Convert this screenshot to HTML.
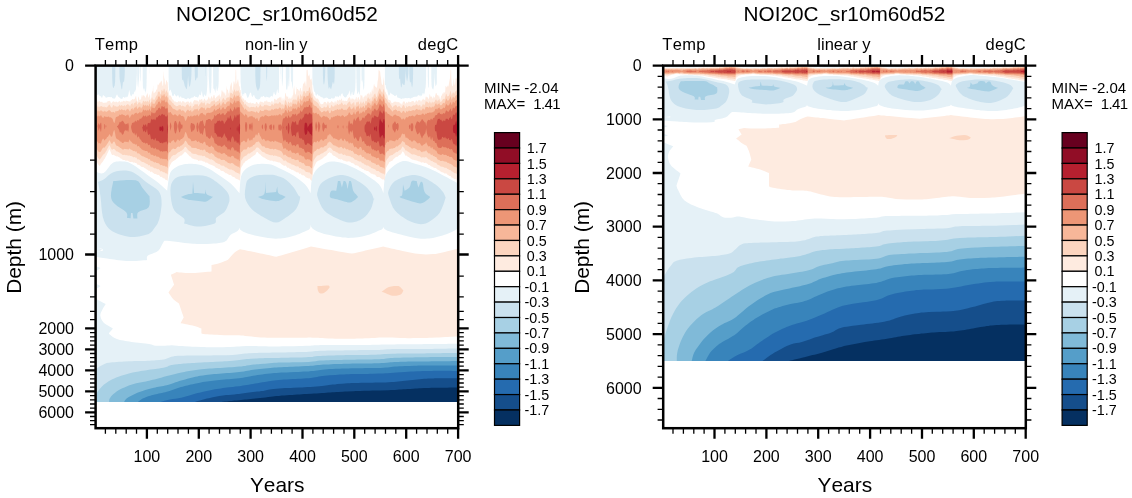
<!DOCTYPE html>
<html><head><meta charset="utf-8"><title>NOI20C_sr10m60d52</title>
<style>html,body{margin:0;padding:0;background:#fff}svg{display:block}text{font-family:"Liberation Sans",sans-serif;fill:#000;font-kerning:none}</style></head><body>
<svg width="1132" height="498" viewBox="0 0 1132 498">
<rect width="1132" height="498" fill="#fff"/>
<defs><clipPath id="cl"><rect x="95.6" y="65.6" width="362.6" height="336.3"/></clipPath><clipPath id="cr"><rect x="663.2" y="65.6" width="362.6" height="295.3"/></clipPath></defs>
<g clip-path="url(#cl)" shape-rendering="geometricPrecision">
<path fill-rule="evenodd" fill="#feebe0" d="M163.6 70l0 1.1 .1 .5 0 1.5 .1 .5 0 1 .1 .5 0 .5 .1 .5 0 1 .3 1.5 .2 .5 .1 .4 0 .6 .1 .5 0 1 .1 .5 0 .5 .1 .5 0 .5 .1 .5 0 .5 .1 .5 0 .3 .1-.3 .4-1 0-.1 .1-.4 .1-.5 0-.5 .3-1.5 0-.3 .2-.2 .2-.5 .1-.1 0 .1 .1 .5 .2 .5 .2 1 .5 .1 0 .4 .1 .5 0 1 .1 .5 0 1 .1 .5 0 1 .1 .5 0 .5 .1 .5 0 .5 .1 .5 0 .5 .4 2 0 .2 .1 .3 .4 2 .4 1 .1 .4 .3-.4 .2-.2 .5 .2 .2 .5 .3 .5 .4 .5 .1 .2 .1 .3 .2 .5 .1 .5 .1 .1 .2 .4 .2 .5 .1 .2 .3-.2 .2-.1 0 .1 .3 .5 .2 .5 .3 .5 .2 .4 .5-.1 .4 .2 .6 0 .5 .4 .3 .1 .2 .1 .5 .2 .5-.3 .1 0 .4-.1 .2-.4 .2-.5 .1-.2 .4 .2 .1 .1 .3 .4 .2 .3 .2-.3 .3-.5 0-.1 .1 .1 .4 .3 .1 .2 .4 1 0 .1 .5 0 0-.1 .3-.5 .2-.4 .1-.1 .4-.5 .5 .1 .5 .2 .5 .1 .1 .1 .2 .5 .2 .4 .1 .1 .4 .5 .3-.5 .2-.2 .5-.3 .5-.4 .5 .1 .4-.2 .1-.1 .5 .1 .5 0 .3 .5 .2 .3 .1 .2 .2 .5 .2 .3 .1-.3 .2-.5 .2-.3 .2-.2 .3-.4 .1-.1 .4-.3 .1 .3 .2 .5 .1 .5 .1 .3 .1 .2 .2 1 .2 .5 .1-.5 .4-1 0-.1 .2-.4 .2-.5 .1-.1 .3-.4 .2-.5 .5-.5 .4-.5 .1-.2 .5 .2 .5 .5 .1 0 .4-.2 .5 .1 .5 0 .3 .1 .2 .1 .3 .4 .2 .3 .2 .2 .3 .5 .1-.5 .2-.5 .1-.5 .1-.3 .1-.2 .2-.5 .2-.4 .2 .4 .2 .5 .1 .2 .2-.2 .3-.4 .1-.1 .3-.5 .1-.2 .5 .5 .3-.3 .2-.3 .1 .3 .2 1 .2 .5 .3 .5 .2 .2 .1-.2 .2-.5 .2-.4 0-.1 .3-.5 .1-.5 .1-.1 .5-.4 .3 .5 .2 .5 .3 .5 .2 .4 .1 .1 .3 .5 .1 .1 .1-.1 .2-.5 .2-.3 .1-.2 .4-1 .4 1 .1 .2 .1-.2 .3-1.5 .1-.4 0-.1 .4-1 .1-.5 .5 .3 0 .2 .2 .5 .1 .5 .2 .4 0 .1 .4 1 .1 .3 .1-.3 .1-.5 .2-.5 .1-.5 0-.1 .3-.4 .2-.4 .1-.1 .4-1 .5 .3 0 .2 .4 2 .1 .2 .1-.2 .2-.5 .2-1 0-.1 .1-.4 .2-.5 .2-1 .5-.1 .1 .1 .3 .5 .1 .2 .1 .3 0 .5 .2 1 .2 .5 0 .1 .5 .2 .2-.3 .3-.5 .4-.5 .6-.6 .5-.3 .1-.1 .2-.5 .2-.4 .5 0 .1 .4 .1 .5 .3 .5 .4-2 0-.5 .1-.4 .1 .4 .1 .5 .2 .5 .5 2.5 .1 .2 .1-.2 .5-2.5 0-.5 .2-1 0-.5 .1-.5 0-1 .1-.5 0-.3 .1-.2 .3-.5 .1-.2 0 .2 .1 .5 .2 .5 .1 .5 .1 .3 .5-.5 .1 .2 .2 .5 .2 .4 0 .1 .2 .5 .2 1 .1 .4 .1-.4 .2-.5 .2-1 .5 0 .1 .5 0 1 .4 2 0 .1 0-.1 .4-1 .1-.2 .1-.3 0-.5 .1-.5 0-1.5 .1-.5 0-3 .1-.5 0-1.5 .1-.5 0-.4 0 .4 .1 .5 0 .5 .1 .5 0 .5 .1 .5 0 .5 .2 1 0 .1 0-.1 .3-.5 .2-.4 .1 .4 .4 1 0 .5 .2 1 0 .5 .2 .5 .1 .5 .5-.2 .1-.3 .2-1 0-.5 .2-1 0-.5 .3-1.5 0-.5 .2-1 0-.5 .4-1 .1-.4 0-.1 .1-.5 .2-.5 .1-.5 0-.5 .1-.3 .4-.2 .1 0 0 .5 .1 .5 0 .5 .1 .5 0 .5 .2 1 0 .5 .1 .3 0 .7 .1 .5 0 1 .2 1 0 .5 .2 .5 0 .1 0-.1 .4-2 0-1 .1-.5 0-.1 .1-.4 0-.5 .1-.5 0-.5 .1-.5 0-.5 .1-.5 0-1.5 .1-.5 0-.5 .5-.3 .1 .3 .1 .5 .2 .5 .1 .3 0 .2 .2 1 .2 .5 .1 .5 0 .1 0-.1 .1-.5 0-.5 .1-.5 0-1.5 .1-.5 0-5 .1-.5 0-4 .1-.5 0-1.6 .5 0 0 1.1 .1 .5 0 3.5 .1 .5 0 5.5 .1 .5 0 1 .1 .5 0 .5 .1 .5 0 .2 .1-.2 .1-.5 .2-.5 .1-.5 0-.2 .1-.3 .4-2 0-.1 .2-.4 .3-.5 0 .5 .2 1 0 .5 .3 1.5 0 .5 .1 .5 0 .5 .2 1 0 .5 .2 1 0 .1 .1-.1 .3-.5 .1-.2 0 .2 .1 .5 0 .5 .1 .5 0 .5 .2 1 0 .5 .1 .4 .5 0 0 .1 .1 .5 0 .5 .4 2 0 .5 .2 1 0 .5 .2 .5 .1 .4 .1 .1 .2 .5 .2 .3 .1 .2 .1 .5 .2 .5 .1 .4 .1 .1 .3 .5 .1 .1 .1-.1 .4-1 0-.1 0 .1 .4 1 .1 .3 .1 .2 .1 .5 .2 .5 .1 .2 .5-.5 .4-.2 .1 0 .4 1 .1 .4 .2 .1 .3 .3 .5-.1 .2 .3 .3 .4 .1 .1 .4 .5 .5 0 .5-.5 .5 .5 .5 .3 .1-.3 .2-.5 .2-.4 .5 .5 .1 .4 .3 .5 .1 .2 .5-.2 .4-.5 .1-.1 .5-.1 .5 .5 .3 .2 .2 .1 .5 0 .5 .3 .5-.5 .2-.4 .1-.5 .2-.3 .2-.2 .3-.2 .3 .2 .2 .1 .2 .4 .2 .5 .1 .3 .5 0 .1 .2 .2 .5 .2 .3 .2-.3 .3-.3 .1-.2 .1-.5 .2-.5 .1-.3 .2-.2 .3-.4 .2-.1 .3-.2 .2 .2 .3 .4 .5-.3 .5 .1 .4 .3 .1 .1 1 .8 .1-.4 .3-.5 .1-.3 1-1 .2 .3 .3 .4 .2 .1 .3 .2 .1-.2 .1-.5 .2-.5 .1-.3 .5 .3 .4 1 .1 .3 .5 .2 .5-.3 .5 .1 .5-.2 .5 .3 0 .1 .4 .5 .1 .1 .5-.5 0-.1 .4-1 .1-.2 .5-.5 .1 .2 .4 1 0 .1 .1 .4 .4 1 .3-.5 .2-.5 0-.1 .1-.4 .3-1.5 0-.5 .1-.4 .1-.1 .4-.3 .4 .3 .1 .1 .5 .2 .1 .2 .4 .4 .2 .1 .3 .1 0-.1 .4-1 .1-.5 .5 .1 .5-.5 .5 .1 .1-.2 .3-.5 .1-.3 .5-.2 .1 .5 .4 1 .2-.5 .1-.5 .2-.5 0-.2 .4-.3 .1-.1 0 .1 .5 2.5 0 .5 .3 1.5 .2 .5 .4-2 0-.5 .1-.4 .1-.1 .2-.5 .1-.5 .1-.2 0 .2 .4 2 .1 .4 0 .1 .3 .5 .2 .3 .1-.3 .3-1.5 .1-.2 0-.3 .2-1 0-.5 .1-.5 0-.5 .1-.5 0-1 .1-.5 0-.5 .3-.5 .2-.4 .1 .4 0 .5 .3 1.5 .1 .3 .1 .2 .2 .5 .2 .3 .1 .2 .3 .5 .1 .1 .1-.1 .3-.5 .1-.2 .5-.2 0 .4 .2 1 0 .5 .2 .5 .1 .4 .5 0 .2-.4 .3-1.5 .3 1.5 .2 .4 .5-.4 .1-.5 .2-.5 0-.5 .2-1 0-.2 0 .2 .5 2.5 .5-.3 0-.2 .5-2.5 0-.3 .4-.2 .1-.1 .1-.4 0-.5 .2-1 0-1 .1-.5 0-1 .1-.5 0-.6 .1-.4 0-.5 .2-1 0-.5 .1-.5 0-.5 .1-.5 0-.4 0 .4 .1 .5 0 1 .1 .5 0 .5 .1 .5 0 .5 .1 .5 0 .5 .1 .5 0 .5 .1 .5 0 .5 .2 1 0 .5 .1 .5 .1 .4 .2 .1 .3 .1 0-.1 .2-.5 .2-1 0-.5 .1-.4 0-.1 .2-1 0-.5 .1-.5 0-1 .1-.5 0-1 .1-.5 0-.8 0 .3 .3 1.5 0 .5 .1 .5 .1 .2 .2-.2 .3-.2 .3 .2 .2 .1 .1 .4 .4 1 0 .1 .2-.1 .3-.3 .1 .3 .4 1 .1-.5 0-.5 .3-1.5 0-.5 .1-.4 .1-.1 .4-.2 0 .2 .2 .5 .2 1 .1 .3 .1 .2 .1 .5 .2 .5 .1 .3 .1 .2 .4 .4 .1-.4 0-.5 .2-1 0-1 .1-.5 0-.5 .1-.5 0-.5 .3-1.5 0-.5 .2-1 0-.3 .3-.2 .2-.1 .5-.1 .1-.3 .3-.5 .1-.4 0-.1 .4-1 .1-.5 0-.1 0 .1 .1 .5 0 .5 .2 1 0 .5 .2 1 0 .1 .1 .4 0 .5 .2 1 .2 .5 0 .1 0-.1 .1-.5 0-1 .1-.5 0-2.5 .1-.5 0-6.5 .1-.5 0-3 .1-.5 0-1.1 .5 0 .5-.2 0 .8 .1 .5 0 .5 .1 .5 0 1 .1 .5 0 .5 .1 .5 0 .5 .1 .5 .3 .5 .2 .3 .1-.3 .4-2 0-.1 0 .1 .1 .5 .2 .5 .1 .5 .1 .3 0 .2 .2 1 0 .5 .2 1 0 .5 .1 .4 .2 .1 .3 .3 .1-.3 .2-.5 .1-.5 .1-.3 .1 .3 .4 1 0 .5 .2 1 0 .5 .3 1.5 0 1 .1 .5 0 1.5 .1 .5 0 1.5 .1 .5 0 1 .1 .5 0 .5 .1 .5 0 .3 .1 .2 .2 .5 .2 .4 0 .1 .2 1 .2 .5 .1 .5 .4 1 .1 .3 .2 .2 .3 .4 .2 .1 .3 .2 .1 .3 .4 1 .5 .5 .5 .2 .2-.2 .3-.4 .3 .4 .2 .2 .4 .3 .1 .1 .3 .4 .2 .2 .1 .3 .4 1 0 .1 .2 .4 .2 .5 .5 .5 .1 .2 .1 .3 .2 .5 .2 .3 .4 .2 .1 .1 .5 .1 .5 0 .5-.2 .5 0 .4-1 .1-.3 .1-.2 .9-.9 .5 .5 .2-.1 .3-.1 .1 .1 .3 .5 .1 .1 .1 .4 .2 .5 .2 .3 .1-.3 .2-.5 .1-.5 .1-.2 .2-.3 .2-.5 .1-.1 .5-.3 .2 .4 .6 1 .1 .5 .1 .2 .5-.5 .3-.2 .2-.1 .5-.1 .2-.3 .3-.4 .1-.1 .3-.5 .1-.2 .5 .5 .1 .2 .4 .5 .2 0 .3-.1 0 .1 .4 .5 .1 .2 .2 .3 .3 .4 .1-.4 .2-.5 .1-.5 .1-.3 .1-.2 .4-1 .4 1 .1 .3 .1 .2 .1 .5 .2 .5 .1 .2 .1-.2 .1-.5 .2-.5 .1-.4 0-.1 .4-1 .1-.4 .4-.1 .1 0 .5 .5 0 .1 .5 .1 .2-.2 .3-.4 .1-.1 .3-.5 .1-.1 .1 .1 .4 .5 0 .1 .5 .1 .1-.2 .2-.5 .1-.5 .1-.2 .2-.3 .3-.4 .1 .4 .1 .5 .2 .5 .1 .2 .1 .3 .4 1 0 .1 .2-.1 .3-.1 .3-.4 .2-.4 .5 .4 .2 .5 .3 .4 .2-.4 .3-.5 .5 .2 .5 .5 .3-.2 .2-.1 .5-.1 .2-.3 .2-.5 .1-.3 .1-.2 .2-.5 .2-.4 .1-.1 .3-.5 .1-.1 .5-.2 .1-.2 .3-.5 .1-.3 .1 .3 .2 .5 .2 .4 0 .1 .4 1 .1 .5 .5 .5 .4-1 .1-.2 .1-.3 .2-.5 .2-.4 .1 .4 .2 .5 .2 .4 0 .1 .3 .5 .2 .3 .1-.3 .2-.5 .2-.4 .5 .1 .1 .3 .2 .5 .1 .5 .1 .3 .3-.3 .2-.4 .1-.1 .4-.5 .4-2 .1-.3 .2 .3 .3 .3 0 .2 .1 .5 0 .5 .1 .5 0 .5 .1 .5 .2 .5 0 .1 0-.1 .2-.5 .3-1.5 0-.2 .1-.3 .3-.5 .1-.4 .4-.1 .1-.1 0 .1 .2 .5 .1 .5 .2 .5 0 .1 .1 .4 .4 1 .4-.5 .1-.2 .1-.3 0-.5 .2-1 0-.5 .1-.5 0-1 .1-.5 0-.4 .5 .3 0 .1 .3 .5 .2 .3 .3-.3 .2-.3 .1 .3 .3 1.5 .1 .2 0 .3 .2 1 .2 .5 .1 .3 .1-.3 .1-.5 .2-.5 0-.5 .1-.5 0-.1 .4 .1 .1 0 .4-.5 .1-.1 .1-.4 .2-.5 .1-.5 .1-.4 .1 .4 .3 .5 .1 .1 .1 .4 .2 .5 .2 .4 .1-.4 .2-.5 .2-1 0-.3 .5-.5 .4-.2 .1-.1 .2-.4 .1-.5 .2-.5 .3 .5 .2 .3 .1 .2 .1 .5 .2 .5 .1 .3 .2-.3 .3-.5 0-.1 .1-.4 .4-2 0-.1 0 .1 .3 .5 .2 .4 0 .1 .4 2 .1 .2 0-.2 .4-2 0-.5 .2-1 0-.5 .2-1 0-.5 .2-1 0-.2 0 .2 .5 2.5 0 .1 .1 .4 .4 1 0 .1 0-.1 .1-.5 0-.5 .1-.5 0-.5 .1-.5 0-.5 .1-.5 0-1.5 .1-.5 0-.5 .4-2 .1-.4 .1 .4 .3 1.5 .1 .3 .2 .2 .3 .2 .2 .3 .3 .5 .5 .5 .1 0 .4 .3 .1-.3 .4-1 .1-.5 0-.5 .1-.5 0-.5 .1-.5 0-.5 .1-.5 0-1 .1-.5 0-.2 .1-.3 .3-1.5 .1-.4 0-.6 .1-.5 0-.5 .1-.5 0-1 .1-.5 0-1.5 .1-.5 0-2 .1-.5 0-1.1 .5 0 0 .1 .2 .5 .3 .5 0 .1 .5 .3 0 .1 .1 .5 0 .5 .1 .5 0 .5 .1 .5 0 .5 .1 .5 0 .5 .4 2 0 .5 .1 .5 .1 .4 0 .1 .1 .5 0 .5 .1 .5 0 .5 .1 .5 0 .5 .2 1 0 .1 .1 .4 .1 .5 .2 .5 .1 .3 .4 .2 .1 .1 0-.1 .2-.5 .1-.5 .2-.4 0-.1 .1-.5 0-.5 .1-.5 0-.5 .1-.5 0-1 .1-.5 0-1.5 .1-.5 0-.8 0 .3 .1 .5 0 .5 .1 .5 0 .5 .2 1 0 .5 .1 .5 0 .5 .1 .5 0 1 .1 .5 0 1 .1 .5 0 .5 .1 .5 0 .5 .1 .5 0 .5 .1 .5 0 .5 .1 .5 0 .5 .2 1 0 .5 .1 .5 .4 .5 .1 .2 .1 .3 .2 .5 .1 .5 .1 .2 .2 .3 .3 .5 .5 .3 .1 .2 .2 1 .2 .5 .4 2 .1 .3 .1 .2 .2 .5 .2 .4 .3 .1 .3 0 .4-.2 .5 .2 .3 .5 .2 .3 .1 .2 .4 1 .3 .5 .2 .3 .3 .2 .2 .2 .5-.5 .5 .1 .2-.3 .3-.5 .5-.5 .1 0 .4 .3 .5-.3 .5 0 .3 .5 .2 .3 .3-.3 .2-.4 .5 0 .3 .4 .2 .2 .4 .3 .1 .1 0-.1 .4-.5 .1-.2 .5 0 .1 .2 .4 1 .4 .5 .1 .1 .5-.1 .5-.5 .1 .5 .4 1 .5 .1 0-.1 .2-.5 .2-1 .1-.3 .1-.2 .2-.5 .2-.4 .1-.1 .4-.2 .5-.2 .5 .5 .2 .4 .2 .5 .1 .4 .1 .1 .2 .5 .2 .3 .2-.3 .3-.5 .4-1 .1-.2 .2 .2 .3 .4 .1 .1 .4 .5 0 .1 0-.1 .3-.5 .2-.4 .1-.1 .3-.5 .1-.1 .5-.1 .1 .2 .3 .5 .1 .1 .5 0 .3-.1 .2-.1 .5 0 .3-.4 .2-.3 .5-.1 .4-.1 .1 0 .5-.2 .4 .2 .1 0 .4 1 .6 .6 .2-.1 .3-.1 .2-.4 .2-.5 .1-.3 .1-.2 .4-.5 .5-.2 .1 .2 .3 .5 .1 .2 .2 .3 .3 .5 .4-1 .1-.4 .1-.1 .4-.5 .4 .5 .1 .1 .1-.1 .3-.5 .1-.1 .5-.3 .1 .4 .2 .5 .1 .5 .1 .2 .2 .3 .3 .4 .1-.4 .4-1 0-.1 .5-.4 .5-.5 .4-1 .1-.2 .1 .2 .2 .5 .2 .4 .2 .1 .3 .2 .5-.1 .5 .2 .1-.3 .3-1.5 0-.5 .1-.4 .1-.1 .2-.5 .2-.3 .1 .3 .3 .5 .1 .3 .5-.3 .5 .5 .1 0 .4 .3 0 .2 .2 .5 .1 .5 .2 .5 0 .1 0-.1 .4-1 .3-1.5 0-.5 .1-.5 0-.5 .1-.5 0-.5 .1-.5 0-.4 .1 .4 .4 1 .2 1 .2 .5 .1 .5 0 .1 .1-.1 .3-.5 .1-.2 .5 .2 .4 .5 .1 .2 .1 .3 .4 1 0 .1 .3-.1 .2-.1 .1-.4 .4-2 0-.2 .1 .2 .2 .5 .2 .4 0 .1 .2 .5 .3 .5 .1-.5 .2-.5 .2-1 0-.1 .1-.4 .2-.5 .2-1 0-.2 .1-.3 .3-.5 .1-.3 .2 .3 .3 .5 .2 .5 .1 .5 .2 .4 0 .1 .5 .5 .3-.5 .2-.4 .1 .4 .4 2 .1-.5 .2-.5 .1-.5 .1-.3 .1 .3 0 .5 .2 1 .2 .5 .5 2.5 .4-1 0-.5 .1-.3 .1-.2 .4-2 0-.2 .5-.1 .1-.2 .2-.5 .2-.3 .1-.2 .2-1 .2-.5 0-.1 0 .1 .4 1 .1 .1 .1-.1 .1-.5 .2-.5 .1-.5 .3-.5 .2-.4 .1 .4 .2 .5 .1 .5 .1 .1 .1-.1 .4-1 .1-.5 0-.5 .1-.5 0-.5 .1-.5 0-1.5 .1-.5 0-1 .1-.5 0-.3 .5 .5 .1 .3 .4 1 .4-.5 .1-.2 .1-.3 .1-.5 .2-.5 .1-.5 .2 1 .2 .5 .1 .3 .1-.3 .4-1 .3-1.5 0-.5 .2-1 0-.1 .1-.4 .3-1.5 .1-.2 0-.3 .5-2.5 0-.5 .1-.5 0-1 .1-.5 0-.5 .1-.5 0-1 .1-.5 0-1.5 .1-.5 0-.6 .5 0 0 1.1 .1 .5 0 3.5 .1 .5 0 2.5 .1 .5 0 1.5 .1 .5 0 1.5 .1 .5 0 .5 .2 1 0 .5 .2 1 .1 .2 .1 .3 .4 .5 .2-.5 .1-.5 .2-.5 .1-.5 0-.5 .1-.5 0-.5 .1-.5 0-1 .1-.5 0-1.5 .1-.5 0-1 .2 1 0 .5 .2 1 .1 .3 0 .7 .1 .5 0 .5 .1 .5 0 .5 .1 .5 0 .5 .2 1 0 .1 0-.1 .2-1 .2-.5 .1-.5 0-.5 .2-1 0-.5 .1-.5 0-1 .1-.5 0-1 .1-.5 0-.4 .1 .4 .1 .5 .2 .5 .1 .4 .1-.4 .3-1.5 .1-.3 .1 .3 .3 1.5 .1 .2 .1-.2 .2-.5 .2-.4 0-.1 .4-1 .1-.4 0 103.4-.5-.1-2-.8-.3-.1-.4 0-.3 .1-.2-.1-.3-.1-1-1-.5-.2-.5 0-.5-.2-.4-.5-.1-.2-.2-.3-.3-.5 0-.1-.5-.1-.5 0-.5-.2-.2-.1-.3-.1-.5-.4-.5-.3-.4-.2-.1-.1-.3-.4-.2-.3-.5-.5-.5 .2-1 0-.5-.3-.5-.5-.2-.1-.3-.2-1-.2-.5 0-.1-.1-.4-.3-.4-.2-.1 0-.5-.3-.2-.2-.3-.5-.5-.4-.5 0-.5-.5-.5-.1-.1 0-.4-.1-.3-.4-.2-.3-.1-.2-.4-.4-.2-.1-.3-.1-1 0-.5-.3-.3-.1-.2-.1-.5 0-.4-.4-.1-.2-.4-.3-.1-.1-1 0-.5-.5-.3-.4-.2-.2-.4-.3-.1-.1-.4 .1-.1 0-.5-.2-.5-.5-.4-.3-.1-.1-.5-.4-.1 0-.4-.2-.2-.3-.3-.3-.5-.1-.5 .3-.5-.1-.5 0-.5-.3-.5-.4-.5 .1-.5 .2-.5-.1-.5 .2-.5-.4-.1-.1-.4-.5-.1 0-.4-.1-.5 0-.5-.2-.5-.1-.4-.1-.1 0-.5-.5-.5-.2-.5 0-.5-.1-.5 0-.5-.1-.2-.1-.3-.1-.5-.2-.5-.1-.5 0-.3-.1-.2 0-.5-.3-.5-.2-.5-.5-.5-.4-.1-.1-.4-.3-.3-.2-.2-.1-.5-.4-.5-.2-.5-.1-.1-.2-.4-.5-.5-.5-.1 0-.4 .2-.5-.1-.6-.6-.6-1.5-.6-1-.2-.3-1-1-.2 .3-.2 .5-.1 .2-.2 .3-.2 .5-.1 .2-.2 .3-.3 .4-.1 .1-.4 .5-.5 .3-.5 .1-.2 .1-.3 .2-.4 .3-1.1 1.1-.5 .1-.5-.1-.5 .4-.5 .2-.8 .8-.2 .1-1 .8 0 .1-.4 .5-.1 .2-.2 .3-.3 .4-.2 .1-.3 .3-.5 0-.3 .2-.2 .2-.5 .2-.2 .1-.3 .1-.5 .3-.1 .1-.4 .5-.4 1-.1 .1-.2 .4-.6 1-.2 .2-.2 .3-.6 1-.2 .4-.1 .1-.2 .5-.2 .3 0 .2-.1 .5 0 .5-.1 .5 0 .5-.1 .5 0 1.5-.1 .5 0 .5-.1 .5 0 .5-.1 .5 0 .5-.1 .5 0 .5-.1 .5 0 1-.1 .5 0 1-.1 .5 0 .5-.2 .5-.3 .4-.2-.4-.3-.5 0-.1-.3-.4-.2-.3-1 .2-.5-.2-.2-.2-.3-.2-.3-.3-.2-.1-1-.8-.1-.1-.4-.3-.5-.2-.5 0-.5-.2-1 0-.4-.3-.1 0-.5-.4 0-.1-.4-.5-.1-.1-.2-.4-.3-.4-.5-.1-.5-.2-.5-.1-.5 .1-1-1-.4 .2-.1 .1-.5 .1-.5-.5-.1-.2-.3-.5-.1-.2-.5-.1-.5-.2-.4-.5-.1-.1-.5-.4-.5-.1-.5 .1-.5 0-.5-.5-.5-.3-.5 .1-.5-.1-.3-.2-.2-.1-.2-.4-.3-.4-.1-.1-.4-.2-.5 0-.5-.2-.3-.1-.2-.1-.3-.4-.2-.4-.2-.1-.3-.2-.5 .2-.5-.1-.5-.5-.3-.4-.2-.3-.5-.5-.5 0-.4-.2-.1 0-.5-.4-.5 0-.5 .1-.5-.1-.6-.6-.2-.5-.2-.4-.2-.1-.3-.2-.5 .1-.5-.3-.1-.1-.4-.2-1-.2-.2-.1-.5-.5-.3-.5-.5-.2-.5 .1-.5-.2-.5 .1-1 0-.5 .1-.5 0-.5-.3-.5-.5-1 0-.5-.1-.5-.2-.3-.3-.2-.1-.5-.5-.5-.2-.5 0-.5 .1-.5 0-.5-.3-.5 0-.5-.2-1-1-.4-.3-.1-.1-1-.2-.7-.7-.3-.4-.5-.1-.5 0-.5-.4-.2-.1-.3-.2-.5-.3-.3-.5-.2-.2-.1-.3-.3-.5-.1-.2-.4-.3-.1-.1-.5-.1-.5-.5-.5-.3-.3 .5-.2 .2-.5 .2-.4 .1-.1 0-.3 .5-.2 .4-.1 .1-.3 .5-.1 .2-.2 .3-.3 .4-.3 .1-.2 .1-.5 .4-.5 .5 0 .1-.5-.1-.5 .3-.5 .5-.1 .2-.4 .5-.5 .3-.3 .2-.2 .1-.5 .4-.5 .3-.5 .2-.1 0-.4 .3-.2 .2-.3 .2-.5 .2-.5 0-.1 .1-.4 .3-.3 .2-.2 .2-.5 .2-.5 .5 0 .1-.4 .5-.1 .1-.2 .4-.2 .5-.1 .2-.2 .3-.2 .5-.1 .1-.2 .4-.2 .5-.1 .3-.1 .2-.3 .5-.1 .3-.1 .2-.3 .5-.1 .3 0 .2-.2 1 0 .5-.2 1 0 .5-.1 .4 0 .1-.1 .5 0 .5-.1 .5 0 1-.1 .5 0 .5-.1 .5 0 1-.1 .5 0 .5-.2 1 0 .5-.3 1.5 0 .1-.5 0-.3-.1-.2-.1-.3-.4-.2-.2-.2-.3-.3-.5-.4-.5-.1-.1-.5-.2-.5 .3-.5-.3-.5-.2-.5-.1-.5-.5-.5 0-.5-.3-.1-.1-.4-.5-1-1 0-.1-.5-.3-.5 .1-.5-.1-.5 0-.1-.1-.4-.2-.2-.3-.3-.3-.1-.2-.4-.5-.5 0-.5 .4-.5-.3 0-.1-.3-.5-.2-.3-.2-.2-.3-.4-.5 .1-.5 .2-.5 0-.3-.4-.2-.2-.4-.3-.1-.1-.5 0-.5-.3-.1-.1-.4-.5-.5-.2-1-.6-.5 .2-.5 0-.3-.4-.2-.3-.3-.2-.2-.1-.5 0-.5-.3-.1-.1-.4-.3-.2-.2-.3-.4-.4-.1-.1 0-.5 .3-.4-.3-.1-.1-.2-.4-.3-.4-.6-.6-.4-.5-.1 0-.4-.1-.2 .1-.3 .2-.5 .1-.5-.1-.1-.2-.4-.5-.5-.4-.5 0-.2-.1-1.3-1.3-.3-.2-.5-.5-.2-.1-1 0-.5-.2-.5 0-.3-.2-.2-.1-.5-.1-.4-.3-.1-.1-.5 0-.5 .1-.5-.4-.5 0-.5 .3-.5-.3-.2-.1-.3-.1-.4-.4-.7 0-.4 .2-.5 0-.4-.2-.1-.1-1-.2-.4-.2-.1 0-.5-.3-.5-.1-.1-.1-.4-.2-.5-.3-.5-.1-1-1-.5-.3-.2-.1-.3-.1-.5 0-.5-.5-.5-.3-.2-.1-.3-.2-.3-.3-.2-.1-.5-.5-.3-.4-.2-.4-.3-.1-.2-.1-.5-.3-.2-.1-.5-.5-.3-.2-.2-.3-.3-.4-.1-.1-.4-.5-.5-.2-.3 .2-.2 .2-.2 .3-.3 .5 0 .1-.2 .4-.3 .5 0 .1-.3 .4-.2 .3-.4 .2-.1 0-.5 .4-.3 .1-.2 .1-1 .8-.1 .1-.4 .2-1 .6-1 1-.4 .2-.1 .1-.5 .3-.2 .1-.3 .1-.5 .4-.4 .5-.1 .1-.5 .1-.5 .5-.5 .3-.5 0-.3 .5-.2 .3-.2 .2-.3 .5 0 .1-.5 .2-.3 .2-.2 .2-.1 .3-.2 .5-.2 .4-.1 .1-.2 .5-.2 .3-.2 .2-.3 .4-.1 .1-.2 .5-.2 .4-.1 .1-.2 .5-.2 .4 0 .1-.1 .5 0 .5-.1 .5 0 .5-.1 .5 0 1-.1 .5 0 1-.2 1 0 1-.1 .5 0 .5-.1 .5 0 1-.1 .5 0 .5-.1 .5 0 .5-.2 .5-.3 .5-.5-.3-.2-.2-.3-.4-.2-.1-.3-.1-.5-.1-.3-.3-.2-.1-.5-.3-.5 .2-.5-.3-.4-.5-.1-.1-.3-.4-.2-.3-.5-.1-.2-.1-.3-.1-.5-.2-.5-.1-1-1-.2-.1-.3-.3-.3-.2-.2-.2-.5-.1-.5 .3-.5-.1-.5-.5-.5-.3-.1-.1-.4-.2-.5-.3-.1 0-.4-.3-.5-.1-.5 0-.6-.6-.4-.3-.5-.2-.3-.5-.2-.2-.4-.3-.1-.1-.5 0-1-.2-.5 .1-.4-.3-.1-.1-.3-.4-.2-.4-.1-.1-.4-.5-1-.2-.5-.2-.1-.1-.4-.3-.5-.1-.2-.1-.3-.2-.5-.2-.5-.1-.4-.5-.1-.1-.3-.4-.2-.2-.4-.3-.1 0-.5-.3-.5 0-.4-.2-.1-.1-.5-.4-.5-.1-.5-.3-.5-.1-.5 .1-.1-.1-.4-.3-.5-.2-.5-.4-.1-.1-.4-.2-.5-.3-.5-.5-.5 0-.5 .2-.5 0-.7-.7-.3-.4-.2-.1-.3-.2-.5 .2-.5-.1-.5-.2-.5-.5-.5-.1-.4-.1-.6 0-.5 .2-.5-.2-.5 .1-.5 .2-.5-.2 0-.1-.4-.5-.1-.1-.5-.2-.5 0-.5-.2-.5 0-.5-.4-.5 0-.5 .1-.3-.2-.2-.1-.5-.4-.1 0-.4-.1-.4 .1-.1 0-.5-.5-.3-.5-.2-.5-.5-.4-.2-.1-.3-.2-.5-.2-.2-.1-.5-.5-.3-.4-.1-.1-.4-.5-.5-.4-.1-.1-.4-.5-1-1-.5-.4-.1-.1-.4-.3-.4 .3-.6 .6-.3 .4-.2 .3-.1 .2-.9 .9-.2 .1-.8 .8-.5 .2-.5 0-.5 .4-.5 .5-.5 .1-.5 .5-.4 .5-.1 .2-.5 .2-.1 .1-.4 .3-.3 .2-.7 .7-.4 .3-.1 .1-.5 .2-.3 .2-.2 .1-.5 .5-.5 .2-.4 .2-.5 .5-.1 .2-.5 .3-.5 .4-.1 .1-.2 .5-.2 .4 0 .1-.3 .5-.2 .4-.1 .1-.3 .5-.1 .2-.1 .3-.4 1-.3 .5-.2 .4 0 .1-.5 2.5 0 .5-.1 .5 0 .5-.1 .5 0 .5-.1 .5 0 1-.1 .5 0 .5-.1 .5 0 1-.1 .5 0 .5-.1 .5 0 .5-.1 .5 0 .5-.2 1 0 .2-.5-.1-.1-.1-.3-.5-.1-.1-.5-.3-.5 0-.4-.1-.1 0-.2-.5-.3-.5-.5-.4-.5 .1-.5-.1-.1-.1-.4-.2-.2-.3-.3-.5-.5-.3-.5 .3-.5 0-.5-.5-.3-.5-.2-.4-.2-.1-.3-.3-.3-.2-.2-.1-.5-.3-.5 .2-.5-.1-.2-.2-.3-.2-.5-.2-.4-.1-.1 0-.5-.1-.5 0-.5-.5-.5-.3-.2-.1-.3-.2-.5-.3-.3-.5-.2-.3-.5-.2-.5 .5-.5 .1-.1-.1-.4-.5 0-.1-.3-.4-.2-.4-.5-.1-.5 .2-.7-.7-.3-.4-.5 0-.2-.1-.3-.1-.3-.4-.2-.3-.3-.2-.2-.1-.5-.1-.5-.3-.1 0-.4-.3-.5-.5-.3-.2-.2-.1-.3 .1-.2 .1-.5-.1-.5-.3-.5 0-.2-.2-.3-.4-.1-.1-.4-.5-.5-.3-.5-.1-.1-.1-.4-.3-.5 0-.5-.1-.2-.1-.3-.3-.1-.2-.3-.5-.1-.1-.3-.4-.2-.3-.5 .2-.5-.1-.4-.3-.1-.1-.5 0-.5 .1-.5 .2-.2-.2-.3-.5-.5-.4-.5 .2-.5-.2-.5 .2-.4 .2-.1 .1-.1-.1-.4-.3-.3-.2-.2-.2-.5-.1-.5-.5-.5-.2-.5 .2-.5-.1-.2-.1-.3-.2-.3 .2-.2 .1-.5-.1-.4-.5-.1-.1-1 0-.5-.1-.5-.2-.1-.1-.4-.3-.4-.2-.6-.6-.5 0-.5-.4-.3-.5-.2-.2-.5-.1-.5-.2-.5-.3-.3-.2-.2-.1-.5-.3-.5 .3-.5-.3-.1-.1-.4-.3-.5 .1-.4-.3-.1 0-.5-.5-.5-.3-.5 0-.5 .1-.5 .2-.3-.5-.2-.4-.1-.1-.2-.5-.2-.4 0-.1-.4-1-.1-.2-.1-.3-.8-2-.1-.2-.5 .2-.4 1-.1 .2-.1 .3-.2 .5-.2 .4 0 .1-.3 .5-.2 .4 0 .1-.3 .5-.2 .5 0 .1-.2 .4-.2 .5-.1 .2-.2 .3-.6 1-.2 .4 0 .1-.3 .5-.2 .5 0 .1-.3 .4-.2 .4-.2 .1-.3 .3-.1 .2-.3 .5-.1 .3-.1 .2-.3 .5-.1 .1-.3 .4-.2 .3-.5 .5-.1 .2-.8 1-.1 .2-.2 .3-.3 .4 0 .1-.3 .5-.2 .5-.4 .5-.1 .2-.1-.2-.3-.5-.1-.3-.2-.2-.3-.4-.3-.1-.2-.1-.2-.4-.3-.5-.4-1-.1-.1-.3-.4-.2-.2-.2-.3-.3-.5 0-.1-.3-.4-.2-.4 0-62.8 0 .2 .5 2.5 0 .1 .1-.1 .4-.3 .5-.2 .4 2 .1 .2 .2 .3 .3 .5 0 .1 0-.1 .4-1 .1-.4 .5 0 .2-.1 .3-.2 .1 .2 .4 .4 0 .1 .4 .5 .1 .1 .2-.1 .3-.2 .5-.2 .5 .1 .2 .3 .3 .5 .5 .4 .5-.1 .2-.3 .3-.3 .2 .3 .3 .5 0 .1 .2-.1 .3-.1 .3-.4 .2-.2 .5 .1 .3 .1 .2 .1 .1-.1 .4-.5 .3-.5 .2-.3 1.5-.3 .5-.3 .5 .4 .4 1 .1 .2 .2 .3 .1 .5 .2 .4 .5-.5 .2-.4 .3-.4 .5-.5 .2-.1 .3-.2 .5-.1 .5 .1 .5 .5 .1 .2 .4 .5 0 .1 0-.1 .3-.5 .2-.3 .3-.2 .2-.2 .2 .2 .3 .2 1 .6 .5-.1 .2-.2 .3-.5 .5-.3 .5-.5 .1 .3 .2 .5 .2 .4 0 .1 .4 .5 .1 .1 0-.1 .4-1 .1-.2 .4 .2 .1 .1 .5 .2 .5-.3 .4-.5 .1-.2 .5-.1 1 .2 0 .1 .4 1 .1 .2 .1-.2 .4-1 .4-.5 .1-.2 .2 .2 .3 .4 .2 .1 .3 .2 .3-.2 .2-.1 .4 .1 .1 0 .5 .3 .5-.1 .5 .2 .5 .5 .2-.4 .1-.5 .2-.4 .1-.1 .3-.5 .1-.1 .1 .1 .4 .3 .1-.3 .4-1 .1 0 .4-.2 .1 .2 .2 .5 .2 .3 .2-.3 .3-.5 .5 .5 .3-.5 .2-.2 .2-.3 .3-.5 0-.1 .2-.4 .1-.5 .2-.5 .4-.5 .1-.1 0 .1 .1 .5 0 .5 .1 .5 0 .5 .1 .5 .2 .5 0 .2 .1 .3 .4 2 0 .1 .5 .1 0-.2 .2-.5 0-.5 .1-.5 0-.5 .1-.5 0-.5 .1-.5 0-.2 .1-.3 .2-.5 .1-.5 .1-.4 .1 .4 .1 .5 .2 .5 .1 .3 0 .2 .1 .5 0 .5 .1 .5 .2 .5 .1 .2 .1-.2 .3-.5 .1-.3 .3 .3 .2 .3 .2-.3 .3-.5 .1-.5 0-.5 .2-1 0-.5 .1-.5 0-.5 .1-.5 0-.7 0 .2 .2 1 0 .5 .2 1 .1 .2 .1-.2 .1-.5 .2-.5 .1-.5 .3-.5 .2-.2 .2 .2 .3 .4 0 .1 .2 .5 .3 .5 0 .1 .1-.1 .4-1 0-.1 0 .1 .4 1 .1 .3 0 .2 .2 .5 .3 .4 .2-.4 .3-1.5 .3-.5 .6-1.5 .1-.3 .1-.2 .4-.4 .1 .4 0 .5 .3 1.5 .1 .3 0 .2 .2 1 .2 .5 .1 .5 .1-.5 .4-1 0-.1 .1-.4 .4-2 0-.2 .1 .2 .1 .5 .2 .5 .2 1 0 1 .1 .5 0 .5 .3 1.5 0 .1 .1-.1 .4-.5 .1-.5 0-.5 .1-.5 0-.5 .1-.5 0-1 .1-.5 0-.5 .6-3 0-.3 .4 .3 .1 .1 0-.1 .1-.5 0-.5 .1-.5 0-.5 .1-.5 0-1 .1-.5 0-1.5 .1-.5 0-.5 0 .5 .1 .5 0 2 .1 .5 0 2 .1 .5 0 .5 .1 .5 0 .5 .1 .5 0 .1 .5 0 .1-.1 .4-.3 .1-.2 .2-.5 .2-.3 .5 .3 .1-.5 .2-.5 .2-1 0-.1 .3-.4 .2-.2 .3 .2 .2 .1 0-.1 .2-1 0-.5 .1-.5 0-.5 .1-.5 0-1 .1-.5 0-.1 .2-.4 .2-.5 .1-.2 0 .2 .2 .5 .1 .5 .2 .5 .4-1 .1-.4 .1-.1 .1-.5 .2-.5 .1-.5 .4 .5 .1 .2 .1-.2 .1-.5 .2-.5 .1-.5 0-.1 .5-.1 .1-.3 .3-.5 .1-.3 0 .3 .3 1.5 .2 .5 0 .5 .1 .5 0 .5 .4 2 0 .2 .1-.2 .3-.5 .1-.2 0-.3 .1-.5 0-1 .1-.5 0-1 .1-.5 0-5 .1-.5 0-4 .1-.5 0-1.5z"/>
<path fill-rule="evenodd" fill="#fcd5bf" d="M309.1 87.5l.5-.4 .1 .5 .2 .5 .1 .5 0 .5 .1 .3 .1 .2 .3 1.5 0 .5 .1 .3 .1 .2 .2 .5 .1 .5 0 .5 .1 .2 .5-.1 0-.1 .4-1 .1-.2 0 .2 .2 1 0 .5 .1 .5 0 .5 .1 .5 0 1 .1 .5 0 .2 .1 .3 .2 .5 .2 .3 .1 .2 .4 1 0 .1 .5 .4 .4 .5 .1 .1 .5 0 .5 .5 .5 .2 .5 .5 .4 .2 .1 0 .3 .5 .2 .3 .3 .2 .2 .1 .5 .5 .1 .4 .4 1 0 .1 .2 .4 .2 .5 .1 .2 .5 .1 .5 .5 .1 .2 .3 .5 .1 .2 .5 .5 .5-.2 .6 0 .4 .1 .1-.1 .4-1 .5-.5 .5 .1 .2 .4 .2 .5 .1 .4 .2-.4 .3-.4 .4-.1 .1 0 .5 .5 .4-1 .1-.2 .1-.3 .2-.5 .1-.5 .1-.3 .5-.5 .1 .3 .2 1 .2 .5 0 .1 .1 .4 .1 .5 .2 .5 .1 .5 .6 0 .4 .2 .1-.2 .4-.5 0-.1 .1-.4 .2-.5 .1-.5 .1-.4 .1-.1 .2-.5 .2-.3 .2 .3 .2 .5 .1 .1 .2 .4 .3 .5 .5-.2 .5 .2 .5 0 .3-.5 .2-.5 0-.1 .2-.4 .2-.5 .1-.1 .1 .1 .3 .5 .1 .2 .2 .3 .3 .3 .2-.3 .2-.5 .1-.3 .1-.2 .3-.5 .1-.1 .5 .1 .4 .5 .1 .2 .5 .3 .5-.4 .1-.1 .4-.5 0-.1 .1 .1 .4 .3 .4-.3 .1-.1 .2-.4 .3-.5 0-.1 .3-.4 .2-.2 .3 .2 .2 .2 .1 .3 .3 .5 .1 .2 .2 .3 .2 .5 .1 .1 .5 .3 .5-.2 1-1 .1 .3 .2 .5 .2 .3 .1 .2 .4 .5 .4-.5 .1-.1 .2-.4 .2-.5 .1-.2 .4-.3 .1-.1 .3-.4 .2-.3 .1-.2 .4-.4 .5-.1 .3-.5 .2-.2 .4 .2 .1 .1 .1 .4 .2 .5 .2 1 .3 .5 .2 .5 0 .1 .2-.1 .3-.2 .1-.3 .3-.5 .1-.3 1 .2 .2-.4 .1-.5 .2-.4 .3-.1 .2-.1 0 .1 .4 2 0 .5 .1 .5 0 .1 .3 .4 .2 .5 0 .1 0-.1 .2-.5 .3-.5 .2-1 .2-.5 .1-.4 0-.1 .2-.5 .3-.5 0-.1 0 .1 .5 .4 .5-.2 .1-.2 .2-.5 .2-.3 .5 .5 .1 .3 .2 .5 .2 1 .3 .5 .2 .5 0 .1 .1-.1 .1-.5 .3-.5 .2-1 .2-.5 .1-.5 .5 0 .2 .5 .3 1.5 0 .2 .5-.2 .3-.5 .2-.2 .1-.3 .2-.5 .2-.3 .4-.2 .1-.1 0 .1 .2 .5 .3 1.5 0 .1 .5 .1 .1-.2 .1-.5 .3-.5 .2-1 .2-.5 .1-.3 .5 .2 .1 .1 .3 .5 .1 .2 .1-.2 .2-1 .2-.5 .2-1 .2-.5 .1-.3 .1-.2 .2-.5 .2-.3 .3 .3 .2 .1 .1 .4 .1 .5 .2 .5 .1 .5 0 .1 0-.1 .3-.5 .2-.2 .2-.3 .2-.5 .1-.1 0 .1 .2 .5 .2 1 0 .5 .1 .5 .3 .5 .2 .4 .1-.4 .2-1 .2-.5 0-.1 .1-.4 0-.5 .1-.5 0-.5 .1-.5 .2-.5 0-.1 .1 .1 .2 .5 .2 .3 .2 .2 .3 .5 .4-2 .1-.4 0-.1 .2-.5 .3-.5 0-.1 .5-.4 .3-.5 .2-.3 .1 .3 .2 .5 .2 1 .2 .5 .1 .5 .2 .5 0 .1 .5 .3 .3-.4 .2-.2 .1-.3 .1-.5 0-.5 .2-.5 .1-.4 0-.1 .2-1 .2-.5 .1-.3 .1-.2 .1-.5 .3-.5 .2-1 .3-.5 .1-.5 .3-.5 .1-.2 .3 .2 .2 0 .4 1 .1 .3 .1 .2 .2 .5 .2 .3 .1 .2 .4 1 .4 .5 .1 .1 .2-.1 .3-.1 .1-.4 .3-1.5 .1-.2 .1-.3 .1-.5 .2-.5 .1-.4 .1 .4 .3 1.5 .1 .4 0 .1 .3 1.5 0 .5 .1 .5 0 .5 .1 .5 0 .1 .1 .4 .3 1.5 0 .5 .1 .5 .5 .3 .1 .2 .8 1 .6 .6 .2 .4 .3 .5 0 .1 .1 .4 .3 .5 .1 .3 .1 .2 .4 .5 .5-.2 .5 .2 .2 .5 .3 .5 .2 .5 .6 1 .2 .3 .3 .2 .2 .1 .1 .4 .2 .5 .1 .5 .1 .2 .5 .1 .5-.5 .2-.3 .2-.5 .1-.2 .5-.3 .5 .2 .3-.2 .2-.1 .3-.4 .2-.3 .2 .3 .3 .3 .5-.1 .1 .3 .2 .5 .2 .4 0 .1 .3 .5 .2 .3 .2-.3 .5-.5 .3-.4 .5-.1 .5 .2 .2 .3 .3 .4 .1 .1 .3 .5 .1 .1 .5 .3 .3 .1 .2 0 .3-.5 .2-.5 0-.1 .3-.4 .1-.5 .1-.2 .3-.3 .2-.3 .3-.2 .2-.2 .5 .5 .1 .2 .2 .5 .2 .4 0 .1 .2 .5 .1 .5 .2 .5 .5 .2 .1-.2 .4-.5 .1-.5 .2-.5 .2-1 .3 .5 .2 .3 .1 .2 .2 .5 .2 .4 .3-.4 .2-.3 .1-.2 .3-.5 .1-.1 .4 .1 .1 0 1 .2 1 .6 .5-.5 .4-.3 .1 0 .5-.3 .5-.2 .5-.4 .5 .3 .5 0 .4 .1 .1 0 .4-.5 .1-.2 .5-.3 .1 0 .4-.3 .5 0 .1 .3 .2 .5 .2 .4 .5 0 .5-.1 .4 .2 .1 0 .3-.5 .2-.3 .5 .1 .1 .2 .1 .5 .2 .5 .1 .5 .3 .5 .2 .3 .1-.3 .2-.5 .2-.4 .4-.1 .1 0 .1-.5 .2-.5 .2-.4 0-.1 .3-.5 .2-.4 .2 .4 .2 .5 .1 .1 .3 .4 .2 .5 .3-.5 .2-.2 .1-.3 .2-.5 .2-.3 .1-.2 .3-1.5 .1-.3 .1-.2 .3-.5 .1-.1 .1 .1 .2 .5 .2 .3 .5-.1 .4 .3 .1 .1 .5 .3 .1 .1 .3 .5 .1 .2 .5-.2 .1-.5 .2-.5 .1-.5 .1-.3 .3 .3 .2 .1 .2 .4 .2 .5 .1 .5 .3 .5 .2 .5 .1-.5 .2-.5 .2-.3 .1-.2 .1-.5 .3-.5 .4 .5 .1 .1 .2 .4 .2 .5 .1 .5 .1-.5 .2-.5 .2-.4 .2-.1 .3-.1 .5-.2 .1-.2 .4-1 0-.1 .3-.4 .2-.3 .5-.5 .2 .3 .2 .5 .1 .1 .2 .4 .1 .5 .2 .5 0 .1 .1-.1 .3-.5 .1-.2 .1-.3 .2-.5 .2-.4 .2 .4 .2 .5 .1 .2 .1-.2 .1-.5 .2-.5 .1-.3 .5 .3 .1 .5 0 .5 .2 1 .2 .5 .5-.4 .5-.5 .5 .5 .1-.1 .2-.5 .2-.4 0-.1 .3-.5 .2-.3 .1-.2 .3-.5 .1-.2 .5-.1 .4 .3 .1 .1 .5 0 0-.1 .2-.5 .1-.5 .2-.5 0-.1 .1-.4 .1-.5 .2-.5 .1-.3 .1-.2 0-.5 .1-.5 .2-.5 .1-.3 .2 .3 .3 .3 .1 .2 .4 2 .5-.3 .4-.2 .2 0 .4 .1 .1-.1 .2-.5 .2-.4 .1-.1 .4-1 .2-1 .2-.5 .1-.3 .1-.2 .1-.5 .2-.5 .1-.4 .2 .4 .3 1.5 0 .5 .1 .5 .2 .5 .1 .5 0 .5 .1 .3 .2-.3 .3-.5 .1-.5 .2-.5 .1-.5 .1-.1 .3-.4 .2-.3 .4 .3 .1 .1 .3 .4 .1 .5 .1 .2 .3-.2 .2-.1 .1-.4 .1-.5 .2-.5 .1-.2 .2-.3 .3-.3 .3-.2 .2-.1 .3-.4 .2-.3 .5-.1 .1-.1 .4-.3 .1-.2 .2-.5 .2-.2 0 85.2-.1 0-.4-.2-.5-.3-.5 .1-.5 0-.1-.1-.4-.3-.5-.2-.1 0-.4 .1-.4-.1-.1 0-1-1-.5-.4-.3-.1-.2-.1-.5-.2-.2-.2-.3-.4-.5-.5-.2-.1-.3-.1-.5 0-.5-.2-.2-.2-.3-.2-.5-.3-.5-.1-.5-.2-.1-.2-.3-.5-.1-.1-.5-.3-.5 .1-.5-.1-.5 .1-.4-.2-.1 0-.5-.4-.1-.1-.4-.2-.5-.2-.5 0-.5 .1-.4-.2-.1 0-1-.4-.1-.1-.4-.5-.5-.3-.5 0-.5-.5-.5-.1-.1-.1-.4-.2-.1-.3-.3-.5-.1-.2-.3-.3-.2-.3-.5 0-.5-.1-.3-.1-.2-.1-.5-.3-.3-.1-.7 0-.3-.5-.2-.3-.2-.2-.3-.4-.5 .3-.3 .1-.2 .1-.1-.1-.4-.5-.3-.5-.2-.3-.3-.2-.2-.1-.2 .1-.3 .1-.3-.1-.2-.1-.5-.5-.5-.4-1-1-.4-.5-.1-.1-.4 .1-.1 0-.5 .4-.5-.1-.5 .2-.5-.2-.4-.3-.2 0-.4 .2-.4 .3-.1 .1-.2-.1-.3-.1-.5-.1-.4-.3-.1-.1-.3-.4-.2-.2-.4-.3-.2 0-.4 .1-1-.2-.5 0-.5-.5-1.5-.6-.5-.1-1.5-.6-.5 .2-.5 .1-.5-.1-.5-.2-.2-.1-.3-.1-1-1-.5-.2-.3-.2-.2-.1-.3-.4-.2-.2-.5-.1-.5-.2-.4-.5-.6-.6-.1 .1-.4 .2-.5-.2-.4-.5-.1-.2-.1-.3-.2-.5-.2-.4-.1-.1-.3-.5-.1-.1-.3-.4-.2-.2-.4-.3-.6-.6-.1 .1-.3 .5-.1 .2-.2 .3-.2 .5-.1 .2-.2 .3-.3 .4 0 .1-.4 .5-.1 .1-.5 .4-.2 0-.3 .1-.5 .2-.7 .7-.3 .4-.5 .5-1-.2-.4 .3-.1 .1-.5 .2-.1 .2-.5 .5-.4 .3-.5 .1-.1 .1-.4 .3-.2 .2-.3 .4-.1 .1-.4 .3-.5 .2-.5 0-.5 .3-.5 .2-.5 0-.5 .3-.1 .2-.4 .4 0 .1-.3 .5-.2 .5-.4 .5-.1 .2-.5 .3-.4 .5-.1 .2-.2 .3-.6 1-.2 .3 0 .2-.1 .5 0 .5-.2 1 0 .5-.1 .5 0 .5-.1 .5 0 .6-.1 .4 0 .5-.1 .5 0 .5-.1 .5 0 .5-.1 .5 0 .5-.1 .5 0 .5-.1 .5 0 1-.1 .5 0 .5-.2 1 0 .5-.1 .4-.3-.4-.2-.3-.2-.2-.3-.4-.3-.1-.8 0-.4-.2-1-.6-1-.4-1-1-.5-.3-.5-.2-.5 0-.5 .1-.5-.1-.5-.3-.4-.5-.1-.2-.2-.3-.3-.4-.5 0-.2-.1-.3-.1-.5-.3-.5 .1-.4-.2-.1-.1-.5-.4-.1 0-.4 .1-.2-.1-.3-.1-.3-.4-.2-.3-.1-.2-.4-.5-.2 0-.3 .1-.4-.1-.1 0-.3-.5-.2-.2-.5-.3-.1 0-.4-.1-.3 .1-.2 0-.5 .1-.1-.1-.4-.5-.5-.5-.5 .3-.5-.3-.5-.5-.3-.5-.2-.2-.5-.1-.5 0-.5-.2-.5-.5 0-.1-.3-.4-.2-.4-.2-.1-.3-.2-.5 .1-.3 .1-.3 0-.4-.1-1-.8-.5 0-.2-.1-.3-.2-.4-.3-.1-.1-.5-.2-1 0-.5-.2-.3-.5-.2-.4-.5-.5-.2-.1-.3-.2-.5-.5-.5-.3-.5 .1-.5 0-.6-.6-.4-.5-.5 0-.5 .3-.4-.3-.1-.1-.5-.3-.5 0-.5 .1-1 0-.3-.2-.5-.5-.2-.3-.5-.2-1 .4-.5-.1-.4-.3-.6-.6-.5-.4-.5-.1-.3 .1-.2 .1-1 0-.5 .1-.4-.2-.1 0-.5-.3-1-1-.5-.1-.5 0-.1-.1-.4-.3-.1-.2-.4-.4-.5-.1-.5 0-.5-.2-.4-.3-.1-.1-.5-.4-.4-.5-.1-.2-.2-.3-.3-.4-.5-.5-.2-.1-.3-.1-.5-.5-.5-.3-.2 .4-.3 .4-.3 .1-.2 .1-.5-.1-.3 .5-.2 .4 0 .1-.3 .5-.2 .4-.1 .1-.3 .5-.1 .2-.5 .2-.2 .1-.3 .1-.5 .5-.5 0-.5 .4-.5 .5-.4 .5-.1 .1-.5 .1-.5 0-.5 .2-.1 .1-.4 .1-.5 .3-.1 .1-.4 .3-.5 .5-.3 .2-.2 .1-.5 .1-.5 0-.5 .1-.3 .2-.2 .1-.3 .4-.2 .2-.2 .3-.3 .4-.1 .1-.3 .5-.1 .1-.3 .4-.2 .2-.2 .3-.6 1-.2 .3-.1 .2-.3 .5-.1 .2-.1 .3-.1 .5 0 .5-.3 1.5 0 .5-.2 1 0 .5-.1 .5 0 .5-.1 .5 0 .5-.1 .5 0 1-.1 .5 0 1-.1 .5 0 .5-.1 .5 0 1-.1 .5 0 .5-.1 .5-.5 0-.5-.2-.2-.3-.5-.5-.3-.4-.1-.1-.4-.5-.5-.3-.5 .3-.5-.3-.5-.2-.5 .1-.2-.1-.3-.2-.5 0-.5-.2-.1-.1-.4-.5-.5-.5 0-.1-.3-.4-.2-.3-.2-.2-.3-.2-.5 .1-1-.2-.3-.2-.2-.2-.4-.3-.1 0-.4-.5-.1-.1-.5-.1-.2 .2-.3 .2-.3-.2-.2-.2-.1-.3-.3-.5-.1-.3-.2-.2-.3-.4-.5 .1-.5 .2-.5 0-.5-.3-1-.2-.5-.4-.5-.5-.5-.1-1-.4-.5 .2-.5-.2-.3-.5-.2-.4-.2-.1-.3-.2-.5 0-.5-.2-.4-.1-.1 0-.5-.4-.3-.1-.2-.1-.5 .1-1.5-1.5-.4-.5-.1-.1-.5-.3-.5 .4-.5 .3-.5-.1-.1-.2-.3-.5-.1-.2-.3-.3-.2-.3-.3-.2-.2-.2-.2-.3-.5-.5-.3-.2-.5-.3-.5-.5-.1 0-.4-.3-.5 .1-.5-.1-.3-.2-.2-.1-.5 0-.5-.3-.5-.1-.5-.3-.5-.1-.5 0-.1-.1-.4-.1-.3 .1-.2 .1-.5 .2-1-.6-.3-.2-.2-.1-.3 .1-.2 .1-.5 .2-.5-.1-.5-.2-.5-.1-.5-.2-.4-.2-.1-.1-.5-.1-.5-.2-.3-.1-.2-.1-.5-.2-.5 .2-1-1-1-.8-.5 0-.2-.1-.3-.1-.5-.1-.4-.3-.1 0-.5-.5-.4-.5-.1-.1-.2-.4-.3-.4-.1-.1-.4-.2-.4-.3-.1-.1-.3-.4-.2-.3-.3-.2-.2-.1-.5-.5-.5-.1-.5 0-.5 .2-.5 .4 0 .1-.3 .5-.2 .4-.1 .1-.3 .5-.1 .2-.4 .3-.1 .1-.5 .3-.3 .1-.2 0-.5 .4-.1 .1-.4 .5-.5 .5-.1 0-.4 .1-.5 .1-1 1-.5 .2-.2 .1-.3 .1-.4-.1-.6 0-.4 .5-.1 .1-.3 .4-.5 .5-.2 .3-.3 .2-.2 .1-.5 0-.5 .3-.5 .5-.5 .1-.5 .4-.1 .1-.2 .5-.2 .3-.1 .2-.3 .5-.6 .6-.3 .4-.2 .3-.1 .2-.3 .5-.1 .2 0 .3-.2 1 0 .5-.1 .5 0 .5-.1 .5 0 .5-.1 .5 0 .5-.1 .5 0 .5-.1 .5 0 .5-.1 .5 0 .5-.1 .5 0 .5-.1 .5 0 .5-.1 .5 0 .5-.1 .5 0 .5-.2 1 0 .5-.1 .4-.5-.4-.4-.5-.1-.1-.5-.4-.5 0-.5-.2-.4-.3-.1-.1-.5 0-.5-.2-.2-.2-.3-.2-.3-.3-.2-.3-.3-.2-.2-.1-.5-.4-.1 0-.4-.3-.5-.1-.1-.1-.4-.2-.5-.3-1-.2-1 0-.5-.2-.2-.1-.3-.2-.5-.1-.3-.2-.2-.2-.4-.3-.1-.1-.5-.4-.1 0-.4-.1-.5 0-.3-.4-.7-.7-.5-.1-.5-.5-.4-.2-.2 0-.4 .1-.5 0-.5-.1-.5 0-.5-.3-.1-.2-.4-.5 0-.1-.5-.5-.5 0-1-.2-.3-.2-.2-.2-.5-.2-.2-.1-.3-.2-.5-.2-.3-.1-.2-.1-.5-.4-.4-.5-.1-.1-.3-.4-.7-.7-.5-.1-.4-.2-.1-.1-.5-.3-.1-.1-.4-.2-.5-.3-.5 .3-.5 .1-.5-.3-.3-.1-.2-.1-.5-.4-.5-.3-.3-.2-.2-.1-.5-.5-.5 0-.3 .1-.2 .1-.1-.1-.4-.3-.1-.2-.8-1-.1-.1-.5-.2-.5 .2-.1 .1-.4 .1-.5 0-.5-.5-.4-.1-.1 0-.5-.1-.5 .1-.5 0-1-.4-.5 .1-.5 0-.2-.2-.3-.2-.5-.3-1-.4-.5-.1-.5-.3-1 .2-.5-.1-.4-.3-.1-.1-.5-.1-.3 .2-.2 .1-.1-.1-.4-.3-.1-.2-.3-.5-.1-.3-.5-.5-.3-.2-.2-.2-.5-.1-.2-.2-.3-.2-1.5-1.5-.2-.3-.3-.5-.4-.5-.1-.2-.3-.3-.2-.3-.3-.2-.2-.2-.5-.1-.3 .3-.2 .3-.1 .2-.4 .5 0 .1-.3 .4-.2 .3-.7 .7-.3 .2-1 1-.5 0-.5 .2-.1 .1-.4 .3-.2 .2-.3 .4-.5 0-.3 .1-.2 .1-.5 .4-.1 0-.4 .1-2 2-.5 .1-.5 .2-.3 .1-.2 .1-.3-.1-.2-.1-.2 .1-.3 .1-.3 .4-.2 .2-.4 .3-.1 0-.5 .4-.1 .1-.2 .5-.2 .3-.1 .2-.2 .5-.2 .3-.5 .5-.1 .2-.3 .5-.1 .2-.2 .3-.3 .4 0 .1-.2 .5-.2 1-.1 .3 0 .2-.1 .5 0 .5-.1 .5 0 .5-.1 .5 0 .5-.1 .5 0 .5-.1 .5 0 1-.1 .5 0 1-.1 .5 0 1-.1 .5 0 1-.1 .5 0 .5-.1 .5 0 .5-.5-.4-.1-.1-.3-.5-.1-.1-.5-.3-.5 0-.5 .1-.1-.2-.3-.5-.1-.1-.5-.4-.5 .1-.5 0-.3-.1-.2-.1-.3-.4-.2-.3-.4-.2-.1-.1-.1 .1-.4 .3-.5 0-.5-.5-.2-.3-.3-.5-.5-.4-.1-.1-.4-.3-.5-.2-.1 0-.4 .1-.5 0-.1-.1-.4-.3-.5-.2-.1 0-.4-.3-.5 0-.5 .1-.5-.3-.1 0-.4-.3-.3-.2-.2-.1-.5-.3-.1-.1-.3-.5-.1-.2-.5 0-.5 .5-.5-.2-.1-.1-.3-.5-.1-.2-.2-.3-.3-.5-.5 0-.5 .3-.5-.5-.2-.3-.3-.3-.3-.2-.2-.1-.5-.1-.4-.3-.1-.1-.5-.3-.5 0-.1-.1-.4-.3-.4-.2-.1-.1-.5-.3-.1-.1-.4-.2-1 0-.4-.3-.1-.1-.5-.1-.5-.5-.2-.3-.3-.3-.3-.2-.2-.1-.5-.4-.1 0-.4-.3-.5 .1-.5 0-.5-.5-.2-.3-.2-.5-.1-.1-.3-.4-.2-.3-.4 .3-.1 .1-.5-.1-.5-.5-.5-.1-.3 .1-.2 .1-.5 .2-.2-.3-.3-.4-.1-.1-.4-.3-.5 0-.3-.2-.2-.1-.5 .1-.5 0-.5-.5-.1 0-.4-.1-.1 .1-.4 .2-.3-.2-.2-.1-.5-.2-.5 .1-.5-.1-.5-.2-.1 0-.4 .2-.5 0-.2-.2-.3-.4-.5 .1-.5 .2-.5 0-.5-.1-.4-.3-.1 0-.5-.4-.1-.1-.4-.5-.5 0-.5-.3-.2-.2-.3-.4-.1-.1-.4-.2-.5-.2-.1-.1-.4-.2-.4-.3-.1 0-.5-.2-.5 .1-.5-.4-.4-.5-.6-.6-.3-.4-.7-.7-.5 0-.5 .1-.1 .1-.4 .5-.1 0-.4 .3-.3-.3-.2-.3-.1-.2-.4-.5 0-.1-.2-.4-.3-.5 0-.1-.2-.4-.2-.5-.1-.3-.1-.2-.2-.5-.2-.4-.5 .3 0 .1-.3 .5-.4 1-.3 .5 0 .1-.3 .4-.2 .4-.1 .1-.2 .5-.2 .3-.1 .2-.2 .5-.2 .4-.1 .1-.3 .5-.1 .2-.3 .3-.2 .3-.1 .2-.2 .5-.2 .4-.1 .1-.3 .5-.1 .1-.5 .1-.2 .3-.5 .5-.3 .4-.1 .1-.8 1-.1 .1-.3 .4-.2 .4-.1 .1-.2 .5-.2 .3-.2 .2-.3 .4-.1 .1-.3 .5-.6 .6-.1-.1-.3-.5-.1-.1-.5-.4-.5-.3-.1-.2-.3-.5-.1-.3-.1-.2-.3-.5-.6-.6-.2-.4-.2-.5-.1-.2-.1-.3-.3-.5-.1-.3 0-49.9 .1 .2 .4 .5 .3 .5 .2 .3 .5-.2 .1 .4 .2 .5 .1 .5 .1 .2 .2 .3 .2 .5 .1 .2 .1-.2 .1-.5 .2-.5 .1-.2 .5-.1 .2 .3 .2 .5 .1 .2 .5-.1 0-.1 .2-.5 .3-.5 .5-.1 .3 .1 .2 .1 .5 .1 .2 .3 .3 .3 .3 .2 .2 .2 .3-.2 .2-.1 .2-.4 .3-.5 .4 1 .1 .1 .5 .4 .4-.5 .1-.2 .3 .2 .2 .1 .5 .4 .5-.5 .4-.5 .1-.1 .5-.3 .1-.1 .2-.5 .2-.3 .2-.2 .3-.5 .5 .2 .2 .3 .3 .3 .1 .2 .4 1 .3 .5 .2 .2 .5 .3 .1 0 .4 .2 .1-.2 .8-2 .1-.1 .5-.4 .2 0 .3 .1 .2 .4 .2 .5 .1 .1 .3 .4 .2 .3 .1-.3 .3-.5 .1-.3 1 1 .5 .1 .3-.3 .2-.1 .5 0 .5-.4 .5-.5 .2-.5 .3-.5 .4 1 .1 .2 .5 .2 .2-.4 .2-.5 .1-.2 .3 .2 .2 .2 .5-.1 .3 .4 .2 .3 1 .2 .3-.5 .7-.7 .1 .2 .1 .5 .2 .5 .1 .4 .5-.2 .1-.2 .1-.5 .2-.5 .1-.3 .4 .3 .6 0 .4-1 .1-.2 .5 0 .1 .2 .4 1 0 .1 .5-.1 .3 .5 .2 .5 .4 .5 .1 .2 .1-.2 .1-.5 .2-.5 .1-.3 .1-.2 .4-1 0-.1 .5 .1 .4-1 .1-.3 .2 .3 .2 .5 .1 .2 .1 .3 .4 2 0 .1 0-.1 .1-.5 .4-1 0-.1 .1-.4 .3-.5 .1-.2 .2-.3 .3-.4 .5 .2 .2-.3 .3-.3 .1-.2 .1-.5 .2-.5 .1-.3 .1 .3 .3 .5 .1 .3 0 .2 .3 1.5 .2 .5 0 .1 .3 .4 .2 .2 .1-.2 .8-2 .1-.2 .3 .2 .2 .1 .5-.5 .2-.1 .3-.1 .1 .1 .1 .5 .2 .5 .1 .5 .4 1 .1 .4 .1-.4 .1-.5 .2-.5 .1-.3 .5 .2 .1-.4 .3-.5 .1-.2 .1-.3 .2-1 .2-.4 .5 .1 .2 .3 .3 .4 .2 .1 .3 .2 .5 0 .1-.2 .3-.5 .1-.2 .5 .2 .3 .5 .1 .5 .1 .2 .1-.2 .4-.4 0-.1 .2-.5 .3-.5 .3 .5 .2 .5 0 .1 .2 .4 .2 .5 .1 .2 0-.2 .3-1.5 .2-.5 0-.1 .2-.4 .3-.5 .2 .5 .2 1 0 .5 .1 .3 0 .2 .2 .5 .1 .5 .2 .5 0 .2 0-.2 .2-.5 .1-.5 .2-.5 0-.1 .1-.4 0-.5 .2-1 0-.5 .2-1 0-.3 .1-.2 .2-.5 .2-.4 .1 .4 .2 .5 .1 .5 0 .5 .1 .5 .5 .1 .2-.1 .3-.2 .5 0 .1 .2 .3 .5 .1 .1 0-.1 .2-.5 .1-.5 .2-.3 .1-.2 .1-.5 .2-.5 .1-.2 .2-.3 .3-.5 .4-1 .1-.2 .5 0 .1-.3 .2-.5 .2-.4 0-.1 .1-.5 0-.5 .1-.5 .2-.5 .1-.4 .5 0 .2-.1 .3-.1 .2 .1 .3 .2 .1 .3 .2 .5 0 .5 .1 .5 .1 .3 .2 .2 .2 .5 .1 .2 .1-.2 0-.5 .1-.5 .2-.5 .1-.3 0-.2 .2-1 0-.5 .2-1 .1-.2 .4-.3 .1-.1 0 .1 .2 .5 .2 1 .1 .2 .5 0 .1-.2 .1-.5 .2-.5 .2-1 .3-.5 .1 0 .3 .5 .2 .4 0 .1 .3 1.5 0 .5 .1 .5 0 .5 .1 .4 .2-.4 .2-.5 .1-.2 .1-.3 .1-.5 .2-.5 .1-.3 .5 .5 .1 .3 .2 .5 .2 1 0 .2 .1-.2 .4-.4 .1 .4 .1 .5 0 .5 .1 .5 0 .5 .2 1 0 .5 .2 .5 .1 .5 .2 .4 0 .1 .2 .5 .1 .5 .4 1 .3 .4 .5-.2 .1 .3 .3 .5 .6 .6 .5 .4 .3 .5 .2 .2 .2 .3 .2 .5 .1 .2 .3-.2 .2-.1 0 .1 .4 .5 .1 .2 .1 .3 .3 .5 .1 .3 .5-.1 .5 .3 .3 .5 .2 .4 .1 .1 .4 .2 .5-.1 .2-.1 .3-.1 .5 0 .2 .1 .3 .2 .1-.2 .4-1 .5-.4 .3 .4 .2 .4 .3-.4 .2-.2 .5 0 .1 .2 .2 .5 .2 .4 .1 .1 .4 .5 .4-.5 .1-.1 .5-.4 .5 .2 .3 .3 .2 .1 .5-.1 .3 .5 .2 .3 .2 .2 .3 .4 .2-.4 .2-.5 .1-.1 .2-.4 .2-.5 .1-.1 .3-.4 .2-.2 1-.6 .5 .2 .1 .1 .3 .5 .1 .2 .1 .3 .3 .5 .1 .3 .5 .1 .5-.5 .5-.4 .5 .1 .1 .4 .4 2 0 .1 .3 .4 .2 .2 0-.2 .2-.5 .2-1 .1-.2 .2-.3 .3-.5 .5 0 .5-.3 .1-.2 .1-.5 .2-.5 .1-.2 .5-.5 .1 .2 .3 .5 .1 .1 .2-.1 .3-.2 .5 0 .3-.3 .2-.3 .4 .3 .1 .1 .1 .4 .2 .5 .1 .5 .1 .3 .1 .2 .4 .4 .1-.4 .4-1 0-.1 .2-.4 .3-.4 .5 0 0-.1 .3-.5 .2-.5 .3-.5 .2-.3 .5 .1 .5-.3 .4 1 .1 .1 .5 .4 .5-.5 .3-.5 .2-.4 .5 .4 .2 .5 .2 1 .1 .4 0 .1 .3 .5 .2 .5 0 .1 .1-.1 .4-.3 .1-.2 .1-.5 .2-.5 .1-.3 .1-.2 .2-.5 .2-.4 .2 .4 .3 .4 1 0 .1 .1 .4 .5 .5-.4 .5 .5 0-.1 .2-.5 .1-.5 .2-.5 .3-.5 .2-.3 .5-.2 .3-.5 .2-.2 .2 .2 .3 .2 .5 .1 .2-.3 .2-.5 .1-.2 .5-.1 .5 .1 .1 .2 .8 2 .1 .2 .1-.2 .4-.5 0-.1 .5-.3 .4-.1 .1 0 .3-.5 .2-.2 .3 .2 .2 .1 .2-.1 .3-.3 .1-.2 .1-.5 .3-.5 0-.1 .2-.4 .3-.5 .4 1 .1 .4 0 .1 .1 .5 .2 .5 .2 1 0 .2 .5 .1 .1-.3 .1-.5 .2-.5 .1-.3 .1-.2 .2-.5 .2-.2 .2-.3 .3-.5 .4-1 .1-.3 .5 .3 .2 .5 .3 1.5 .3-.5 .2-.4 .3 .4 .2 .2 .2 .3 .3 .5 0 .1 0-.1 .1-.5 .2-.5 .1-.5 .1-.3 .1-.2 .3-.5 .1-.4 .5 0 .2-.1 .3-.2 1-.2 .3 .4 .2 .2 .1-.2 .2-.5 .2-.4 0-.1 .5-2.5 0-.1 .1-.4 .4-1 1 .4 .1 .1 .3 .5 .1 .1 .2 .4 .3 .4 .1-.4 .2-.5 .1-.5 .1-.3 .1-.2 .4-1 0-.1 .2-.4 .3-.5 .2-.5 .1-.5 .2-.4 .1 .4 .2 .5 .1 .5 .1 .3 .2 .2 .2 .5 .1 .5 0 .1 .5 .1 0-.2 .1-.5 0-.5 .2-.5 .2-.2 .5 .1 0 .1 .3 .5 .2 .3 .2-.3 .3-.5 .1 0 .4-.3 .1 .3 .2 1 .2 .5 0 .1 .5 .3 0 .1 .3 1.5 0 .5 .2 1 0 .3 .1 .2 .3 .5 .1 .1 .1 .4 .1 .5 .2 .5 .1 .4 0 .1 .3 .5 .2 .3 .1 .2 .4 .5 .4 1 .1 .2 .3 .3 .2 .3 .5 0 .1 .2 .2 .5 .1 .5 .1 .4 0 .1 .4 1 .1 .4 .3-.4 .2-.2 .2-.3 .3-.5 .2 .5 .1 .5 .2 .5 .4 .5 .1 .2 .5-.2 .4 1 .1 .2 .4-.2 .2 0 .4 .2 .2 .3 .3 .4 .4 .1 .1 0 .5 .1 .1-.1 .4-.5 .1 0 .4-.2 .5-.1 .5 .2 .3 .1 .2 .2 .4-.2 .1-.1 .5-.2 .4 .3 .1 .1 .5 .1 .5 .5 .2-.2 .3-.2 .2-.3 .2-.5 .1-.3 .5-.5 .2 .3 .2 .5 .1 .1 .2 .4 .2 .5 .1 .1 .3-.1 .2-.1 .5-.1 .2-.3 .6-1 .2-.4 .1-.1 .3-.5 .1-.3 .3-.2 .2-.2 .1 .2 .1 .5 .2 .5 .1 .2 .3 .3 .2 .3 .5 .1 .5 0 .5-.3 .5 .4 .4-1 .1-.3 .3-.2 .2-.1 .5-.4 .3 .5 .7 .7 .1-.2 .4-1 .5 .4 .5 .5 .5 .1 .5 .2 .4 .3 .1 .1 .2-.1 .3-.1 .5-.1 .4 .2 .1 0 .5-.4 0-.1 .4-1 .1-.2 .2-.3 .3-.4 .2 .4 .3 .5 .5 .5 .5 .4 .2-.4 .1-.5 .2-.5 0-.2 .3-.3 .2-.3 .2 .3 .2 .5 .1 .1 .1-.1 .4-1 .5-.4 .2 .4 .2 .5 .1 .2 .3-.2 .2-.2 .2 .2 .3 .5 .4-.5 .1-.2 .3 .2 .2 .1 .1-.1 .4-.5 0-.1 .1-.4 .2-.5 .2-.4 .3 .4 .7 .7 .2 .3 .3 .4 0 .1 .3 .5 .2 .5 0 .1 .5 .4 .4-1 .1-.4 .5 .2 0 .2 .4 1 .1 .5 0 .2 .1-.2 .4-.4 0-.1 .1-.5 .2-.5 .1-.5 .1-.4 0-.1 .4-2 .1-.4 .1-.1 .4-.5 .3 .5 .2 .5 0 .1 .2 .4 .2 .5 .1 .2 .2 .3 .3 1.5 0 .1 .3 .4 .2 .5 0-.5 .1-.5 0-.5 .2-1 .2-.5 .5-.5 .3 .5 .2 .5 0 .1 .5 .5 .5 0 0-.1 .4-1 .1-.3 .5-.1 .1 .4 .2 .5 .2 1 .1-.5 .2-.5 .2-.4 0-.1 .1-.5 .2-.5 .2-1 .2 0 .3-.1 .5-.5 .3-.4 .2-.3 .1 .3 .4 1 0 .2 .5 0 .1-.2 .2-.5 .2-.4 .5 .3 .1 .1 .2 .5 .1 .5 .1 .3 .1-.3 .1-.5 .2-.5 .1-.1 0-.4 .4-2 .1-.4 0-.1 .1-.5 .4-1 0-.1 0 .1 .3 .5 .2 .5 0 .1 .1 .4 .4 2 0 .3 .4 .2 .1 0 .1-.5 0-.5 .1-.5 0-.5 .4-2 .2-.5 .1-.5 .1-.2 .1 .2 .1 .5 .2 .5 .1 .4 0 .1 .3 .5 .2 .4 .5-.1 .1-.3 .2-.5 .1-.5 .1-.3 .1-.2 .1-.5 .2-.5 .1-.1 .1-.4 0-.5 .1-.5 .2-.5 .1-.4 .5-.5 .3 .4 .2 .4 .1 .1 .2 .5 .2 .3 .1 .2 .2 .5 .2 .4 .5-.5 .1-.4 .2-1 .2-.5 0-.3 .5 .5 .2-.2 .3-.2 .5 0 .5-.1 0-.2 .1-.5 0-.5 .2-1 0-.5 .2-.5z"/>
<path fill-rule="evenodd" fill="#f7b799" d="M309.6 92.5l0 .1 .2 .5 .2 1 .1 .2 .1 .3 .3 1.5 .1 .4 0 .1 .2 .5 .1 .5 .2 .5 0 .1 .2-.1 .3-.2 .1-.3 .3-.5 .1-.3 0 .3 .1 .5 0 .5 .1 .5 0 .5 .1 .5 0 1 .1 .5 0 1 .1 .5 0 .3 .1 .2 .4 .4 0 .1 .4 1 .1 .2 1 1 .5 0 .4 .3 .1 .1 .3-.1 .2 0 .3 .5 .7 .7 .1 .3 .3 .5 .1 .1 .5 0 .5 .1 .1 .3 .2 .5 .2 .4 0 .1 .3 .5 .2 .5 .5 .2 .5 .5 .2 .3 .3 .5 .5 .4 .5-.3 .2-.1 .3-.1 .5 0 .2-.4 .3-.5 0-.1 .5-.2 .5 .2 .1 .1 .4 1 .4-.5 .1-.1 .5-.2 .4 .3 .1 .1 .1-.1 .3-.5 .1-.1 .3-.4 .2-.3 .5 0 .1 .3 .3 .5 .1 .3 .1 .2 .1 .5 .2 .5 .1 .3 .4 .2 .1 .1 .5 .1 .2-.2 .3-.5 .2-.5 .1-.5 .2-.5 .3-.5 .2-.4 .3 .4 .2 .3 .1 .2 .4 .4 .5-.5 .3 .1 .2 0 .5 .2 .1-.2 .3-.5 .1-.2 .2-.3 .3-.4 .5 .4 .5 .5 .3-.5 .2-.3 .2-.2 .3-.4 .5-.1 .5 .5 .5 .4 .5-.3 .1-.1 .4-.3 .3 .3 .2 .1 .5-.1 .4-.5 .1-.1 .3-.4 .2-.3 .5 0 .2 .3 .3 .3 .1 .2 .4 .5 .5 .4 .4 .1 .1 .1 .1-.1 .4-.1 .3-.4 .2-.2 .2 .2 .3 .4 .1 .1 .4 .3 .5-.5 .2-.3 .2-.5 .1-.1 .5-.2 .2-.2 .3-.4 0-.1 .3-.5 .2-.4 .1-.1 .4-.2 .3-.3 .2-.3 .3 .3 .2 .3 .1 .2 .2 1 .2 .5 .3 .5 .2 .3 .5-.2 .1-.1 .4-.5 .5 0 .5-.2 .1-.3 .2-.5 .1-.5 .1-.3 .5-.5 0 .3 .5 2.5 0 .1 .2 .4 .3 .5 .4-.5 .1-.2 .1-.3 .1-.5 .2-.5 .1-.4 0-.1 .2-.5 .3-.5 0-.1 .2 .1 .3 .1 .2-.1 .3-.2 .2-.3 .2-.5 .1-.3 .3 .3 .2 .3 .1 .2 .3 1.5 .1 .3 .1 .2 .4 1 .3-.5 .2-.3 .1-.2 .1-.5 .2-.5 .1-.5 .5-.1 0 .1 .1 .5 .2 .5 .1 .5 .1 .2 .5-.5 .1-.2 .4-.5 .3-.5 .2-.5 .5-.2 0 .2 .1 .5 .2 .5 .1 .5 .1 .4 .5-.1 .1-.3 .6-1.5 .1-.5 .2-.5 .1 0 .4 .1 .3 .4 .2 .2 .1-.2 .1-.5 .2-.5 .1-.3 .1-.2 .1-.5 .2-.5 .1-.3 .1-.2 .3-.5 .1-.2 .5 .5 .1 .2 .1 .5 .2 .5 .1 .2 .1-.2 .4-.5 0-.1 .5-.5 0 .1 .4 2 .1 .3 .2 .2 .3 .4 .1-.4 .3-1.5 .1-.2 0-.3 .5-2.5 .3 .5 .2 .3 .1 .2 .4 .5 .1-.5 .2-.5 .2-1 .4-1 .1-.2 .8-.8 .2-.3 .1 .3 .2 .5 .1 .5 .1 .2 .1 .3 .4 1 0 .1 .5 .2 .4-.3 .1 0 .1-.5 .2-.5 .1-.5 .1-.3 .1-.2 .2-.5 .1-.5 .1-.2 .1-.3 .2-.5 .2-.4 0-.1 .4-1 .1-.5 .4-1 .1-.3 .5 .1 .1 .2 .2 .5 .2 .4 0 .1 .3 .5 .2 .3 .1 .2 .3 .5 .1 .2 .2 .3 .3 .4 .5-.2 .1-.2 .2-1 .2-.5 0-.1 .1-.4 .2-.5 .1-.5 .1-.3 .1 .3 .3 1.5 .1 .2 0 .3 .3 1.5 0 .5 .3 1.5 0 .5 .2 1 0 .5 .1 .5 0 .5 .1 .5 0 .9 .3-.4 .2-.3 .4 .3 .1 .1 .3 .4 .2 .4 .1 .1 .3 .5 .1 .2 .1 .3 .6 1.5 .3 .5 0 .1 .4 .4 .1 .2 .5-.1 .5 .4 .3 .5 .2 .3 .1 .2 .5 .5 .4 .5 .5 .3 .1 .2 .4 1 .5-.1 .5-.5 .3-.4 .2-.4 .2-.1 .3-.2 .5 0 .5-.2 .1-.1 .4-.3 .2 .3 .3 .3 .5 0 .1 .2 .3 .5 .1 .2 .3 .3 .2 .3 .5-.5 .5-.2 .5 .1 .5 .2 .6 .6 .3 .5 .6 .6 .5 .3 .3-.4 .2-.2 .2-.3 .3-.5 .4-.5 .1-.1 .5-.2 .5 .5 .2 .3 .3 .5 .2 .5 .3 .4 .5-.3 .1-.1 .3-.5 .1-.1 .2-.4 .2-.5 .1-.4 .3 .4 .2 .2 .2 .3 .3 .3 .4-.3 .1-.2 .3-.3 .2-.3 .5-.2 .5 .1 .5 .2 1 .2 .5-.4 .3-.1 .2-.1 .5-.3 .5 .1 .5-.2 .5 .3 .5 0 .5-.1 .2-.2 .3-.4 .1-.1 .4-.3 .3-.2 .2-.1 .5-.2 .2 .3 .2 .5 .1 .1 .5 .1 .5-.1 .5 .3 .4-.4 .1-.2 .5 0 .1 .2 .2 .5 .2 .4 .1 .1 .4 .5 .2-.5 .3-.5 0-.1 .5-.3 .1-.1 .3-.5 .1-.3 .2-.2 .3-.4 .2 .4 .6 1 .2 .3 .3-.3 .2-.1 .2-.4 .3-.5 .2-.5 .1-.5 .2-.5 0-.1 .5-.4 .3 .5 .2 .2 .3-.2 .2-.2 .5 .2 .1 0 .4 .1 .3 .4 .2 .2 .5-.1 0-.1 .4-1 .1-.3 .5 .5 .2 .3 .3 .4 .1 .1 .3 .5 .1 .1 .1-.1 .3-.5 .1-.2 .1-.3 .3-.5 .1-.2 .2 .2 .3 .2 .1 .3 .3 .5 .1 .1 .1-.1 .4-1 0-.1 .5-.1 .4-.3 .1 0 .2-.5 .1-.5 .2-.5 .3-.5 .2-.4 .1-.1 .4-.5 .2 .5 .3 .5 0 .1 .1 .4 .4 1 .2-.5 .3-.5 .2-.5 .3-.5 0-.1 0 .1 .3 .5 .2 .4 .2-.4 .2-.5 .1-.4 .5 .3 0 .1 .2 1 .2 .5 .1 .5 .5-.3 .5-.5 .2 .3 .3 .3 .2-.3 .6-1 .2-.3 .1-.2 .3-.5 .1-.2 .5-.1 .5 .5 .5 .2 .1-.4 .4-1 .1-.5 .2-.5 .1-.5 .1-.2 .1-.3 .2-1 .2-.5 0-.1 .1 .1 .4 .5 .2 .5 .1 .5 .2 .5 0 .1 .3-.1 .2-.1 .5-.1 .5 .2 .3-.5 .2-.4 .1-.1 .3-.5 .1-.2 .1-.3 .2-.5 .1-.5 .1-.2 .1-.3 .4-1 .3 1.5 .2 .5 0 .2 .1 .3 .1 .5 .2 .5 .1 .5 .3-.5 .2-.3 .1-.2 .1-.5 .2-.5 .1-.5 .3-.5 .2-.3 .4 .3 .1 .1 .2 .4 .2 .5 .1 .1 .2-.1 .3-.2 .1-.3 .4-1 0-.1 .3-.4 .2-.3 .3-.2 .2-.2 .4-.3 .1-.1 .3 .1 .2 0 .5-.4 0-.1 .3-.5 .2-.4 0 74.2-.4-.3-.1-.1-.5-.4-.5 .3-.4 .2-.1 0-.5-.5-.5-.3-1 0-.2-.2-.3-.2-.5-.5-.2-.3-.8-.8-.3-.2-.2-.1-.5-.3-.1-.1-.4-.2-.5-.2-.5-.1-.1 0-.4-.1-.4-.4-.1-.2-.5-.2-.5 .1-.5-.1 0-.1-.3-.5-.2-.3-.5-.1-.5 0-.2-.1-.3-.2-.4 .2-.6 0-.5-.4-.2-.1-.3-.2-.5-.2-.5 0-.5 .3-.5 0-.5-.1-.5-.2-.5-.5-.3-.1-.2-.1-.5 .1-.5-.5-.5-.2-.3-.3-.2-.3-.1-.2-.2-.5-.2-.4-.1-.1-.3-.5-.1-.1-1 0-.4-.4-.1 0-.5-.5-.6 0-.4 .1 0-.1-.3-.5-.2-.5 0-.1-.3-.4-.2-.3-.3 .3-.2 .3-.2 .2-.3 .2-.2-.2-.3-.5-.4-1-.1-.1-.5-.2-.4 .3-.1 .1-.4-.1-.1 0-.4-.5-.6-.6-.3-.4-.2-.2-.2-.3-.6-1-.2-.3-.5 .5-.2 .3-.3 .3-.5-.2-.5 .4-.5 0-.5-.2-.3 .2-.5 .5-.2 .3-.4-.3-.1-.1-.5-.3-.6-.6-.3-.5-.1-.2-.4-.3-.1-.1-.2 .1-.3 .2-.5-.1-1 0-.2-.1-.3-.3-.3-.2-.2-.2-.5-.3-.5-.4-.4-.1-.1 0-.5-.4-.5-.1-.5-.2-.5 .5-.3 .2-.2 .1-.3-.1-.2-.1-1-.2-.1-.2-.4-.5-.5-.5-.5 0-.5-.3-.1-.2-.4-.5 0-.1-1-.2-.1-.2-.4-.5 0-.1-.5-.3-.5 .5-.1-.1-.4-.3-.1-.2-.2-.5-.2-.4 0-.1-.4-1-.1-.1-.3-.4-.2-.2-.5-.2-.3-.1-.2-.1-.5-.5-.6 .6-.2 .5-.2 .3-.1 .2-.3 .5-.1 .2-.2 .3-.3 .5-.5 .5-.5 0-.5 .3-.2 .2-.3 .4-.1 .1-.4 .5-.5 .5-.1 0-.4-.1-.5-.2-.5 .3-.5 .4-.1 .1-.3 .5-.1 .1-.5 .2-.5 0-.5 .1-.5 .5-.3 .1-.2 .1-.2-.1-.3-.1-.5-.1-.2 .2-.3 .2-.5 .1-.5-.3-.5 .4-.1 .1-.4 .5 0 .1-.2 .4-.3 .5 0 .1-.5 .3-.5-.1-.1 .2-.8 1-.1 .2-.3 .3-.2 .3 0 .2-.3 1.5 0 .5-.2 1 0 .5-.2 .5 0 .5-.3 1.5 0 1.5-.1 .5 0 2-.1 .5 0 1.5-.1 .5 0 1-.1 .5 0 1-.1 .5 0 .2-.2-.2-.3-.2-.2-.3-.3-.4-.2-.1-.3-.2-.5 0-.5-.2-.5-.1-.5-.2-1-.2-.1-.1-.4-.5-.3-.5-.2-.3-.2-.2-.3-.4-.3-.1-.2-.1-.3 .1-.2 .1-1 .2-.5-.2-.1-.1-.3-.5-.1-.1-.3-.4-.2-.2-.5 .1-.5-.2-.5-.5-.5 .1-.5-.1-.2-.2-.3-.2-.5-.1-.5-.5-.1-.2-.3-.5-.1-.3-.5-.5-.4 .3-.1 .1-.4-.1-.1 0-.3-.5-.2-.2-.5-.2-.5 0-1 .2-.2-.3-.3-.5-.4-.5-.1-.1-.1 .1-.4 .3-.5-.5-.2-.3-.3-.5-.4-.5-.1-.1-.5 .1-.5 .2-.2-.2-.3-.2-.2-.3-.2-.5-.1-.1-.2-.4-.3-.5-.5-.3-.5 0-1 .6-.5 .1-.5-.3-.3-.1-.2 0-.5-.4-.6-.6-.4-.2-.5-.2-1 .2-.2-.3-.6-1-.2-.2-.2-.3-.3-.4-.1-.1-.3-.5-.1-.2-.5-.3-.5 .3-.5 0-.8-.8-.2-.3-.3 .3-.2 .1-.4 .4-.1 0-.5-.5-.3-.5-.2-.3-.5-.2-.5 .3-1-.2-.2-.1-.3-.2-.2-.3-.3-.5-.5-.5-.5 .4-.1 .1-.3 .5-.1 .1-.5 .1-.5-.5-.1-.2-.5-.5-.3-.5-.1-.1-.5-.2-.5 .3-1 .4-.3 .1-.2 .1-.3-.1-.2-.1-.5-.1-.4-.3-.6-.6-.5-.2-.5 .1-.5-.3-.3-.5-.2-.2-1 0-.5-.1-.4-.2-.1-.1-.3-.4-.2-.3-.2-.2-.3-.4-.6-.6-.4-.5 0-.1-.5-.3-.5-.5-.2-.1-.3-.2-.1 .2-.2 .5-.2 .4-.5 .1-.5-.3-.2 .3-.2 .5-.1 .1-.1 .4-.2 .5-.2 .4 0 .1-.3 .5-.2 .3-.5 .2-.5 .1-.5 .4-.5 .1-.5 .4-.4 .5-.1 .1-.5 .4-.1 0-.4-.1-.5-.3-.5 0-.5 .1-.4 .3-.1 0-.5 .5-.4 .5-.5 .5-.1 .2-.5 0-.3-.2-.2-.1-.5-.2-.5 .3-.4 .5-.1 .1-.2 .4-.3 .4-.1 .1-.4 .3-.5 0-1.2 1.2-.3 .5-.2 1-.2 .5-.1 .5 0 .2-.1 .3-.1 .5 0 .5-.3 1.5 0 1.5-.1 .5 0 2-.1 .5 0 2-.1 .5 0 1-.1 .5 0 1-.1 .5 0 .6-.5 0-.2-.1-.3-.2-.8-.8-.2-.1-.3-.4-.2-.3-.4-.2-.2 0-.4 .2-.3-.2-.2-.1-.5-.3-.5 .4-1.5-.3-.2-.2-.3-.2-.2-.3-.3-.4 0-.1-.3-.5-.2-.4-.1-.1-.4-.5-.5 .2-.5 0-.3-.2-.2-.1-.5-.4-.5-.2-.5-.5-.5-.2-.5 .5-.6-.6-.1-.5-.2-.5-.1-.2-.2-.3-.3-.5-.5 .2-.5 .3-1 0-.5 .2-.4-.2-.1 0-.5-.4-.5-.5-.5-.1-.6 0-.4-.1-.5 .1-.5-.3-.1-.2-.2-.5-.2-.4-.1-.1-.4-.3-.5-.1-.5 0-.5 .2-.5-.1-.3-.2-.2-.1-.5-.2-.1-.2-.4-.4-.3-.1-.2-.1-.5-.4-.4-.5-.1-.2-.3-.3-.2-.1-.2 .1-.3 .2-.5 .5-.5 .1-.1-.3-.2-.5-.2-.4-.1-.1-.2-.5-.2-.4-.1-.1-.3-.5-.1-.2-.1-.3-.3-.5-.1-.2-.5-.2-.5-.1-.5-.5-.5-.3-.5 .2-.5-.2-.5-.5-.5 0-.5-.1-.3-.1-.2-.1-.5-.2-.4-.2-.1-.1-.5-.2-.5 .1-.2 .2-.3 .4-.4 .1-.1 0-.5-.4-.2-.1-.3-.2-.5-.3-.5 .4-.2 .1-.3 .1-.5-.1-.5-.2-.5-.1-.3-.2-.2-.1-1-.4-.5 0-.5-.3-.5 0-.3 .3-.2 .1-.2-.1-.3-.2-.3-.3-.2-.3-1-1-.5-.1-1 .2-.5-.3-.5-.5-.3-.5-.2-.3-.1-.2-.3-.5-.1-.3-.3-.2-.2-.1-.3-.4-.2-.3-.1-.2-.2-.5-.2-.3-.4-.2-.1 0-.5-.2-.2 .2-.3 .4-.3 .1-.2 .1-1-.2 0 .1-.3 .5-.2 .4-.1 .1-.2 .5-.2 .3-.2 .2-.3 .4-.2 .1-.3 .2-.5 .1-.5 .2-.3 .5-.2 .4-.1 .1-.3 .5-.1 .2-.5-.1-.2-.1-.3-.1-.1 .1-.4 .5-.5 .5-.5 0-.5 .1-.1-.1-.4-.5-.5-.4-.3 .4-.2 .3-.1 .2-.2 .5-.2 .4-.1 .1-.3 .5-.1 .2-.5 .3-.5 0-.5-.2-.5 .1-.5-.1-.3 .2-.2 .1-.3 .4-.2 .2-.2 .3-.3 .5-.5 .4-.1 .1-.4 .3-.2 .2-.3 .5-.2 1 0 .5-.2 1 0 .5-.1 .5 0 .1-.1 .4-.1 .5 0 .5-.2 1 0 .5-.1 .4 0 1.1-.1 .5 0 1.5-.1 .5 0 1.5-.1 .5 0 1-.1 .5 0 .5-.1 .5 0 .4-.5-.4-.3-.5-.7-.7-.5 .1-.5 0-.5-.5-.5-.3-.2-.1-.3-.1-.5 0-.5-.5-.3-.4-1.2-1.2-.5-.1-.5-.2-.2 0-.3-.1-.2 .1-.3 .1-.5 .3-.5 .1-.5-.2-.4-.3-.1 0-.5-.2-.5 .2-.5-.4 0-.1-.4-.5-.1-.2-.4-.3-.1-.1-1-.2-.1-.2-.5-.5-.4-.5-.1 0-.4-.2-1-.2-1 .4-1-.2-.5-.3-.4-.5-.1-.2-.5-.3-.5 0-.5-.2-.5 .1-.5-.3-.1-.1-.4-.3-.3-.2-.2-.2-.5-.2-.3-.1-.2-.1-.5-.4-.1 0-.4-.4 0-.1-.3-.5-.2-.4 0-.1-.4-.5-.1-.2-.5-.2-.2-.1-.3-.2-.5-.3-.5-.5-.1 0-.4-.2-.2 .2-.3 .4-.2 .1-.3 .1-.3-.1-.2-.1-.5-.1-.3-.3-.2-.1-.5-.3-.1-.1-.4-.3-.5-.5-.5 .1-.5 0-.2-.3-.3-.5-.2-.5-.3-.5 0-.1-.5-.4-.5-.1-.2 .1-.3 .2-.5 .5-.5 .3-.5-.5-.5-.3-.5 0-.5 .1-.5-.1-.3-.2-.2-.1-.4-.4-.1 0-.5-.2-.3 .2-.2 .2-.4-.2-.1 0-.5-.3-.2-.2-.3-.2-.3-.3-.2-.1-.5-.1-.5-.2-.5 .2-.4 .2-.6 0-.5-.3-.5-.1-.4 .4-.2 0-.4-.3-.1-.2-.3-.5-.1-.1-.3-.4-.2-.3-.5-.5-.5-.2-.5-.3-.3-.2-.2-.1-.5-.5-.3-.4-.2-.4-.1-.1-.2-.5-.2-.3-.1-.2-.3-.5-.1-.2-.2-.3-.3-.4-.5-.5-.5 .1-.1 .3-.3 .5-.1 .2-.1 .3-.2 .5-.2 .4-.1 .1-.3 .5-.1 .2-.5 .3-1 1-.5 .3-.5 0-.3 .2-.2 .1-.3 .4-.2 .2-.2 .3-.3 .3-.5-.1-.5-.2-.5 .1-.5 0-.3 .4-.5 .5-.2 .3-.1 .2-.4 .5-.5 .5-1.1 0-.4-.2-.5-.5-.5 0-.2 .2-.3 .4-.1 .1-.4 .3-.5 .2-.3 .5-.2 .4-.1 .1-.2 .5-.2 .4-.2 .1-.3 .1-1 .8-.1 .1-.2 .5-.2 .3 0 .2-.2 1 0 .5-.2 1 0 .5-.1 .5 0 1.5-.1 .5 0 2-.1 .5 0 2-.1 .5 0 1.5-.1 .5 0 1-.1 .5 0 .5-.4-.5-.1-.2-.2-.3-.3-.5-.5-.2-.5 0-.4 .2-.1 0-.4-.5-.1-.1-.5-.4-.5 .1-.5 .2-.5-.1-.1-.2-.4-.5-.1 0-.4-.2-.3 .2-.2 .2-.5-.1-.2-.1-.5-.5-.3-.4-.6-.6-.4-.2-.5-.3-.5 0-.5 .2-.3-.2-.2-.1-.5-.3-.5-.5-.4-.1-.1 0-.5 .3-.5 0-.3-.3-.2-.1-.5-.4-.1 0-.4-.2-.2-.3-.3-.4-.5 .1-.5 .5-.5-.5-.1-.2-.2-.5-.2-.3-.1-.2-.4-.5-.5 .1-.5 .2-.4-.3-.1-.1-.3-.4-.7-.7-.5 0-.5-.2-.1-.1-.4-.2-.5 0-.4-.3-.1-.1-1-.4-.5-.3-.5-.1-.5 0-.1-.1-.4-.3-.3-.2-.2-.1-.4-.4-.1-.2-.4-.3-.1-.1-.5-.4-.4-.5-.1-.1-.5-.3-.5 .2-.5 .1-.4-.4-.1-.2-.2-.3-.2-.5-.1-.3-.2-.2-.3-.5-.4 .5-.1 .1-.5 .1-.1-.2-.4-.5 0-.1-.5-.2-.5 .3-.1 0-.4 .1-.1-.1-.3-.5-.1-.1-.5-.4-.5-.2-.4-.3-.1-.1-.5 0-.5-.4-.4-.5-.1-.1-.2 .1-.3 .2-.2 .3-.3 .4-.5 .1-.5-.3-.5-.1-.5 .1-.3-.2-.2-.1-.5 .1-.1 0-.4 .1-.1-.1-.4-.3-.5 .2-.1 .1-.4 .3-.5 .1-.5 0-.5-.3-1-1-.2-.1-.3-.1-.5 0-.3-.4-.2-.3-.3-.2-.2-.2-1-.6-.3-.2-.2-.1-1-.2-.5-.5-.1-.2-.3-.5-.1-.2-.1-.3-.4-1 0-.1-.2-.4-.2-.5-.6-.6-.1 .1-.4 .2-.4 .3-.1 .1-.2 .4-.2 .5-.1 .2-.2 .3-.3 .4-.5-.3-.6-.6-.3-.5-.1-.1-.1-.4-.3-.5-.1-.3-.1-.2-.2-.5-.2-.3-.5 .5-.2 .3-.2 .5-.1 .2-.2 .3-.3 .5 0 .1-.3 .4-.2 .3-.2 .2-.3 .4-.1 .1-.2 .5-.2 .4-.1 .1-.3 .5-.1 .1-.5 .4-.2 .5-.6 1-.2 .2-.4-.2-.7 0-.4 .1-.3 .4-.2 .3-.2 .2-.3 .4 0 .1-.3 .5-.2 .4 0 .1-.2 .5-.3 .5 0 .1-.4 .4-.1 .2-.5 .2-.3 .1-.2 .1-.2-.1-.3-.2-.5-.2-.6-.6-.2-.5-.2-.4-.6-.6-.4-.3-.1-.2-.2-.5-.1-.5-.1-.2-.1-.3-.1-.5-.2-.5-.1-.3 0-36.4 .5-.1 .5 .3 .5-.2 .1 .2 .2 .5 .1 .5 .1 .1 .3 .4 .2 .2 .1-.2 .4-1 .5 .1 .2 .4 .3 .5 .5-.2 .1-.3 .3-.5 .1-.3 .5-.1 .4 .4 .1 .2 .5 .3 1 1 .5-.4 0-.1 .3-.5 .2-.5 .3 .5 .2 .2 .4 .3 .1 .1 .2-.1 .3-.3 .5 .2 .2 .1 .3 .3 .5-.3 .5-.5 .5-.1 .3-.4 .2-.3 .3-.2 .2-.2 .5 .5 .3 .2 .2 .1 .3 .4 .2 .2 .2 .3 .3 .3 .3 .2 .2 .1 .5 .3 .5-.5 .5-.2 .5 .1 .3 .2 .2 .1 .3 .4 .2 .2 .5-.1 0-.1 .2-.5 .1-.5 .2-.5 .5 0 .5 .3 .5-.1 .3-.2 .2-.1 .5-.1 .5-.3 .5-.5 .3-.5 .2-.5 .3 .5 .2 .3 .3 .2 .2 .1 .1-.1 .3-.5 .1-.3 .5 .3 .5-.3 .2 .3 .3 .4 1 .2 .2-.1 .3-.2 .5-.3 .4 1 .1 .2 .5 0 .1-.2 .4-1 0-.1 .1 .1 .4 .2 .5 0 .1-.2 .2-.5 .2-.3 .5-.1 .2 .4 .2 .5 .1 .3 .3 .2 .2 .1 .2 .4 .2 .5 .1 .2 .4 .3 .1 .1 0-.1 .4-1 .1-.3 .1-.2 .4-1 .5 0 .4-1 .1-.2 .1 .2 .4 .5 0 .1 .1 .4 .1 .5 .2 .5 .1 .4 .1-.4 .4-1 .3-.5 .2-.3 .2-.2 .3-.5 .5 .1 .6-.6 .2-.5 .1-.5 .1-.2 .1 .2 .3 .5 .1 .3 .1 .2 .2 1 .2 .4 .5 .5 .2-.4 .6-1 .2-.3 .5 .2 .2-.4 .3-.4 .2-.1 .3-.2 .1 .2 .1 .5 .2 .5 .1 .2 .1 .3 .2 .5 .2 .4 .1-.4 .4-1 0-.1 .5 0 .2-.4 .3-.5 .1-.5 .2-.5 .1-.5 .1-.4 .5-.1 .3 .5 .2 .4 .2 .1 .3 .2 .5-.1 .1-.1 .2-.5 .2-.4 .5 .3 0 .1 .4 1 .1 .4 .3-.4 .2-.2 .1-.3 .2-.5 .2-.4 .2 .4 .2 .5 .1 .1 .2 .4 .3 .5 .1-.5 .2-.5 .2-1 0-.1 .2-.4 .3-.5 .4 2 .1 .3 .1 .2 .1 .5 .2 .5 .1 .3 .1-.3 .2-1 .2-.5 0-.1 .1-.4 .1-.5 0-.5 .2-1 0-.5 .1-.5 .4-.5 .1-.2 0 .2 .1 .5 .2 .5 .2 1 0 .1 .5 .2 .5-.5 .5 0 .1 .2 .4 .5 .4-1 .1-.2 .1-.3 .4-1 .3-.5 .2-.3 .1-.2 .2-.5 .2-.4 .5 .1 .1-.2 .3-.5 .1-.2 .1-.3 .3-1.5 .1-.4 .3-.1 .2-.1 .5-.1 .5 .1 0 .1 .2 .5 .2 1 .1 .2 .2 .3 .3 .5 .2-.5 .2-1 .1-.2 .1-.3 .4-2 0-.3 .3-.2 .2-.1 0 .1 .4 1 .1 .4 .5 0 .2-.4 .2-.5 .1-.3 .1-.2 .3-.5 .1-.2 .1 .2 .4 .5 .1 .5 0 .5 .4 2 0 .1 0-.1 .4-.5 .1-.2 .1-.3 .4-1 .5 .5 .2 .5 .1 .5 .2 .5 0 .1 .1-.1 .3-.5 .1-.2 0 .2 .1 .5 0 .5 .1 .5 0 .5 .1 .5 0 .5 .1 .5 0 1 .1 .5 0 .5 .2 .5 .3 .5 0 .1 .3 .4 .2 .3 .1 .2 .4 .5 .5-.5 .3 .5 .2 .3 .1 .2 .3 .5 .1 .1 .3 .4 .2 .2 .2 .3 .6 1 .2 .4 .5 0 1 1 .5-.4 .5 .2 .2 .3 .3 .4 .2 .1 .3 .2 .5 .1 .5 0 .5 .2 .1 0 .4 .2 .1-.2 .4-1 .5-.5 .5 .5 .5-.3 .5 .2 0 .1 .3 .5 .2 .4 .1 .1 .4 .3 .5-.5 .5-.1 .5 .3 1 .4 .1 .1 .4 1 .3 .5 .2 .4 .5-.5 .3-.4 .2-.4 .1-.1 .3-.5 .1-.1 .3-.4 .2-.2 .2-.3 .3-.4 .3-.1 .2-.1 0 .1 .4 .5 .1 .1 .2 .4 .3 .4 .3 .1 .2 0 .5-.4 .1-.1 .4-.3 .5-.2 .2 1 .2 .5 .1 .4 .5 .5 .2-.4 .1-.5 .2-.5 .5-.5 1-.2 .1-.3 .3-.5 .1-.3 .4-.2 .1-.1 .1 .1 .3 .5 .1 .2 .3-.2 .2-.1 .5-.2 .2-.2 .3-.5 .5 .3 .1 .2 .1 .5 .2 .5 .1 .3 .2 .2 .3 .5 .4-1 .1-.4 .1-.1 .3-.5 .1-.2 .5-.1 .1-.2 .3-.5 .1-.2 .2-.3 .3-.4 .5 .2 .5-.5 .1 .2 .3 .5 .1 .2 .5 .5 .5 0 .1-.2 .4-.5 0-.1 .1 .1 .4 .5 .2 .5 .1 .5 .2 .5 .5 .5 .4-.5 .1-.2 .1-.3 .2-.5 .2-.4 .1-.1 .3-.5 .1-.3 .2 .3 .3 .3 .5-.1 .5 0 .3 .3 .2 .1 .2-.1 .3-.2 .5 .5 .1-.3 .2-.5 .2-.4 .5-.5 .2-.1 .3-.1 .3-.4 .2-.4 .5 .4 .5 0 .4-1 .1-.3 .5-.5 .5-.2 .4 1 .1 .4 .1 .1 .1 .5 .2 .5 .1 .2 .1-.2 .3-.5 .1-.2 .4-.3 .1-.1 .5-.2 .1-.2 .3-.5 .1-.1 .1 .1 .4 .2 .4-.2 .1-.1 .2-.4 .2-.5 .1-.2 .2-.3 .3-.5 .4 1 .1 .3 0 .2 .1 .5 .2 .5 .1 .5 .1 .4 .3 .1 .2 .1 0-.1 .4-1 .1-.5 .4-.5 .1-.2 .2-.3 .2-.5 .1-.1 .2-.4 .2-.5 .1-.2 .3 .2 .2 .1 .1 .4 .3 1.5 .1 .2 .2-.2 .3-.5 .5 .4 .1 .1 .3 .5 .1 .1 0-.1 .2-.5 .1-.5 .2-.5 .3-.5 .2-.4 .4-.1 .1 0 .3-.5 .2-.2 .5-.2 .5 .1 .2 .3 .3 .4 .2-.4 .2-.5 .1-.3 0-.2 .4-2 .1-.3 .1-.2 .2-.5 .2-.4 .5 .5 .5 .4 .5 .5 .4 .5 .1 .2 .1-.2 .2-.5 .1-.5 .1-.2 .2-.3 .2-.5 .1-.3 .1-.2 .3-.5 .1-.2 .1-.3 .2-.5 .1-.5 .1-.2 .1 .2 .1 .5 .2 .5 .1 .3 .1 .2 .1 .5 .2 .5 .1 .3 .5 .1 .1-.4 .1-.5 .2-.5 .1-.5 0-.1 .5-.1 .1 .2 .3 .5 .1 .2 .2-.2 .3-.4 .2-.1 .3-.3 .1 .3 .2 .5 .1 .5 .1 .2 .5 .1 0 .2 .1 .5 0 .5 .1 .5 0 .5 .1 .5 0 .5 .1 .5 0 .5 .1 .5 0 .7 .5 .2 0 .1 .4 1 .1 .3 1 1 .1 .2 .1 .5 .2 .5 .1 .4 .1 .1 .2 .5 .2 .3 .5 0 .1 .2 .1 .5 .2 .5 .1 .2 .1 .3 .2 .5 .2 .3 .2-.3 .3-.4 .1-.1 .2-.5 .2-.3 .1 .3 .3 .5 .1 .3 .1 .2 .4 .5 .5 0 .4 1 .1 .4 .5 0 .5-.1 .4 .2 .1 .1 .5-.1 .5 .1 .1-.1 .4-.3 .5-.1 .2-.1 .3-.2 .5 0 .2 .2 .3 .4 .3 .1 .2 .1 .2-.1 .3-.2 .3 .2 .2 .1 .5 .1 .2 .3 .3 .4 .5 0 .3-.4 .2-.2 .2-.3 .3-.4 .5 .4 .2 .5 .3 .5 .5 .5 .5-.1 .5-.5 .2-.4 .2-.5 .1-.2 .2-.3 .2-.5 .1-.2 .4-.3 .1-.1 .1 .1 .3 .5 .1 .1 .5 .3 .5-.1 .5 0 .5-.1 .5 .5 .1-.2 .2-.5 .2-.3 .7-.7 .3-.2 .2 .2 .3 .2 .3 .3 .2 .1 .1-.1 .4-.5 0-.1 .1 .1 .4 .3 .2 .2 .3 .2 .5 .1 1 .4 .4-.2 .1 0 .5-.1 .4 .1 .1 0 .5-.4 .1-.1 .2-.5 .2-.4 .2-.1 .3-.2 .1 .2 .4 .5 .5 .3 .3 .2 .2 .1 0-.1 .4-1 .1-.2 .5-.2 .2 .4 .3 .5 0 .1 0-.1 .3-.5 .2-.5 .5-.5 .3 .5 .2 .4 .5-.3 .3 .4 .2 .2 .5-.5 .5 0 .2-.2 .3-.4 .1-.1 .2-.5 .2-.4 .5 .5 .5 .4 .4 .5 .1 .1 .2 .4 .2 .5 .1 .1 .5 .1 0-.2 .4-1 .1-.4 .5-.1 .4 1 .1 .3 .5-.5 .1-.3 .4-1 0-.2 .1-.3 .3-1.5 .1-.4 .1-.1 .3-.5 .1-.1 .1 .1 .3 .5 .1 .1 .2 .4 .2 .5 .1 .2 .1 .3 .2 1 .2 .5 0 .1 .3 .4 .2 .3 .1-.3 0-.5 .4-2 0-.1 .3-.4 .2-.2 .1 .2 .4 1 0 .1 .3 .4 .2 .2 .5 .1 .1-.3 .4-1 .5-.2 .1 .2 .1 .5 .2 .5 .1 .3 .1-.3 .4-1 0-.1 .1-.4 .3-1.5 .1-.3 1 0 .5-.5 .1 .3 .4 1 .5-.2 .2-.3 .2-.5 .1-.2 .5 .5 .1 .2 .1 .5 .2 .5 .1 .3 .1-.3 .4-1 0-.1 .1-.4 .3-1.5 .1-.3 .1-.2 .2-.5 .1-.5 .1-.2 .1 .2 .3 .5 .1 .1 .1 .4 .2 1 .2 .5 0 .1 .5 0 0-.1 .4-2 0-.5 .1-.4 0-.1 .4-1 .1-.4 .1 .4 .2 .5 .2 .4 0 .1 .3 .5 .2 .4 .5-.1 .1-.3 .4-1 0-.1 .2-.4 .2-.5 .1-.3 .1-.2 .2-1 .2-.5 0-.2 .3-.3 .2-.3 .3 .3 .2 .1 .3 .4 .2 .2 .1 .3 .3 .5 .1 .2 .2-.2 .3-.2 .1-.3 .1-.5 .2-.5 .1-.5 .4 .5 .1 .1 .1-.1 .4-.3 .5-.1 .5 0 0-.1 .5-2.5 0-.3 .3-.2z"/>
<path fill-rule="evenodd" fill="#ed9676" d="M309.6 98.3l.1 .3 .4 1 .1 .5 .2 .5 .1 .5 .1 .4 0 .1 .4 1 .1 .3 .4-.3 .1-.1 .2-.4 .2-.5 .1-.2 0 .2 .1 .5 0 1 .1 .5 0 1.5 .1 .5 0 2 .1 .5 0 2.5 .1 .5 0 1.6 .5-.5 .3 .4 .2 .3 .3 .2 .2 .2 .5 .2 .5-.3 .1-.1 .4-.2 .5-.5 .1 .2 .3 .5 .1 .2 .2 .3 .3 .3 .1 .2 .4 .5 .5-.4 .5-.5 .2 .4 .3 .5 .4 1 .1 .2 .4 .3 .6 .6 .3 .4 .2 .3 .4 .2 .1 .1 .1-.1 .4-.3 .1-.2 .5-.5 .4-.2 .2-.3 .3-.3 .5 .1 .4 .2 .1 .1 .3 .4 .2 .4 .5-.4 .5-.2 .3 .2 .2 .1 .5 .1 .3 .3 .2 .3 .2 .2 .3 .5 .5-.1 0 .1 .3 .5 .2 .3 .1 .2 .2 .5 .2 .4 .5-.1 .2-.3 .3-.4 .1-.1 .8-2 .1-.2 .2 .2 .3 .4 .2 .1 .3 .1 .1-.1 .2-.5 .2-.3 .5 0 .5 .2 .5-.5 .5-.3 .3-.1 .2-.1 .1 .1 .4 .3 .4-.3 .6-.6 .5-.3 .5 .3 .1 .1 .4 .3 .5-.2 .5 0 .3 .4 .2 .3 .5 .2 .1 0 .4-.1 .3-.4 .2-.3 .2-.2 .3-.4 .5 .1 .5 .2 .6 .6 .3 .5 .1 .3 .3 .2 .2 .2 .1-.2 .3-.5 .1-.2 .5-.2 .5 .2 .5-.5 .2-.3 .3-.5 .5 .3 .3-.3 .2-.3 .1-.2 .1-.5 .2-.5 .1-.3 .1-.2 .4-.5 .5 0 .3 .5 .4 1 .3 .5 .5 .4 .5 0 .5-.2 .5 0 .1-.2 .4-.5 .2-.5 .1-.5 .2-.5 0-.2 .2-.3 .3-.5 .3 1.5 .2 .5 0 .1 .2 .4 .2 .5 .1 .1 .1-.1 .4-.3 .1-.2 .1-.5 .2-.5 .1-.3 .1-.2 .2-.5 .2-.4 .5 0 .1-.1 .4-.2 .1-.3 .3-.5 .1-.2 .5 .5 .1 .2 .2 1 .2 .5 0 .2 .1 .3 .4 1 0 .1 .2-.1 .3-.2 .1-.3 .4-1 .5-.2 .1 .2 .2 .5 .2 .4 .2-.4 .3-.5 0-.1 .3-.4 .2-.3 .2-.2 .3-.4 .5 0 .1 .4 .2 .5 .1 .5 .1 .2 .5-.5 .1-.2 .6-1.5 .3-.5 0-.1 .5-.1 .4 .2 .1 0 .4-1 .1-.2 .1-.3 .3-.5 .1-.4 .1-.1 .4-.5 0-.1 .5 .5 0 .1 .3 .5 .2 .4 .3-.4 .2-.2 .5-.1 .1 .3 .2 1 .2 .5 0 .2 .5 .1 .1-.3 .3-1.5 .1-.3 0-.2 .4-2 .1-.4 .3 .4 .2 .3 .1 .2 .3 .5 .1 .1 0-.1 .2-.5 .2-1 .1-.2 .1-.3 .2-.5 .2-.4 .6-.6 .4-.5 .2 .5 .1 .5 .2 .4 0 .1 .3 .5 .2 .5 .5 .2 .5-.1 0-.1 .4-1 .1-.2 .1-.3 .3-.5 .1-.2 .1-.3 .3-.5 .1-.3 .1-.2 .1-.5 .2-.5 .1-.4 0-.1 .2-.5 .1-.5 .2-.5 0-.1 .5-.1 .1 .2 .2 .5 .2 .4 .1 .1 .8 1 .1 .2 .2 .3 .3 .3 .5 0 .1-.3 .4-1 0-.2 .1-.3 .2-.5 .1-.5 .1-.3 .1 .3 .1 .5 .2 .5 .1 .3 0 .2 .5 2.5 0 .5 .1 .5 0 1 .1 .5 0 1 .1 .5 0 1.5 .1 .5 0 2.5 .1 .5 0 1.5 .1-.5 .4-1 .5-.1 .5 .5 0 .1 .4 .5 .1 .1 .2 .4 .2 .5 .1 .2 .5 .1 .5 .2 .1 0 .4 .1 .3 .4 .2 .3 .1 .2 .4 .4 .5 .1 .5 .2 .4 .3 .1 0 .3 .5 .2 .3 .4-.3 .6-.6 .3-.4 .2-.2 .4-.3 .1-.1 1-.4 .5 0 .3 .5 .2 .3 .5 0 .2 .2 .3 .2 .5 .3 .5-.2 .5 .2 .5 .4 .1 .1 .4 .2 .5 .2 0 .1 .4 .5 .1 .2 .2 .3 .6 1 .2 .3 .4 .2 .1 0 .5-.4 0-.1 .4-.5 .1-.2 .5 .2 .3 .5 .7 .7 .2-.2 .3-.2 .1-.3 .2-.5 .2-.4 .1-.1 .3-.5 .1-.2 .5-.3 .5 .4 .5 0 .5-.3 .6-.6 .4-.5 .5 0 .5 .4 .5-.2 .4-.2 .1-.1 1-.2 .2-.2 .3-.2 .2 .2 .3 .2 .3 .3 .2 .1 .5 .2 .5 0 .5-.3 .4-.5 1.1-1.1 .5-.4 .5 .5 0 .1 .5 .2 .5 0 .4 .2 .2 0 .4-.1 .5-.4 .4 .5 .1 0 .5 .3 .1-.3 .3-.5 .1-.3 .2-.2 .3-.2 .4-.3 .1 0 .5-.2 .1 .2 .4 .5 .3 .5 .2 .2 .5 .1 .2-.3 .3-.4 .1-.1 .4-.5 0-.1 .1 .1 .4 .2 .5 .2 .2-.4 .3-.5 .5-.2 .5-.1 .5 .2 .5 0 .3-.4 .2-.3 .4 .3 .1 .1 .5-.1 .5 .2 .5-.2 .5-.3 .5 0 .5 .1 .2-.3 .3-.5 0-.1 .5 .1 .5-.5 .2-.5 .1-.5 .2-.5 .4-.5 .1-.2 .4-.3 .1-.1 .1 .1 .3 .5 .1 .1 .3 .4 .2 .3 .1-.3 .3-.5 .1-.3 .1-.2 .3-.5 .1-.3 .2 .3 .3 .5 .2-.5 .3-.5 0-.1 .2 .1 .3 .2 .1 .3 .1 .5 .2 .5 .1 .5 .5-.3 .3-.2 .2-.2 .1 .2 .4 .5 .5-.5 .4-.5 .1-.1 .3-.4 .2-.3 .5-.2 .5 .3 .3 .2 .2 .1 .1-.1 .2-.5 .2-.4 0-.1 .2-.5 .1-.5 .2-.5 0-.1 .1-.4 .2-.5 .1-.5 .1-.4 .5 .5 .1 .4 .2 .5 .2 .4 .5-.2 .5 .2 .3 .1 .2 .1 0-.1 .3-.5 .2-.4 .5-.5 0-.1 .4-1 .1-.2 .1-.3 .3-.5 .1-.3 .1 .3 .3 1.5 .1 .2 .1 .3 .2 .5 .1 .5 .1 .2 .1-.2 .3-.5 .1-.1 .1-.4 .1-.5 .2-.5 .1-.5 .2-.5 .3-.5 .5 .4 0 .1 .3 .5 .2 .4 .5-.3 0-.1 .4-1 .1-.3 .2-.2 .3-.4 .5-.5 .5-.1 .5 .5 .4-.5 .1-.1 .2-.4 .2-.5 .1-.2 0 62.4-.2-.2-.3-.5-.5-.5-.3 .5-.5 .5-.2 .1-.1-.1-.4-.5 0-.1-.5-.4-1 0-.5-.4-.1-.1-.4-.5-.3-.5-.2-.3-.1-.2-.3-.5-.1-.1-.5-.4-1 0-.5-.2-1-.2 0-.1-.4-.5-.1-.2-.5-.2-.5 .4-.1 0-.4-.1-.2-.4-.3-.5-.5 .1-.3-.1-.2-.1-.5-.5-.1 .1-.4 .3-.5 .1-.5-.3-.1-.1-.4-.3-.5-.2-.5 .1-.5 .5-.5 .2-1-.2-.2-.1-.3-.2-.5-.1-.5 0-.5-.5-.5-.2-.3-.5-.2-.4 0-.1-.4-1-.1-.4-.1-.1-.3-.5-.1-.1-.5 .1-.5-.1-.3-.4-.2-.3-.1-.2-.4-.5-.5 .2-.5 .1-.1-.3-.2-.5-.1-.5-.1-.3-.1-.2-.3-.5-.1-.3-.1 .3-.3 .5-.1 .2-.2 .3-.3 .5 0 .1 0-.1-.3-.5-.2-.4 0-.1-.2-.5-.1-.5-.2-.5-.5 0-.4 .5-.1 .1-.5-.1-.4-.5-.1-.1-.3-.4-.2-.2-.1-.3-.3-.5-.1-.1-.1-.4-.2-.5-.2-.4 0-.1-.3-.5-.2-.3-.2 .3-.2 .5-.1 .1-.2 .4-.3 .5-.5-.2-.1 .2-.4 .5-.1 0-.4 .1-.5 0-.3 .4-.2 .3-.1 .2-.3 .5-.1 .2-.2-.2-.3-.4-.1-.1-.8-1-.1-.2-.2-.3-.2-.5-.1-.2-.2-.3-.3-.4-.5 .5-.5 .1-.5 0-.5 .2-.5-.4-.4-.5-.6-.6-.3-.4-.2-.3-.3-.2-.2-.1-.3-.4-.2-.2-1-.2-.2 .4-.3 .5-.4 .5-.1 .2-.3-.2-.2-.2-.5 .1-.5-.1-.2-.3-.3-.5 0-.1-.3-.4-.2-.3-.5 .5-.2-.2-.3-.2-.1-.3-.3-.5-.1-.3-.5-.1-.2-.1-.3-.1-.2-.4-.3-.5-.5-.2-.1 .2-.3 .5-.1 .2-.1-.2-.4-.5-.1-.5-.2-.5-.2-1-.2-.5-.1-.5-.2-.5 0-.1-.5-.2-.4 .3-.1 .1-.5 .1-.1-.2-.4-.5-.1 0-.4 .1-.2 .4-.2 .5-.1 .2-.1 .3-.6 1.5-.3 .5 0 .1-.3 .4-.2 .2-.5-.1-.5 .4-.3 .5-.2 .2-.1 .3-.3 .5-.1 .2-.5 .5-.3-.2-.2-.2-.5-.3-.1 0-.4 .2-.2 .3-.3 .4-.1 .1-.3 .5-.1 .2-.5 .2-.5-.4-.5-.2-.2 .2-.3 .2-.4-.2-.1 0-.4-.5-.1-.2-.5-.1-.3 .3-.2 .1-.5-.1-.4-.5-.1-.1-.2 .1-.3 .2-.1 .3-.3 .5-.1 .2-.2 .3-.2 .5-.1 .1-.5-.1-.4-.5-.1-.2-.1 .2-.8 1-.1 .1-.5 .4-.2 .5-.2 1-.1 .3-.5 .2 0 3-.1 .5 0 4.5-.1 .5 0 2.5-.1 .5 0 2.5-.1 .5 0 1.5-.1 .5 0 .6-.2-.1-.3-.1-.4-.4-.1-.2-.5-.5-.5-.1-.4-.2-.3 0-.3 .1-.2-.1-.3-.1-.5 .1-.5 .2-.1-.2-.3-.5-.1-.1-.2-.4-.2-.5-.1-.3-.1-.2-.3-.5-.1-.2-.5-.3-.5 .3-.5 .2-.5 .3-.5-.1-.2-.2-.3-.5-.5-.5-.1 0-.4 .2-.4-.2-.1 0-.4-.5-.1-.2-.5 0-.5 .1-.5-.2-.3-.2-.2-.2-.2-.3-.2-.5-.1-.2-.1-.3-.2-.5-.2-.4-.1-.1-.4-.3-.2 .3-.3 .5-.5-.1-.2-.4-.3-.4-1 0-1 .2-.2-.3-.2-.5-.1-.2-.2-.3-.3-.4-.5 .5-.1-.1-.3-.5-.1-.2-.1-.3-.2-.5-.2-.4-.1-.1-.4-.3-1 .6-.3-.3-.2-.3-.1-.2-.2-.5-.1-.5-.1-.2-.1-.3-.3-.5-.1-.3-.4-.2-.1-.1-.5-.1-.2 .2-.3 .4-.1 .1-.2 .5-.2 .4-.5 .5-.5-.2-.5-.1-.1-.1-.4-.3-.1-.2-.3-.5-.6-.6-.5-.4-.5 .3-.5 .5-.2-.3-.3-.4 0-.1-.3-.5-.2-.5 0-.1-.2-.4-.2-.5-.1-.3-.1-.2-.4-1 0-.1-.5-.2-.3 .3-.2 .3-.5 .1-.3-.4-.5-.5-.2-.3-.2 .3-.3 .5 0 .1-.3 .4-.2 .3-.2-.3-.2-.5-.1-.1-.1-.4-.2-.5-.1-.5-.1-.2-.5-.3-.4 .5-.1 .1-.2-.1-.3-.2-.5-.2-.1-.1-.4-.3-.1-.2-.4-1-.3-.5-.2-.4-.2 .4-.3 .4 0 .1-.4 1-.1 .3-.3 .2-.2 .2-.1-.2-.4-.4 0-.1-.4-.5-.1-.2-.2-.3-.2-.5-.1-.3-.5-.5-.5 .5-.4 .3-.1 .1-.3 .4-.7 .7-.5-.1-.5 .1-.3-.2-.5-.5-.2-.3-.5-.2-.5 .2-.5-.2-.3-.5-.2-.4-1.5 .3-.5-.3-.1-.1-.2-.5-.1-.5-.6-.6-.5-.2-.1-.2-.2-.5-.2-.3-.2-.2-.3-.4-.1-.1-.4-.5-.5-.3-.1 .3-.2 .5-.1 .5-.1 .2-.5 .2-.2-.4-.3-.5-.4 1-.1 .3-.1 .2-.2 1-.2 .5 0 .2-.2 .3-.2 .5-.1 .3-.4 .2-.7 0-.4 .2-.5 .1-.1 .2-.5 .5-.3 .5-.1 .1-.5 .3-.5-.5-.3-.4-.2-.4-.1-.1-.4-.3-.5 .1-.2 .2-.3 .2-.2 .3-.3 .4-.1 .1-.3 .5-.1 .1-.2 .4-.3 .5 0 .1-.5 .1-.1-.2-.3-.5-.1-.3-.2-.2-.3-.4-.5 .3 0 .1-.3 .5-.2 .3-.1 .2-.3 .5-.1 .2-.4-.2-.1-.1-.3-.4-.2-.3-.5 0-.5 .1-.5 .5-.1 .2-.2 .5-.1 .5-.1 .2-.5 .5 0 2.8-.1 .5 0 4-.1 .5 0 3-.1 .5 0 2.5-.1 .5 0 1.5-.1 .5 0 .8-.5 0-.4-.3-.1-.1-.5-.4-.5-.3-.1-.2-.4-.5-.1 0-.4-.3-.5 .2-.5-.3-.2-.1-.3-.2-.1 .2-.4 .4-.2 .1-.3 .1-.2-.1-.3-.1-.5 .1-.5-.4-.1-.1-.3-.5-.1-.2-.1-.3-.4-1-.3-.5-.2-.3-.5 .3-.5 0-1-1-.5 .2-.5-.5-.3-.2-.2-.1-.5 .5-.5-.5-.1-.4-.2-.5-.1-.5-.1-.3-.1-.2-.3-.5-.1-.2-.4 .2-.1 .1-.5 .3-.5-.1-1 1-.4-.3-.6-.6-.5-.3-.5-.1-.5 .3-.5-.1-.5 0-.2-.2-.3-.4-.1-.1-.2-.5-.1-.5-.1-.1-.3-.4-.2-.3-.5 0-.5 .1-.2 .2-.3 .4-.2 .1-.3 .1-.2-.1-.5-.5-.3-.5-.5-.5-.1 0-.4 .1-.2-.1-.3-.2-.2-.3-.2-.5-.1-.1-.3-.4-.2-.3-.5 .5-.2 .3-.3 .4-.3 .1-.2 .1 0-.1-.4-1-.1-.4 0-.1-.4-1-.1-.4 0-.1-.2-.5-.1-.5-.2-.5 0-.1-.1-.4-.4-1 0-.1-.4 .1-.1 0-.5 .2-.1-.2-.4-.4-.2-.1-.3-.1-.2 .1-.3 .2-.3-.2-.2-.1-.3-.4-.2-.4-1 0-.2-.1-.3-.2-.5 0-1-1-.2 .2-.3 .2-.1 .3-.2 .5-.2 .3-.5 .1-.5-.5-.5-.4-.1 0-.4-.2-.1 .2-.4 .5-.5 .2-.5-.1-.1-.1-.4-.2-.5-.1-.5-.5-.4-.2-.1 0-.5-.1-.5 0-.5-.2-.5 .3-.3 .5-.2 .3-.5-.3-.4-.5-.1-.1-.3-.4-.2-.3-.1-.2-.3-.5-.1-.2-.5-.1-.8 .8-.2 .1-.4-.1-.1-.1-.3-.4-.2-.3-.1-.2-.2-.5-.2-.4 0-.1-.4-1-.1-.2-.5-.5-.1-.3-.2-.5-.2-.4 0-.1-.2-.5-.3-1.5-.5 .1-.5 .3 0 .1-.1 .5-.2 .5-.1 .5-.1 .3-.1 .2-.3 .5-.1 .1-.1-.1-.4-.5-.2-.5-.3-.5 0-.1 0 .1-.3 .5-.6 1.5-.1 .3-.1 .2-.2 .5-.2 .3-.3 .2-.2 .2-.5-.1-.5 0-.1 .4-.4 1 0 .1-.1 .4-.2 .5-.2 .4-.5-.5-.3-.4-.2-.2-.1 .2-.4 .5 0 .1-.5 .5-.2-.1-.3-.1-.5-.2-.1-.2-.8-2-.1-.3-.1 .3-.2 .5-.2 .3 0 .2-.2 .5-.2 1-.1 .3-.1 .2-.2 .5-.2 .4-.2 .1-.3 .3-.5-.1-.1-.2-.3-.5-.1-.2-.5-.5-.4-.3-.2 0-.4 .1-.5 .2-.1 .2-.4 .5 0 .1-.5 .2-.5 0-.5 .5-.1 .2-.4 2 0 .1-.2 .4-.2 .5-.1 .5 0 2.5-.1 .5 0 3.5-.1 .5 0 2.5-.1 .5 0 2-.1 .5 0 1.5-.1 .5 0 .6-.6-.6-.2-.5-.2-.3-.2-.2-.3-.5-.5 .3-.4 .2-.1 0-.4-.5-.1-.2-.3-.3-.2-.3-.5 0-.5 .3-.5-.5-.3-.5-.2-.4-.1-.1-.4-.5 0-.1-.3-.4-.2-.2-.5-.2-1 .2-.5 .5-.1 .2-.3 .5-.1 .1-.5 .1-.5-.5-.3-.2-.2-.2-.5-.1-.2 .3-.3 .2-.3-.2-.2-.2-.1-.3-.3-.5-.1-.3-.2-.2-.3-.2-.5-.2-.2-.1-.3-.1-.3-.4-.2-.3-.2-.2-.3-.4-.1-.1-.4-.2-1 .4-.5 .3-.1 0-.4 .3-.5 0-.5-.3-.1 0-.4-.2-.2-.3-.3-.4-.5-.1-.5 0-.5-.2-.5 .2-.5-.3-.5-.5-.3-.2-.2-.2-1-.6-.5-.2-.5-.4 0-.1-.4-1-.1-.4 0-.1-.4-1-.1-.2-1-.6-.4-.2-.1 0-.3-.5-.2-.3-.4-.2-.1-.1 0 .1-.2 .5-.3 .5 0 .1-.5 .3-1 0-.4-.4-.1-.2-.5-.2-.1-.1-.4-.5-.5-.5-.5 .2-.5-.1 0-.1-.4-1-.1-.4 0-.1-.2-.5-.1-.5-.2-.5 0-.1-.5-.3-.5 .1-.5 .5-.1 .3-.3 .5-.1 .2-.2 .3-.3 .4-.3-.4-.7-.7-.5 .2-.1 0-.4 .1-.1-.1-.4-.3-.3-.2-.2-.2-.2-.3-.3-.5-.5-.5-.3 .5-.2 .4-.4 .1-.2 0-.4-.3-.1-.2-.3-.5-.1-.1-.3-.4-.2-.2-.5-.2-.5 .1-.4 .3-.1 .1-.5 .3-.2 .1-.3 .1-.1-.1-.4-.3-.5 .1-.2 .2-.3 .4-.5-.2-.1-.2-.4-.5-.2-.5-.3-.5 0-.1-.3-.4-.2-.3-.5-.2-.1 0-.4-.2-.5-.1-.5-.5-.1-.2-.2-.5-.2-.4 0-.1-.4-1-.1-.4 0-.1-.4-1-.1-.3-.1-.2-.4-1-.4-.5-.1-.1-.1 .1-.3 .5-.1 .1-.1 .4-.1 .5-.2 .5-.3 1.5-.2 .5-.1 .5-.3 .5-.2 .5-.5 0-.4 .5-.1 .1-.3 .4-.2 .3-.5 .1-.5-.1-.5 .5-.1 .2-.3 .5-.1 .2-.3 .3-.2 .3-.5-.3-.4-.5-.6-.6-.5-.1-.1 .2-.3 .5-.1 .1-.3 .4-.2 .4-.1 .1-.2 .5-.2 .4-.1 .1-.4 .5-.1 0-.4-.1-.5-.4-.3-.5-.2-.3-.1-.2-.4-1-.5-.2-.1 .2-.3 .5-.1 .1-.5 .4-.1 0-.4 .1-.2 .4-.3 .5-.4 1-.1 .2-.3-.2-.2-.2-.5-.3-.5 0-.5-.4-.1 .4-.4 2 0 2.5-.1 .5 0 4-.1 .5 0 2.5-.1 .5 0 2.5-.1 .5 0 2-.1 .5 0 .5-.3-.5-.2-.5-.3-.5-.2-.4-.2-.1-.3-.1-.5 .1-.5 .4-.5-.5-.5-.3-.5 .1-.4 .3-.1 .1-.5-.1-.4-.5-.1-.1-.5-.2-.4 .3-.1 .1-.5-.1-.1 0-.4-.2-.2-.3-.5-.5-.3-.4-.2-.1-.3-.2-.5-.3-.5 0-.5 .3-.5-.3-.5-.4-.1-.1-.3-.5-.1-.1-.5-.2-.2 .3-.3 .3-.5 .2-.5-.5-.5-.4-.3-.1-.2-.1-.4-.4-.1-.2-.3 .2-.2 .1-.5 .4-.3-.5-.2-.3-.1-.2-.4-1 0-.1-.3-.4-.2-.2-.3 .2-.2 .1-.5 .2-.4-.3-.1 0-.3-.5-.2-.3-.1-.2-.3-.5-.1-.1-.5 0-.4 .1-.2 0-.4-.1-.5 0-.5-.5-.5-.1-.5 0-.3-.3-.2-.1-.5-.3-.5 0-1.1-1.1-.4-.5-.5-.3-.5-.5-.1-.2-.2-.5-.2-.3-.3-.2-.2-.1-.2 .1-.3 .2-.4 .3-.1 0-.4-.5-.1-.1-.1-.4-.4-1 0-.1-.3-.4-.2-.4-.2 .4-.3 .5-.5 .3-.1-.3-.3-.5-.1-.2-.5-.5-.2 .2-.3 .2-.5 0-.2-.2-.3-.4-.6-.6-.4-.5-.5-.5-.1 0-.4-.3-.1-.2-.3-.5-.1-.2-.2-.3-.2-.5-.1-.2-.1 .2-.2 .5-.2 .4 0 .1-.4 1-.1 .4-.5 .5-.5-.5-.5-.3-.5 .3-.5-.3-.5-.1-.5 .4-.5-.4-.5 .5-.3 .5-.2 .2-.5 .2-.4 .1-.2 0-.4-.1-.3-.4-.2-.3-.2-.2-.3-.5-.1 0-.4-.1-.2 .1-.3 .1-.1-.1-.3-.5-.1-.1-.3-.4-.2-.4-.1-.1-.4-.2-.4-.3-.1-.1-.5-.3-.5 0-.1-.1-.4-.3-.1-.2-.4-.5-.2-.5-.1-.5-.2-.5 0-.1-.1-.4-.1-.5 0-.5-.3-1.5 0-.5-.2-.5-.2-1 0-.5-.1-.3-.1-.2-.4-.5-.2 .5-.3 .5 0 .1-.1 .4-.4 1-.5 2.5-.4 1-.1 .4-.3 .1-.2 .1-.5-.1-.5-.4 0-.1-.4-1-.1-.2-.2-.3-.3-.5-.3 .5-.2 .3-.1 .2-.3 .5-.1 .2-.2 .3-.3 .4-.5 .5-.3 .1-.2 .1-.2 .4-.2 .5-.1 .2-.2 .3-.3 .4-.5 0-.1 .1-.2 .5-.2 .4-.1 .1-.3 .5-.1 .1-.1-.1-.3-.5-.1-.2-.2-.3-.2-.5-.1-.2-.4-.3-.1-.2-.1 .2-.3 .5-.1 .2-.2 .3-.3 .5-.4 1-.1 .3-.1 .2-.2 1-.2 .5 0 .1-.5 .5-.5-.5-.5-.1-.5 .2-.5 .1-.2-.3-.3-.5-.2-.5-.3-.5 0-.1-.5 0-.5-.3 0-.1-.1-.5-.2-.5-.7-3.5 0-19 .4-1 .1-.2 .2-.3 .3-.5 .1 0 .4-.1 0 .1 .3 .5 .2 .5 .1 0 .4 .1 0-.1 .3-.5 .2-.5 .5 .2 .2 .3 .3 .5 .1 0 .4-.2 .1-.3 .3-.5 .1-.3 .5 0 .2 .3 .2 .5 .1 .2 .2 .3 .3 .4 .1 .1 .8 1 .1 .1 .1-.1 .4-.5 .4-1 .1-.3 .5 0 .4 .3 .1 .1 .5 0 .5-.1 .5 .4 .1 .1 .4 .1 .2-.1 .3-.3 .5 0 .3-.2 .2-.1 .3 .1 .2 .1 .2 .4 .3 .5 .5-.2 .5-.1 .5 .3 .5 .4 .6 .6 .4 .5 .2 .5 .1 .5 .2 .5 0 .2 .1 .3 .2 .5 .2 .4 0 .1 .3 .5 .2 .5 .5-.3 0-.2 .2-.5 .2-1 .1-.2 0-.3 .5-2.5 0-.1 .2-.4 .3-.5 0-.1 .5-.1 .5-.3 .1 0 .4-.1 .5-.1 .4-.3 .1-.1 .5-.4 .2-.5 .3-.5 0-.1 .1 .1 .4 .3 .3 .2 .2 .2 .1-.2 .4-.5 .1 0 .4-.1 .5-.3 .5 .4 1 .4 .3 .1 .2 0 .5 .1 .2 .4 .3 .4 .3 .1 .2 .1 0-.1 .3-.5 .2-.3 .5 0 .5 .2 .2-.4 .3-.5 .1 0 .4-.2 .1 .2 .2 .5 .2 .4 0 .1 .3 .5 .6 1.5 .1 .3 .5-.2 0-.1 .4-1 .1-.3 .1-.2 .3-.5 .1-.2 .5-.3 .2-.5 .3-.5 0-.1 .1 .1 .4 .3 .1 .2 .2 .5 .2 .4 .2-.4 .3-.5 .5-.4 .1-.1 .4-.5 0-.1 .5-.3 .2-.1 .3-.1 .5-.5 .6 .6 .3 .5 .1 .1 .5 .1 .2-.2 .3-.2 .5-.5 .5 .1 .2-.4 .3-.5 .5-.5 .4 1 .1 .1 .2 .4 .3 .4 .1-.4 .2-.5 .2-.4 .2-.1 .3-.1 .3-.4 .2-.2 .1-.3 .1-.5 .2-.5 .1-.4 .3-.1 .2-.1 0 .1 .4 .5 .1 .2 .4 .3 .2 0 .4-.2 .2-.3 .3-.4 .5 .2 .1 .2 .4 1 0 .1 .2-.1 .3-.3 .1-.2 .4-1 .4 .5 .1 .1 .3 .4 .2 .3 .1-.3 .2-.5 .1-.5 .1-.3 .1-.2 .4-.5 .2 1 .2 .5 .1 .4 .1 .1 .2 .5 .2 .2 .1-.2 .2-1 .2-.5 0-.1 .1-.4 .3-1.5 0-.5 .1-.4 .1-.1 .4-.3 .1 .3 .2 1 .2 .5 .5 .2 .5-.5 .5-.1 .3 .4 .2 .4 .2-.4 .3-.4 0-.1 .4-1 .1-.2 .2-.3 .3-.5 0-.1 .2-.4 .2-.5 .1-.1 .2 .1 .3 .1 .1-.1 .4-.5 .1-.5 .2-.5 .1-.5 .1-.4 .1-.1 .4-.3 .5-.2 .1 0 .4-.1 0 .1 .2 .5 .1 .5 .2 .5 .3 .5 .2 .3 .1-.3 .1-.5 .2-.5 .1-.4 0-.1 .2-.5 .3-1.5 .5-.3 .1 .3 .3 .5 .1 .3 .5 .2 .4-.5 .1-.1 .2-.4 .3-.5 .4 .5 .1 .1 .1 .4 .4 2 0 .1 .1-.1 .4-.3 .1-.2 .3-.5 .1-.1 .2 .1 .3 .2 .1 .3 .2 .5 .2 .4 .2-.4 .2-.5 .1-.2 0 .2 .1 .5 0 1 .1 .5 0 1 .1 .5 0 2 .1 .5 0 2 .1 .5 0 1.5 .3 .5 .2 .2 .4-.2 .1-.1 .2 .1 .3 .2 .1-.2 .3-.5 .1-.2 .5 .2 .3 .5 .2 .5 .4 .5 .6 .6 .3 .4 .2 .3 .3 .2 .2 .1 .5 .1 .4-.2 .1-.1 .3-.4 .2-.3 .5-.1 .5 .4 .5 .5 .1 0 .4 .4 .2 .1 .3 .2 .4 .3 .1 .1 .5 0 .1-.1 .4-1 .3-.5 .2-.4 .5 .3 .5 0 .5 .5 0 .1 .3 .5 .2 .3 .4 .2 .2 0 .4-.3 .5 .2 .2 .1 .3 .3 .5 0 .2 .2 .3 .4 0 .1 .2 .5 .2 1 .1 .3 .1 .2 .1 .5 .2 .5 .1 .5 .5 .5 .3-.5 .2-.3 .1-.2 .2-.5 .2-.4 0-.1 .4-1 .1-.2 .1-.3 .4-1 .3-.5 .2-.2 .5 .2 .4 .5 .1 .2 .5 0 .3-.2 .2-.1 .3-.4 .2-.2 .2-.3 .3-.3 .1 .3 .2 .5 .2 .4 .1 .1 .4 .3 .2-.3 .3-.4 .1-.1 .4-.2 .5-.2 .5 .1 .5-.5 .5 0 .2 .3 .3 .3 .5-.2 .1-.1 .4-.3 .1-.2 .3-.5 .1-.2 .5 .1 0 .1 .2 .5 .3 .5 0 .1 .2 .4 .3 .5 0 .1 0-.1 .3-.5 .2-.5 0-.1 .2-.4 .2-.5 .1-.1 .5-.2 .1-.2 .3-.5 .1-.2 .4-.3 .1-.1 .2 .1 .3 .2 .2-.2 .3-.4 .5 .4 .3 .5 .2 .3 .5 .5 .5-.2 .5 .5 .2 .4 .3 .5 0 .1 .1-.1 .4-.2 .1-.3 .2-.5 .2-.4 .1-.1 .2-.5 .2-.3 .2-.2 .3-.4 .5 .3 .5-.2 .5 0 .5 .2 .5-.2 .5 .5 .1-.2 .3-.5 .1-.1 .3 .1 .2 .1 .3-.1 .2-.1 .2-.4 .3-.5 .5 .3 .5-.1 .1-.2 .2-.5 .2-.4 0-.1 .3-.5 .2-.4 .1-.1 .3-.5 .1-.1 .1 .1 .6 1.5 .3 .5 0 .1 0-.1 .4-.5 .1-.2 .4-.3 .1-.1 .5-.3 0-.1 .4-.5 .1-.2 .4 .2 .3 0 .3-.1 .2-.4 .3-.5 0-.1 .3-.4 .2-.2 .1 .2 .4 1 .1 .5 .4 1 0 .1 .5 .1 .1-.2 .2-.5 .1-.5 .1-.2 .5-.5 .2-.3 .3-.3 .1-.2 .3-.5 .1-.2 .5 .5 0 .2 .2 .5 .2 1 .1 .3 .2-.3 .3-.4 .5 .2 .2 .2 .3 .2 .1-.2 .2-.5 .1-.5 .1-.2 .2-.3 .3-.4 .1-.1 .4-.2 .2-.3 .2-.5 .1-.2 .5-.3 .5 .4 .1 .1 .3 .5 .1 .1 0-.1 .4-1 .1-.2 .1-.3 .4-2 0-.2 .2-.3 .3-.4 .2 .4 .3 .5 .5 .5 .5 .4 .1 .1 .4 .5 .2-.5 .3-.5 0-.1 .2-.4 .3-.5 0-.1 .2-.4 .3-.5 .2-.5 .1-.5 .2-.5 .2 .5 .3 .5 0 .1 .1 .4 .2 .5 .1 .5 .1 .4 .3 .1 .2 0 .1-.5 .2-.5 .2-1 .5-.4 .2 .4 .3 .5 .5-.4 .5-.5 .2 .4 .2 .5 .1 .1 .5 0 0 .4 .1 .5 0 1 .1 .5 0 1 .1 .5 0 1.5 .1 .5 0 2 .1 .5 0 1.6 .3-.1 .2-.1 .1 .1 .2 .5 .2 .3 .3 .2 .2 .2 .5 0 .1 .3 .3 .5 .1 .3 .1 .2 .4 .5 0 .1 .2-.1 .3-.1 .1 .1 .2 .5 .2 .3 .5 .5 .2-.3 .3-.5 .4-1 .1-.3 .2 .3 .3 .5 .4 .5 .1 .1 .5 .4 .1 .5 .2 .5 .1 .5 .1 .3 .5 .5 .2-.3 .3-.5 .5-.4 .2-.1 .3-.1 1-.2 .5 .2 .5-.5 .5-.3 .2 .4 .6 1 .2 .4 .5-.3 .5 .1 .5 .3 .3 .5 .2 .3 .1 .2 .4 .5 .5 .3 .1-.3 .4-1 .5-.4 .2 .4 .2 .5 .1 .4 .1 .1 .1 .5 .2 .5 .1 .5 0 .1 .5 .3 .5-.1 .1-.3 .2-1 .2-.5 0-.1 .1-.4 .4-1 .5-.4 .1-.1 .4-.2 .4-.3 .1-.1 .5-.3 .5 0 .5 .2 .2 .2 .3 .5 .4-.5 .1-.2 .2-.3 .3-.4 .1-.1 .4-.5 .1 0 .4 .1 .5 .3 .5 0 .1 .1 .4 .3 .4 .2 .1 0 .5 .1 .5 .2 .5 .1 .5-.4 1 0 .5-.4 .5-.5 .5 .1 .5 .5 1 0 .1-.2 .3-.5 .1-.1 .2 .1 .3 .3 .1 .2 .3 .5 .1 .3 .1-.3 .3-.5 .1-.2 .3-.3 .2-.3 .2 .3 .3 .4 .5-.3 .5 .4 .1 0 .4-.2 .4-.3 1.1-1.1 .1 .1 .4 .3 .5 0 .1 .2 .4 .4 0 .1 .3 .5 .2 .3 .2-.3 .3-.3 .1-.2 .2-1 .2-.5 0-.1 .3-.4 .2-.2 .5 .5 .5-.3 .3-.5 .2-.3 .1-.2 .1-.5 .2-.5 .1-.4 .1-.1 .3-.5 .1-.2 .4 .2 .1 0 .2 .5 .3 .4 0 .1 .2 .5 .1 .5 .2 .5 0 .1 .5 .4 .5-2.5 0-.1 .3-.4 .2-.2 .1 .2 .4 1 0 .1 .3 .4 .2 .4 .4 .1 .1 0 .3-.5 .2-.5 .5-.4 .2 .4 .3 .5 .4-1 .1-.3 .1-.2 .2-1 .2-.5 0-.1 .5 0 .4 .1 .2 0 .4-.3 .1 .3 .3 .5 .1 .2 .4-.2 .1 0 .2-.5 .3-.5 .4 .5 .1 .2 .1 .3 .2 .5 .1 .5 .1 .2 .1-.2 .2-.5 .2-.4 0-.1 .2-.5 .1-.5 .2-.5 0-.1 .2-.4 .3-.5 0-.1 .1 .1 .4 .3 .1 .2 .2 .5 .2 .4 .5-.1 .1-.3 .4-2 0-.1 .1-.4 .4-1 0-.1 .1 .1 .6 1.5 .3 .5 .1 0 .4-.1 .1-.4 .4-1 .3-.5 .6-1.5 .1-.4 .1-.1 .3-.5 .1-.1 .5-.1 .5 .2 .3 .5 .2 .3 .5-.2 0-.1 .4-1 .1-.4 .3 .4 .2 .3 .4-.3 .1-.1 .5-.1 .5 0 .1-.3 .4-2z"/>
<path fill-rule="evenodd" fill="#dd6f59" d="M380.1 103.9l.1 .2 .2 .5 .2 .4 .6 .6 .4 .5 .3 .5 .2 .3 .5 0 .1-.3 .4-1 0-.1 .1-.4 .2-.5 .1-.5 .1-.4 .1 .4 .2 .5 .2 .4 0 .1 .4 2 0 .5 .1 .3 0 .7 .1 .5 0 1.5 .1 .5 0 2 .1 .5 0 3.5 .1 .5 0 22.5-.1 .5 0 5.5-.1 .5 0 3.5-.1 .5 0 3-.1 .5 0 .9-.2 .1-.3 .1-.1-.1-.4-.5-.3-.5-.2-.3-.4-.2-.1 0-.5-.2-.4 .2-.1 .1-.5 0-.5 .2-.2 .2-.3 .2-.1-.2-.3-.5-.1-.3-.1-.2-.1-.5-.2-.5-.1-.5-.4-1-.1-.3-.3-.2-.2-.1-.2 .1-.3 .3-.4 .2-.5 .5-.1 .2-.5 0-.1-.2-.4-.5-.5-.5-.1 0-.4 .4-.5-.3-.1-.1-.2-.5-.2-.3-.5-.1-.5 .4-.5-.2-.2-.3-.3-.4 0-.1-.4-1-.1-.5-.2-.5-.2-1-.1-.2-.5-.2-.1 .4-.2 .5-.2 .4-.5-.1-.2-.3-.2-.5-.1-.1-.3 .1-.2 .1-.5 0-.5 .2-.5 .1-.1-.4-.4-1-.3-.5-.2-.5-.3 .5-.2 .3-.1-.3-.4-1-.1-.5-.2-.5-.1-.5-.1-.4-.2-.1-.3-.2-.1 .2-.4 .5-.5 .5-.3-.5-.2-.4 0-.1-.5-2.5-.4-1-.1-.4-.6-.6-.4-.3-.1 .3-.2 .5-.2 .4 0 .1-.3 1.5-.2 .5 0 .2-.1 .3-.4 1 0 .1-.3-.1-.2 0-.5-.3-.2-.2-.3-.4 0-.1-.3-.5-.2-.5-.3-.5-.2-.4 0-.1-.3-.5-.2-.3-.5 .5-.1 .3-.4 1 0 .1-.1-.1-.4-.5-.1-.5-.2-.5-.2-1 0-.1-.1-.4-.4-2 0-.5-.5-2.5 0-.3-.5-.5-.1 .3-.2 1-.2 .5 0 .1-.5 .4-.2-.5-.3-.5 0-.1-.2-.4-.3-.4-.1 .4-.4 2 0 .1-.1 .4-.2 .5-.1 .5-.1 .3-.1-.3-.3-1.5-.1-.3 0-.2-.2-1 0-.5-.1-.5 0-.5-.1-.5 0-1-.1-.5 0-2 .1-.5 0-.5 .1-.5 0-.5 .1-.5 0-.5 .2-1 0-.1 .1-.4 .2-.5 .1-.5 .1-.3 .1 .3 .4 1 .4 2 .1 .3 .5-.2 0-.1 .5-.5 .5 .3 .1 .2 .4 1 0 .2 .3-.2 .2-.1 .1-.4 .3-1.5 .1-.4 0-.1 .4-2 .1-.3 .1-.2 .1-.5 .2-.5 .1-.4 .2 .4 .2 .5 .1 .2 .1 .3 .4 1 0 .1 .5 0 0-.1 .3-.5 .2-.5 0-.1 .2-.4 .2-.5 .1-.2 1-1 .2-.3 .3-.5 .5 .4 0 .1 .2 .5 .2 1 .1 .4 0 .1 .2 .5 .2 1 .1 .4 .5 .5 .2-.4 .3-.5 .5-.3 .5-.1 0-.1 .2-.5 .2-1 .1-.2 .2-.3 .3-.5 .5-.1 .2 .1 .3 .2 .1 .3 .3 .5 .1 .2 .1-.2 .2-.5 .2-.3 .1-.2 .1-.5 .2-.5 .1-.2 .4-.3 .1-.1 1-.8 .1-.1 .3-.5 .1-.2 .2-.3 .3-.5 .5-.5 1 1 .5-.5 .5 .5 .2 .5 .1 .5 .2 .4 .5-.5 .1-.4 .3-1.5 .1-.2 .1-.3 .4-2 0-.1 0 .1 .5 .5 .3 .5 .2 .4 .1-.4 .4-1 0-.1 .2-.4 .2-.5 .1-.4 .1-.1 .4-.3 .4-.2 .1 0 .3 .5 .2 .4 0 .1 .4 .5 .1 .1 .5 .2 .4 .2 .1 .1 0-.1 .3-.5 .2-.3 .1-.2 .4-.4 0-.1 .3-.5 .2-.4 0-.1 .2-.5 .2-1 .1-.2 .1-.3 .3-1.5 .1-.2 .3-.3zM309.6 104.8l.2 .3 .3 .5 .1 .5 .4 1 0 .1 .2 .4 .2 .5 .1 .3 .3-.3 .2-.3 .1-.2 .3-.5 .1-.2 0 .7 .1 .5 0 2 .1 .5 0 2.5 .1 .5 0 3.5 .1 .5 0 21.5-.1 .5 0 5.5-.1 .5 0 3.5-.1 .5 0 3-.1 .5 0 1-.5 0-.4-.5-.1-.1-.5-.3-.3-.1-.2-.1-.3-.4-.2-.3-.3-.2-.2-.1-.5 0-.5-.2-.3-.2-.2-.1-.1 .1-.2 .5-.2 .3-.3 .2-.2 .2-.3-.2-.2-.1-.2 .1-.3 .1-.2-.1-.3-.1-.2-.4-.2-.5-.1-.1-.1-.4-.2-.5-.1-.5-.1-.3-.1-.2-.2-.5-.2-.4-.5 .4-.5 0-.3-.5-.2-.3-.5-.5-.3 .3-.2 .1-.2-.1-.3-.3-.3-.2-.2-.2-.2 .2-.3 .4-.2-.4-.3-.4 0-.1-.1-.5-.2-.5-.2-1 0-.1-.2-.4-.2-.5-.1-.3-.5 .5-.5 .3-.5-.1-.1 .1-.4 1-.3 .5-.2 .4-.5-.5-.3-.4-.2-.3-.5-.2-.5 0-.5 .5-.5 0-.5-.2-.2-.3-.3-.5-.1-.5-.2-.5-.1-.5-.1-.2-.2-.3-.2-.5-.1-.1-.5-.2-.4 .3-.1 .1-.2 .4-.2 .5-.1 .3-.1 .2-.4 .5-.4-.5-.1-.1-.1-.4-.2-.5-.2-.4 0-.1-.4-.5-.1-.2-.1 .2-.4 .5-.5-.2-.1-.3-.6-1.5-.3-.5 0-.1-.1 .1-.4 .5-.4 1-.1 .2-.4 .3-.1 .1 0-.1-.1-.5-.2-.5-.2-1 0-.1-.1-.4-.4-2 0-.5-.3-1.5 0-.5-.2-1 0-.5-.1-.5 0-.5-.2-1 0-.5-.1-.5 0-.5-.1-.5 0-.9-.1 .4-.2 1-.6 1.5-.1 .1-.1-.1-.4-1 0-.1-.5-.2-.1 .3-.2 .5-.2 .4-.2-.4-.2-.5-.1-.2-.1-.3-.1-.5 0-.5-.1-.5 0-.5-.1-.5 .1-.5 0-.5 .1-.5 .2-.5 0-.1 .2-.4 .3-.5 .3 .5 .2 .4 .5 0 .2-.4 .3-.5 .2 .5 .3 .5 0 .1 .2 .4 .1 .5 .2 .5 0 .2 0-.2 .1-.5 0-.5 .2-1 0-.5 .1-.5 .1-.2 0-.3 .5-2.5 0-.2 .1-.3 .1-.5 .2-.5 .1-.3 .5-.5 1 0 .1-.2 .4-.5 .2-.5 .3-.5 0-.1 .5-.4 .4 .5 .1 .1 .1 .4 .4 1 0 .1 .5 .1 0-.2 .2-.5 .3-1.5 0-.2 .2-.3 .3-.4 .1 .4 .2 .5 .2 .4 0 .1 .3 .5 .2 .5 .5 .4 .2-.4 .3-.4 .1-.1 .4-.5 .5 0 .4-1 .1-.2 .1-.3 .4-1 0-.1 .5 0 .1 .1 .4 .3 .5-.2 .3 .4 .2 .3 .4-.3 .1-.1 .2-.4 .3-.5 .3 .5 .2 .4 0 .1 .2 .5 .1 .5 .2 .5 .4-.5 .1-.2 .1-.3 .3-.5 .1-.3 .3-.2 .2-.2 .5-.3 .5 0 .5-.3 .1-.2 .1-.5 .2-.5 .1-.4 0-.1 .4-1 .1-.3 .2 .3 .3 .5 .2 .5 .3 .5 0 .1 .2-.1 .3-.2 .1-.3 .4-1 0-.1 .3-.4 .2-.3 .1-.2 .3-.5 .1-.2 .1-.3 .3-.5 .1-.2 .2-.3 .3-.4 .3-.1 .2-.1 .1 .1 .3 .5 .1 .1 .5 0 0-.1 .4-1 .1-.2 .1 .2 .3 .5 .1 .1 .5-.1 .1 0 .4-.1 .5 0 .1-.4 .2-.5 .1-.5 .1-.4 .1-.1zM458.1 104.7l0 49.5 0-.1-.3-.5-.2-.4-.1-.1-.4-.5 0-.1 0 .1-.2 .5-.3 .5 0 .1-.4 .4-.1 .2-.1-.2-.3-.5-.1-.2-.2-.3-.3-.4-1 0-.2-.1-.3-.2-.3-.3-.2-.3-.1-.2-.8-2-.1-.2-.5-.5-.4 .2-.1 0-.5 .4-1-.4-.1 0-.4-.1-.2-.4-.2-.5-.1-.2-.5-.1-.2 .3-.3 .5-.5-.1-.2-.4-.3-.5 0-.1-.2 .1-.3 .2-.3-.2-.2-.1-.2-.4-.3-.4-.5 .5-.5 .3-.5-.3-.2-.1-.3-.3-.3-.2-.2-.1-.4 .1-.1 0-.2 .5-.3 .4 0 .1-.5 .5-1-.2-.5-.2-1 .2-.2-.3-.3-.3-.3-.2-.2-.2-.1-.3-.4-1-.1-.5-.2-.5-.2-1-.3-.5-.2-.4-.5 .2-.5-.1-.1-.2-.8-2-.1-.1-.1 .1-.4 .3-.4 .2-.1 .1 0-.1-.5-2.5-.2-.5-.2-1-.1-.2 0 .2-.2 .5-.2 1-.1 .2-.1 .3-.1 .5-.2 .5-.1 .3-.1-.3-.2-.5-.1-.5-.1-.2-.1-.3-.2-1 0-.5-.2-1-.5 .3-.1 .2-.4 1-.5 0-.3-.5-.2-.4-.1-.1-.2-.5-.2-.4 0-.1-.2-.5-.1-.5-.2-.5 0-.1-.1-.4-.2-1 0-.5-.2-1 0-.3-.1-.2-.2-1 0-.5-.2-1 0-.2 0 .7-.1 .5 0 .5-.3 1.5 0 .5-.1 .3 0 .2-.2 .5-.2 1-.1 .3-.4-.3-.1-.1 0 .1-.4 1-.1 .4-.1 .1-.4 .5-.5 .2-.1 .3-.4 1-.1 .5-.4 1-.3-.5-.2-.3-.1-.2-.1-.5-.2-.5-.1-.3-.1-.2-.3-.5-.1-.3-.1-.2-.1-.5-.2-.5-.1-.5-.2-.5-.1-.5-.2-.5 0-.1 0 .1-.2 .5-.3 .5 0 .1-.5 .4-.5 .2-.2 .3-.3 .3-.5-.5-.1-.3-.8-2-.1-.3 0-.2-.2-.5-.3-1.5-.4-1-.1-.5 0-1.2 .1-.3 .1-.5 .3-.5 .1-.5 .2-.5 .1-.5 .1-.2 .1-.3 .3-.5 .1-.2 .1-.3 .3-.5 .1-.3 .5 .1 .2 .2 .3 .2 .5 .2 .2 .1 .5 .5 .3 .5 .4-1 .1-.1 .3-.4 .2-.3 .3-.2 .2-.1 .1-.4 .2-.5 .2-.4 .1-.1 .4-.5 .5 .5 .4 .5 .1 .2 .3 .3 .2 .3 .2 .2 .6 1 .2 .5 .5-.5 .3 .5 .1 .5 .1 .2 .1 .3 .2 1 0 .5 .1 .5 0 .5 .1 .5 0 .2 0-.2 .4-2 .1-.2 0-.3 .4-2 .1-.3 .1-.2 .2-.5 .2-.4 .1-.1 .4-.5 .5-.3 .5 .1 .4 .2 .6 .6 0-.1 .2-.5 .1-.5 .2-.5 .5-.5 .4 .5 .1 .2 .2 .3 .3 .5 0 .1 0-.1 .3-.5 .2-.3 .1-.2 .2-.5 .2-.4 .1-.1 .4-.3 .5 .2 .3-.4 .2-.4 0-.1 .4-1 .1-.4 .5-.5 .2-.1 .3-.1 .2 .1 .3 .1 .1-.1 .4-.2 .1-.3 .4-1 .3-.5 .2-.4 .5 .5 .1-.1 .3-.5 .1-.2 .3 .2 .2 .1 .1 .4 .4 1 .1 0 .4-.1 .5-.3 .3 .4 .2 .3 .5 0 .4-.3 .1-.1 .3-.4 .2-.2 .5-.3 .5 .2 .3 .3 .2 .1 .5-.5 0-.1 .4-1 .1-.5 .4-1 .1-.5 .4 .5 .1 .1 .3 .4 .2 .3 .5-.1 .4 .3 .1 .1 .5 .2 .1-.3 .2-.5 .2-.4 .2-.1 .3-.3 .1-.2 .3-.5 .1-.3 .1-.2 .3-.5 .1-.2 .1 .2 .2 1 .2 .5 0 .1 .1 .4 .4 1 .3-.5 .2-.3 .1-.2 .3-1.5 .1-.3 .1-.2 .4-1 0-.1 .2 .1 .3 .1 .2 .4 .3 .4 .5-.2 .1-.2 .4-1 .3-.5 .2-.3 .1-.2 .4-.5 .5 .3 .1 .2 .3 .5 .1 .2 .1-.2 .3-.5 .1-.1 .1-.4 .2-.5zM162.1 105.9l.1 .2 .3 .5 .1 .2 .5 .3 .5-.1 .3-.4 .2-.4 .5 .4 .3 1.5 .2 .5 0 .1 .5 0 .1-.1 .4-.5 .5 .3 .5 .5 .1-.3 .4-1 0-.1 0 .6 .1 .5 0 2 .1 .5 0 2 .1 .5 0 3.5 .1 .5 0 7.5 .1 .5 0 2.5-.1 .5 0 10.5-.1 .5 0 5-.1 .5 0 3.5-.1 .5 0 3-.1 .5 0 1-.2-.5-.1-.5-.4-1-.3-.5 0-.1-.5-.1-.5 .2-.4 .5-.1 .1-.1-.1-.4-.2-.4-.3-.1-.1-.2 .1-.3 .1-.3 .4-.2 .2-.5 .1-.2-.3-.3-.4-.3-.1-.2-.1-.5 .5-.5-.1-.5-.2-.1-.1-.4-.3-.1-.2-.4-.5 0-.1-.5-.3-.1-.1-.4-.2-.5-.2-.5 .5-.3-.1-.2-.1-.3-.4-.2-.2-.2-.3-.2-.5-.1-.1-.5-.4-.2 .5-.3 .5-.5 .5-.4-.5-.6-.6-.5-.2-.5-.5-.5 .5-.4 .3-.1 0-.4-1-.1-.3-.1-.2-.1-.5-.2-.5-.1-.5-.5-.5-.5 .4-.1 .1-.4 .2-.3-.2-.2-.1-.2-.4-.2-.5-.1-.1-.1-.4-.2-.5-.2-.4-.5 .2-.5 .5-1 0-.2-.3-.3-.5-.5 .1-.5 .3-.3-.4-.7-.7-.5 0-.2-.3-.3-.4 0-.1-.3-.5-.2-.3-.1-.2-.4-.5-.5-.3-.2-.2-.3-.5-.1-.5-.2-.5-.1-.5-.1-.4-.1-.1-.4-.3-.2 .3-.3 .5-.4 .5-.1 .1-.1-.1-.2-.5-.2-.4 0-.1-.2-1-.2-.5-.1-.5 0-.2-.1-.3-.4-1-.1 .5-.2 .5-.1 .5-.1 .4-.1 .1-.3 .5-.1 .1 0-.1-.2-.5-.2-1-.1-.4-.1-.1-.4-1-.2 .5-.3 .5 0 .1-.1-.1-.4-.2-.2-.3-.2-.5-.1-.1-.3-.4-.2-.3-.1-.2-.3-1.5-.1-.3-.1-.2-.5-2.5 .1-.5 0-.1 .1-.4 .1-.5 .2-.5 .1-.2 .1-.3 .2-1 .2-.5 .5-.3 .5 0 .5-.5 .5 .5 .1-.2 .3-.5 .1-.2 .1-.3 .4-1 0-.1 .6 .6 .4 1 .4-.5 .1-.1 .2-.4 .2-.5 .1-.1 .5-.4 .5 .1 .5 .4 .5-.2 .1-.3 .2-.5 .1-.5 .1-.2 .2-.3 .3-.3 .2 .3 .3 .3 .5 .2 .4-1 .1-.2 .4-.3 .1-.1 .5-.4 .4-1 .1-.3 .3-.2 .2-.2 .1 .2 .3 .5 .1 .1 .5 .3 .9-.9 .2 0 .4 .2 .1 .3 .2 .5 .2 .4 .5-.1 .1-.3 .4-1 0-.1 .5 0 .5 .5 .2-.4 .2-.5 .1-.2 .5-.2 .2 .4 .2 .5 .1 .3 .5 .1 .1-.4 .1-.5 .2-.5 .1-.4 0-.1 .1-.5 .2-.5 .2-1 0-.1 .5 0 0 .1 .4 1 .1 .2 .5 .1 .5-.5 .5-.3 .3 .5 .2 .4 .5-.3 .1-.1 .2-.5 .2-.4 .1-.1 .2-.5 .2-.4 0-.1 .3-.5 .2-.4 .5 .1 .4-.2 .1 0 .2-.5 .1-.5 .2-.5 0-.1 .5-.4 .5-.3 .3-.2 .2-.1 0 .1 .4 1 .1 .1 .3 .4 .2 .3 .1-.3 .4-1 0-.1 .1-.4 .2-.5 .1-.5 .1-.3 .3-.2zM234.6 106.6l.3 .5 .2 .4 0 .1 .1 .5 .2 .5 .1 .5 .1 .4 .5 .1 .2-1 .2-.5 .1-.5 0-.1 .3-.4 .2-.3 .2 .3 .2 .5 .1 .2 .5-.1 .1-.1 .3-.5 .1-.2 .2 .2 .3 .4 .5-.2 0 .8 .1 .5 0 1.5 .1 .5 0 2 .1 .5 0 3.5 .1 .5 0 7.5 .1 .5 0 4-.1 .5 0 10.5-.1 .5 0 5-.1 .5 0 3-.1 .5 0 2.5-.1 .5 0 1.2-.1-.2-.4-.5-.3-.5-.2-.4 0-.1-.3-.5-.2-.4-.5 .4-.5 .5-.3-.5-.2-.4 0-.1-.3-.5-.2-.5-.5 .1-.3 .4-.2 .4-.5-.4-.4-1-.1-.4-.1-.1-.2-.5-.2-.3-.1-.2-.3-.5-.1-.3-.5-.2-.5 .4-.2 .1-.3 .2-.1 .3-.3 .5-.1 .2-.1 .3-.4 1 0 .1-.5 .2-.2-.3-.6-1-.2-.3-.5 .2 0 .1-.3 .5-.2 .4-.3-.4-.2-.2-.1-.3-.2-.5-.1-.5-.1-.3-.5-.5-.4-.2-.1 0-.5-.4 0-.1-.3-.5-.2-.3-.2-.2-.3-.5 0-.1-.5-.4-.3 .5-.2 .3-.5 .5-.3 .2-.7 .7-.5 .1-.5-.5-.5-.2-.1-.1-.4-.5-.1 0-.4 .1-.5 0-.2-.1-.3-.2-.5 .5-.5-.3-.3-.5-.2-.2-.2-.3-.3-.4-.2-.1-.3-.2-.5-.5-.5 0-.5-.3-.4-2-.1-.4 0-.1-.2-.5-.3-1.5-.4-.5-.6-.6-.5-.2-.1-.2-.2-.5-.1-.5-.1-.3-.3-.2-.2-.2 0 .2-.4 2-.1 .3-.2 .2-.3 .4-.2 .1-.3 .1-.5 .1-.2-.2-.3-.5-.1 0-.4-.3-.1-.2-.4-.5 0-.1-.3-.4-.2-.3-.4 .3-.1 .1-.2-.1-.3-.2-.1-.3 0-.5-.3-1.5 0-.5-.2-1 0-.5-.2-1 0-.5-.1-.5 0-.5-.1-.5 0-.8-.3-.2-.2-.2-.1 .2-.2 .5-.2 .3 0 .2-.2 .5-.2 1-.1 .2 0 .3-.4 2-.1 .4 0 .1-.2 .5-.2 1-.1 .2-.1-.2-.2-.5-.2-.3-.1-.2-.4-1-.4 .5-.1 .2-.5 .2-.2-.4-.6-1-.2-.3 0-.2-.2-.5-.1-.5 0-.5-.1-.5-.1-.4 0-.1-.4-2 0-1 .3-1.5 .1-.4 0-.1 .2-1 .2-.5 .1-.5 .4-.5 .1-.1 .2-.4 .3-.5 0-.1 .5 0 .1 .1 .4 .5 .3-.5 .2-.5 .5-.4 .1 .4 .2 .5 .1 .5 .1 .2 .1 .3 .3 1.5 .1 .3 .1 .2 .2 .5 .1 .5 .1 .3 .1 .2 .3 .5 .1 .2 .5-.2 0-.5 .2-1 0-.5 .1-.5 .2-.5 0-.2 .1-.3 0-.5 .2-.5 .2-1 0-.1 .3-.4 .2-.2 .5 0 .5-.2 .5-.5 .5-.1 .5-.2 .5 .1 .2 .1 .3 .3 .5-.1 .1 .3 .2 .5 .1 .5 .1 .4 .5-.3 0-.1 .4-1 .1-.3 .5 .2 .5-.3 0-.1 .3-.5 .2-.4 0-.1 .2-.5 .1-.5 .2-.5 0-.1 .1-.4 .1-.5 .2-.5 .1-.3 .2 .3 .3 .4 0 .1 .3 .5 .2 .3 .2-.3 .3-.5 .1 0 .4-.3 .5-.5 .1-.2 .3-.5 .1-.1 .3 .1 .2 0 .5 .2 .1-.2 .3-.5 .1-.2 .4-.3 .1-.1 0 .1 .3 .5 .2 .4 0 .1 .3 .5 .2 .5 .5 0 .4-1 .1-.1 .5-.4 .5-.2 .5-.5 .2 .2 .3 .5 .1 .5 .2 .5 .1 .5 .1 .3 .3-.3 .2-.3 .5-.2 .5 .1 0-.1 .3-.5 .2-.5 0-.1 .3-.4 .2-.2 .4-.3 .1 0 .2-.5 .1-.5 .2-.4 .1-.1 .4-.3 .2 .3 .3 .4 .1 .1 .3 .5 .1 .1 0-.1 .2-.5 .3-.5 0-.1 .1-.4 .3-1.5 .1-.4 .5-.5 .2 .4 .1 .5 .2 .5 .3 .5 .2 .3 .2 .2 .3 .4 .1 .1 .3 .5 .1 .1 .1-.1 .2-.5 .2-.3 .1-.2 .2-.5 .2-.4 0-.1 .3-.5 .2-.5 .2-1 .2-.5zM122.1 120.6l.5 .3 .3 .2 .2 .1 .5 .5 .2 .4 .2 .5 .1 .2 .2 .3 .2 .5 .1 .2 .5 0 .2 .3 .3 .5 0 .1 .1-.1 .4-.5 .5-.3 .2 .3 .3 .5 .4-1 .1-.1 .2-.4 .3-.4 .1 .4 .2 .5 .1 .5 .1 .4 0 .1 .1 .5 0 .5 .1 .5 0 2-.1 .5 0 1-.1 .5 0 .1-.1 .4-.2 1-.2 .5 0 .1 0-.1-.3-.5-.6-1.5-.1-.2-.1 .2-.2 .5-.2 .3-.8-.8-.2-.3-.1 .3-.4 1-.5-.5-.2 .5-.1 .5-.2 .4 0 .1-.2 .5-.1 .5-.2 .5 0 .1-.3 .4-.2 .2-.4 .3-.1 .1-.5 0 0-.1-.3-.5-.6-1.5-.1-.2-.5-.3-.3 .5-.2 .5-.2-.5-.3-.5 0-.1-.1-.4-.2-1-.2-.5 0-.3-.2-.2-.6-1-.2-.4 0-.1-.3-.5-.1-.5-.1-.4-.1 .4-.3 .5-.1 .1 0-.1-.1-.5 0-1 .1-.3 .3 .3 .2 .4 .1-.4 .3-.5 .1-.2 .2-.3 .3-.4 0-.1 .5-.5 .2-1 .2-.5 .1-.5 .5-.4 .3 .4 .2 .5 .5-.5 .3-.5 .2-.2 .2-.3zM175.1 121l.5-.1 .2 .2 .3 .5 .4 1 .1 .3 .1 .2 .2 .5 .1 .5 .1 .3 .1 .2 .2 1 0 1.5-.3 1.5 0 .1-.1 .4-.2 1-.2 .5 0 .2-.1 .3-.2 1-.2 .5 0 .1-.2 .4-.2 .5-.1 .2-.5-.5-.1-.2-.2-.5-.2-.4 0-.1-.5-2.5 0-.5-.1-.5 0-.5-.1-.5 0-2.5 .1-.5 0-.5 .1-.3 0-.2 .1-.5 .2-.5 .1-.5 .1-.4 .1-.1 .3-.5zM179.1 121.5l.5-.3 .4 .4 .1 .2 .1 .3 .2 .5 .1 .5 .1 .4 .1 .1 .1 .5 .2 .5 .1 .4 .5-.5 .5-.3 .1 .4 .2 .5 .2 1 0 .5-.4 2-.1 .4-.5-.2-.1-.2-.4-.5 0-.1 0 .1-.1 .5-.4 1 0 .1-.1 .4-.2 1-.2 .5 0 .1-.2 .4-.3 .5 0 .1-.1-.1-.3-.5-.1-.1-.1-.4-.3-1.5-.1-.3 0-.2-.2-.5 0-.5-.3-1.5 0-1 .1-.5 0-.5 .2-1 .2-.5 0-.2 .1-.3 .2-1 .2-.5zM316.1 121.6l.2 .5 .2 1 .1 .2 .1 .3 .4 2 0 .3 .1 .2-.1 .4 0 .1-.1 .5 0 .5-.3 1.5-.1 .4 0 .1-.2 1-.2 .5-.1 .5-.1-.5-.2-.5-.2-1 0-.5-.2-1 0-1-.1-.5 0-1 .1-.5 0-.5 .2-1 0-.2 .1-.3 .2-1zM318.6 121.4l.5 .5 0 .2 .2 .5 .1 .5 .2 .5 0 .2 .1 .3 .2 .5 .1 .5 .1 .2 .1 .3 0 1.5-.1 .4 0 .1-.3 1.5-.2 .5 0 .1-.1 .4-.4 2-.5 .2 0-.2-.5-2.5 0-.5-.3-1.5 0-.5-.1-.5 0-.5 .1-.5 0-.5 .2-1 .1-.3 0-.2 .3-1.5 .2-.5zM394.6 121.6l.5-.2 .1 .2 .3 .5 .1 .3 .1 .2 .2 .5 .1 .5 .1 .3 .4 .2 .1 .1 .1-.1 .3-.5 .1-.1 .3-.4 .2-.2 .3 .2 .2 .2 .1 .3 .1 .5 .2 .5 .1 .5 0 .2 .1 .3 0 1.5-.1 .5 0 .1-.1 .4 0 .5-.2 1-.2 .5 0 .2-.2 .3-.3 .4-.2-.4-.3-.5 0-.1-.2-.4-.2-.5-.1-.2-.2 .2-.3 .2-.1 .3-.1 .5-.2 .5-.1 .4 0 .1-.4 1-.1 .4-.5 0-.2-.4-.2-.5-.1-.3-.1-.2-.3-.5-.1-.3-.5 .1-.1-.3-.2-.5-.1-.5-.1-.2-.1-.3 0-.5-.1-.5 0-.5-.1-.5 0-.5 .1-.5 0-.5 .2-.5 0-.1 .1-.4 .3-.5 .1-.2 .5-.2 .1-.1 .3-.5 .1-.1 .2-.4zM245.6 121.9l.5 .1 .1 .1 .3 .5 .1 .1 .1 .4 .2 .5 .1 .5 .1 .4 0 .1 .1 .5 0 2.5-.1 .5 0 .5-.5 2.5 0 .1-.3 .4-.2 .4-.5-.3 0-.1-.3-1.5 0-.5-.1-.5 0-.5-.1-.5 0-.5-.1-.5 0-1.5 .1-.5 0-.5 .5-2.5zM170.6 122.2l.1 .4 .3 1.5 .1 .4 0 .1 .3 1.5 0 .5-.2 1-.1 .4 0 .1-.3 1.5 0 .5-.1 .5-.1 .2-.1-.2-.5-2.5 0-.5-.1-.5 0-2 .2-1 0-.1 .1-.4 .1-.5 .2-.5zM197.6 122.6l.2 .5 .3 .5 0 .1 .1 .4 .2 1 0 .5 .1 .5 0 2-.1 .5 0 .5-.1 .5 0 .5-.2 1-.2 .5-.3 .5-.5-.5-.5-2.5 0-.1-.1-.4-.1-.5 0-.5-.1-.5 0-.5 .3-1.5 0-.1 .1-.4 .3-1.5 .1-.3 .4-.2zM252.1 122.4l0 .2 .2 .5 .1 .5 0 .5 .2 1 0 .5 .1 .5 0 .5-.1 .5 0 1-.1 .5 0 .5-.2 1 0 .5-.1 .5-.1 .4-.2-.4-.1-.5-.2-.5 0-.2-.1-.3-.2-1 0-.5-.2-1 0-1 .1-.5 0-.5 .1-.5 .2-.5 .1-.5 .4-1zM323.6 122.5l.1 .1 .2 .5 .2 .4 .1 .1 .4 1 .5 .5 0 .1 .5 0 .1-.1 .3-.5 .1-.1 .1 .1 .4 .5 .1 .5 0 2-.1 .5-.3 .5-.2 .2-.1-.2-.3-.5-.1-.3-.5 .2-.1 .1-.4 .5-.1 .5-.6 1.5-.1 .5-.2 .4-.5 .1-.2-.5-.1-.5-.2-.5 0-.2-.1-.3 0-.5-.2-1 0-1-.1-.5 0-.5 .1-.5 0-.5 .2-1 .1-.3 .1-.2 .2-.5 .2-.4 .3-.1zM100.6 122.7l.5 .1 .1 .3 .1 .5 0 .5 .1 .5 0 .5 .1 .5 0 2-.1 .5 0 1-.1 .5 0 .5-.2 1 0 .4-.2 .1-.3 .2 0-.2-.5-2.5 0-.1-.2-.4-.2-1-.1-.3 0 .3-.4 2-.1 .2-.1 .3-.3 .5-.1 .3-.1-.3-.3-1.5-.1-.4 0-.1-.2-1 0-.5-.1-.5 0-.5 .3-1.5 .2-.5 .1-.5 .2-.4 .3 .4 .2 .3 .1 .2 .2 .5 .1 .5 .1 .4 .1-.4 .3-.5 .1-.1 .1-.4 .1-.5 .2-.5zM191.1 122.9l.5 .1 .4 .1 .1 0 .4 .5 .1 .2 .5 .2 .5-.4 .4 .5 .1 .2 .3 .3 .2 .4 0 .1 .2 .5 .2 1 0 .5-.3 1.5-.1 .2-.1 .3-.2 .5-.2 .4-.1 .1-.3 .5-.1 .2-.1-.2-.4-.4-.5 .4-.2 .5-.1 .5-.2 .4-.5 0-.3-.4-.2-.3 0-.2-.5-2.5 0-.2-.1-.3 0-.5-.1-.5 0-1 .1-.5 .1-.4 0-.1 .4-2zM412.6 123.1l.2 .5 .1 .5 .2 .5 0 .1 .1 .4 .1 .5 0 .5 .1 .5-.1 .5 0 1-.2 1 0 .5-.2 1-.2 .5-.1 .5 0 .1 0-.1-.3-.5-.2-.3-.4 .3-.1 .1-.5 .1-.1-.2-.8-4 0-.5 .3-1.5 .1-.2 .1-.3 .1-.5 .2-.5 .1-.3 .5 .2 .3 .1 .2 .1 .1-.1zM250.1 123.6l.1 0 .4 .5 .2 .5 .3 1.5 0 .5-.1 .5 0 .5-.3 1.5-.1 .2-.1 .3-.3 .5-.1 .2-.1-.2-.4-.5 0-.1-.2-.4-.2-.5-.1-.3 0-.2-.1-.5 0-2 .1-.5 0-.2 .1-.3 .4-.5 0-.1 .4-.4zM265.6 123.2l.5 .1 .1 .3 .1 .5 .2 .5 .1 .5 0 .3 .1 .2 .2 1 0 .5-.2 1-.1 .3 0 .2-.5 2.5 0 .1-.5 0 0-.1-.3-.5-.2-.5 0-.1-.1-.4-.4-2 0-1.5 .4-2 .1-.2 .2-.3zM104.6 123.9l.1 .2 .3 .5 .1 .3 .1 .2 .2 1 0 .5-.3 1.5 0 .2-.1 .3-.4 1 0 .1 0-.1-.2-1 0-.5-.1-.5 0-1-.1-.5 .1-.5 0-.5 .2-1zM262.6 124.6l.2 .5 .2 1 0 1.5-.2 1-.2 .5 0 .1-.3-.1-.2-.1-.1-.4-.2-1 0-.5-.1-.5 .3-1.5 .1-.4 .4-.1zM271.1 124.3l.5 .2 0 .1 .2 .5 .1 .5 0 .5 .1 .5 0 1-.2 1 0 .5-.1 .5-.1 .3-.2 .2-.3 .2-.3-.2-.2-.2-.2-.3-.3-.5-.5-.1-.1-.4-.3-1.5 0-.5 .1-.5 .2-.5 .1-.4 .5 0 0-.1 .5-.4 .1-.1zM274.1 124.4l0 .2 .2 1 0 .5 .1 .5 0 1-.1 .5 0 .5-.1 .5 0 .5-.1 .5-.5-.1-.1-.4-.2-.5-.2-1-.2-.5-.1-.5 .1-.5 .2-.5 .1-.5 .2-.5 .2-.4 .2-.1zM388.6 124.5l0 .1 .2 .5 .1 .5 0 1-.3 1.5 0 .1 0-.1-.3-1.5 0-1 .1-.5 .2-.5zM409.6 124.6l.2 .5 .2 1 0 1-.1 .5 0 .5-.2 1-.1 .2-.2-.2-.3-.4 0-.1-.1-.5 0-.5-.1-.5 0-.5 .1-.5 0-.5 .1-.5 0-.1zM96.6 125.4l.5-.1 .1 .3 0 1-.1 .5 0 .1-.2-.1-.3-.2 0-1.3zM106.1 125.3l.1 .3 .1 .5 0 .5-.2 1-.2-1 0-.5 .1-.5zM338.1 125.2l.2 .4 .2 1 0 .5-.1 .5-.2 .5-.1 .4-.4-.4-.1-.2-.1-.3 0-1.5 .1-.5zM343.1 125.2l.1 .4 .2 .5 0 1.5-.2 1-.1 .4-.1-.4-.3-1.5 0-.5 .2-1zM347.1 125.4l.1 .2 0 .5 .1 .5 0 1-.1 .5 0 .5-.1 .3-.1-.3-.2-.5-.1-.5 0-1 .1-.5 .2-.5z"/>
<path fill-rule="evenodd" fill="#ca4842" d="M380.1 110.3l.1 .3 .4 1 .5 .5 .4 .5 .1 .1 .2 .4 .3 .5 .5-.1 .2-.4 .2-.5 .1-.2 .1-.3 .2-1 .2-.5 0-.2 .1 .2 .3 .5 .1 .1 .1 .4 .4 2 0 1 .1 .5 0 3.5 .1 .5 0 5.5 .1 .5 0 6.5-.1 .5 0 8-.1 .5 0 4.5-.1 .5 0 1.5-.4 .5-.1 .1-.1-.1-.4-.5-.4-1-.1-.3-.3-.2-.2-.1-.5-.3-.3 .4-.2 .2-.5 .1-.2 .2-.3 .2-.2 .3-.3 .5-.4-1-.1-.3-.1-.2-.3-1.5 0-.5-.1-.3-.1-.2-.3-1.5-.1-.2-.5-.5-.2 .2-.3 .4-.1 .1-.4 .3-.1 .2-.2 .5-.2 .4-.4 .1-.1 .1 0-.1-.3-.5-.2-.3-.5-.5-.2 .3-.3 .4-.5-.4-.4-1-.1-.4-.3-.1-.2-.1-.1 .1-.3 .5-.1 .2-.5 0-.1-.2-.4-1 0-.1-.1-.4-.3-1.5 0-.5-.1-.4 0-.1-.4-2 0-.5-.1-.5-.5 .3 0 .2-.4 2-.1 .3-.5-.3-.4-1-.1-.3-.2 .3-.3 .3-.5 .1-.3 .1-.2 .1-.5 0 0-.1-.2-1-.2-.5 0-.5-.1-.3-.1-.2-.3-1.5-.1-.4-.1 .4-.2 .5-.1 .5-.1 .3-.1-.3 0-.5-.3-1.5 0-.5-.1-.5 0-1-.1-.5 0-1 .1-.5 0-.5 .5-2.5 .3 .5 .2 .5 0 .1 0-.1 .2-.5 .1-.5 .2-.5 .1-.5 .4-1 .5-.4 .2-.1 .3-.1 .5-.2 .2 .3 .3 .4 .5-.5 .5-.4 .1 .5 .2 .5 .1 .5 .1 .4 .1 .1 .3 .5 .1 .2 0-.2 .2-.5 .2-1 .1-.3 0-.2 .4-2 .1-.4 0-.1 .2-.5 .3-1.5 .5 .5 .3 .5 .2 .5 .2-.5 .3-.5 0-.1 .1-.4 .4-1 0-.1 .4-.4 .2 0 .4 .2 .5 .5 .5 .1 .3 .2 .2 .1 .3 .4 .2 .3 .4-.3 .1-.1 .5 0 .2-.4 .3-.4 0-.1 .3-1.5 .2-.5 0-.2 .1-.3 0-.5 .3-1.5 .1-.4 .1-.1 .2-.5zM456.1 112.1l.4 .5 .1 .1 .1 .4 .4 1 0 .1 .1-.1 .2-.5 .2-.4 0-.1 .2-.5 .1-.5 .2-.5 0 34.6 0-.1-.4-1-.1-.3-.1-.2-.3-.5-.1-.2-.1 .2-.1 .5-.2 .5-.1 .5-.3 .5-.2 .4-.2-.4-.2-.5-.1-.3-.1-.2-.3-.5-.1-.2-.5-.2-.5 .1-.5-.2-.3-.5-.2-.3 0-.2-.2-.5-.1-.5-.2-.5 0-.1-.1-.4-.1-.5-.2-.5-.1-.5-.3-.5-.2-.3-.2 .3-.6 1-.2 .4-.5-.4-.1 0-.4-.2-.5-.1-.1-.2-.2-1-.2-.5 0-.1-.5 0 0 .1-.4 1-.1 .2-.5 0-.1-.2-.4-1 0-.1 0 .1-.4 .5-.1 .1-.1-.1-.4-.5-.2-.5-.1-.5-.2-.5-.3 .5-.2 .4-.1 .1-.3 .5-.1 .1-.2-.1-.3-.2-.2-.3-.8-.8-.5 .2 0 .1-.2 .5-.1 .5-.4 1-.3 .5 0 .1-.3-.1-1.2 0-.5 .3-.5 .1-.3-.4-.2-.3-.2-.2-.3-.4 0-.1-.1-.5-.2-.5-.2-1 0-.5-.3-1.5 0-.5-.1-.5 0-.5-.1-.5-.2-.5-.2-1-.1-.3-.2 .3-.3 .4-.5-.3 0-.1-.1-.5 0-.5-.1-.5 0-.5-.1-.5 0-1.5 .1-.5 0-.5 .2-1 .5-.3 .5 .5 .1-.2 .4-1 0-.1 .1-.4 .5-2.5 .2-.5 .1-.5 .1-.4 .1-.1 .3-.5 .1-.2 .5 0 .4-.3 .1-.1 .1 .1 .4 .3 .1 .2 .3 .5 .1 .3 .5-.1 .5-.2 .3 .5 .2 .5 .3 .5 .2 .3 .5 0 .3-.3 .2-.3 .2-.2 .3-.2 .5 0 .2 .2 .3 .4 .2 .1 .3 .2 .1-.2 .2-1 .6-1.5 .1-.2 .2 .2 .3 .5 .1 0 .4-.3 .5 0 .1 .3 .3 .5 .1 .3 .5 .2 .1-.5 .2-.5 .1-.5 .1-.2 .5-.3 .4-.5 .1-.2 .2-.3 .3-.5 .1 .5 .2 .5 .1 .5 .1 .3 .1 .2 .4 1 0 .1 0-.1 .3-.5 .2-.3 .1-.2 .4-2 0-.1 .1-.4 .2-.5 .1-.5 .1-.3 .5-.2 .5 .5 .5-.1 .2-.4 .3-.5 .2-.5 .3-.5 .2-.5zM309.6 112.6l.5 .3 .1 .2 .2 .5 .2 .4 0 .1 .3 .5 .2 .2 .2-.2 .3-.4 0-.1 .4-.5 .1-.1 0 1.1 .1 .5 0 3.5 .1 .5 0 7.5 .1 .5 0 3-.1 .5 0 8-.1 .5 0 4.5-.1 .5 0 1.8-.5-.1-.2-.2-.3-.5-.5-.2-.5-.1-.1-.2-.4-.5 0-.1-.5-.5-.5 0-.5-.3-.1-.1-.4-.3-.1 .3-.4 1-.3 .5-.2 .3-.4-.3-.1-.1-.1 .1-.4 .3-.5-.1-.1-.2-.4-1 0-.1-.1-.4-.3-1.5-.1-.4 0-.1-.2-.5-.1-.5-.2-.5-.5 .5-.5 0-.4-1-.1-.3-.1-.2-.4-.5 0-.1 0 .1-.3 .5-.2 .4-.5-.3 0-.1-.3-.5-.2-.3-.2 .3-.3 .5-.2-.5-.3-.5 0-.1-.1-.4 0-.5-.2-1 0-.5-.2-1 0-.5-.5-2.5-.4 1-.1 .2-.5 .5-.3-.2-.2-.1 0 .1-.5 2.5 0 .2-.1 .3-.2 1-.2 .5 0 .1 0-.1-.3-.5-.2-.3-.1-.2-.4-1-.5-.2-.5 .2-.3 .5-.2 .5-.5 .2-.5-.5-.1-.2-.2-1-.2-.5 0-.1-.1-.4 0-.5-.3-1.5 0-.5-.1-.5 0-.5-.2-1 0-.5-.1-.5 .1-.5 0-.5 .1-.5 .1-.4 0-.1 .4-2 .1-.3 0-.2 .4-1 .1-.4 .1-.1 .2-.5 .2-.3 .5 .2 .1 .1 .3 .5 .1 .2 .5 .1 .4 .2 .1 0 .3-.5 .2-.3 .1-.2 .3-.5 .1-.2 .1 .2 .1 .5 .2 .5 .1 .4 0 .1 .4 2 .1 .4 .5-.5 .4 .1 .1 0 .3 .5 .2 .5 .4-2 .1-.3 0-.2 .3-1.5 .2-.5 0-.1 .2-.4 .3-.4 .2-.1 .3-.3 .1-.2 .4-1 0-.1 .1 .1 .4 .2 .1 .3 .4 1 .4-.5 .1-.1 .1-.4 .4-1 .5-.5 .5-.2 .1-.3 .2-.5 .1-.5 .1-.2 .1-.3 .1-.5 .2-.5 .1-.4 .1-.1 .3-.5 .1-.1 .5 .5 .2 .1 .3 .1 .1-.1 .2-.5 .2-.4 .2 .4 .6 1 .2 .2 .4-.2 .1-.1 .5-.1 .1-.3 .4-1zM162.1 113.8l.4 .3 .1 .1 .5 .3 .5 .5 .5-.4 .5 .1 .1 .4 .4 1 .5 .5 .1 0 .4-.2 .5 .1 .5-.3 0-.1 .1-.5 .2-.5 .1-.5 .1-.3 0 1.3 .1 .5 0 3 .1 .5 0 18.5-.1 .5 0 4.5-.1 .5 0 1.5-.2-1-.2-.5-.1-.5 0-.1-.1-.4-.4-1-.5-.2-.3 .2-.2 .1-.2 .4-.3 .5 0 .1-.2-.1-.3-.1-.5-.4-.5 .3-.1 .2-.3 .5-.1 .2-.5 .2-.3-.4-.2-.3-.4-.2-.1 0-.4 .5-.1 .1-.2-.1-.3-.2-.5 0-.5-.3-.2-.5-.3-.5-.5-.4-.1-.1-.4-.3-.3-.2-.2-.1-.1 .1-.3 .5-.1 .1-.4-.1-.1 0-.2-.5-.3-.5-.4-1-.1-.5-.5-.5-.2 .5-.1 .5-.4 1-.3 .5 0 .1 0-.1-.3-.5-.2-.3-.2-.2-.3-.5-.1 0-.4-.1-.5-.5 0 .1-.4 .5-.1 .2-.5 .3-.4-2-.1-.4 0-.1-.5-2.5 0-.2-.5-.5-.1 .2-.3 .5-.1 .2-.5 .2-.5-.2 0-.2-.2-.5-.1-.5-.2-.5 0-.2-.1-.3 0-.5-.2-1 0-.5-.1-.5 0-.5-.1-.5 0-.3-.1 .3-.2 .5-.2 .4 0 .1-.2 1-.2 .5-.1 .4-.2 .1-.3 .1-.5 .1-.1-.2-.3-1.5-.1-.3-.2 .3-.3 .3-.1 .2-.4 1-.4-1-.1-.4 0-.1-.2-.5-.2-1 0-.5-.1-.5-.5 .3 0-1.1 .5 .2 .1-.4 .3-1.5 .1-.3 .1-.2 .2-.5 .2-.3 .2 .3 .2 .5 .1 .2 .2 .3 .3 .3 .1-.3 .1-.5 .2-.5 .1-.2 .5 0 .4 .2 .1 0 .1 .5 .2 .5 .1 .5 .1 .3 .1 .2 .3 .5 .1 .3 0-.3 .1-.5 0-.5 .4-2 0-.1 .2-.4 .2-.5 .1-.2 .5 .2 .5-.3 .4 .3 .1 .2 .5 .2 .1-.4 .4-1 .3-1.5 .2-.5 0-.1 .2-.4 .2-.5 .1-.3 .4 .3 .1 .1 .3 .4 .2 .2 .5 .1 .2-.3 .8-.8 .2 .3 .2 .5 .1 .2 .2 .3 .3 .4 .2-.4 .3-.5 .4-1 .1-.4 .1-.1 .4-1 .5 .1 .5 .3 .2-.4 .2-.5 .1-.3 .3-.2 .2-.2 .4-.3 .1-.1 .3-.4 .2-.3 .2 .3 .3 .5 .5 .5 .2-.5 .6-1 .2-.4 .2-.1zM239.6 114l0 1.1 .1 .5 0 3.5 .1 .5 0 7 .1 .5 0 3-.1 .5 0 8-.1 .5 0 4-.1 .5 0 1.8-.2-.3-.3-.5-.4-1-.1-.2-.1-.3-.2-.5-.1-.5-.1-.2-.1 .2-.4 .5-.3 .5-.2 .5-.4-1-.1-.4 0-.1-.2-.5-.1-.5-.2-.5 0-.2-.5 .2-.2 .5-.1 .5-.2 .5-.5-.4 0-.1-.2-.5-.3-1.5-.2-.5-.1-.5-.4-1-.1-.5-.2-.5 0-.1-.5-.3-.2 .4-.3 .4 0 .1-.3 .5-.2 .2-.1 .3-.1 .5-.2 .5-.1 .4 0 .1-.4 2-.1 .4-.3 .1-.2 .1-.1-.1-.1-.5-.2-.5-.1-.2-.1-.3-.2-.5-.2-.4-.5 .5-.1 .4-.2 .5-.1 .5-.1 .2-.1-.2-.4-.5 0-.1-.1-.4-.4-2 0-.1-.3-.4-.2-.4-.2-.1-.3-.2-.2-.3-.3-.5-.4-1-.1-.2-.1-.3-.2-.5-.1-.5-.1-.2-.2-.3-.3-.5-.3 1.5-.2 .5 0 .1-.2 .4-.2 .5-.1 .2-.2 .3-.3 .4-.1 .1-.3 .5-.1 .3-.5 .2-.3-.5-.2-.4-.3-.1-.2-.1-.3-.4-.2-.3-.3 .3-.2 .1-.5 .2-.2-.3-.3-.4-.2 .4-.2 .5-.1 .1-.2-.1-.3-.2-.1-.3-.2-.5-.2-.4 0-.1-.4-1-.1-.2-.5-.5-.2-.3-.2-.5-.1-.4-.3 .4-.2 .2-.4-.2-.1 0 0-.5-.1-.5 0-.5-.1-.5 0-.5-.1-.5 0-4 .1-.5 0-1 .1-.5 0-.5 .1-.4 .5 .2 .1 .2 .4 .5 .2-.5 .3-.5 .5-.4 .1-.1 .2-.5 .2-.3 .1-.2 .2-.5 .2-.4 .5 0 .3 .4 .2 .2 .1-.2 .3-.5 .1-.1 .5-.1 .1 .2 .3 .5 .1 .2 .5 .2 .5 0 .2-.4 .2-.5 .1-.2 .5 0 .3 .2 .2 .2 .5 .2 .1 .1 .4 1 .3 1.5 .2 .5 0 .2 .1-.2 .4-.5 0-.1 .2-.4 .3-.5 .4-.5 .1-.2 .2-.3 .2-.5 .1-.2 .8-.8 .2-.3 .1-.2 .3-1.5 .1-.4 .1-.1 .4-.5 .4 1 .1 .3 .1 .2 .4 .5 0 .1 0-.1 .4-1 .1-.3 .1-.2 .4-2 .1 0 .4-.1 0 .1 .1 .5 .2 .5 .2 1 0 .2 .1 .3 .1 .5 .2 .5 .1 .3 .1 .2 .3 .5 .1 .3 .1 .2 .3 .5 .1 .3 .2-.3 .3-.4 0-.1 .2-.5 .1-.5 .2-.5 0-.1 .1-.4 .4-1 0-.1 .1-.4 .4-2 0-.1 .5 .5 0 .1 .2 .5 .3 1.5 .1 0 .4 .2 0-.2 .1-.5 .2-.5 .2-1 0-.1 .2-.4 .2-.5 .1-.3 .1 .3 .2 .5 .2 .4 .1 .1 .4 .3 .1-.3 .4-1 .5-.2 .3-.3zM288.6 122.7l.1 .4 .2 .5 .1 .5 .1 .4 0 .1 .3 1.5 0 .5 .1 .5 0 2-.1 .5 0 .5-.1 .5 0 .5-.2 1 0 .2-.1 .3-.3 1.5-.1 .3-.1-.3-.4-1 0-.1-.1-.4 0-.5-.2-1 0-.5-.1-.5 0-.5-.1-.5 0-2 .1-.5 0-.5 .3-1.5 0-.5 .1-.3 .1-.2 .2-.5zM286.1 125.8l.5 .3 .2 1 0 1-.1 .5 0 .5-.1 .5 0 .2-.5 .1 0-.3-.1-.5 0-.5-.1-.5 0-.5 .1-.5 0-.5 .1-.5zM283.6 126.6l.2 .5 0 1-.1 .5-.1 .4 0-.9-.1-.5 .1-.5z"/>
<path fill-rule="evenodd" fill="#b6202f" d="M380.1 118.5l0 .1 .2 .5 .1 .5 .2 .5 0 .1 .2 .4 .3 .5 .5 .5 .4 1 .1 .3 .5-.2 0-.1 .3-.5 .2-.4 0-.1 .5-2.5 .5 0 .4 2 .1 .3 0 2.7 .1 .5 0 9-.1 .5 0 3.3-.1 .2-.1 .5-.2 .5-.1 .2-.1-.2-.4-.5-.3-1.5-.2-.5 0-.2-.2-.3-.3-.4-.2-.1-.3-.2-.1 .2-.4 1-.1 0-.4 .3-.2 .2-.3 .5-.2 .5-.1 .5-.2 .4-.1-.4-.1-.5-.2-.5-.2-1 0-.5-.1-.5 0-.5-.1-.5 0-.5-.1-.5 0-.5-.1-.5 0-.5-.1-.5 0-.5-.1-.5 0-2.5 .1-.5 0-1 .1-.5 0-.5 .1-.5 0-.5 .1-.5 0-1 .1-.5 0-.5 .2-1 0-.5 .2-.5 .1-.5 .2-.5zM456.1 120.6l.2 .5 .1 .5 .2 .5 .2 1 0 .5 .2 1 0 .5 .1 .5 0 .1 0-.1 .2-1 .2-.5 .6-3 0-.2 0 15.6-.1-.4-.5-2.5-.2-.5-.1-.5-.1-.4-.1 .4 0 .5-.2 1 0 .5-.1 .5-.1 .4 0 .1-.2 .5-.1 .5-.2 .5-.1-.5-.2-.5-.2-1 0-.1-.1-.4-.2-.5-.1-.5-.1-.2-.5-.5-.3 .2-.2 .1-.1-.1-.4-.2-.1-.3-.2-.5-.1-.5-.1-.4 0-.1-.1-.5 0-.5-.1-.5 0-1 .1-.5 0-1 .1-.5 0-.1 .1-.4 .1-.5 .2-.5 .1-.3 .5 0 .5 .2 .3-.4 .2-.3 .1-.2 .2-1 .2-.5 .2-1 .2-.5zM305.1 122.5l.2 .1 .3 .1 .2 .4 .3 .4 .2-.4 .3-.5 .2 .5 .2 1 .1 .2 0 .3 .4 2 0 .5 .1 .5 0 .5 .2-.5 .1-.5 .2-.4 .1-.1 .4-.5 .3-.5 .2-.3 .1-.2 .2-.5 .2-.4 0-.1 .3-.5 .2-.4 .3 .4 .2 .2 .5 .3 .4-1 .1-.3 .3-.2 .2-.2 0 3.7 .1 .5 0 5-.1 .5 0 3.6-.3-.1-.2 0-.4-1-.1-.4-.4-.1-.2 0-.4 .2-.1-.2-.4-1 0-.1-.2-.4-.3-.5 0-.1-.5-.4-.4-.5-.1-.1-.2-.4-.2-.5-.1-.3 0 .3-.1 .5 0 .5-.4 2 0 .1-.1 .4-.2 .5-.1 .5-.1 .2-.2-.2-.3-.5-.3 .5-.2 .4-.5-.1-.1-.3-.5-2.5 0-.5-.1-.5 0-1-.1-.5 0-1.5 .1-.5 0-1 .1-.5 0-.5 .1-.5 0-.5 .3-1.5 .2-.5zM239.6 123.3l0 3.8 .1 .5 0 3-.1 .5 0 3.7-.1-.2-.2-.5-.1-.5-.1-.2-.1-.3-.4-2 0-.1-.1-.4 0-.5-.1-.5 0-.5 .1-.5 0-1 .1-.5 0-.1 .1-.4 .4-2 .4-1zM167.6 123.8l0 4.8 .1 .5 0 .5-.1 .5 0 4.2 0-.2-.2-1 0-.5-.1-.5 0-.5-.1-.5 0-1-.1-.5 0-.5 .1-.5 0-1.5 .1-.5 0-.5 .1-.5 0-.5 .2-1zM162.6 125.7l.3 .4 .2 .3 0 .2 .3 1.5 0 1.5-.3 1.5 0 .1-.3 .4-.2 .2-.1-.2-.4-1-.4-.5-.1-.2-.1 .2-.1 .5-.2 .5-.1 .3-.2-.3-.3-.5 0-.1-.1 .1-.4 .3-.4-.3-.1 0-.2-1 0-1.5 .2-1 0-.3 .5-.2 .4 .5 .1 .1 0-.1 .3-.5 .2-.5 .2 .5 .1 .5 .2 .5 0 .2 .1-.2 .3-.5 .1-.1 .1-.4 .2-.5zM237.1 126l0 .1 .2 1 0 .5 .1 .5 0 .5 .1 .5-.1 .5 0 .5-.3 1.5 0 .1 0-.1-.2-1 0-.5-.1-.5 0-1 .1-.5 0-.5 .1-.5 0-.5 .1-.5zM376.1 126l.1 .1 .3 .5 .1 .1 .1 .4 0 .5 .1 .5 0 1.5-.1 .5 0 .5-.1 .4-.1 .1-.4 .5-.2-.5-.3-1.5-.2-.5 0-.5 .1-.5 .1-.2 0-.3 .2-.5 .1-.5 .2-.5zM374.6 126.5l0 .1 .4 2-.1 .5 0 .5-.1 .5-.2 .5 0 .2-.1-.2-.3-.5-.1-.3 0-.2-.1-.5 0-.5 .1-.5 0-.6 .2-.4 .2-.5zM230.1 127.4l.1 .2 .2 .5 .1 .5-.2 1-.2 .3 0-.3-.1-.5 0-1 .1-.5z"/>
<path fill-rule="evenodd" fill="#e5f1f7" d="M96.1 65.6l40.8 0 0 8.5-.1 .5 0 1.5-.1 .5 0 1-.1 .5 0 2-.1 .5 0 1.5-.1 .5 0 1.5-.1 .5 0 .5-.1 .5 0 .5-.1 .5 0 1-.1 .5 0 .5-.1 .5 0 .5-.2 .5-.1 .1-.2 .4-.2 .5 0 .5-.1 .5 0 .5-.1 0-.1-.5-.2-.5-.1-.5-.4 1-.1 .4 0 .1-.2 1-.3 .3-.1 .2-.3 .5-.1 .1-.1-.1-.4-.5-.1 0-.3 .5-.1 .3-.1 .2-.4 1 0 .1-.5 0-.2-.1-.3-.5 0-.1-.2-.4-.2-.5-.6-3 0-.2-.1-.3-.2-.5-.1-.5-.1-.4 0 .4-.1 .5 0 .5-.3 1.5 0 .5-.1 .3 0 .2-.3 1.5-.2 .5 0 .2-.2 .3-.3 .5 0 .1-.5 .5-.5 .3-.1-.4-.4-.5-.1 0-.3 .5-.1 .1-.5 .4 0 .1-.5 .1-.2-.2-.3-.2-.3-.3-.2-.1-.5 .1-.3 .5-.1 .5-.1 .3-.2 .2-.3 .5 0 .1-.4-.1-.1 0-.5-.5-1-.2-.1-.3-.4-.5-.5 0-.4-.5-.6-.6-.2-.4-.3-.5-.4-1-.1-.1-.2 .1-.3 .3-.1 .2-.1 .5-.2 .5-.1 .1-.2 .4-.2 .5-.1 .2-.1 .3-.3 .5-.1 .2-.5 .5-.5-.2-.5-.1-.5 0-.5-.2-.4-.2-.1-.2-.2-.3-.3-.5-.1 0-.4-.1-.2 .1-.3 .1-.5 0-.5-.1-.1 0-.4-.2-.5 0-.2 .2-.3 .1-.5 .1-.5-.1-.5 .3-.1 .1-.4 .3-.5-.5-.2-.3-.3-.5-.5-.4-.5-.1-.4-.5-.6-.6 0 .1-.4 1-.1 .3 0 .2-.4 1-.1 .3-.5-.1-.1-.2-.4-1 0-.1-.5-.5-.5 .5-.3-.4-.2-.1-.3-.4-.2-.5-.3-.5-.2-.3-.4 .3-.1 .1-.2 .4-.3 .4-.1-.4-.4-.5-.5 .3-.2-.3 0-.5-.1-.5 0-.5-.1-.5 0-.5-.1-.5 0-1-.1-.5 0-1.5-.1-.5 0-3-.1-.5 0-6-.1-.5 0-12.5zM137.6 65.6l1.7 0 0 7.5-.1 .5 0 2.5-.1 .5 0 1.5-.1 .5 0 .5-.1 .5 0 .5-.1 .5 0 .5-.2 1 0 1-.1 .5 0 .5-.1 .5 0 1-.1 .5 0 .5-.2 1 0 .4-.1-.4 0-.5-.3-1.5 0-.5-.1-.5 0-.5-.1-.5 0-1.5-.1-.5 0-1.5-.1-.5 0-2.5-.1-.5 0-11zM140.1 65.6l.7 0 0 6-.1 .5 0 8.5-.1 .5 0 1.6 0-.1-.1-.5 0-.5-.2-1 0-.5-.1-.5 0-1-.1-.5 0-1-.1-.5 0-2.5-.1-.5 0-8zM143.1 65.6l3.7 0 0 5-.1 .5 0 7.5-.1 .5 0 4-.1 .5 0 2.5-.1 .5 0 1-.1 .5 0 .5-.1 .5 0 1-.1 .5-.2 .5-.1 .5 0 .5-.1 .5 0 1-.1 .5 0 .7 0-.7-.1-.5 0-.5-.3-1.5-.1-.1-.1-.4-.1-.5 0-1-.3-1.5-.3 1.5 0 .5-.2 1 0 .2-.1-.2-.1-.5 0-.5-.2-.5-.1-.3-.1-.2-.6-1.5 0-1.5-.1-.5 0-4-.1-.5 0-15.5zM149.6 65.6l.1 0 0 8-.1 .5 0 3.7 0-4.2-.1-.5 0-7.5zM169.1 65.6l38.4 0 0 10-.1 .5 0 5.5-.1 .5 0 3-.1 .5 0 1.5-.1 .5 0 1-.1 .5 0 1-.1 .5 0 .5-.1 .5 0 .5-.2 1 0 .5-.4 2-.1 .2-.1 .3-.4 .2-.1-.2-.4-1-.3-.5-.2-.4-.2 .4-.1 .5-.2 .4-.1 .1-.2 .5-.2 1 0 .1-.4-.1-.1-.1-.2-.4-.2-.5-.1-.3 0-.2-.4-2 0-.5-.1-.5-.2-.5-.2-1-.1-.2 0 .2-.1 .5 0 .5-.4 2 0 .2-.1 .3-.2 .5-.2 .4-.5-.4-.2-.5-.3-.2-.1 .2-.3 .5-.1 .5 0 .2-.2 .3-.3 .5-.2 .5-.3 .5-.5 0-.5-.2-.4-.3-.1-.1-.5-.1-.4 .2-.1 .1-.1-.1-.8-1-.1-.2-.2 .2-.3 .4-.1 .1-.3 .5-.1 .1-1 .2-1 .4-.5 0-.3 .3-.2 .4-.2 .1-.3 .1-.5 .2-.5-.1-.2-.2-.3-.2-.4-.3-.1-.1-.1 .1-.4 .2-.2 .3-.3 .4-.2 .1-.3 .1-.5 0-.3-.1-.2-.1-.5-.1-.5-.2-.1-.1-.4-.5-.1 0-.4-.2-.5-.2-.5 0-.4 .4-.1 .2-.5-.5-.1-.2-.4-1-.5-.4-.2 .4-.3 .4-.5 .5-.5-.1-.1-.3-.2-.5-.2-.4 0-.1-.3-.5-.1-.5-.1-.2-.1 .2-.5 .5-.4 .5-.5 .3-.5-.1-.5-.5-.1-.2-.3-.5-.1-.2-.2-.3-.2-.5-.1-.3-.2 .3-.3 .5-.1 .5-.4 1 0 .1 0-.1-.5-.3-.5 .5-.1-.2-.2-1-.2-.2-.1-.3-.1-.5 0-.5-.1-.5-.2-.5 0-.1-.2-.4-.2-.5-.1-.4 0-.1-.2-.5-.2-1-.1-.2-.1 .2-.2 .5-.2 .2-.1 .3-.2 .5-.1 .5-.1 .1 0-.1-.2-.5-.1-.5-.2-.5 0-.1-.1-.4 0-1-.2-1 0-2.5-.1-.5 0-6.5-.1-.5 0-12zM208.6 65.6l3 0 0 10-.1 .5 0 6.5-.1 .5 0 3-.1 .5 0 1.5-.1 .5 0 1-.1 .5 0 1-.1 .5 0 .5-.1 .5-.3 .4-.1 .1-.2 .5-.1 .5 0 .5-.1 .5 0 .5 0-.5-.3-1.5 0-.5-.1-.5 0-.5-.1-.5 0-.5-.1-.5 0-.5-.1-.5 0-1-.1-.5 0-1-.1-.5 0-2-.1-.5 0-1.5-.1-.5 0-.5-.1-.5 0-.5-.1-.5 0-1-.1-.5 0-1-.1-.5 0-5.5-.1-.5 0-5.5zM213.6 65.6l5.2 0 0 6-.1 .5 0 9.5-.1 .5 0 2-.1 .5 0 1-.1 .5 0 .5-.1 .5 0 .5-.1 .5-.1 .1-.2 .4-.2 .5 0 .5-.1 .5 0 .8-.5-.1-.3-.2-.4-2 0-.5-.1-.5 0-.5-.2-1 0-.6 0 .6-.1 .5 0 1-.1 .5 0 .5-.1 .5 0 .5-.2 1 0 .5-.5 2.5 0 .1 0-.6-.1-.5 0-1-.1-.5-.2-.5-.1-.3-.1-.2-.1-.5-.2-.5-.1-.5 0-.1-.5 .5-.1-.4-.2-.5 0-3-.1-.5 0-7-.1-.5 0-11.5zM240.6 65.6l38.5 0 0 16-.1 .5 0 4.5-.1 .5 0 2-.1 .5 0 1.5-.1 .5 0 .5-.1 .5 0 .1-.5 .2-.2-.3-.2-1 0-.5-.1-.5 0-.3-.1-.2-.2-.5-.2-.4-.1 .4 0 .5-.3 1.5-.1 .3 0 .2-.4 2-.1 .3-.1 .2-.1 .5-.3 .5-.1-.5-.3-.5-.1-.2-.4-.3-.1-.3-.1-.2-.3-1.5-.1-.2-.1 .2-.3 .5-.1 .2 0 .3-.1 .5-.2 .5-.1 .5-.1 .4 0 .1-.4 1-.1 .3-.3 .2-.2 .1-.1-.1-.3-.5-.1-.2-.5-.1-.2 .3-.2 .5-.6 .6-.5 .3-.1 .1-.4 .2-.5-.2-.5-.5-.5 .1-.1-.1-.4-.1-.5-.5-.1 .1-.3 .5-.1 .5 0 .2-.5-.5-1 0-.1-.2-.8-1-.1-.2-.5 .1-.1 .1-.3 .5-.6 .6-.1-.1-.4-.3-.3-.2-.2-.1-.1 .1-.6 1.5-.3 .5-.5 .5-.5 .1-1 .4-.5-.1-.5-.2-.4-.2-.1 0-.5-.3-.2-.2-.3-.2-.2-.3-.3-.4-.1-.1-.6-1.5-.1-.5-.2-.5 0-.1-.5 0 0 .1-.2 .5-.3 .5-.4 .5-.1 .2-.5 .1-.1-.3-.4-1 0-.1-.1-.4-.4-2 0-.2-.5-.3-.5 .2-.1 .3-.2 .5-.2 .4 0 .1-.2 .5-.1 .5-.6 1.5-.1 .2-.2 .3-.2 .5-.1 .1-.5 .2-.2-.3-.3-.5-.2-.5-.1-.5-.2-.5 0-.2-.1-.3-.1-.5-.2-.5-.1-.5-.5-.3-.5-.5-.5-.2-.4 2-.1 .3 0-.3-.2-.5-.3-.3-.2 .3-.2 1 0 .5-.1 .5 0 .5-.2-.5-.3-.2-.1-.3 0-.5-.1-.5-.3-.5 0-.1-.3-.4-.2-.4 0-.1-.1-.5 0-1-.1-.5 0-1-.1-.5 0-.5-.1-.5 0-.5-.1-.4 0-.1-.1-.5 0-1.5-.1-.5 0-1-.2-1 0-1-.1-.5 0-6-.1-.5 0-9.5zM280.6 65.6l.2 0 0 8.5-.1 .5 0 4-.1 .5 0 1.2 0-1.2-.1-.5 0-4-.1-.5 0-8.5zM282.1 65.6l1 0 0 7-.1 .5 0 4-.1 .5 0 1.5-.1 .5 0 1.5-.1 .5 0 .5-.1 .5 0 .5-.1 .5 0 .5-.2 1 0 .5-.1 .5-.1 .4 0-.4-.1-.5 0-1.5-.1-.5 0-2-.1-.5 0-4.5-.1-.5 0-10.5zM286.1 65.6l3.4 0 0 11.5-.1 .5 0 3.5-.1 .5 0 2-.1 .5 0 1.5-.1 .5 0 .3-.5 .1 0-.4-.1-.5 0-.5-.1-.5 0-1-.1-.5 0-1.5-.1-.5 0-2.5-.1-.5 0-1.9 0 2.4-.1 .5 0 2.5-.1 .5 0 1.5-.1 .5 0 1-.1 .5 0 .5-.1 .5 0 .5-.2 1 0 .5-.2 1-.1 .2-.5 0-.1-.2-.3-.5 0-.5-.1-.5 0-1.5-.1-.5 0-2-.1-.5 0-5-.1-.5 0-12.5zM291.1 65.6l2 0 0 15-.1 .5 0 2.5-.1 .5 0 1.5-.1 .5 0 1-.1 .5 0 1-.1 .5 0 .1 0-.1-.3-1.5 0-.5-.1-.5 0-.5-.2-1 0-.5-.1-.5 0-.5-.1-.5 0-.5-.1-.5 0-.5-.1-.5 0-.8 0 .3-.2 1-.2 .5-.1 .5 0 .1 0-.6-.1-.5 0-2.5-.1-.5 0-4.5-.1-.5 0-8zM312.6 65.6l43 0 0 13-.1 .5 0 4-.1 .5 0 2-.1 .5 0 1.5-.1 .5 0 1-.1 .5 0 .2-.1 .3-.3 1.5-.1 .3 0 .2-.4 2-.1 .3-.1 .2-.4 .4-.5 0-.5-.4 0-.5-.1-.5 0-.5-.2-1-.2-.5 0-.1 0 .1-.2 .5-.3 1.5-.2 .5-.2 1 0 .5-.1 .4-.5-.3 0-.1-.2-.5-.1-.5-.2-.5 0-.1-.1-.4 0-.5-.1-.5-.2-.5 0-1-.1-.5 0-.2-.1 .2-.4 .5 0 .5-.3 1.5-.2 .3-.1 .2-.2 .5-.2 .3-.4 .2-.1 .3-.2 .2-.3 .4 0 .1-.2 .5-.3 .5 0 .1-.5 .5-1 .2-.5-.2-.1-.1-.4-.2-.1-.3-.3-.5-.1-.1-.5-.3 0-.1-.2-.5-.1-.5-.2-.5 0-.2-.2-.3-.3-.5-.2 .5-.3 .2-.2 .3-.3 .4-.1 .1-.2 .5-.1 .5 0 .5-.1 .5 0 .1-.1-.1-.4-.3-.1-.2-.2-.5-.2-.4-.2 .4-.2 .5-.1 .2-.3 .3-.1 .5-.1 .2-.5-.2-.3-.5-.2-.3-.3 .3-.2 .1-.5 .1-.2-.2-.3-.4-.5-.1-.3 .5-.2 .4 0 .1-.3 .5-.2 .5-.5 .5-1-.2-.5 0-.5-.2-.1-.1-.4-.3-.2 .3-.2 .5-.1 .3-.4 .2-.1 .1-.3-.1-.2-.1-.5-.1-.4 .2-.6 0-.5-.5-.4-.5-.1-.1-.5-.3-.4-.1-.2 0-.4 .2-.5 0-.5 .2-.1 .1-.4 .1-.5 .4-.5 0-.5-.4-.1-.1-.4-.5-.5-.4-.5 0-.4-.1-.1 0-.5-.4-.2-.1-.3-.2-.2-.3-.3-.3-.4-.2-.1-.1 0 .1-.5 .4-.1-.4-.3-.5-.1 0-.4-.5-.1-.1-.3-.4-.2-.2-.1 .2-.2 .5-.2 1-.5 .2-.1-.2-.3-.5-.1-.1-.1-.4 0-.5-.3-1.5-.1-.1-.3-.4-.2-.3-.3-.2-.2-.2-.1-.3-.2-1 0-.5-.4-2 0-.5-.2-1 0-.5-.1-.5-.5-.3 0-.7-.1-.5 0-4.5-.1-.5 0-13zM356.6 65.6l3.7 0 0 18-.1 .5 0 3.5-.1 .5 0 2-.1 .5 0 1.5-.1 .5 0 1-.1 .5 0 .5-.2 1 0 .1 0-.1-.1-.5 0-.5-.2-.5-.2-.4 0-.1-.4-2-.1-.3-.1 .3-.4 1 0 .1-.2 .4-.2 1-.1 .2-.2-.2-.2-.5-.2-1 0-1-.1-.5 0-.5-.1-.5 0-1.5-.1-.5 0-2-.1-.5 0-2.5-.1-.5 0-3-.1-.5 0-8-.1-.5 0-5zM361.6 65.6l2.9 0 0 14-.1 .5 0 3-.1 .5 0 2-.1 .5 0 1.5-.1 .5 0 .5-.2 .5-.1 .5-.2 .5 0 .1 0-.1-.2-1 0-.5-.2-1 0-.5-.1-.5 0-.5-.1-.5 0-.5-.1-.5 0-1-.1-.5 0-1-.1-.5 0-1-.1-.5 0-1.1 0 .1-.2 1 0 .5-.2 1-.1 .4-.1-.4-.2-.5-.1-.5-.1-.3 0-3.7-.1-.5 0-10.5zM385.1 65.6l41 0 0 11-.1 .5 0 4-.1 .5 0 2-.1 .5 0 1-.1 .5 0 1-.1 .5 0 .5-.2 1-.2 .5-.1 .4 0 .1-.1 .5 0 .5-.2 1 0 .5-.1 .5-.1 .4 0 .1-.2 .5-.1 .5-.2 .5-.1 0-.4-.4 0-.1-.1-.5-.3-.5-.1-.2-.3 .2-.2 .3 0 .2-.2 .5-.1 .5-.2 .4-.1 .1-.3 .5-.5 .5-.1 .2-.5 .3-.2-1-.2-.5-.1-.2-.2 .2-.2 .5-.1 .1-.5 .1-.5-.5-.4-.2-.1-.1 0 .1-.3 .5-.2 .3-.1 .2-.3 .5-.1 .2-.5-.1-.3-.1-.2-.2-.4 .2-.1 0-.5 .5-.5-.3-.5 0-.5 .3-.5 .1-.5 .4-.1 0-.4 .3-.5-.2-.4 .4-.1 .3-.5 0-.5 .1-.5-.3-.5-.5-.5 .2-.5 .1-.2 .1-.3 .1-.5 .1-.5-.1-.3-.1-.2-.1-.5-.1-.3 .2-.2 .1-.5 .2-.4-.3-.2 0-.4 .5-.5 .1-.2-.1-.3-.1-.5 .1-.5 .3-.5 .1-1-.8-.5 0-.5-.1-.5-.4-1 0-.1-.1-.3-.5-.1-.3-.1-.2-.1-.5-.2-.5-.1-.5 0-.1-.5-.2-.1 .3-.2 .5-.2 .4-.2 .1-.3 .2-.4-.2-.6-.6-.3-.4-.2-.2-.5-.1-.4-.2-.1-.1-.5-.4-.5-.2-.2-.3-.3-.4-.1-.1-.4-.5-.4 1-.1 .3-.1 .2-.4 1-.5 .5-.5 0-.2-.5-.1-.5-.2-.5 0-.5-.2-1-.3-.4 0-.1-.1-.5 0-.5-.2-1-.2-.5 0-.1-.5 0-.2-.4-.1-.5-.2-.5-.4-2 0-.5-.1-.5-.5-.2 0-.3-.1-.5 0-2-.1-.5 0-16zM428.1 65.6l.8 0 0 14.5-.1 .5 0 4-.1 .5 0 2-.1 .5 0 .6 0-.1-.3-.5-.2-.4 0-.6-.1-.5 0-2.5-.1-.5 0-5.5-.1-.5 0-11.5zM431.6 65.6l3 0 0 8.5-.1 .5 0 3.5-.1 .5 0 2-.1 .5 0 1-.1 .5 0 .5-.1 .5 0 1-.1 .5 0 .5-.1 .5 0 .5-.2 1 0 .5-.1 .5-.3 .5-.2 1 0 .3-.1-.3-.2-1-.2-.5 0-.1-.5 .1-.5-2.5 0-1-.1-.5 0-2-.1-.5 0-3-.1-.5 0-13zM435.1 65.6l1.8 0 0 8-.1 .5 0 9-.1 .5 0 1.5-.1 .4-.2-.4-.1-.5-.2-.2-.1 .2-.4 2-.3-.5-.1-.5 0-1.5-.1-.5 0-2-.1-.5 0-.5-.1-.5 0-1-.1-.5 0-1.5-.1-.5 0-3-.1-.5 0-7.5z"/>
<path fill-rule="evenodd" fill="#cae1ee" d="M112.6 65.6l2.7 0 0 11.5-.1 .5 0 2.5-.1 .5 0 1.5-.1 .5 0 .5-.2 1 0 .5-.2 1 0 .3-.1 .2-.4 .5-.4 1-.1 .3-.3 .2-.2 .1 0-.1-.4-2 0-.5-.1-.4 0-.1-.1-.5 0-1-.1-.5 0-1.5-.1-.5 0-2-.1-.5 0-4.5-.1-.5 0-8zM119.6 65.6l5.2 0 0 6.5-.1 .5 0 2.5-.1 .5 0 1-.1 .5 0 1-.1 .5 0 .5-.1 .5 0 .5-.1 .5 0 .5-.1 .5-.3 .5-.2 .4-.2-.4-.2-.5-.1-.3 0 .3-.2 1 0 .5-.2 1 0 .5-.1 .3 0 .2-.1 .5 0 .5-.1 .5 0 .5-.2 1 0 .5-.1 .3-.1 .2-.4 .4-.1-.4-.4-2 0-.5-.4-2 0-.5-.1-.5 0-.1-.1-.4-.2-.5-.1-.5-.1-.3 0-.2-.4-2 0-.5-.1-.5 0-1-.1-.5 0-2.5-.1-.5 0-8.5zM182.1 65.6l9.4 0 0 6.5-.1 .5 0 2.5-.1 .5 0 1.5-.1 .5 0 1-.1 .5 0 .5-.2 1 0 .5-.3 1.5 0 .5-.4 2-.1 .4 0 .1-.2 .5-.1 .5-.2 .4-.2-.4-.2-.5-.1-.2 0-.3-.3-1.5 0-.5-.1-.5 0-.5-.1-.5 0-.5-.1-.5 0-.5-.1-.5 0-.5-.1-.5 0-1-.1-.5 0-1-.1-.5 0-.9 0 .9-.1 .5 0 1-.1 .5 0 .5-.1 .5 0 .5-.1 .5 0 .5-.1 .5 0 1-.1 .5 0 1-.1 .5 0 .5-.1 .5 0 .5-.1 .5 0 .5-.1 .5 0 .1-.1 .4-.2 1-.2 .5 0 .1-.4-.1-.1 0-.2-.5-.1-.5-.2-.5 0-.1-.2-.4-.3-.4 0-.1-.3-.5-.2-.5 0-.1-.1-.4-.4-2 0-.1-.1-.4-.4-1 0-.1-.1-.4-.2-.5-.2-1 0-.1-.2 .1-.3 .2-.2 .3-.3 .3 0-.3-.1-.5 0-1-.1-.5 0-2-.1-.5 0-4.5-.1-.5 0-5zM195.1 65.6l2.7 0 0 9.5-.1 .5 0 2-.1 .5 0 .5-.4-1-.1-.3-.2 .3-.3 .4 0 .1-.1 .5-.2 .5-.1 .5-.1 .2-.2 .3-.3 .3-.5-.2 0-.6-.1-.5 0-1-.1-.5 0-1.5-.1-.5 0-3-.1-.5 0-6.5zM205.1 65.6l.2 0 0 8-.1 .5 0 2-.1 .5 0 .7 0-1.2-.1-.5 0-10zM255.6 65.6l4.9 0 0 6.5-.1 .5 0 6-.1 .5 0 2.5-.1 .5 0 1.5-.1 .5 0 1-.2 1 0 .5-.3 1.5 0 .1-.3 .4-.2 .2-.1 .3-.3 .5-.1 .2-.1 .3-.2 .5-.2 .3-.5-.3-.4-1-.1-.4 0-.1-.3-.5-.2-.5 0-.1-.1-.4-.1-.5-.2-.5-.1-.5 0-.1-.1-.4 0-.5-.2-1 0-.5-.1-.5 0-.5-.1-.5 0-1-.1-.5 0-1.5-.1-.5 0-2-.1-.5 0-10.5zM266.6 65.6l.6 0 0 7-.1 .5 0 3.5-.1 .5 0 1-.1 .5 0 .5-.1 .5 0 .5-.1 .5 0 .5-.1 .5 0 .1 0-.6-.1-.5 0-1-.1-.5 0-1.5-.1-.5 0-3.5-.1-.5 0-7.5zM323.1 65.6l2.2 0 0 3.5-.1 .5 0 3.5-.1 .5 0 2-.1 .5 0 1.5-.1 .5 0 1-.1 .5 0 .5-.1 .5 0 .5-.1 .5 0 .5-.4 2-.1 .3-.5-.1 0-.2-.2-1 0-.5-.1-.5 0-.5-.1-.5 0-.5-.1-.5 0-1-.1-.5 0-2-.1-.5 0-8.5-.1-.5 0-1.5zM327.6 65.6l7.1 0 0 8.5-.1 .5 0 3.5-.1 .5 0 1-.1 .5 0 1-.1 .5 0 .5-.1 .5 0 .5-.1 .5 0 .3-.5-.2 0-.1-.2-.5-.2-1-.1-.4-.2 .4-.3 .4 0 .1-.4 2-.1 .3 0 .2-.4 2-.1 .3 0 .2-.2 .5-.2 1-.1 .2-.5-.5-.1-.2-.4-1 0-.1-.4-.4-.1-.2 0 .2-.4 1-.1 .4-.5 .1-.2-1 0-.5-.1-.5 0-.5-.1-.5 0-.5-.1-.5 0-.5-.1-.5 0-.5-.1-.5 0-1-.1-.5 0-1-.1-.5 0-2-.1-.5 0-2.5-.1-.5 0-3.5-.1-.5 0-4.5zM399.1 65.6l6.5 0 0 5.5-.1 .5 0 3-.1 .5 0 1.5-.1 .5 0 .5-.1 .5 0 .5-.1 .5 0 1-.1 .5 0 1-.1 .5 0 .5-.2 1 0 .5-.1 .5 0 .2-.5 .3-.5-.5-.5 .3-.1-.3-.2-.5-.1-.5-.1-.4-.3 .4-.2 .3 0 .2-.2 1 0 .5-.3 1.5-.5 .5-.3-1.5 0-.5-.2-1 0-.5-.1-.5 0-.5-.1-.5 0-.5-.1-.5 0-.5-.1-.5 0-1-.1-.5 0-.5-.3 .5-.2 .4-.2-.4-.2-.5-.1-.3 0-.7-.1-.5 0-1.5-.1-.5 0-5.5-.1-.5 0-3.5zM406.1 65.6l2.3 0 0 6-.1 .5 0 2-.1 .5 0 .5-.1 .5 0 .5-.1 .5 0 .5-.4 2 0 .1-.1 .4-.3 1.5-.1 .2-.1-.2-.1-.5-.2-.5-.3-1.5 0-.5-.2-1 0-.5-.1-.5 0-.5-.1-.5 0-.5-.1-.5 0-.5-.1-.5 0-1-.1-.5 0-3-.1-.5 0-2.5zM409.6 65.6l3.5 0 0 9-.1 .5 0 3.5-.1 .5 0 2-.1 .5 0 1.5-.1 .5 0 1-.1 .5 0 .1-.1 .4-.1 .5 0 .5-.2 .5-.1 .5 0 .1 0-.1-.2-.5-.1-.5-.2-.5 0-.2-.1-.3 0-.5-.2-1 0-.5-.1-.5 0-.5-.1-.5 0-.1-.5-.2-.1 .3-.4 1 0 .1 0-.1-.2-1 0-.5-.2-1 0-.5-.1-.5 0-.5-.1-.5 0-1-.1-.5 0-2.5-.1-.5 0-8.5z"/>
<path fill="#e5f1f7" d="M95.6 171.4l1.4 .6 2 .9 2.3 .6 2.3-.4 2.3-2 1.1-1.6 1.2-1.5 2.4-3.2 2.7-2.2 1.5-.5 1.6-.5 1.6-.2 1.7-.2 3.4 .2 1.5 .2 1.6 .2 2.6 .7 2.3 1.2 2.3 1.4 2.4 1.5 2.7 1.8 2.8 2 2.9 2.2 2.9 2.1 2.8 2 5.8 4 2.6 2 2.6 2.2 2.5 2.3 2.2 2.1 1.6 1.4 .1-1.5 .2-1.6 .3-2.2 .3-2.3 .3-2.4 .3-2.3 .5-1.9 .4-1.8 .9-2.4 1-1.6 1.3-1.3 1.6-1.2 2-1.2 2.3-1.2 2.6-.9 2.7-.7 1.6-.2 1.5-.1 1.7-.1 3.3 0 1.7 .1 1.6 .2 1.5 .1 2.6 .5 2.2 .6 2.3 .9 2.5 1.2 1.6 .9 1.5 .8 1.6 1 1.7 1 1.7 1.1 4.8 3.3 3 1.9 2.9 2 2.8 2 2.6 2.1 2.5 2.5 2.6 2.8 2.2 2.6 1.5 1.8 .1-1.4 .1-1.9 .1-2.3 .2-2.4 .2-2.5 .2-2.4 .4-2 .3-2 1-2.8 1.3-2.1 1.6-1.6 1.7-1.6 2.1-1.3 2.3-1.2 2.6-.9 2.7-.6 1.6-.2 1.5-.1 1.8-.1 1.7 0 3.4 .2 2.8 .2 1.9 .3 1.3 .4 1.4 .7 2.2 1 3.4 1.6 2.1 1 2.2 1 4.4 2.2 2 1.1 2 1.2 1.8 1.1 1.8 1.2 1.7 1.2 1.8 1.2 1.5 1.3 1.6 1.2 2.6 2.4 2.1 2.5 1.6 2.5 1.1 2.3 .9 1.6 .2-2.9 .2-4.2 .2-2.2 .3-2.2 .3-1.9 .4-1.9 1-2.9 1.2-2.5 1.5-2.2 1.9-2.1 2.4-2 2.9-1.8 3-1.6 3-1 2.7-.4 2.8 .1 2.8 .5 2.9 .6 1.6 .4 1.5 .5 1.6 .5 1.6 .6 1.7 .7 3.2 1.4 1.7 .7 3.2 1.6 1.6 .9 1.6 .8 1.6 1 1.6 .9 1.6 1 1.6 1.1 3.4 2.2 1.8 1.3 1.8 1.2 1.6 1.2 1.7 1.3 2.6 2.4 1.8 2.5 1.3 2.5 .8 2.3 .6 1.6 .1-1.4 .1-1.9 .4-4.6 .2-2.5 .3-2.5 .8-4 1.2-2.9 1.5-2.2 1.7-1.9 2.1-1.9 2.4-2 2.9-1.9 3-1.6 2.9-.9 2.8-.1 2.6 .6 2.8 .9 1.5 .5 1.6 .5 3.4 1 1.8 .6 1.8 .5 1.9 .7 1.8 .6 1.9 .7 1.8 .7 1.8 .8 3.6 1.8 1.8 .8 1.8 1 1.9 .9 3.6 2 2 1 2.1 1.1 2.1 1.2 2.2 1.1 2 1.1 1.9 1 2.7 1.5 0 44.7-1.1 .7-1.5 1-1.9 1.2-2.5 1.2-3 1.2-1.8 .7-1.8 .6-2 .6-1.9 .7-2 .5-1.9 .5-3.8 .8-3.8 .6-2 .1-2 .2-2.2-.1-2.3 0-5.4-.8-6-1.2-3-.8-3-.7-2.5-.7-2.6-.6-2.2-.6-2.1-.6-2-.5-1.9-.6-1.6-.6-1.5-.6-2.4-1.4-1.2-1.8-.2-2.1 .2-1.9 .1-1.4 0 3.1-.1 1.9-.4 1.4-.5 .9-.7 .4-1.1 .5-1.7 .6-2.5 1.1-1.5 .7-1.6 .7-1.7 .6-1.8 .7-1.9 .5-1.9 .6-1.9 .4-2 .5-4.2 .8-4.6 .6-2.5 0-2.5 .1-2.9-.3-2.9-.2-2.2-.4-4.4-.6-2.1-.4-2.1-.5-2.1-.4-5.4-1.2-2-.7-2.1-.6-1.6-.7-1.7-.7-2.6-1.4-2-1.6-1.2-1.8-.4-2.1 0-3.3 0 3.4-.1 2.1-.4 1.7-.8 1.1-1 .7-1.4 .6-2 .8-2.6 1.2-1.5 .7-1.6 .6-1.8 .7-1.7 .6-1.8 .5-1.8 .6-1.9 .4-1.8 .5-3.8 .8-2.1 .3-2 .2-2.3 .1-2.2 .1-2.6-.2-2.5-.2-2.8-.3-2.8-.4-5.6-1-2.4-.6-2.5-.5-4.4-1.2-2.1-.6-2-.6-1.8-.8-1.7-.7-2.5-1.8-1.2-2.3-.1-2.8 .5-4.5 0 1.8 .1 2.7-.2 2.8-.7 2.3-1.5 1.5-2.2 1.1-2.3 1-2 1.3-1.5 1.7-1.2 2.1-1.4 1.9-2.4 1.5-1.8 .5-1.8 .4-4.6 .6-2.4 .2-2.5 .2-4.6 .2-1.9 0-2 .1-1.9 0-1.8-.1-2-.1-1.9-.1-2.3-.1-2.2-.2-5.8-.6-6.6-.9-2.1-.3-2.1-.2-2.1-.3-4.6-.4-2.4 0-.8 .3-.3 .6-.6 1-1 1.7-1 2.1-1.2 2.3-1.6 1.9-2.4 1.5-1.5 .6-1.6 .6-2.9 1.1-2 1.1-.9 1.2-.2 1.3 .2 1.2 .1 .8 .3 0 .1-.1-1.8 .2-1.8 .1-2.5 .3-2.5 .2-2.9 .2-3 .1-4.3 0-2.1-.1-2.6-.2-5.2-.6-2.3-.3-2.2-.3-2.3-.3-2.2-.3-2.8-.5-5.6-.8-2.9-.4-2.9-.5 0-4.9 1.5-.3 2.1-.3 2.2-.3 1.4-.3 0-.9-.1-.6-.7-.4-1.3-.2-3.8-.2-1.3-.1 0-74.2z"/>
<path fill="#e5f1f7" d="M458.2 343.7l-5 0-2.3 .1-2.4 0-2.3 .1-5.6 0-2.7 .1-2.9 0-3 .1-7.9 0-2.4 .1-11 0-2.9 .1-10.7 0-2.7 .1-7.6 0-2.1 .1-1.7 .1-1.1 0-2.6 .1-2.2 .1-4.7 0-2.5 .1-4.1 0-2 .1-11.6 0-2.3 .1-29 0-2.7 .1-2 0-1.9 .1-1.3 .1-1.1 .2-1.7 .1-1.6 .1-2.2 0-4.4 .2-2.7 0-5.6 .2-3 0-3 .1-5.7 0-2.8 .1-10.6 0-2.5-.1-2.6 0-2.5-.1-2.5 0-2.4-.1-9 0-5.4 .2-2.4 .1-2.3 .1-2.2 .2-4.6 .2-2.4 .1-5 .2-5.2 0-2.6 .1-2.7 0-2.7-.1-2.7 0-2.8-.1-2.9 0-6-.3-2.9-.1-2.9-.2-5-.2-2-.2-2-.1-1.6-.1-1.7-.2-2.9-.2-2.6-.2-2.4 .1-1.9 .1-1.9 .2-1.9 .1-6.1 0-1.9-.1-1.5-.3-1.1-.4-1.5-.4-2.3-.5-1.9-.3-1.8-.2-2.4-.3-2.3-.2-2.4-.3-2.5-.3-4.4-.6-2-.3-2.1-.3-1.9-.4-2-.3-1.7-.4-1.8-.3-3-.8-2.3-1-1.7-1.1-1.3-1.1-1.1-.9-.8-.6-.4-.5-.3-.4-.1-.2 .8-1 1.2-1.4 1.2-1.3 .8-1-1.7-1-2.5-1.5-2.6-1.6-2.1-1.5-1.2-1.4-.9-1.3-.6-1.2-.5-1.3-.3-1.2-.2-1.1 .1-1.2 .4-1.5 1-2.1 1.4-2.6 2.5-4-2.1-1.1-6-3.2-2-1.1 0 103.2 362.6 0 0-55.3z"/>
<path fill="#cae1ee" d="M98 181.9l.9-.3 1.3-.5 1.6-.6 1.8-1 2.1-1.6 2.3-2.1 2.6-2 2.7-1.5 1.5-.5 1.6-.5 1.6-.2 1.7-.3 3.4-.2 3.1 0 2.6 .4 2.3 .6 2.3 .9 2.4 1.4 2.7 1.8 2.8 2.3 2.9 2.4 2.9 2.3 4.5 3 1.6 1 2.9 2 2.2 2 1.5 2.2 .9 2.3 .5 2.3 .3 2.6 .1 2.9 0 1.5-.1 1.6-.2 1.6-.6 4.5-.4 2.6-.6 2.5-.6 2.4-.8 2.1-.8 1.9-1 1.6-1.1 1.5-1.1 1.4-1.1 1.6-1 1.4-1.4 1.4-2.1 1.3-1.7 .5-1.7 .6-2 .5-2.1 .5-2.2 .4-2.3 .4-2 .1-2.1 .2-1.9-.2-2-.1-3.8-.8-1.7-.5-1.8-.5-1.7-.6-1.6-.5-2.8-1.1-2.6-1.3-2.2-1.4-2-1.9-1.8-2.2-1.5-2.4-1.3-3-.5-1.8-.6-1.8-.4-2.4-.4-2.3-.6-5.6-.4-5.6-.6-5-.6-4.4-.4-2-.3-2-.6-3.4z"/>
<path fill="#cae1ee" d="M171.2 184.3l1-2.4 1.4-1.9 1.8-1.7 2.2-1.2 2.7-.9 1.6-.2 1.5-.2 1.8-.1 1.7-.1 1.8-.1 1.8 0 3.8-.2 4.2 0 4.2 .2 3.8 .8 1.8 .7 1.8 .8 3.4 2 1.5 1.2 1.6 1.1 2.8 2.2 2.5 2 2.2 2.1 1.9 2 1.4 1.9 1.1 1.9 .6 1.7 .3 1.7 .1 1.7-.1 1.6-.4 1.6-1.2 3.2-.7 1.7-.7 1.6-.9 1.6-1.3 1.6-1.8 1.4-2.3 1.4-2.2 1.4-1.7 1.4-.5 1.4 .2 1.5 0 1.5-1.3 1.2-1.5 .6-1.6 .5-2.1 .6-2.1 .5-2.3 .4-2.2 .3-2.2 .2-2.1 .1-2-.2-2.1-.2-2-.5-2.1-.5-1.9-.5-1.8-.6-2.6-.7 .3-.8 .3-1.1 .1-1.4-.7-1.5-1.8-1.7-2.8-1.8-2.8-2.1-2.2-2.5-1.4-2.8-1-3.2-.3-1.7-.4-1.7-.6-5.1-.2-1.8 0-1.6-.1-2 .2-3.4z"/>
<path fill="#cae1ee" d="M245.9 184.8l.4-1.9 .4-1.3 .6-1.1 1-1 1.5-1.2 1.9-1.1 2.2-1 2.5-.7 1.5-.3 1.5-.2 1.8-.1 3.4-.2 6.7 0 1.5 .1 1.5 .2 1.7 .5 2.2 .7 2.5 .8 2.6 1.1 2.3 1.4 2.2 1.7 2.2 2.1 1.9 2.1 1.8 2.1 1.5 2.2 1.3 2.2 1.1 2.1 .9 1.6 .8 .7 .6 .1 .3 .3-.1 1-.4 2.2-.8 3-1.2 3.2-1.6 2.8-2.2 2.5-2.7 2.4-2.8 2.1-2.8 1.9-2.4 1.7-2.3 1.5-2.4 1.2-2.5 .4-2.7-.4-2.9-1.2-2.9-1.5-1.6-.9-1.5-.8-1.6-1-1.7-.9-1.7-1.1-1.7-1-1.7-1.2-1.6-1.2-2.8-2.5-2.3-2.6-1.8-2.7-1.4-2.9-1-3-.1-1.7-.2-1.6 .1-1.6 .1-1.9 .2-1.7 .3-1.7z"/>
<path fill="#cae1ee" d="M317.8 190.7l.6-2.1 .9-2.3 1.3-2.3 2-2.1 1.5-1 1.5-.9 1.9-1 2-.9 4-1.6 3.6-1 3-.5 2.6 0 2.7 .4 2.9 .9 1.8 .7 1.8 .8 1.9 1 2 1 1.9 1.2 1.9 1.1 3.2 2.2 2.6 2 2.1 2 1.8 2.1 1.6 1.9 1.2 2.2 .9 2.2 .6 2 .5 1.4 0-2.4-.5 2-.6 3-.5 1.6-.4 1.7-1.2 2.9-1.6 2.7-1.9 2.6-2.1 2.4-2.5 2-2.9 1.6-1.6 .6-1.6 .7-3.4 .8-1.7 .2-1.6 .1-1.7-.2-1.6-.1-3.2-1-3.2-1.2-1.6-.8-1.6-.7-3.4-1.6-1.7-1-1.7-.9-1.7-1-1.6-1.1-2.8-2.5-2.2-3-.9-1.7-.9-1.8-1.4-3.4-1-2.9-.6-2.1-.1-1.6 .2-1.5z"/>
<path fill="#cae1ee" d="M388.5 190.7l1-2.3 1.3-2.6 1.8-2.5 2.4-2.2 1.5-.9 1.6-.9 1.9-.9 1.9-.8 2-.6 2-.7 1.8-.4 1.7-.4 3-.5 2.7 0 2.6 .4 3 .9 1.8 .7 1.7 .8 2 1 1.9 1 1.9 1.2 1.9 1.1 1.6 1.1 1.7 1.1 2.5 2 2.2 2 1.8 2.1 1.5 1.9 1.2 2.2 .9 2.2 .7 2 .4 1.4-.1-.5-.3-.7-.2-.7-.2-.5-.9 2.7-.6 2-.7 2-1.6 4.2-1.8 3.6-2.1 2.7-2.5 2.4-2.5 2-2.6 1.7-2.3 1.4-2.3 1-2.4 .7-2.6 .1-3-.4-3.2-.8-3.4-1.2-1.6-.8-1.7-.8-1.7-1-1.6-.9-1.8-1.2-1.7-1.2-1.7-1.3-1.6-1.3-2.7-2.8-1-1.5-1.1-1.6-.7-1.7-.8-1.8-.6-1.6-.6-1.7-.9-2.9-.7-2.1-.4-1.6-.1-1.5z"/>
<path fill="#cae1ee" d="M458.2 348.5l-2.5 0-2.5 .1-4.8 0-2.4 .1-2.8 0-2.8 .1-5.6 0-2.8 .1-9.8 0-2.3 .1-22.6 0-2.6 .1-2.5 0-2.4 .1-2.3 .1-2.7 .2-2.2 .2-1.6 .1-1.7 .1-2.3 .1-4.9 0-2.5 .1-10.5 0-2.3 .1-5.9 0-2.9 .1-2.6 0-2.6 .1-5.2 0-2.5 .1-2.5 0-2.5 .1-2.5 0-2.6 .1-2.6 0-2.6 .1-2.1 .1-2 .1-1.8 .3-1.7 .3-3.6 .2-2.4 .1-2.3 .1-2.4 0-2.2 .1-2.3 0-2.3 .1-2.2 0-2.3 .1-2.2 0-2.3 .1-2.2 0-2.4 .1-2.3 0-2.4 .1-4.2 0-2.6 .1-2 0-2.8 .1-5.7 0-2 .1-2.1 0-6.3 .3-1.9 .2-1.8 .2-1.9 .2-1.8 .3-2 .2-1.9 .3-2.4 .2-2.3 .2-5.8 .2-4.3 0-2.2 .1-6.8 0-2.2 .1-6.7 0-2.3 .1-7 0-2.4 .1-6.6 0-2.6 .1-2.6 0-1.6 .1-1.7 0-1.9 .1-1.3 .2-1.5 .3-1.8 .4-3.2 1.2-2.5 1-.9 .3-1 .3-1.9 .2-2.8 .3-3.4 .2-2 .2-1.9 .1-2.2 .1-2.1 .1-2.5 .1-2.4 0-5.4 .2-2.7 0-2.8 .1-2.6 .1-5 .2-2.5 .2-2.4 .1-2.5 .2-2.2 .2-2.2 .1-3.4 .4-2.2 .3-1.1 .4-.7 .4-.9 .5-1 .4-2 1-1 .6-2.4 1.6-1.2 .7-.8 .6 0 32.7 362.6 0 0-50.7z"/>
<path fill="#a7d0e4" d="M113.3 181.1l2.2-.2 2.2-.1 2.2-.2 4.2-.4 2.3-.1 4.4-.2 5 .4 2.7 1.2 1.5 1.9 1 2.1 1.2 2 1.8 2.2 1.8 2.3 1.7 2.1 1.2 1.5 .6 .4 .2-.4 0-.2 0 .7 .1 2.2 .1 1.6 .1 1.5-.1 1.7-.1 1.6-.9 2.6-2.2 1.7-1.5 .5-1.6 .5-3 1-2.2 1.2-.9 1.6-.1 1.9 .1 1.7 .1 1.2-4 0-.2-1.2-.2-1.6-.3-1.7-.1-1.1-1.6 0-.1 1-.2 3.2 0 1.1-.8-.1-1.1-.2-1.1-.1-.7-.1 .1-1 .2-1.3-.2-1.6-.9-1.7-2.3-1.9-3.2-2-1.6-1.1-1.6-1-2.6-2.1-1.7-1.8-1.2-1.8-.7-1.9-.4-2.5 .2-3.6 .4-2 .3-2.4 .5-2.1 .4-2z"/>
<path fill="#a7d0e4" d="M180.8 196.9l1.2-.5 1.7-.7 1.9-.7 1.7-.5 1.4-.4 1.5-.2 1.3-.1 .9-.1 .1-2.5 .3-5.4 .1-1.7 .1-2.5 .2 2.3 .2 1.7 .1 1.6 .2 1.7 .1 1.7 .2 2.3 2.2 .1 1.6 .1 1.7 .2 3.2 .2 2.2 .2 .2-.9 .2-1.1 .1-1.2 .2-.9 .1 .9 .1 1.3 .3 1.3 .4 1 .9 .7 1.1 .5 1.1 .4 1 .4 .7 .3 .7 .2 .6 .2 .4 .1-.6 .4-.8 .6-2.7 2.1-1 .7-1 .6-1.3 .4-1.6 0-1.7-.2-3.8-.6-2-.2-2.2-.2-2-.2-1.8-.2-1.5-.2-2.2-.6-1.2-.3-1.3-.5-1.4-.6-1.2-.6z"/>
<path fill="#a7d0e4" d="M258 196.9l1.3-.4 1.9-.5 1.9-.8 1.3-1.5 .6-2.7 .1-1.8 0-7.6 .2 2.3 .1 1.7 .1 1.6 .2 1.7 .1 1.7 .2 2.3 2.1-.2 2.9-.2 3-.3 2-.1 .3-1.2 .3-1.7 .7-2.8 .1 1.3 .1 1.8 .3 1.9 .5 1.5 .8 .9 1.1 .6 1.2 .4 2 1 .9 .4 .8 .4 .5 .3-.8 .6-1.3 .9-1.4 1-1.3 .7-1.1 .5-1.1 .3-1.1 .2-1.5 .1-1.9-.1-4.4-.6-2.1-.4-1.8-.4-1.7-.4-1.6-.4-1.3-.4-1.1-.5-.9-.4-.7-.4z"/>
<path fill="#a7d0e4" d="M329.9 194.4l.1-.9 .3-1.1 .5-1 .7-.7 1.1-.2 1.4 0 1.3 .2 1 0 .3-1.9 .5-2.9 .5-2.8 .3-2 2.4 0 .3 1.3 1 3.8 .3 1.3 .3-1.3 1-3.8 .3-1.3 .5 0 .6-.1 .7 .2 .6 .7 .5 1.5 .5 2.2 .4 2.1 .2 1.4 .4-1.6 .4-2.4 .5-2.4 .4-1.6 .3 0 .6-.2 .6 .2 .5 .8 .5 1.8 .4 2.4 .5 2.6 .6 2 .7 1.4 .9 1.1 .9 .8 .7 .8 .5 .7 .5 .6 .6 .8-.5 .6-.8 .8-.9 1-1 .8-1.1 .7-1.2 .8-1.3 .6-1.2 .3-1.2 .1-1.1-.2-1.1-.3-1.5-.4-1.8-.5-2.1-.7-2.1-.6-2-.6-1.9-.4-1.8-.4-1.6-.3-1.1-.5-.7-.7-.2-.8 0-.9z"/>
<path fill="#a7d0e4" d="M399.8 196.4l.5-.1 .7-.1 .7-.4 .5-1 .3-2.3 .2-1.3 .1-1.8 0-1.5 .1-1.5 .1-2.1 .3 1.3 1 3.8 .3 1.3 .9-.5 1.4-.7 1.4-.9 1.1-1.1 .8-1.5 .5-1.9 .4-1.8 .8-1.2 1.1-.5 1.4 .1 1.4 .2 .9 .2 .3 1.3 1 3.8 .3 1.3 .5-1.1 1.4-3.4 .5-1.1 .3-.1 .5-.1 .6 .2 .5 .8 .5 1.9 .3 2.7 .5 2.8 .8 2.2 1.3 1.6 1.7 1.3 1.6 1 1 .7-.5 .6-.7 .8-.9 .9-1.1 .9-1.2 .9-1.4 1-1.5 .8-1.5 .5-1.3 .1-1.4-.1-1.3-.4-1.6-.4-1.9-.5-2-.6-2.2-.7-4-1.2-2-.7-1.9-.6-1.3-.5-.7-.5-.2-.3 .1-.3z"/>
<path fill="#a7d0e4" d="M458.2 352.9l-2.5 0-2.5 .1-4.8 0-2.4 .1-2.8 0-2.8 .1-5.6 0-2.8 .1-5.1 0-2.3 .1-9.6 0-2.5 .1-9.7 0-2.5 .1-2.7 0-2.7 .1-2.7 0-5.8 .2-2.1 .2-2.1 .1-2 .2-2 .1-2.7 .2-2.6 .1-2.5 0-2.4 .1-2.5 0-2.8 .1-8.6 0-2.9 .1-5.4 0-2.5 .1-2.6 0-2.2 .1-2.2 0-2.2 .1-2 .1-2 0-2.1 .1-2.6 .1-2.7 .1-2.2 .1-2.3 .1-2.8 .3-1.4 .3-1.8 .3-3.6 .2-2.4 .1-4.6 .2-2.2 0-2.3 .1-2.2 0-2.3 .1-2.3 0-2.2 .1-2.3 0-2.3 .1-2.4 0-2.3 .1-2.4 0-2.1 .1-4.7 0-2 .1-2.8 0-1.8 .1-1.9 .1-2 0-2 .1-6.3 .3-2.1 .2-1.9 .2-1.8 .2-1.9 .2-1.8 .3-2 .3-1.9 .2-2.4 .2-2.3 .3-3 .2-2.9 .2-2.3 .1-2.2 .1-6.9 .3-2.3 .2-2 .1-4.2 .2-2.7 .1-2.7 .2-5 .2-2.3 .2-2.3 .1-2.1 .2-2.1 .1-2 .2-1.9 .1-1.7 .2-1.8 .2-1.5 .1-1.5 .2-2.5 .3-1.7 .2-1.1 .1-.9 .2-1.1 .3-1.2 .4-1 .6-1.6 .6-2.7 .7-2.2 .4-2.2 .3-5.6 .8-2.9 .4-3 .4-2.5 .4-2.5 .3-1.9 .4-1.9 .3-3.2 .6-2.9 .6-2.9 .7-6 1.6-2.7 .9-2.6 .9-2.3 .9-2 .8-1.9 .8-3.6 2-3.2 2.2-1.5 1.2-1.3 1.2-1.2 1.3-1.2 1.2-1.1 1.3-1.1 1.4-1 1.4-.9 1.2-.6 .9 0 7.4 362.6 0 0-46.5z"/>
<path fill="#80bad8" d="M458.2 356.9l-7.6 0-2.7 .1-8.3 0-2.9 .1-5.9 0-2.9 .1-5 0-2.5 .1-5.1 0-2.6 .1-2.6 0-2.2 .1-2.3 0-2.3 .1-3 .1-3 0-2.5 .1-2.6 .1-1.8 .2-1.8 .1-2.3 .4-2.5 .3-2.3 .2-2.2 .1-2.5 .1-2.5 0-2.6 .1-2.3 0-2.4 .1-2.4 0-2.4 .1-4.9 0-2.5 .1-5.2 0-2.9 .1-2.8 0-2.2 .1-2.3 0-2.2 .1-3 0-2.9 .1-2.6 .1-2.6 0-2.4 .2-2.3 .1-1.7 .1-1.7 .2-2.4 .4-2.7 .4-2.2 .2-2.1 .1-7.2 .3-3 0-3 .1-3 0-3 .1-3 0-3 .1-2.3 0-2.4 .1-2.3 .1-2.2 .1-2.1 .1-2.7 .3-2.1 .2-2.5 .3-1.5 .1-3.2 .2-1.6 .2-1.7 .1-1.6 .1-1.6 .2-1.6 .1-2.8 .5-2.5 .4-1.5 .3-1.5 .2-2.3 .3-2.3 .2-2.4 .2-2.3 .2-2.4 .2-2.9 .1-2.9 .2-3 .2-2.9 .2-3 .1-3 .2-2.4 .2-2.5 .2-2.5 .1-2.6 .3-2.6 .2-2 .3-2 .2-1.7 .3-1.7 .2-1.7 .3-1.7 .2-3.4 .6-1.5 .3-1.6 .3-3 .6-3.4 .8-1.9 .4-1.9 .5-2.1 .5-2 .5-2.1 .6-2.1 .5-2 .5-2 .6-3.8 1-1.8 .5-1.9 .5-1.8 .4-1.8 .5-1.7 .4-1.6 .4-1.6 .3-1.5 .4-2.9 .5-2.7 .4-2.6 .6-2.6 .7-4.8 1.6-4.4 1.8-2.1 .9-2 .9-1.8 1-1.6 1.1-1.5 1.1-1.3 1-1.2 1.1-1 1.1-.9 1-.8 1.1-.5 .9-.4 1-.1 .9 0 1.4 349 0 0-42.7z"/>
<path fill="#559ec9" d="M458.2 361.1l-5.8 0-2.9 .1-7.5 0-2.5 .1-7.9 0-2.6 .1-8 0-2.6 .1-5.3 0-2.4 .1-2.4 0-2.4 .1-2.6 0-2.7 .1-2.2 .1-4.2 .2-2 .1-1.7 .1-1.6 .1-2.3 .3-2.7 .2-2.3 .2-2.3 .1-2.5 0-2.5 .1-2.6 .1-4.7 0-2.4 .1-4.8 0-2.5 .1-4.9 0-2.8 .1-2.9 0-2.8 .1-2.2 .1-2.3 0-2.2 .1-3 .1-2.9 .1-2.6 .2-2.6 .1-2.4 .1-2.3 .1-1.7 .2-1.7 .1-2.4 .3-2.7 .4-2.2 .1-2.1 .2-2.4 .1-4.6 .2-2.9 .2-2.8 .1-2.9 .1-3 .1-2.9 .1-3 .2-2.6 .1-2.5 .1-2.6 .2-2.1 .1-2 .2-2.1 .1-2.7 .3-2.7 .2-2.5 .3-2.4 .2-2.4 .3-2.3 .3-2.1 .3-2 .3-1.7 .3-3.6 .6-1.9 .4-4.8 .6-2.2 .2-2.3 .2-2.2 .3-2.7 .2-2.6 .2-2.7 .2-7.8 .6-2.2 .2-4.2 .4-2.2 .3-2.1 .2-3 .4-2.5 .4-1.6 .3-1.5 .3-1.9 .4-1.9 .5-2.1 .5-2 .5-2.1 .5-2.1 .6-2 .5-2 .6-1.9 .6-1.8 .6-1.9 .6-1.8 .7-3.6 1.2-1.7 .5-1.8 .5-1.6 .4-1.7 .4-1.6 .3-1.7 .3-1.6 .2-1.5 .3-1.6 .3-1.5 .3-3 .8-2.9 .7-2.8 .8-2.6 .9-2.4 .8-2.2 .9-2.2 1-2 .9-2 1-2 1.1-1.8 1-1.4 1-1 1-.7 .9-.4 .8-.4 .6 334.1 0 0-38z"/>
<path fill="#3884bb" d="M458.2 365.4l-22.5 0-2.7 .1-9.6 0-2.3 .1-2.4 0-2.4 .1-2.3 0-4.2 .2-2.1 0-2.8 .2-2.8 .1-2.5 .1-2.6 .2-2.1 .1-2.1 .2-5.1 .6-1.8 .2-2.5 .2-2.5 .1-2.4 .1-2.3 0-2.4 .1-8.5 0-2.9 .1-5.8 0-2.6 .1-2.6 0-2.7 .1-2.2 0-2.3 .1-2.2 .1-2.1 .1-2.1 0-2.1 .1-2.9 .2-2.9 .1-2.6 .2-2.7 .2-4.2 .4-1.6 .3-1.7 .2-1.8 .3-1.8 .2-2.5 .2-2.4 .3-4.8 .2-2.4 .2-2.9 .1-2.8 .1-5.8 .2-2.9 .2-3 .1-2.5 .1-2.6 .2-2.5 .1-2.1 .2-2 .2-2.1 .2-5.4 .6-2.5 .4-4.8 .6-2.3 .4-2.2 .3-2.2 .4-4 .8-1.9 .3-1.9 .4-2 .3-1.9 .3-8 .8-2 .1-2.1 .1-10 1-2 .1-2 .3-2 .2-2 .3-2.1 .2-2 .4-2.1 .3-2 .4-2.1 .4-4 .8-1.9 .5-1.9 .4-1.8 .4-1.7 .4-1.6 .4-1.7 .5-1.5 .4-1.6 .4-1.5 .5-1.5 .4-2.9 1-2.8 1-2.7 .9-2.9 .9-1.5 .4-1.6 .4-1.6 .3-1.6 .4-1.6 .3-1.5 .3-2.6 .6-1.8 .5-1.4 .3-1.1 .4-1.3 .4-1.6 .5-1.7 .7-1.7 .6-1.5 .7-2.8 1.8-2 1.5 320.4 0 0-34z"/>
<path fill="#256baf" d="M458.2 370.9l-5.3 0-2.6-.1-16.1 0-2.5 .1-4.7 0-2.1 .1-2.1 0-3 .2-3 .1-2.9 .1-3 .2-2.9 .1-3 .2-8.7 .6-2.8 .3-6 .4-2.2 .1-2.2 .2-2.2 .1-2.5 0-5.2 .2-2.8 0-2.8 .1-5.6 0-2.8 .1-2.8 0-2.5 .1-2.6 0-2.6 .1-2.2 .1-2.3 .1-2.2 .1-2.1 .1-2.1 .2-2.1 .1-5.8 .4-2.6 .2-2.7 .3-2.1 .3-2.1 .2-1.6 .3-1.7 .3-1.8 .4-1.8 .3-2.5 .3-2.4 .3-2.4 .1-4.8 .4-2.9 .1-2.8 .2-2.9 .1-2.9 .2-2.9 .1-3 .2-2.5 .2-2.6 .2-2.5 .2-2.1 .2-2 .3-2.1 .3-2.7 .4-2.7 .5-2.5 .4-2.4 .5-2.4 .4-2.3 .4-2.2 .4-2.2 .3-2 .4-2 .3-3.8 .6-2 .3-1.9 .3-4 .4-2 .3-4 .4-2.1 .2-2 .3-2 .2-2 .4-2 .3-2.1 .3-2 .3-8 1.6-3.8 .8-1.8 .5-1.9 .5-1.8 .4-1.8 .5-1.6 .5-1.7 .4-1.5 .4-1.6 .5-2.8 .8-2.6 .8-2.8 .7-2.8 .5-2.9 .5-2.8 .4-2.7 .5-5.6 1.2-2.4 .7-1.7 .4 297.9 0 0-28.9z"/>
<path fill="#154e8b" d="M458.2 378.3l-23.3 0-1.7 .1-1.7 0-1.7 .1-1.6 .1-2 .1-1.9 .1-2.2 .2-2.3 .2-2.4 .3-2.4 .2-7.5 .9-2.5 .2-2.2 .2-2.3 .3-2.2 .2-2.1 .2-2.4 .2-2.3 .2-2.9 .1-2.9 .2-2.4 0-5 .2-2.8 0-2.9 .1-5.7 0-2.9 .1-2.9 0-2.5 .1-2.5 0-2.5 .1-2.1 .1-2 .1-2.1 .1-2.6 .2-2.7 .2-4.8 .4-2.3 .3-2.3 .2-1.9 .2-1.9 .3-1.5 .2-1.6 .3-1.8 .2-1.8 .3-2.8 .2-2.8 .3-3 .2-3 .1-3 .2-2.8 .1-2.8 .2-2.9 .1-5.6 .2-2.8 .2-5.6 .2-8.7 .6-2.6 .2-2.5 .3-3 .6-2.2 .5-2.9 .6-1.9 .2-2 .3-2.1 .2-2 .2-2.1 .3-2.1 .2-1.9 .2-2 .3-3.4 .4-1.7 .3-1.6 .2-1.5 .2-1.6 .2-3 .4-2.8 .3-2.6 .1-2.8 .2-1.5 .2-1.6 .2-3.8 .6-6.3 1.2-2.1 .5-1.9 .4-2 .4-1.7 .5-1.8 .4-1.8 .5-1.7 .5-2.9 .8-2.1 .6 263.3 0 0-21.2z"/>
<path fill="#053061" d="M458.2 387.6l-8.2 0-2.7 .1-11.1 0-2.4 .1-2.3 0-2.4 .1-2.3 0-2.4 .1-3.6 .2-1.7 .1-1.8 .1-2.1 .1-2.1 .2-2.8 .2-2.7 .1-2.1 .2-2 .1-2.1 .2-2.1 .1-2.1 .2-2.2 .1-4 .2-2.1 .1-8.4 .3-2.7 0-2.8 .1-2.7 0-3 .1-2.9 0-2 .1-4.2 .2-2.2 0-2.2 .1-2.1 .1-6.6 .3-2.1 .1-2.2 .1-4.2 .2-2.1 .2-2 .1-2.1 .1-2.1 .2-2 .1-2.1 .1-2 .2-2 .1-5.6 .4-2.6 .1-2.5 .2-4.8 .2-2.3 .2-2.3 .1-2.4 .2-2.4 .1-2.6 .2-2.5 .2-2.6 .1-2.6 .2-2.7 .2-2.6 .2-2.7 .3-2.6 .2-5.4 .6-2.8 .3-2.7 .4-5.4 .6-2.4 .3-2.5 .3-2.2 .2-2.2 .3-1.9 .2-2 .2-1.9 .1-1.9 .2-4 .4-2.4 .2-2.3 .2-2.6 .3-2.5 .2-2.4 .3-2.3 .2-1.6 .1-1.6 .2 236.8 0 0-11.4z"/>
<path fill="#feebe0" d="M458.2 248.4l-2.8 .8-2.8 .7-5.2 1.4-2.7 .7-2.3 .5-2.3 .4-4.6 1-2.4 .1-7.2 .6-5.4-.6-2.8-.3-2.7-.3-5-1-2.4-.5-2.5-.5-2.5-.4-2.8-.7-2.9-.6-2.8-.7-2.9-.6-2.6-.6-2.7-.6-2.6-.6-4.2 1-2.2 .4-2.3 .6-4.6 1-2.4 .5-2.3 .5-2.3 .6-2.3 .5-2.4 .5-4.2 1-2.1 .4-2.8-.4-5.6-1-4.8-.8-2.5-.4-2.4-.5-2.4-.4-2.5-.4-4.8-.8-2.5-.4-2.4-.5-2.8-.4-2.8-.5-2.7-.5-2.4 .7-2.3 .7-2.4 .7-2.5 .7-5.2 1.6-2.5 .7-2.6 .8-2.5 .7-2.6 .8-2.6 .7-2.3 .7-2.4 .7-2.3 .7-2-.4-1.9-.4-2.9-.7-2.8-.6-2.1-.4-2.1-.5-2-.4-5.4-1.2-2.3-.4-2.3-.5-2.2-.4-2.1-.5-1.9-.3-1.8-.4-2.6-.5-1 .6-1.5 .8-1.6 1-1.6 1.2-1.7 1.7-1.8 2.1-1.7 1.9-1.2 1.3-1.4 .7-2.1 .8-2.3 1-2.2 .8-2.3 .6-2.4 .6-2.2 .4-1.5 .3 0 6.5-1.7 .2-1.8 .1-2.5 .3-2.5 .2-2.7 .3-2.8 .2-2.4 .2-2.5 .1-2.3 0-4.6-.2-2.4-.2-2-.2-2-.1-2.8-.3-1.1 .6-1.7 .7-1.7 .8-1.1 .5 .6 2 1 3 .9 3 .7 2-1.2 1.5-1.6 2.3-1.7 2.3-1.1 1.6 .8 1.3 1.2 1.8 1.4 2 1.4 1.7 1.5 1.3 1.6 1.2 1.5 1.1 1 .7 1 2.8 1.4 4.2 .7 2.2 .7 1.9 1 2.9-.6 1.1-1 1.7-.9 1.8-.7 1.1 2.3 .4 3.2 .6 1.7 .4 1.8 .3 1.5 .3 1.6 .4 2.6 .7 2.5 .8 2.2 .8 1.5 .5 0 5.1 .4 .1 .4 .2 1 .2 2.2 .2 1.9 .1 2 .1 2.5 .2 2.6 .1 2.7 .1 2.8 .2 4.8 .2 10.8 0 1.8 .1 1.8 0 2 .2 2.1 .1 2.1 .3 6.3 .6 3.6 .4 2.8 .3 2.3 .2 2.1 .1 2.4 .1 2.3 .1 2.1 .1 21.1 0 2.3-.1 13.6 0 2.4-.1 1.9 0 1.9 .1 3.6 0 2.2 .1 1.5 .1 3.2 .2 1.6 .2 3.8 .2 2.2 .1 2.2 0 2.7 .1 6.8 0 2 .1 2.2 0 2.1-.1 6.2 0 2.1-.1 2 0 4-.2 2.1-.1 2 0 2-.1 2.9-.2 2.8-.1 2.4-.1 2.3-.2 1.6 0 1.6-.1 6.4 0 1.7 .1 1.7 0 3.8 .2 4.2 .2 2.4 .1 2.3 0 2.7 .1 2.7 0 2.9-.1 5.1 0 2.1-.1 4.3 0 2.2-.1 2.1-.1 2.6-.1 5-.2 2.9-.1 2.8-.2 2.8-.1 2.5-.1 2.6-.2 2.6-.1 2.6-.2 2.7-.1 0-85.1z"/>
<path fill="#e5f1f7" d="M96.7 247.5l2.8 1.1 2.9 1.1-2.9 1.2-2.8 1.2 0-2.3z"/>
<path fill="#e5f1f7" d="M96.7 266.5l3.8 1.6-3.8 2.6 0-2.1z"/>
<path fill="#e5f1f7" d="M96.7 284l1.9 1 1.9 1.1-1.9 1.3-1.9 1.2 0-2.3z"/>
<path fill="#fcd5bf" d="M317.4 286.1l2.3-.1 1.7-.1 1.6-.1 3.4-.2 2.3-.1 .2 .3 .5 .5 .2 .6-.1 .8-.9 1.1-1.2 1.5-1.4 1.3-1.4 1-1.2 .6-1.4 .2-1.2 .1-1-.2-.7-.5-.5-.8-.4-.9-.3-.9-.3-1.1-.1-1.2 0-1z"/>
<path fill="#fcd5bf" d="M381.7 291.7l1.3-.9 1.7-1.4 2.1-1.3 2.1-1 2.4-.7 2.6-.4 2.6-.1 2.1 .2 1.6 .9 1.4 1.4 1.1 1.4 .7 1-.5 .8-.6 1.1-.9 1.2-1.2 .9-1.7 .5-2.1 .4-2.2 .1-2-.1-1.8-.4-1.7-.7-1.6-.7-1.4-.6-2.4-1-.9-.3z"/>
</g>
<g clip-path="url(#cr)">
<path fill-rule="evenodd" fill="#feebe0" d="M875.2 65.8l.4 .3 .1 .1 .5 0 .4-.1 .2 0 .4 .1 .4 .2 1 0 .1-.1 .2 .1 .3 0 .5 .2 .5 .5 .5 0 .5 .2 .5 0 .3 .1 .7 0 .5 .1 2.5 0 .5 .1 .1 0 .8 .2 .1 .1 1.5 .3 1 0 .5-.1 .6 0 .4-.1 .5-.1 .2-.1 .6 0 .2 .1 .4-.1 .1 0 .5 .2 .4 .1 .1 0 .5-.2 .2-.1 .3 0 .5-.1 .5 .1 0 .1 .5 .1 .5 0 .5-.1 .5 0 .3-.1 .2 0 .5-.1 .5 .1 .4 0 .1 .1 .5 0 1 .2 .4-.3 .1 0 .5-.1 .5 .1 .5 .2 .4-.2 .1 0 .5-.2 .7 0 .3 .1 .5 0 .5-.1 1.5 0 .5-.1 .5 0 .5 .1 .2 0 .3 .1 .5 0 .5-.1 .5 0 .5 .2 .5-.2 .5 .1 1.5 0 .3-.1 .2 0 .5-.1 .5 0 .5-.1 .5 0 1 .2 .5 0 1-.2 1 .2 .5-.1 .5 0 .5 .1 .5 0 1-.2 .5 0 .4 .2 .1 .1 .2-.1 .3-.1 .5-.1 .5 0 1 .2 .5-.1 .4-.1 .1-.1 1.5 0 .2 .1 .3 0 .5 .1 .5-.1 1.1 0 .4-.1 .5 0 .2 .1 .5 0 .3-.1 .5-.1 .5 0 .5-.1 1 .2 .5-.1 .4-.1 .6 0 .5 .2 1-.4 .5 .1 .4 .1 .1 0 .4-.3 .1 0 .5-.2 .5 .2 1.4 0 .1 .1 .5 0 .2-.1 .3 0 .4-.2 .1-.1 .5-.1 .5-.5 1.5 0 .3 .2 .6 .3 .1 0 .5 .2 .5 .1 .5 0 .5-.1 .1 0 .3-.2 .1-.2 .2 .2 .3 .1 .1 .1 .4 .2 .5 .3 .5 0 1 .2 .5 0 .4 .1 .1 0 1 .2 1.6 0 .4 .1 .5 .1 0 .1 .5 .1 1.5 0 .5-.1 .1-.1 2.1 0 .3 .1 .3-.1 .9 0 .3 .1 .5 .1 .4-.2 .7 0 .4 .2 .5 .1 .5 0 .5-.1 .2 .1 .3 .1 .5 0 .3-.1 .6-.3 .6 0 .5-.1 .5 .1 .2 0 .3 .2 .4 .1 .2 0 .4-.1 .4-.2 .2 0 .4 .1 .5 .1 .5-.1 .1-.1 1.3 0 .1 .1 1 0 0-.1 .5 0 .5-.1 2 0 .4 .1 .1 .1 .5 .1 .5-.1 .2-.1 .3-.1 .5-.1 .5 0 .5 .2 .4 0 .1 .1 0-.1 .5-.1 .4-.1 .2 0 .4 .1 .3-.1 .9 0 .3 .1 .5 .1 .5-.2 1 0 .5-.1 .5 .1 1.5 0 .5-.2 2 0 1 .2 .5-.1 .3-.1 .2-.2 .5 .1 .3 .1 1.7 0 .5 .1 .5 0 .5-.1 0-.1 .1 .1 .4 0 .5 .1 .5-.1 0-.1 .5-.1 1 0 .5 .1 1 0 .3 .1 .4 0 .3-.1 .2 .1 .3 0 .5 .2 1-.2 0-.1 1 0 .5-.1 .5 0 .5-.1 .5 0 .5 .1 .5-.1 .4-.3 1.1 0 0 .1 .1-.1 .4 0 .5-.1 .5 .1 .5-.1 .4-.1 .1 0 .5-.2 .3 0 .2-.1 .2-.2 .3-.2 .5 0 .1 .2 .2 .3 .2 .2 .5 .2 .5 0 .5-.1 .2-.1 .3-.2 0-.1 .1 .1 .4 .1 .2 .1 .3 .1 .5-.1 .4-.2 .1-.1 .3 .1 .4 0 .3-.1 .3 .1 .5 0 .2-.1 .5-.1 0 14.7-.5 0-.3-.1-.7 0-1-.2-1.5 0-.5-.2-.3 0-.2-.1-.5-.1-1 0-.1-.1-.6-.3-.3-.1-.5-.1-1 0-1-.2-.2 0-.3-.1-.5-.1-.2-.1-.3-.1-.5-.1-1.5 0-.3-.1-.2 0-.5-.1-.4-.1-.1 0-.5-.1-1 0-.5-.1-.2 0-.3-.1-.5-.1-.3-.1-.2-.1-.5-.1-.5 0-.2-.1-.3-.1-1 0-.2-.1-.6-.2-.2-.1-.5-.1-1.5 0-.4-.1-.6 0-.5-.2-.2-.1-1.3 0-.5-.2-.1 0-.4-.2-.4 0-.1-.1-.3 .1-.3 0-.4-.1-.5-.2-.2 0-.3-.1-.5-.1-.4-.1-.1 0-1-.2-.5 .1-1 0-1-.2-.5 0-.5 .1-.5-.1-.5 .1-.5-.1-.4-.1-.1-.1-.5-.1-.5 .1-.5-.1-.5 0-.5-.1-.1 0-.4-.1-.5-.1-2 0-.1-.1-2.9 0-.5-.1-.5 0-.5-.1-1 0-.5-.1-1 0-.5-.1-1.9 0-.1-.1-1-.2-.2 0-.3-.1-.5 0-.5-.1-.5 .1-.3 .1-.2 0-1 .2-1.5 0 0 .1-1 0-.5 .1-2 0-.5 .1-.5 0-.5 .1-.5 0-.5 .1-.3 0-.2 .1-.5 .2-.6 0-.4 .1-.5 .1-.5 0-.1 .1-.4 0-.5 .2-.4 .2-.1 .1-.3 .2-.2 .1-.3 .2-.2 0-.4 .2-.1 0-.4 .2-.1 .1-.3 .2-.2 .1 0 .2-.2 .4-.1 .3 0 .3-.1 .2 0 .2-.1 .2 0 .1-.1 .3-.2 .4 0 .3-.1 .3 0 .2-.1 .2 0 .1-.3 .2-.2 .1-.1-.1-.4-.2-.1-.1-.4-.1-1.5 0-.2-.1-.3-.1-.5-.1-.3 0-.2-.1-.5-.1-.3-.1-.2 0-.5-.1-.5 0-.5-.1-1 0-.4-.1-.1 0-.5-.1-.3-.1-.2-.1-.3-.1-.2-.1-.5-.1-.5 0-.5-.1-.5 .1-.3-.1-.2-.1-.5-.1-.5 .1-.5 0-.4-.2-.1 0-.4-.2-.1 0-.5-.1-.5 0-.3-.1-.2-.1-1-.2-.5 .1-.5 0-.3-.1-.2-.1-.5-.1-.5 .1-1-.2-.5-.2-.5-.1-1 0-.5-.1-.1 0-.4-.3-1.5 0-.5-.2-.2-.1-.3-.1-.4-.1-.6 0-1-.2-1.6 0-.6-.3-.3-.2-1 0-.1-.1-.4 0-.5-.1-.5 0-.5-.1-.1 0-.8-.2-.1-.1-.5-.1-.5 .1-.5-.1-1.5 0-.5 .1-.5 0-.5-.1-.2-.1-.3-.1-1.5 0-.5-.1-.3-.1-2.7 0-.5-.1-1.5 0-.5-.1-1.5 0-1-.2-2.1 0-.4-.1-.5 0-1-.2-1 0-.5-.1-.5 .1-1 0-1 .2-.4 .1-1.1 0-.5 .1-1 0-.5 .1-.5 0-.5 .1-1 0-.5 .1-1.3 0-.2 .1-.5 .1-.5 0-.5 .1-.1 0-.4 .1-.5 .1-.3 .1-.2 0-.5 .2-.3 .2-.2 .2-.3 .1-.2 .1-.2 .2-.3 .2-.4 .2-.1 .1-.3 .2-.2 .1-.3 .6-.1 .3-.1 .2 0 .1-.2 .4 0 .3-.1 .3-.1 .2 0 .2-.2 .6-.1 .2-.2 .2-.1 .3-.5 0-.5-.1-1-.4-.1 0-.4-.2-.5 0-.5 .1-.5-.1-.1 0-.4-.1-.5 0-.5-.2-.6 0-.4-.1-.5-.2-.5-.1-.3-.1-.2-.1-.5-.1-.5 .1-.5-.1-.8 0-.2-.1-.5-.2-.1 0-.4-.2-.5 0-.5 .2-.5-.1-.2-.2-.6-.2-.2-.1-.5 0-.5 .1-.5 0-.5-.2-.3 0-.2-.1-.5 0-.5-.1-.3-.1-.2-.1-.5 0-.5-.1-.1-.1-1.4 0-.5-.2-.1 0-.4-.1-.5 0-.5-.1-.4 0-.1-.1-1-.2-.5 .1-.4-.1-.1 0-.5-.2 0-.1-.5-.1-.2-.1-.3-.1-.5 0-.5 .1-1 0-.5-.2 0-.1-.5-.1-.5 0-.5-.1-.1 0-.4-.1-.4-.2-.1 0-.5-.1-.3-.1-1.2 0-.5-.1-.5 0-.5-.1-.6 0-.4-.1-.5-.1-.5 .1-.5-.1-.5 0-.5 .1-1.5-.3-2 0-.5-.1-.5 0-.3-.1-1.7 0-.5-.1-1 0-.5-.1-1.5 0-.5-.1-1 0-.5-.1-.6 0-.4-.1-.5 0-.5-.1-.5 0-.5-.1-.5 0-.5-.1-1 0-.3 .1-.2 0-1 .2-.5 0-.3 .1-1.2 0-.5 .1-1 0-.5 .1-.5 0-.5 .1-1.5 0-.5 .1-.5 0 0 .1-.5 0-.5 .2-.5 0-.5 .1-1 .4-1 .2-.4 .3-.1 .1-.3 .2-.2 0-.4 .2-.1 0-.4 .2-.1 .1-.3 .2-.2 .1 0 .2-.2 .4-.1 .3 0 .3-.2 .4 0 .1-.1 .2 0 .3-.2 .4 0 .3-.1 .3-.1 .2 0 .1-.1 .1-.4 .3-.5-.1-.3-.2-.2 0-.5-.1-.5 0-.3-.1-.2 0-.5-.1-1 0-.3-.1-.6-.3-.1 0-.5-.1-.5 0-.5-.1-.5 0-.1-.1-.8-.2-.1 0-.5-.1-.4-.1-.1-.1-.5 0-.3 .1-.7 0-.5-.2-1.5-.3-.5 0 0-.1-1 0-.5-.1-.2-.1-.3-.1-.5 0-.3-.1-.2-.1-.5-.2-2 0-.5-.1-.3-.2-.2 0-.4-.2-.1 0-.5-.1-.5 0-.5-.1-.4 0-.1-.1-.5 0-.5-.1-.5 0-.5-.1-.1 0-.6-.3-.3-.1-.5-.1-1 0-1-.2-.1 0-.4-.1-.5-.1-1 0-.5-.1-.1 0-.4-.1-.5-.1-.4-.1-.1 0-1-.2-.5 0-.5 .1-.5-.1-.2 0-.3-.1-.4-.1-.1-.1-.5-.1-.5 .1-.5 0-.5-.1-.3-.1-.2-.1-3 0-.5 .1-.5-.1-.4-.2-2.1 0-.5-.1-.5 0-.5 .1-.5-.1-1.5 0-.5-.1-.2 0-.3-.1-1 0-.5-.1-.9 0-.1-.1-.5 0-.5-.1-.5 0-.5-.1-.5 0-.5-.1-1 0-.5 .1-.1 0-.4 .1-.5 0-.5 .1-.5 0-.4 .1-1.6 0-.5 .1-1 0-.5 .1-.5 0-.5 .1-.5 0-.5 .1-1.4 0-.1 .1-1 .2-.1 0-.4 .1-.5 .1 0 .1-.5 0-.5 .2-.1 0-.4 .2 0 .1-.4 .2-.1 .1-.4 .2-.1 0-.2 .2-.3 .2-.1 0-.4 .3-.2 .3-.1 .2-.2 .2 0 .1-.1 .2 0 .3-.2 .4 0 .3-.1 .3-.1 .2 0 .2-.2 .6-.2 .4-.1 .3-.5 0-.5-.2-.2-.1-1.3 0-.3-.2-.2-.1-.4-.1-.1-.1-.5 .1-1-.2-.3-.1-.2-.1-.5-.1-.5 .1-.5 0-1-.4-1.5-.3-1 0-1-.2-1.5 0-.5-.2-.3-.1-.2 0-1-.2-.1 0-.4-.2-.3 0-.2-.1 0 .1-.5 .1-.5 0-.4-.1-.1-.1-.4-.2-.1-.1-.5 0-.5 .1-.5-.2-.2-.1-.3 0-.5-.1-.5 0-.2-.1-.3-.1-.5-.1-.6 0-.4-.1-.5-.1-.2-.1-.3-.1-.5-.1-.5 .1-.5 0-.5-.1-.5 0-.1-.1-.4-.1-.2-.1-.3-.1-.5-.1-.6 0-.4-.1-.5 0-1-.2-.5-.2 0-.1-.5-.1-1 0-.3-.1-1.2 0-.5 .1-.2-.1-.3-.1-.4-.1-.1-.1-.2 .1-.6 0-.2-.1-.2 .1-.3 0-.5 .1-.5-.1-.5-.2-.5 0-.3-.1-.2-.1-.5 0-.5 .1-1-.2-.5 .1-.5 0-.4-.2-2.6 0-.5-.1-1 0-.5-.1-1 0-.5-.1-1 0-.5-.1-.5 .1-.5-.1-1.7 0-.3-.1-2 0-1-.2-.1 0-.4-.1-.5-.1-.1-.1-.4-.1-.5 .1-.3 0-.2 .1-.5 .1-.4 .1-.1 0-1 .2 0 .1-.5 0-.5 .1-.3 .1-.2 0-1 .2-.4 0-.1 .1-.3 .2-.6 .3-.1 0-.5 .1-.1 .1-.4 .2-.2 0-.3 .2-.3 .1-.2 .1-.3 .2-.4 .2-.3 .1-.2-.1-.3-.2-.2 0-.3-.2-.5 0-.1-.1-.4-.2-.1-.1-.3-.2-.1 0-.5-.2-.1 0-.4-.3-.5-.2 0-7.5 .5 .2 1.1 0 .4 .2 .1 0 .4 .2 .2-.2 .3-.1 1 0 .5 .1 .3 0 .2 .1 .4-.1 1.2 0 .4 .2 1 0 .5-.1 .5 .1 .5 0 .5-.1 .5 0 .5 .1 .5-.1 .1-.1 .4-.1 2.5 0 .4 .1 .1 .1 .5 .2 1-.2 .1-.1 2.5 0 .4 .2 .4-.2 1.5 0 .1 .1 1 0 .2-.1 .3 0 .5-.1 .5 0 .5 .1 .5 .2 .3-.2 1.7 0 .5-.1 1.5 0 .4 .1 .1 .1 .1-.1 .4-.1 .5-.1 .5 .1 1.5 0 .5 .1 1.5 0 .5-.1 .3-.1 .8 0 .4-.1 .5 0 .5 .1 .5-.1 .5 .1 .5-.1 .5 0 .5-.1 .3 0 .2-.1 0 .1 .5 .1 .2 .1 .3 .2 .5 0 .3-.2 .2-.1 .5-.1 0-.1 0 .1 1 .2 .5-.1 .5 .1 .5-.1 .4-.1 .1-.2 .3 .2 .5 0 .2-.1 1 0 .3 .1 .4 0 .3-.1 .2 .1 .3 0 .5 .1 .5-.1 0-.1 .5 0 .5-.1 .5 0 .5 .1 .1 .1 .4 .1 .5-.1 .1 0 .4-.2 .5 .1 .1 .1 .4 .2 .5-.1 .3-.1 .2-.2 .4-.1 .6 0 .4-.3 .1-.1 .1 .1 .2 .3 .2 .1 1 0 .5-.1 .6 0 .4-.1 1 0 .3-.2 .2-.1 .5-.1 .5 .1 .5 0 .4-.1 .7 0 .4-.1 .5 0 .5-.1 1 .4 .5-.1 .2-.1 .1-.2 .1-.3 .1-.2 .2 .2 .3 .2 .3 .1 .2 0 .3 .2 .2 .1 .5-.1 .2 0 .3-.1 .5-.1 .5 .1 .5 0 .1 .1 .3 .2 .1 .1 .4 .2 .1 0 .5 .2 1.5 0 .3 .1 .7 0 1 .2 .5-.1 .3 .1 .2 .1 .5 .1 2 0 .5 .1 1 0 .3-.1 .2 0 .5-.1 .5 0 .5 .1 .5-.1 .5 .1 .2 0 .3 .2 .5 0 .4-.2 .1 0 .5-.1 .5 0 .5 .1 .7 0 .3 .1 .5 .1 .5-.1 .5 0 .1-.1 2.6 0 .3 .1 .5 .2 .5-.2 .2-.1 .3 0 .5-.1 .3 .1 .2 .2 .2 .1 .3 .1 .2-.1 .3-.1 .5-.2 .5-.1 .5 0 .3-.1 .9 0 .3 .1 .5-.1 1 0 1 .2 .5 0 0 .1 0-.1 .5-.2 .5-.1 .5 .1 .5 0 .5-.1 1 0 .4 .1 .1 .1 .5 0 1-.2 .5 0 .5 .1 .5 0 .5 .1 1-.2 .5 .1 1-.2 .5 0 1 .2 1-.2 .4 0 .1-.1 .2 .1 .3 0 .5 .1 .5-.1 .2 0 .3-.1 1 0 .1 .1 .4 .1 .5 0 .5-.1 1.5 0 .5-.1 .5 0 .3 .1 .3 0 .4-.2 .5 .1 .1 .1 .8 0 .1-.1 .4-.2 .1-.1 .5 0 .5 .1 1 0 .5 .1 .5-.1 .5 0 .5 .3 .5-.2 .2-.1 .2-.3 .1-.1 .1 .1 .4 .2 .5-.1 .5 .1 .1 .1 .4 .1 .5 0 .3-.1 .6-.3 .1 0 .5-.1 .4-.1 .6 0 1 .4 .5-.1 0-.1 .4-.2 .1-.1 .5 0 1 .2 .2-.1 .1-.2 .1-.3 .1-.2 .5 0 .1 .2 .1 .3 .3 .3 .4-.1 .1 0 .5-.2 .5 0 1 .4 .7 0 .3 .2 .5 0 .2 .1 .3 .1 .5 .1 .1 .1 .4 0 .5 .1 1.5 0 .3 .1 .2 .1 .5-.1 .6 0 .4 .2 1.1 0 .4 .1 .5 .1 2 0 .5-.1 1 .2 .5 0 .5-.1 1 0 .5 .1 1.5 0 .5-.2 .3-.1 .4 0 .3 .1 1 .2 .2 0 .3 .1 .5-.1 .5-.2 .2-.1 2.6 0 .2 .1 .5 0 .5 .1 .4-.2 .1 0 .5-.1 .5 0 .5 .1 .5 0 .5-.2 1 .2 .3 0 .2 .1 .1-.1 1.9 0 0 .1 .5 .1 .5-.1 .1-.1 .4-.1 .5-.1 .5 .2 .1 0 .4 .2 .5-.2 .4-.2 .1-.1 1.5 0 .5 .1 .5 0 .5-.1 1.5 0 .5-.1 .5 0 .5 .1 .5-.1 .5 0 .5 .1 .2 .1 .3 .2 .3-.2 .2-.1 .5-.1 .5 .2 .1 0 .4 .1 .2-.1 .6-.2 .2-.2 .5-.1 .5 .2 .4 .1 1.4 0 .2-.1 0 .1 .5 .1 .5 0 .5-.1 .5 .1 .5 0 .5-.1 0-.1 .1 .1 .4 .1 .5 0 .4-.1 .1-.1 .5 0 .4-.2 .1-.1 .3-.2 .2-.1 .2 .1 .3 .2 .1 .1 .4 .2 1-.2 .1 0 .3-.3 .3 0 .3 .2 .5-.1 .5 0 .5 .1 .5 0 .5 .1 .5-.2 .5 0 1 .2 .5 0 .5-.3 .5-.2 1.1 0 .4-.1 .5 0 .3 .1 .2 .1 .5 .1 .2-.2 .1-.2 .1-.3 .1-.2 .5 0 .1-.1z"/>
<path fill-rule="evenodd" fill="#fcd5bf" d="M877.2 66.8l.1 0 .4 .1 .5 .2 .5 .1 .5 0 .5-.1 .4 .3 .1 0 1 .2 .6 0 .4 .1 1 0 .5 .1 .8 0 .2 .1 .5 .1 .5 0 .5 .1 .5 .2 .2 .1 .3 0 .5 .1 .5 0 .3 .1 .2 .1 2 0 .4-.1 .1 0 .5-.1 .5 0 .3 .1 .2 .1 .4-.1 1.2 0 .4-.1 .3-.1 .2-.1 .5-.1 .3 .2 .2 0 .3 .2 .2 .1 1 0 .5-.1 .5-.2 .1 0 .4-.2 .4 .2 .1 0 .5 .1 1.5 0 .5-.1 0-.1 .5-.1 .5 .1 .2 .1 .5 0 .3-.1 .5-.2 .5 0 1 .2 1-.2 .5 .1 .5-.1 .1 0 .4-.1 .5-.1 2 .4 .5-.1 .5 0 .5-.1 .5 .2 .5 .1 .5-.1 .5-.2 .5 0 1-.2 .5 0 .1-.1 1 0 .4 .3 .1 0 .4 .1 .5 0 .2-.1 .3-.1 .5 0 .5 .1 .5-.2 .4-.1 .1 0 .5 .5 .3 .1 .4 0 .3-.1 .3-.2 .2-.1 .5-.1 1 0 .1-.1 .4-.1 .5 .1 .1 0 .4 .3 .1 0 .4 .1 .4-.1 .1 0 .4-.3 .8 0 .3 .3 .5-.1 .5 0 .4-.2 .8 0 .3 .3 .5 0 .5-.2 .1-.1 .4-.1 .5 0 .5 .1 .4-.2 .1 0 1-.2 .5 0 .5 .2 1-.2 1 .4 .2-.2 .3-.1 .5-.1 1.4 0 .1-.1 .5-.1 1 0 .5 .1 .4 .1 1.1 0 .5-.2 .5-.1 .1 0 .4-.1 .5-.1 1.5 0 .5 .1 .4 .1 1.2 0 .4-.1 .5-.1 .5 .1 .2 .1 .3 .1 .3 .2 .2 0 .5 .1 1 0 .5 .1 .3 0 .2 .1 .5 .1 .1 0 .4 .2 .5-.1 1 .2 .1 0 .4 .1 .5 .1 .3 .1 .2 0 .5 .2 .5 0 1-.2 1.3 0 .2-.1 1.5 0 .1 .1 .4 .1 .5 .1 1-.2 .5 0 1 .2 .5 0 .5 .1 .5 0 .4-.1 .1 0 .5-.2 .3 0 .2-.1 1 0 .1 .1 .4 .1 .3 .1 .2 .1 .5 0 .5-.1 .1 0 .4-.2 1 .2 .1 0 .4-.1 .5-.1 1.5 0 .5 .1 .5 0 .5-.1 1.6 0 .4-.1 1 0 .4 .1 .1 0 1-.2 1 0 .5 .1 1 0 .4 .1 .1 0 .5-.2 .5 0 .2 .2 .3 .1 .5 .1 .5-.2 .6 0 .4-.2 .4-.1 .2 0 .4 .1 .5 .2 .5-.2 .5-.1 .4-.3 .1 0 .5-.1 .5 .1 .8 0 .2 .1 .5 0 .5 .1 .5 0 .3-.2 .2-.1 .5 .1 .1 0 .4 .2 .4 .1 .2 0 .4-.2 .3-.1 .5 0 .2 .1 .5 .2 .5-.2 .4-.1 .6 0 .5-.2 .5 0 .5-.1 .5 .1 .5 .2 .5-.1 .2-.1 .5 0 .3 .1 .2-.1 .3-.1 .5 .1 .1 0 .4 .2 0 .1 .1-.1 .4 0 .5-.1 .5 .1 .5-.2 .5 0 .5-.1 1.5 0 .5-.1 .4 0 .1-.1 .5-.1 .5 0 .4 .2 .8 0 .3-.1 .5 .1 .5-.2 .5 0 .5-.1 .1 0 .4-.1 .4 .1 .1 0 .5 .2 .5-.1 .5 0 .5-.1 .5 0 .5 .1 .5 0 1-.2 1.5 0 .5-.1 .5 0 0 12.2-1-.2-.5 .1-.5 0-.5-.2-1.5 0-.5-.2-.1 0-.4-.1-.5-.1-.1 0-.4-.1-.5-.1-.4-.1-.1 0-.5-.2-.5-.1-1 0-.5-.1-.3-.1-.2 0-.5-.1-.5 0-.3-.1-.2-.2-1 0-.5-.1-.5 .1-1.5-.3-.5 0-.1-.1-.6 0-.3 .1-.1-.1-.9 0-.5-.1-.2-.1-.3-.1-.5-.1-.7 0-.3-.1-1-.2-.1 0-.4-.2 0-.1-1-.2-1 0-1-.2-.5 .1-.2-.1-.3-.2-.3-.1-.2-.1-1 .2-.2-.1-.3-.1-.3-.2-1.7 0-.5-.1-.5 0-.5-.1-.5 0-.5-.1-.5 0-.5 .1-1.5 0-.5-.1-.5 .1-1.5 0-.5-.1-.5 0-.5-.1-2.9 0-.1-.1-2.5 0-.5-.1-.5 .1-1 0-.5-.1-1 0-.5-.1-1 0-.5-.1-1 0-.5-.1-1.5 0-.1-.1-.4 0-1.5-.3-1.5 0-.3 .1-.2 0-1 .2-1.4 0-.1 .1-.5 0-.5 .1-2 0-.5 .1-.5 0-.5 .1-1 0-.5 .1-1.5 0-.3 .1-1.7 0-1 .2-.1 0-.4 .1-.5 0-.5 .1-.5 0-.5 .3-.1 .3-.2 .4-.1 .3 0 .3-.1 .1 0 .1-.1 .2-.2 .6-.1 .2-.1 .3 0 .2-.1 .3-.2 .4-.2 .6-.1 0-.4-.2-.1-.1-.4-.1-.5-.1-1 0-.1-.1-.4 0-1-.2-.5 0-.5-.2-.2 0-.3-.1-1-.2-1.6 0-.4-.1-.4-.2-.1 0-.5-.2-.5 0-.5-.1-1 0-.5-.1-.2 0-.3-.1-.5 0-.5-.1-.3-.1-.6-.3-1.1 0-.5-.2-.5-.1-1.5 0-.5-.1-.5-.2-.5 .1-.5-.1-.3-.1-.6-.3-1.1 0-.5-.1-.4-.1-.1 0-.5-.2 0-.1-.5-.1-.5 .1-1 0-.5-.2-.2 0-.3-.1-.5 0-.5-.1-.3-.1-2.2 0-1-.2-1 0-.5-.1-1.5 0-.5-.1-.5 0-.5 .1-.5-.1-3.1 0-.4-.1-2.5 0-.5-.1-3.5 0-.5-.1-.5 0-.5-.1-1.5 0-.5-.1-2 0-.1-.1-.4 0-.5-.1-.5 0-.5-.1-1 0-.5-.1-.5 .1-1 0-1 .2-.3 0-.2 .1-1 0-.5 .1-1 0-.5 .1-1.5 0-.5 .1-1 0-.5 .1-2 0-.1 .1-1.4 0-1.5 .3-.5 0-.5 .1-.2 0-.3 .2 0 .1-.2 .3-.1 .2-.2 .2 0 .1-.1 .2-.1 .3-.2 .4 0 .3-.1 .2 0 .1-.1 .2 0 .2-.1 .3 0 .3-.2 .4-.1 .3 0 .1-1 0-.2-.1-.3-.1-.4-.2-.1 0-.5-.2-1.5 0-.5-.1-.5 0-.5-.1-1 0 0-.1-.5-.1-.2-.1-.3-.1-.4-.2-.1 0-.5-.1-1 0-.5-.1-.1 0-.4-.1-.5-.1-.1 0-.4-.2-.5 0-.5 .1-.5-.1-.2-.1-.3-.2-.1-.1-.4-.1-.5 0-.5 .1-.5 0-.5-.1-.5 0-.5-.1-.1 0-.4-.1-.5-.1-.1 0-.4-.1-.5 0-.5-.1-.5 .1-.5-.1-.2-.1-.3-.2-.4-.1-1.1 0-1-.2-1 0-.5-.2-.3 0-.2-.1-.5-.1-.1-.1-.4-.1-.5-.1-1 .2-.5-.1-.4-.2-.6 0-.5-.1-.5 0-.5-.1-.5 0-.5-.1-2.5 0-.5-.1-4.5 0-.5-.1-.5 0-.4 .1-.4 0-.2-.1-2.5 0-.5-.1-2 0-.5-.1-.5 0-.5-.1-2 0-.5-.1-.5 0-.1-.1-.4 0-.5-.1-.5 0-.5-.1-1 0-.5-.1-.5 0-.5 .1-.5 0-1 .2-.8 0-.2 .1-1 0-.5 .1-1.5 0-.5 .1-.5 0-.5 .1-2 0-.5 .1-.4 .1-1.6 0-.5 .1-1 0-.4 .1-.1 0-1 .2-.6 0-.4 .3-.1 .3-.2 .4-.2 .6 0 .1-.1 .1-.1 .2 0 .3-.1 .3-.2 .4 0 .3-.1 .3-.2 .4-.1 .3-.1 .1-.5-.1-.5-.2-.2-.1-.8 0-1-.2-.5 0-1-.2-.2 0-.3-.2-.5-.1-.2 0-.3-.1-.5-.1-.5 0-.3-.1-.2 0-.5-.1-1 0-.5-.1-.5 .1-1-.2-.5 0-.5-.1-.1-.1-.4-.1-.5-.1-1 0-.5-.2-.2-.1-.3 0-.5-.1-.4-.1-.1 0-.5-.1-2 0-.5-.1-.1 0-.4-.2-.3-.1-.2-.1-1.5 0-.5-.1 0-.1-.5 0-1-.2-.5 0-.5-.2-.2 0-.3-.1-.4-.2-.1 0-.5-.2-.5 0-.3-.1-1.2 0-.5-.1-.5 .1-.5 0-.5-.1-1.5 0-.5-.1-1.5 0-.5-.1-.5 0-.5-.1-5.2 0-.3-.1-2.5 0-.5-.1-4 0-.5-.1-.2 0-.3-.1-1 0-.5-.1-1 0 0-.1-.5 0-.5-.1-.5 0-1-.2-1.5 0-.3 .1-.2 0-.5 .1-.5 0-.5 .1-.6 0-.4 .1-1 0-.5 .1-1.5 0-.5 .1-1 0-.5 .1-.5 0-.5 .1-2.5 0-.1 .1-.9 0-1 .2-.2 0-.3 .1-.5 0-.5 .1-.2 0-.3 .2-.5 .5 0 .1-.1 .2-.2 .6-.2 .4 0 .3-.1 .3 0 .2-.1 .2 0 .3-.1 .3 0 .2-.1 .2-.1 .3 0 .1-.5-.1-.5-.2-.3-.1-1.2 0-.5-.2-.5-.1-1.5 0-.2-.1-.3-.2-.5 0-.5 .1-.5 0-1-.4-.1-.1-.4-.1-.5-.1-1.5 0-1-.2-.4 0-.1-.1-.5 0-.4 .1-.2 0-.4-.1-.5-.1-.4-.1-.1 0-.5-.1-.3-.2-1 0-.2 .1-.5-.1-1-.4-1.3 0-.2-.1-.5-.2-.5-.1-.5 0-.5-.1-.1-.1-.9 0-.5-.1-.4-.1-.1 0-1-.2-1.1 0-.4-.1-.5-.1-.4-.1-.1 0-.5-.2-.3-.1-2.2 0-1-.2-1.5 0-.5-.1-1 0-.5 .1-1-.2-4.5 0 0-.1-.2 .1-.8 0-.5-.1-4 0-.5-.1-1 0-.5-.1-1 0-.5-.1-1 0-.5-.1-.5 .1-.5-.1-.5 0-.1-.1-.4 0-.5-.1-1.5 0-.5 .1-.5 0-.5-.1-.5 0-.3-.1-.2 0-.5-.2-.4 0-.1-.1-1.5 .3-.2 0-.3 .1-.5 0-.5 .1 0 .1-.5 0-.5 .1-.4 .1-.1 0-.5 .1-.5 0-.5 .1-.5 0-.3 .1-.7 0-.5 .1-.4 .1-.1 0-1 .2-.5 0-.5-.1-1 0-.3-.1-.2 0-1-.2-.3 0-.2-.1-.5-.1 0-6.1 1 .2 .5 0 .1 .1 .4 .1 .3 .1 .3 0 .4-.2 .5 0 .5 .2 .5 0 .5-.2 1 0 .5 .1 .5 0 .5 .1 1-.2 .5 .2 .7 0 .3-.1 .5 .1 .7 0 .3-.1 .5 0 .5-.1 .3 0 .2-.1 .5-.1 .5 0 .5 .1 .1 .1 .4 .1 .5 .1 1.2 0 .3-.1 .5-.1 0-.1 1 0 .2 .1 .3 0 .5 .1 .5-.1 .5 0 .5 .1 1.5 0 .5-.1 .5 0 .5-.2 .4 .2 .8 0 .3-.2 .5 .1 .5 0 .3 .1 1.5 0 .2-.1 .5 0 .2 .1 .3 .1 .5-.1 .2 0 .3-.2 .5 .1 .5 0 .5-.2 .5 0 .5 .2 .5 0 .3 .1 .2 0 .5 .1 .4-.1 .1-.1 .5-.2 .6 0 .4-.1 .5 .1 .4 .3 .2 0 .4-.2 .3-.1 .2-.1 1 0 .5-.1 .1-.1 .4-.1 .5 .1 .4 .3 .1 .1 .5 .1 .4-.2 .1 0 .5-.2 1 0 .4-.1 .1 0 .5 .3 .1 0 .4 .1 .3-.1 .2-.1 .5 0 .5-.1 .1-.1 .4-.1 .5 0 .5 .1 1 0 .5-.1 .5 0 .4 .1 .1 .1 .2-.1 .3 0 .5-.2 .5 .2 .2 0 .3 .1 .1-.1 .4-.2 .1 0 .4-.1 .2 .1 .3 .2 .5 .3 .5-.3 .3-.2 .2-.1 .5-.1 .5 .1 1.5 0 .5 .1 1-.2 .7 0 .3-.1 .5 0 .5-.1 .4-.1 1.6 0 .5 .1 .5 0 .5-.1 .1 0 .4-.1 .5 0 .5 .1 .5 0 .5-.2 1 0 .4 .2 .1 .1 1-.2 .5 0 .3 .1 .7 0 .5 .2 .1 .1 .4 0 1 .2 .7 0 .3 .1 .5 0 .5 .1 .3 0 .2 .1 .5 .1 .5 0 .5 .1 .5 .2 .5-.1 .5 .1 .3 .1 3 0 .2-.1 .5-.1 .5 .1 .5-.1 .5 .1 .3 .1 .2 0 .5 .1 .5-.1 .5 0 0-.1 0 .1 1.5 0 .5 .1 .4 .1 .2 0 .8-.2 .1-.1 .5 0 .5-.1 1 0 .5 .1 .1 .1 .4 .1 .5 0 .5-.1 1 0 .4 .2 .1 .1 .5 .1 .4-.2 .1-.1 .5-.1 1.1 0 .4-.2 .5-.1 .5 .1 1 0 .5-.1 .5 .1 .4 .2 .1 0 .5 .1 .3-.1 .2-.2 .5-.1 .7 0 .3-.1 .5-.1 1 0 1 .2 1-.2 .5 0 .4 .2 .1 .1 .5 .2 .1 0 .4-.1 .5-.2 .5-.1 .5 .1 .5-.1 .5 0 .3 .1 1.3 0 .4-.2 .3-.1 .7 0 .5-.1 .5 .1 .5 0 .5-.2 1 0 .5 .2 .2 0 .3 .2 .5-.1 0-.1 1 0 .5-.1 1 0 .2-.1 .3 0 .5-.1 .5 .1 .1 0 .3 .2 .1 .1 .5 0 .1-.1 .4-.2 .5 0 1-.2 1 .2 .5-.1 .5 .1 .3 0 .2 .1 .1-.1 .4-.1 .5-.1 3.1 0 .4-.2 .5-.1 .5 0 .5 .1 .5 0 .5 .1 .5-.1 .4-.1 .1 0 1-.2 .5 .1 .4 .1 .6 0 .5-.1 .5 0 .5 .1 .5-.1 .5 0 .4 .1 .6 0 .5 .2 .2 .1 .3 0 1 .2 .6 0 .4 .2 1 0 .5 .3 .1 0 .4 .2 .5-.1 .3-.1 .3 0 .4 .2 .4 .1 .6 0 .5 .1 1 0 .4 .1 1.6 0 .5-.1 1 0 .5 .1 .5 0 .5-.1 .5 .1 .6 0 .4 .1 1.5-.3 .5 .1 .3 .1 .2 .1 .5-.1 .5 0 1-.2 .1 0 .4-.1 .5-.1 .4 .2 .1 0 .5 .1 1 0 .5-.1 .5 .1 .4-.1 .1-.1 .5 0 .5-.1 .5 .1 .3 .1 .3 0 .4-.2 .5 .1 .5 0 .5 .1 3 0 .5-.2 .4-.1 .1 0 1 .2 .5 0 .5-.2 .1 0 .4-.1 .3 .1 .2 .1 .2-.1 .3-.1 .5 0 .5 .1 .5-.1 .3 .1 .4 0 .3-.1 .5 .1 .5-.1 .4-.2 .3 0 .3 .1 .5 .1 .5 0 .1 .1 .4 .1 .5 .1 .5-.2 .5 0 .5 .3 .1 0 .4-.1 .3-.2 .2-.1 .2-.2 .3-.2 .6 0 .8 .2 .1 .1 .5 .2 .5 .1 .1-.1 .4-.2 0-.1 .7 0 .3 .1 .5 .1 .5 0 .4-.2 .7 0 .4 .3 .5-.2 0-.1 .5-.2 .5 0 1-.2 .5 .2 .5 0 .5-.1 .5 0 .4 .1 .2 0 .4-.1 .5-.1 .1 0 .4-.1 .5 0 0 .1 .5 .1 .5 0 .4-.1 .1-.1 .5-.1 .5 .1 .4 .1 .7 0 .4-.2 .5 0 .3-.1 .2-.1 .5 0 .5 .1 .5 0 .5 .1 .5 0 .2-.1 .3-.1 2 0 .5-.1 0-.1z"/>
<path fill-rule="evenodd" fill="#f7b799" d="M729.2 67.3l2 0 .5-.1 .5 .1 .2 .1 1.1 0 .2-.1 .5 0 0 .1 1 0 .3 .2 .2 .2 0 .1 .5 .2 .1 0 .4 .1 .5 .1 .5-.1 .5 .1 .1 .1 .4 0 .5 .1 .4 .1 .1 0 .5 .2 1.2 0 .3 .1 .4-.1 .2 0 .4 .1 .5 .1 2 0 .5 .1 .5-.2 .4-.1 .2 0 .4 .1 1 0 1 .2 .5-.1 .5 0 .5 .1 1 0 .5 .2 .4 .1 .4 0 .2-.1 2-.4 .5 0 .5 .1 .4 .1 1.1 0 .5-.1 .5 0 .2 .1 .3 .2 .5 0 .5-.2 .2 0 .3-.1 1 0 .5-.1 .3-.1 .3 0 .4 .1 1 0 .1-.1 1 0 .4 .2 .4 .1 .2 0 .4-.2 .3-.1 .7 0 .5-.1 .4-.1 .6 0 .5-.1 .3 .1 .2 .1 1 0 .5-.1 .5 .1 .4 .1 .1 .1 .5 .1 .5-.1 .1-.1 .4-.1 .5-.1 .5 .1 2 0 .5 .1 .4-.2 .1 0 .5-.1 .5 0 .5-.1 1.2 0 .3-.2 .5 0 .5-.1 .5 .2 0 .1 .5 .1 .5-.1 .4 0 .1-.1 .5 0 .5-.1 1 0 .3-.1 .2-.1 .5-.1 .5 .2 .4 .3 .8 0 .3-.2 1-.2 .4-.2 .3 0 .3 .1 .4 .2 .1 .1 .3-.1 .7 0 .5 .1 .3-.1 .2-.1 .5-.1 .5 0 0-.1 .5 0 .5-.1 .5 .1 .5 0 .5-.1 .1-.1 .4-.1 .5-.1 .5 0 .5 .1 1.5 0 .5-.1 .3 0 .2-.1 .5-.1 .5 .1 .1 .1 1.2 0 .2-.1 .5 0 .5 .1 .1 0 .4-.1 .5 0 .3 .1 .7 0 .3 .2 .2 .2 0 .1 .5 0 .5 .2 1 .2 .2 .1 .3 .1 .5 .1 .5 0 .5 .2 .1 0 .4 .2 .5-.1 0-.1 .5-.1 .4 .1 .1 .1 .5 .1 .5 0 .3 .1 .2 .1 3 0 .5-.1 1 0 .5 .1 2 0 .5 .1 .5 0 1-.2 1 .2 .1 .1 1.2 0 .2-.1 .5-.1 .2-.1 .3-.1 .5 0 .5 .1 2.2 0 .3 .1 .2-.1 .3-.1 .5-.1 1 0 .5 .1 .5-.1 .5 .1 1 0 .5 .1 1 0 .5-.1 .5 .1 1-.2 .2-.1 .5 0 .3 .1 .5 .1 .5 0 .4-.2 .8 0 .3 .1 .3-.1 .2 0 .5-.1 .5 .1 .9 0 .1 .1 .1-.1 .9 0 .5-.1 .4-.1 .3 0 .3 .1 .5 0 .5 .1 .2 0 .3 .1 .5 0 .2-.1 .3-.1 .5 0 .4 .1 .1 .1 .2-.1 .3 0 .5-.2 .4-.2 .1-.1 .5-.1 .5 .1 .2 .1 .6 .2 .2 .1 .5 .1 .3-.2 .2-.2 .3 0 .2-.1 .1 .1 .4 .1 .5 .1 .5 0 .5-.2 .5 0 .5 .2 .5-.2 .1 0 .4-.3 1 0 .5-.1 .2 .1 .3 .1 .5 0 .3-.1 .2-.1 .4 .1 .1 0 .5 .2 .5-.2 .1 0 .4-.3 .5-.2 .5 .1 .2 .1 .3 .2 .5 0 .2-.2 .3-.2 .5-.1 .5 .1 .1 0 .4 .1 .5 0 .2-.1 .3 0 1-.2 .1 0 .4-.1 .5 0 0 .1 1.8 0 .2-.1 2 0 1-.2 .5 .1 .4 .2 .1 0 .5 .1 .5 0 .5-.1 .3 .2 .2 .4 .5 .1 .1 0 .4 .1 .5 .1 .3 .1 1.7 0 1.5 .3 1 0 .3 .1 .2 .1 .5 .2 .6 0 .4 .1 .5 .1 1 0 .5-.1 .5 0 .5-.1 1 0 .5 .2 .5-.1 1 0 .5-.1 .1 0 .4-.1 .5 0 .3 .1 .6 .3 1.5 0 .1-.1 .5-.2 .1 0 .4-.1 1 .2 .5-.1 1.2 0 .3-.1 .5-.1 .5 .1 .5 0 .5-.1 .5 0 .1-.1 .4 0 0 .1 .5 0 .5 .1 .5-.1 1.5 0 .4-.1 .1 0 .5-.1 .5 0 .5 .1 .2 0 .3 .1 .5 .1 1 0 .5-.1 .5 .1 1 0 .4-.2 .6 0 .5-.1 .4-.1 .1 0 .5-.1 1 0 .1 .1 .4 .2 .3 0 .2 .1 .5 0 .1-.1 .9 0 .5-.1 .3-.1 .2-.1 .5 0 .2 .1 .3 .2 0 .1 .5 .1 .5-.1 .1-.1 .4-.2 .1 0 .4-.1 1 0 .4-.1 .1-.1 .3 .1 .2 0 .4 .2 .1 .1 .5 .1 .5-.1 .3-.1 .2-.1 .5 0 .2 .1 .3 .1 .5 0 .3-.1 .2 0 .5-.2 .5 0 .3 .2 .2 .1 .5 0 .2-.1 .6-.2 .2-.1 .5 0 .3 .1 .3 0 .6-.3 .3-.1 .4-.2 .3 0 .3 .1 .5 .2 1-.2 .3 .2 .2 .2 .5 0 .4-.2 .3-.3 .3-.1 .5 .1 .4 0 .1 .1 0-.1 .5-.2 .5-.1 1.5 0 .3 .1 .2 .1 .5 0 .5-.1 .1 0 .4-.1 .5-.1 .5 0 1-.2 .5 0 .5 .1 .5 0 .4 .1 1.3 0 .3-.1 .5-.1 .5 .1 .1 .1 .4 .1 .2 .1 .2 .2 .1 .3 .5-.1 .5 0 .4 .1 .1 0 .5 .1 .3 .2 .2 0 .5 .2 .2 0 .3 .1 .5-.1 1 .2 .2 0 .3 .1 .5 .1 .5 0 .2 .1 .3 .1 .5 0 .5-.1 .1 0 .4-.1 1 0 .5-.1 .5 0 .5 .1 .5 0 .5 .1 .1 0 .4 .1 .5-.1 1.5 0 1 .2 .5 0 .1 .1 .7 0 .2-.1 1-.2 .6 0 .4 .1 .5 .1 .3 .1 .7 0 .5-.1 .4-.2 .3 0 .3 .1 1 0 .4-.1 3.1 0 .5-.1 3 0 .5-.1 .5 0 .2-.1 1 0 .3 .1 1 0 .5 .1 .5-.1 .5 0 .5 .1 .3 .1 .3 0 .4-.1 .5-.1 .3-.1 .2 0 .5-.1 1 .2 .5 0 .2-.1 .3 0 .4-.2 .1 0 .5-.1 .5 .1 .5-.1 .5 .1 .6 0 .4 .1 .5-.1 .1 0 .4-.1 .5 0 .4 .1 .1 0 .5 .1 1-.2 .5 0 .3 .1 .4 0 .3-.1 .5 0 .5-.1 .2 0 .3-.2 .4-.1 .1 0 .5-.1 .3 .1 .2 .1 .5 .1 .5-.1 .4-.1 .2 0 .4 .1 .3-.1 .2-.1 .5 .1 .1 0 .4 .3 1-.2 .5 .1 1.5-.3 1 0 .5 .1 .5-.2 0-.1 .5-.2 .5-.1 .5 0 .3 .1 .2 .1 .5-.1 .5 0 .5 .1 .2-.1 .3 0 1-.2 .4 0 .1-.1 0 .1 1 .2 1-.2 1 0 .5 .1 .5 0 .5-.1 .2 0 .3-.1 2 0 .5-.1 0 10-.4-.1-.1 0-.5-.1-.5 .1-.6 0-.4-.1-.5-.1-1 0-.1-.1-.4-.1-.5-.1-.5-.2-.2 0-.3-.1-.5-.1-.4-.1-.1 0-1-.2-1 0-.5-.2-.5-.1-.5 .1-.5-.1-.5-.2-.2 0-.3-.1-.5 0-.5-.1-.5 .1-.5 0-.5-.1-.4-.1-.1 0-.5-.1-.5 0-.4 .1-1.1 0-1-.2-.2-.1-1.8 0-1.5-.3-1.5 0-.5-.1-1.4 0-.1-.1-.5-.1-1 .2-1.5-.3-.5 .1-.5 0-.5-.1-.5 0-1.5-.3-.1 0-.4 .1-1 0-.5 .1-.5 0-.5-.1-.5 .1-1.5 0-.5-.1-.5 0 0-.1-3 0-.5-.1-1.5 0-.5-.1-1.5 0-.5 .1-.5 0-.5-.1-1 0-.5-.1-1 0-.5-.1-1.2 0-.3-.1-1.5 0-.5-.1-.3-.1-.2-.1-1 0-.5-.1-1 0-.5 .1-.3 .1-.2 0-1 .2-1.5 0 0 .1-.5 0-.5 .1-.5-.1-.5 0-.5 .1-.5 0-.5 .1-1.5 0-.5 .1-3.5 0-.5 .1-.4 0-.1 .1-1 0-.5 .1-.5 0-.5 .1-.4 .3-.1 .1-.3 .1-.2 .1 0 .1-.1 .3 0 .5-.1 .2 0 .6-.1 .2 0 .2-.2 .6 0 .1-.5-.1 0-.1-.5-.1-.3-.1-.7 0-.5-.1-.5 0-.5-.1-1 0 0-.1-.5-.1-.1-.1-.4-.2-.2 0-.3-.2-1 0-.5 .1-.5 0-.5-.1-.3-.1-.2-.1-.5-.2-.3 0-.2 .1-.1-.1-.4 0-.5-.1-.5 0-.5-.1-.2 0-.3-.1-.5 0-.5-.1 0-.1-.4-.2-.1 0-.5-.2-.5 .1-.5 0-.3-.2-2.2 0-.5-.1-1.5 0-.4-.1-.1 0-.5-.1-1.5 0-.5-.1-.4 0-.1-.1-1.5 0-.3 .1-.9 0-.3-.1-1 0-.5-.1-2 0-.5-.1-.2 0-.3-.1-.5 0-.5-.1-2 0 0-.1-1.2 0-.3 .1-.2-.1-.3 0-.5-.1-2.5 0-.5-.1-1 0-.5 .1-.5 0-.5-.1-.5 0-.5-.1-1.5 0-.5 .1-1 0-.5-.1-.5 0-.5-.1-1.9 0-.1-.1-2 0-.5-.1-.5 0-.5-.1-.1 0-.4-.1-1 0-.5-.1-1 .2-.5-.1-.4 .1-.1 0-1 .2-.2 .1-1.8 0-.5 .1-.5 0-.5 .1-.5 0-.5-.1-1 0-.5 .1-.5 0-.5 .1-2.5 0-.5 .1-.4 0-.1 .1-1.5 0-1 .2-.1 0-.4 .2-.1 .1-.4 .2-.1 .2 0 .6-.1 .2 0 .2-.1 .3 0 .5-.1 .2-.1 .3 0 .2-.5 0-.5-.1-.4-.1-.1 0-.5-.2-.2-.1-.3-.1-.5-.1-.5 .1-.5-.1-.7 0-.3 .1-.5-.1-1 0-.5-.2-.2 0-.3-.2-.2-.1-.3-.2-.2-.1-1.3 0-.5-.1-.4-.1-.1 0-1-.2-.4 0-.1-.1-.1 .1-.4 .1-.4-.1-.1-.1-.3-.2-.2-.2-.2-.1-2.3 0 0 .1-.5 0-.3-.1-1.2 0-.5-.1-2 0-1-.2-1 0-.5 .1-.5 0-.5-.1-.5 0-.5-.1-1.2 0-.3-.1-1.5 0-.1 .1-.4 0-.5-.2-.5-.1-.2 0-.3-.1-.5-.1-1.5 0-.3-.1-.5 0-.2 .1-.3-.1-2.2 0-.5-.1-1.5 0-.5 .1-.5 0-.5-.1-4 0-.5-.1-3 0-.5-.1-.5 0-.5-.1-2.6 0-.4-.1-1-.2-.5 0-1-.2-.5 0-.5 .1-1.5 0-1 .2-.5 0-.5 .1-1 0-.2 .1-.3 0-.5 .1-1.5 0-.5 .1-1 0-.5-.1-1 0-.2 .1-.3 .1-.5 0-.5 .1-.5 0-.5-.1-.5 .1-.5-.1-.5 .1-.6 0-.4 .1-.5 .1-.5 0-.5 .1-.4 .3-.1 0-.3 .2-.2 .2-.1 .3 0 .5-.1 .2 0 .3-.1 .3 0 .2-.1 .2-.1 .3 0 .1-.5-.1-.5-.2-.1-.1-.4-.1-.5 .1-.5 0-.5-.2-.1 0-.4-.1-1 0-.4-.1-.1-.1-.5-.2-.1 0-.4-.1-.5-.2-1 0-.5-.1-.5 .1-.4 0-.1 .1-.5 0-.3-.1-.2 0-.5-.1-1 0-.5-.1-.5-.2-.2 0-.3-.1-.5-.1-.5 0-.3-.1-.2-.1-.5-.2-4 0-.5-.1-2 0-.5-.1-1 0-.5-.1-1 0-.5-.1-.4 0-.1-.1-.5 0-.5-.1-1 0-.5-.1-.5 0-.5 .1-1.5 0-.5-.1-.5 0-.5-.1-1.5 0-.5-.1-.3-.1-2.3 0-.4 .1-.2-.1-2.8 0-.5-.1-2 0-.5-.1-5 0-1-.2-1.2 0-.3-.1-.5 0-.5-.1-.5 0-.4-.1-.1 0-1-.2-1 0-1.5 .3-.5 0-.5 .1-1.5 0-.1 .1-.9 0-.5 .1-2.5 0-1 .2-2 0-.5-.1-.5 0-.5 .1-.5 0-.5 .1-.5 0 0 .1-.5 .1-1 0-.5 .1-.2 0-.3 .1-.3 .2-.2 .1 0 .1-.1 .2 0 .3-.1 .3 0 .4-.1 .3 0 .3-.1 .2 0 .2-.1 .3 0 .2-.4-.2-.1-.1-.4-.2-.1 0-.5-.1-.5 .1-.5 0-.5-.2-.1 0-.4-.1-.5 .1-1 0-.5-.2-.1 0-.4-.1-.3 .1-.9 0-.3-.1-1-.4-.4-.1-.1 0-.5-.1-.5 .1-.5 0-1-.2-.1 0-.4-.1-.5-.1-.5 .1-.5 0-.5-.1-.3 0-.2-.1-.5-.1-.3-.1-.2-.1-.5 .1-.2 0-.3 .1-.3-.1-.2-.1-.3-.2-.2 0-.5-.1-.5 .1-.5 0-.5-.1-.5 0-.5-.1-2 0-.5-.1-1 0-.5-.1-2.2 0-.3-.1-.5 0-.5-.1-.5 0-.5-.1-.5 .1-.5 0-1.5-.3-.5 .1-.5 0-.5-.1-2 0-.1-.1-1.9 0-.5-.1-1 0-.5 .1-.5 0-.5-.1-4 0-.5 .1-.5 0-.5-.1-.5 0-.5-.1-1 0-.5-.1-1 0-.5-.1-1.8 0-.2-.1-2-.4-.5 .1-.5 0-.4 .1-.1 0-.5 .1-.5 0-.5-.1-.1 0-.4-.1-.5-.1-.4-.1-.3 0-.3 .1-1 .2-.5 0-1 .2-.3 .1-.7 0-1 .2-2 0-1 .2-.2 0-.3 .1-.5 .1-2 0-.5-.1-.4-.1-.6 0-1-.2-.5-.2 0-4.4 .5-.1 .5 .1 .5 0 .4 .1 .1 0 .5 .1 .4-.1 .7 0 .4 .1 .5 0 .2-.1 .3-.1 .5 0 .5 .1 .5 0 1 .2 .5-.1 .4-.1 .3 0 .3 .1 2.5 0 .5-.1 .5 0 .5-.1 1 0 .5 .1 .2 0 .3 .1 .5 0 .5 .1 1 0 .5-.1 .5 0 .5 .1 .4 .1 .6 0 .5-.3 .5 0 .5 .1 .5 0 .5-.1 1 0 .5-.1 .5-.2 .5 .2 .5 0 .5-.1 1 0 .5 .1 1 0 .5-.1 .5 0 .5 .2 .5 0 .5-.2 1 0 .3-.1 .9 0 .3 .2 .5 0 .3 .1 .2 0 .5 .1 .3-.1 .2-.1 .5-.2 .5 0 .5-.1 .5 .1 .1 0 .4 .2 .5-.2 1-.2 1 0 .5-.2 .5 .1 .1 .1 .4 .2 .5 0 .5-.1 .4-.1 .7 0 .4-.1 .5 0 .3 .1 .2 .1 .5 .1 .5-.2 .6 0 .4-.1 .3-.1 .2-.2 .5 0 .5 .1 .2 .1 .9 0 .4-.2 .5 .1 .2 .1 .3 .1 .5-.1 .1 0 .4-.2 .4 .2 .1 0 .5 .1 .3-.1 .2-.2 .4-.1 .1 0 .4 .3 .1 0 .5 .2 .5-.2 0-.1 .3-.2 .2-.2 0-.1 .6 0 .4 .3 .5 0 .5-.1 .5 0 .3 .1 .3 0 .4-.1 .3-.2 .2 0 .5-.1 .3-.1 .7 0 1-.2 1.5 0 .5 .1 .5 0 .5-.1 .2 0z"/>
<path fill-rule="evenodd" fill="#ed9676" d="M729.2 67.6l.7 0 .3 .1 .5 0 .5-.1 1 0 .4 .2 .1 .1 .5 0 .2-.1 .9 0 .4 .2 .4-.2 .1 0 .1 .3 .2 .3 0 .2 .1 .2 .1 .3 0 .2 .4 .1 .3 0 .3-.1 .4 .1 .1 0 .5-.2 .5 .1 .3 .1 .2 0 1 .2 .2 0 .3 .1 1.5 0 .4-.1 1.1 0 .5 .1 .5 0 .5 .1 1 0 .5-.1 .3-.1 1.2 0 1 .2 1.8 0 .2 .1 .5 0 .5 .1 .3 .1 .2 .1 .3 .2 .2 .1 .5 0 .5-.1 .2 0 .3-.1 .4-.2 .1 0 .5-.2 .2-.1 .9 0 .4 .1 1 0 .2-.1 .3 0 .5-.1 .4 .1 .1 .1 .5 0 .4-.1 1.6 0 .5-.1 .5 0 .5 .1 .5 0 .5-.1 .4-.1 .6 0 .5 .2 .3 0 .2 .1 .2-.1 .3-.1 .5-.1 .5 0 1-.2 1 0 0-.1 0 .1 .5 0 1 .2 1 0 .5 .2 .5-.1 .4-.1 .1 0 .5-.2 3.9 0 .1-.1 .5 .1 1-.2 1 0 .4-.1 .1 0 .5-.2 .4-.1 .2 0 .4 .2 .4 .1 .2 0 .4-.1 .5 0 .5-.1 .3-.1 1.2 0 1-.2 .5 .2 .2 0 .3 .2 .5 0 .4-.2 .1 0 .5-.1 .5 0 .2-.1 .3-.1 .5 .1 .4 .2 .1 .1 .2-.1 1.1 0 .2 .1 .1-.1 .8-.2 .1 0 1-.2 .5 0 0-.1 0 .1 .5 0 .5 .1 .4-.1 .1-.1 .3-.2 .2-.1 .5-.1 1 .2 .5 0 .5 .1 .4-.1 .1 0 .5-.2 .3-.1 .2 0 .4-.2 .2 0 .4 .1 .2 .1 .3 .2 .5 0 .3-.2 .2-.1 .5 0 .5 .1 .5-.1 .5 0 .5 .1 .5 0 .2 .3 .1 .3 .1 .2 0 .2 .1 .3 0 .1 .5 0 .5 .1 .4 .1 .6 0 .5 .1 .4 .1 .6 0 1 .2 .5-.1 .2-.1 .3-.1 .4 .1 .1 0 1 .2 .2 0 .3 .2 .5 .1 1-.2 2 0 .2-.1 1.1 0 .2 .1 .5 .1 1.5 0 .3 .1 .2 .1 .5 .1 .5 0 .5-.2 .6 0 .4 .1 .3 .2 .2 .1 1 0 .3-.1 .2-.2 .3-.1 .2-.1 .5 0 .5-.1 .5 0 .4-.1 .9 0 .2 .1 .5 .1 .5-.1 .1-.1 .4 0 .5-.1 1.5 0 .5 .1 1.2 0 .3 .1 .5 0 .3-.1 1.7 0 .5-.1 .5 0 .5 .1 1 0 .5-.1 .5 0 .5 .1 0 .1 0-.1 1-.2 .5 .1 .5 0 .5 .1 .5-.1 .5 0 1-.2 .5 .1 .6 0 .4 .1 .5 .1 .5-.1 .2-.1 .3-.1 .5-.1 1.3 0 .6-.3 .1 0 .5-.1 .5 0 .4 .1 .1 0 .5 .2 0 .1 .6 0 .4-.4 .5 0 .4 .1 .1 0 1 .2 .5-.2 .6 0 .4 .1 .3-.1 .2-.1 .3-.2 1.2 0 .5-.1 .4 .1 .1 .1 .3-.1 .2 0 .5-.1 .5 .1 .1 0 .4 .2 .5-.1 0-.1 .5-.2 .1 0 .4-.1 .5 0 .2 .1 .3 .1 .5 0 .1-.1 .4-.2 0-.1 .5-.2 .5 .2 .2 .1 .9 0 .4-.2 .4-.1 .1 0 .5-.2 .1-.1 1.7 0 .2 .1 .5 0 .1-.1 .4-.1 .5 .1 .5-.1 1 0 .2-.1 .3-.1 .5 0 .5 .1 .2 0 .3 .2 .2 0 .3 .2 .5-.1 .2-.1 .3 0 .2 .3 .1 .3 0 .2 .1 .2 .1 .3 0 .2 .5 0 .4 .1 .6 0 .5 .1 .5-.1 .6 0 .4-.1 .2 .1 .3 0 .5 .1 .4 .1 .6 0 .5-.1 .4 .1 .1 0 .5 .2 .6 0 .4 .1 .5 .1 1 0 .5-.1 .5 0 .1-.1 1.5 0 .4 .2 .5-.1 1.5 0 1 .2 .5 0 .5 .1 .4 .2 .7 0 .4-.1 1-.4 1 .2 .5-.2 .5 0 .5 .1 .5-.1 .3-.1 1.1 0 .1 .1 .1-.1 .4 0 .5-.1 1 0 .5 .1 1.4 0 .1 .1 1 0 .2-.1 .3 0 .5-.1 1 0 .5 .1 .2 0 .3 .1 .5 .1 .5-.1 .3-.1 .4 0 .3 .1 .1-.1 .4 0 .5-.1 .5 0 .5-.1 .1 0 .4-.2 .4 0 .1-.1 .5 0 0 .1 1.5 .3 .5 0 .5-.1 .7 0 .3-.1 .4-.1 .1-.1 .5-.1 .2 .2 .3 .1 .4 .1 .6 0 .5-.2 .1 0 .4-.2 1 0 .2-.1 .3-.1 .5 .1 .5 .3 .5 .2 .5-.1 .4-.1 .1-.1 .5 0 .1 .1 .4 .1 .4-.1 .1-.1 1-.2 .5 0 .5 .3 .1 0 .4-.1 .5-.2 .1 0 .4-.1 1 0 .4-.2 .1 0 .5-.1 .3-.1 .7 0 .5 .2 .5-.1 .5 0 .3 .1 .2 .1 .5 .1 .2-.2 .3-.1 .1-.1 .3-.2 .1-.1 .3 .1 .2 0 .5 .1 .3-.1 .6-.3 .1 0 1-.2 .4 .2 .1 0 .5 .2 1 0 .5-.2 .5-.1 .4-.2 .1 0 .5-.2 .5-.1 .5 0 .5 .1 .6 0 .4 .1 .5 .1 .5 0 .4-.2 .1 0 .5-.1 .5 .1 .1 0 .3 .2 .1 .2 .1 .1 .1 .3 .2 .4 0 .3 .1 .3 .1 0 .4-.2 .5 0 1.5 .3 1 0 .5 .1 .2 0 .3 .1 .5 .1 1.6 0 .4 .1 .5 0 .2-.1 .3 0 .5-.1 .5 0 .5-.1 1 0 .5 .1 .5 0 .5 .1 1.7 0 .3 .1 .5 0 1 .2 .2 0 .3 .1 .5 .1 1 0 .5-.1 .5 0 .5 .1 1 0 .5-.2 .1 0 .4-.1 2 0 .5-.1 .4-.1 .9 0 .2 .1 .5 0 .1-.1 1.4 0 .5-.1 .5 .1 .7 0 .3 .1 .5 0 .2-.1 .3 0 .5-.1 .5 0 1-.2 .4 .1 .1 0 .5 .1 1.5 0 .5-.1 .5 .1 .5 0 .4-.1 .1 0 .5-.1 .5 0 .5-.1 .5 .1 .3 .1 .2 0 .5 .1 .3-.1 .2 0 .5-.1 1 0 .5-.1 2.2 0 .3-.1 1 0 .2 .1 .6 0 .2-.1 1.5 0 .5-.1 .5 0 .5-.1 .5-.2 .3-.1 1.2 0 0 .1 .5 .1 .3-.2 .2 0 .5-.1 .5 .1 .5-.2 .5 .1 .4 .1 .1 .1 .5 0 .2-.1 .5 0 .3 .1 .5-.1 .5 0 1-.2 .5 .1 .5 0 .4-.1 .1 0 .5-.2 0-.1 .5-.2 .1 0 .4 .1 .5 .1 1 0 .3 .1 .2 0 .5-.2 .5 0 .2-.1 .3-.1 .4-.2 .2 0 .4 .3 .5 .2 .5-.1 .2-.1 .3-.2 .3-.1 .7 0 0 .1 .5 .1 .5-.1 .2-.1 .3 0 .5-.1 .4-.1 1.6 0 .5-.1 0 7.7-.3-.1-.2-.1-.5-.2-.5 .3-.2 0-.3 .1-.2-.1-.3-.1-.4-.2-1.6 0-.5-.1-.5 0-.3-.1-.2 0-.5-.1-2.5 0-.5-.1-1.9 0-.1-.1-3 0-.5-.1-1 0-.5 .1-2 0-.5-.1-1.5 0-.4-.1-.1 0-.5-.2-1.5 0-.1-.1-.4 0-.5-.1-.5 0-.5 .1-.5-.2-.5-.1-.5 .1-.1 0-.4 .1-.4-.1-.1 0-.5-.2-.5 0-.5 .1-.5 0-.5-.1-.4 0-.1-.1-1-.2-.1 0-.4-.1-.4 .1-.1 0-.5 .1-.5 0-.5 .1-1.5 0-.1 .1-1.1 0-.3-.1-1-.2-3.1 0-.4-.1-.5 0-.5-.1-.5 0-.4-.1-1.3 0-.3 .1-.5 .1-.5-.1-1 0-.5-.1-1.5 0-.5-.1-.5 0-.5-.1-.2 0-.3-.1-.5 0-.4 .1-.2 0-.4-.1-.5-.1 0-.1-.5-.1-1.5 0-.5-.1-1 .2-.3 .1-.2 0-1 .2-1 0-1 .2-1 0-.5-.1-.5 .1-.5 0-.5 .1-2.5 0-.4-.1-.9 0-.2 .1-.5 0 0-.1-1.1 0-.4 .1-.5 .1-.5 0-.5-.1-1 .2-.5 0-.5 .2-.5 0 0 .3-.1 .2 0 .3-.1 .3-.2 .4 0 .3-.1 .3 0 .1-.5-.1-.2 0-.3-.2-.4-.1-.1 0-.5-.1-2.5 0-.4-.2-.1 0-1-.2-1.5 0-.5 .1-.5 0-.4-.1-.1 0-.5-.1-.5 .1-.5-.1-1.5 0-.5-.1-.8 0-.2-.1-1-.2-.5 .1-.5 0-.5-.1-1.5 0-.5 .1-.3-.1-.2 0-.5-.1-1 0-.4-.2-1.6 0 0 .1 0-.1-.5 0-.5-.2-.2 0-.3-.1-1 0-.5 .1-.2 0-.3 .1-1.5 0-.5-.1-.5 0-.5-.1-2 0-.5-.1 0-.1-1-.2-2 0-.5-.1-.4 .1-.1 0-.5 .1-.5-.1-.5-.2-.5 0-.5 .1-.5-.1-1 0-.1-.1-.4-.1-1 0-.4 .1-.1 .1-1 0-.1-.1-.4 0-1-.2-.5 .1-.5 0-.5 .1-2 0-.5-.1-1.5 0-.5-.1-2 0-1-.2-.8 0-.2-.1-.5 0-.5-.1-.5 0-.5 .1-.5 0-.5-.1-.4 .2-.1 0-.5 .2-.2 0-.3 .1-2 0-.5 .1-.4 0-.1 .1-.5 0-.5-.1-.5 0-.5-.1-.5 0-.5 .1-.5 0-1 .2-.5 0-.5-.1-1 0-1 .2-.5-.1-2 0-.2 .1-.3 .1-.5 0 0 .2-.1 .2 0 .2-.1 .3 0 .3-.2 .4-.1 .3 0 .1-.5 0-1.5-.3-.1-.1-1.9 0-.5-.1-.5 .1-2 0-.5-.1-.2-.1-.3-.1-1.5 0-.5-.1-1.5 0 0-.1-.5 0-.3 .1-.4 0-.3-.1-.5-.2-.2 0-.3-.1-.5 .1-1 0-.5 .1-1 0-.5-.1-2.5 0-1.5-.3-1 0-.5 .1-1 0-.3-.1-1.2 0-.5-.1-.5 0-.4-.1-.6 0-.5 .1-.5 0-.4-.1-.1 0-.5-.2-.2 0-.3-.1-.5-.2-1.5 0-.5-.1-.5 .1-.5-.1-1.5 0-.5-.1-1 0-.3-.1-.4 0-.3 .1-.5 .1-.5 0-.5-.1-1 0-.5 .1-1 0-.5-.1-1.5 0 0-.1-2 0-.5 .1-.5 0-.5-.1-.5 0-.5-.1-1 0-.5 .1-.5-.1-.5 0-.3-.1-.2 0-.5-.2-.6 0-.4-.2-.4-.1-.1-.1-.5 0-.5 .1-.1 0-.4 .2-.4 .1-.2 0-.4-.1-.5-.1-.5 .1-.2 .1-.3 0-1 .2-1.1 0-.4 .1-.5 .1-.5 0-.5-.1-.5 .1-.4 0-.1 .1-.4-.1-.6 0-.5-.1-.4-.1-.2 0-.8 .2-.1 .1-.5 .1-1 0-.5-.1-.5 0-.5-.1-.5 .1-.5 0-.5 .1-1.5 0-.2 .1-.3 .2-.3 .1-.2 0 0 .2-.1 .2 0 .3-.1 .3-.2 .4-.1 .3 0 .1-.2-.1-.3-.1-.3-.2-.2 0-.5-.1-.5 .1-.5 0-.5-.1-1.5 0-.5-.1-.2 0-.3-.1-.5 0-.5-.1-1.5 0-.5 .1-.5 0-.5 .1-.5-.1-2 0-.5-.1 0-.1-1.5 0-1-.2-1.5 0-.5 .1-2 0-.4-.1-1.1 0-.5-.1-.5 .1-.5-.1-.5 0-.5-.1-1.5 0-.2-.1-.3 0-.5-.1-.3-.1-.2-.1-1.5 0-.5-.1-.5 0-.5 .1-1.5 0-.5-.1-1.1 0-.4-.1-1 0-.5-.1-.2-.1-.3-.1-1.5 0-.4 .1-.1 0-.5 .1-.5-.1-2 0-1-.2-.5 0-.5 .1-1 0-.5-.1-.4-.1-1.4 0-.2 .1-3.5 0 0-.1-.5-.1-1 0-.5-.1-1 0-.5-.1-.4-.1-.1-.1-.5-.1-.3-.1-.2-.1-1 0-.1 .1-.4 .1-.3 .2-.2 0-.5 .1-.5 0-.4 .1-.1 0-.5 .1-1.5 0-.5 .1-.2 0-.3 .1-.5 0 0-.1-.5 0-.5-.1-.5 0-.5 .1-.2 0-.3 .1-1 .2-.5-.1-.5 0-.5-.1-.3-.1-1.1 0-.1 .1-1 0-.5 .1-.4 .1-1.6 0-.5-.1-.2 .1-.3 .2 0 .1-.1 .2 0 .2-.2 .6 0 .2-.2 .2 0 .4-.1-.1-.4-.3-.5-.1-1 0-.5 .1-.5-.1-4.5 0-1-.2-2.5 0-.5-.1-1 0 0-.1 0 .1-1.9 0-.1-.1-2 0-1-.2-2 0-1-.2-2.5 0-.4-.1-2.1 0-.5-.1-.5 0-.5-.1-.5 0-1-.2-1 0-.5 .1-.5-.1-.2 0-.3-.1-.5-.1-.5 .1-.5 0-1-.2-.5 .1-.5 0-.5-.1-.5 0-.5-.1-.5 0-.5-.1-.4-.1-.1 0-.5-.1-.5 .1-.5 .2-4.5 0-.5 .1-1.5 0-.5-.1-.5 0-.5-.1-.5 .1-.5-.1-.3-.1-.7 0-.5-.1-1.5 0-.5-.1-.5-.2-.2 0-.3-.3-.5-.2 0-.1-.8 0-.2 .1-.5 .1-.1 .1-.6 .3-.3 0-.5 .1-.5-.1-.7 0-.3-.1-.5-.1-.5 .1-.4 .1-.6 0-.5 .1-.5 0-.4 .1-.1 0-.5 .1-.5 0-.5 .1-.4 0-.1 .1-.1-.1-.4 0-1-.2-1 .2-.2 0-.3 .1-.4 .2-.1 0-.5 .1-.5-.1-2 0-.5-.2-1 0-.2-.1-.3-.1-.2-.1-.3-.2 0-2.4 .5-.1 0-.1 .5 0 .5-.1 .4 .1 .1 .1 .5 0 .2-.1 1.1 0 .2 .1 .5 0 0-.1 .5-.1 .5 0 .5 .1 0 .1 .5 0 .5 .1 .4 .1 .2 0 .4-.1 .5-.2 .5 0 0 .1 1.5 0 .5 .1 .5 0 .5-.1 1.5 0 .5 .1 1.5 0 .5 .1 .1 0 .4 .1 .5 0 .3 .2 .2 .1 .4 .1 .1 .1 .5 .1 .5 0 .3-.2 .4-.2 .3-.3 1-.2 1.5 0 .1-.1 .9 0 .5-.2 .5 .1 .5 0 .5-.1 2 0 .5 .1 1 0 .5 .1 .5 0 .5-.1 1 0 .5-.1 .6 0 .8 .2 .1 .1 .5 .2 1-.2 0-.1 .5-.1 .5 0 .3-.1 .2-.1 1 .2 .5-.1 .5 0 1-.2 .8 0 .2-.1 .2 .1 .3 0 .5 .1 .5 0 .5-.1 1.2 0 .3-.1 .5-.1 .5 .2 .5 .1 .3-.1 .2-.1 .5 0 .5-.1 .1-.1 .4-.2 .5 0 1 .2 1-.2 .5 .1 .4 .1 .6 0 .5-.2 1 .2 .5-.2 .1-.1 .5 0 .4 .2 .3 .1 .2 .1 .1-.1 .4-.2 .1-.1 .3-.2 .1-.1 .5-.1 .3 .2 .2 .1 1 0 .5-.1 .5 .2 .5-.2 .1 0 .4-.1 .5-.1 0-.1 .5-.1 .5 0 .5-.1 .1 0 .6-.3 1.5 0 .3 .2 .5 .1 .5-.2 .1-.1z"/>
<path fill-rule="evenodd" fill="#dd6f59" d="M951.2 68.1l.5 .2 .1 .1 .3 .2 .2 .2 .1 .3 0 .3 .1 .2 0 .2 .1 .3 0 2.5-.1 .2 0 .6-.1 .2 0 .2-.1 .3-.1 .2-1 0-.5-.1-3 0-.5-.1-.1 0-.4-.1-.5-.2-1.1 0-.4 .1-1.5 0-.2-.1-.7 0-.1 .1-.1-.1-.4 0-.5-.1-.5 0-.5 .1-.5 0-.5-.1-.2-.1-.3-.1-.5-.1 0-.1-.5 0-.1 .1-.4 .1-.5-.1-.5 0 0-.1 0 .1-2.2 0-.3-.1-.5-.1-.5 0-.5-.1-.5-.2-.5 0-.5 .1-.5 0-.5-.1-.1-.1-.4-.1-.2-.1-.3-.1-.5 0-.5-.1-.5 .1-.1 .1-.4 .2-.3 0-.2 .1-1 0-.2-.1-.3 0-1.5-.3-.5 .1-.1 0-.4 .1-.5-.1-.1 0-.4-.2-.2 0-.3-.2-.1-.1-.4-.2-.1-.1-.5 0-.4 .2-.5 0-1-.2-.5 .3-.5 .2-.4-.2-.1 0-.3-.3-.2-.4 .1-.3 .2-.3 .2-.1 .1-.1 .4-.2 .5 .2 .4 .2 .1 .1 .5 0 .2-.1 .8 0 0 .1 .5 .1 .5 0 .2-.2 .3-.1 .1-.1 .4-.2 0-.1 .5-.2 .5 .2 .2 .1 .3 .1 .5 0 .4-.1 .1-.1 .5-.2 .5 0 1-.2 .5 .1 .3 .1 .2 .1 .2 .2 .3 .1 .5 .1 1-.2 .6 0 .6-.3 .3-.1 .5 0 .5 .1 .1 0 .4 .1 .3-.1 .2 0 .5-.2 .2-.1 .8 0 .5-.1 .4-.1 .1 0 1-.2 .5 .1 1.5 0 .1 .1 .4 .1 .5 0 .1-.1 .4-.2 .4-.3 .1-.1 .3 .1 .2 0 .5 .1 .4-.1 .1-.1 .5-.1 .1-.1 1.2 0 .2 .1 .5 .1 .5 0 .5 .1 .5-.2 1-.2 .2-.1 .3-.1 .2-.1 .3-.2 .5-.1 .5 .2 .5 0 .1 .1 .4 0 .5 .1 .5 0 .5-.1 0-.1zM876.7 68.3l.5-.1 1 .4 .1 0 .4 .1 .5 0 .3-.1 .2-.1 0 .1 .1 .2 .1 .3 0 .3 .1 .2 0 .2 .1 .3 0 2.5-.1 .2 0 .3-.1 .3 0 .2-.1 .2-.1 .3 0 .1-1 0-.5-.1-.6 0-.4-.1-2.5 0-.5 .1-1.5 0-.5-.1-.3-.2-.2 0-.5-.1-1 0-.5-.1-1.5 0-.5-.1-.5 .1-.5-.1-.4-.1-.1-.1-.5-.1-.5 0-.5 .1-.5-.1-.4 .2-.1 0-.5 .1-.5-.1-.4 0-.1-.1-1 0-.4 .1-1 0-.1-.1-.5 0-.5-.2-.5-.1-1 0-.3 .1-.2 0-.5 .1-.5-.1-.2 0-.3-.1-.5-.1-.5 .1-.5 0-.5-.1 0-.1-.5-.1-.5 .1-.2 0-.3 .1-.5 .1-.3-.2-.2-.1-.3-.1-.4-.2-.8-.8 0-.2-.1 .2-.4 .2-.3 0-.2 .1-.2-.1-.3-.1-.5 0-.4 .1-.1 .1-.1-.1-.4-.1-.2-.1-.2-.2 .3-.3 .1 0 .5-.1 .5 .1 .5 0 .5-.1 .5 .1 .5 .2 .5-.5 .3-.2 .2-.2 .2 0 .3-.2 .5-.1 1.2 0 .3-.1 .5-.1 .3-.1 .3 0 .4 .1 .4 .2 .6 0 .4-.3 .1 0 .5-.1 .4 .1 .1 .1 1 .2 1-.2 .5 0 .1-.1 .4-.1 .3-.1 .2-.1 .5 0 .5 .1 .7 0 .3 .1 1-.2 .5 .1 .5 .2 .5-.1 .4-.1 .1 0 .5-.1 1 0 .5-.1 .2 0 .3-.2 .3-.1 .2-.1 .4 .1 .1 0 .5 .2 .5-.1 .4-.1 .1-.1 .5-.1 .4-.1 .1 0 .5-.1 .4-.1 1.7 0 .4-.1 .5 .1 .5 0 .5-.1 .5 0 .4-.1zM1023.7 68.3l0 .1 .5 0 .5 .1 .5-.1 .2 0 .3-.2 0 6-.5-.1-.6 0-.4 .1-1 0-.4-.1-1.6 0-1-.2-.1-.1-.4-.1-1 0-.5 .1-.5-.1-1 0-.5-.1-.6 0-.4 .1-.5 0-.3-.1-1.2 0-.5-.1-.5 0-.5 .1-.5-.1-1.5 0-.5 .1-3 0-.5-.1-.5 0-.5-.1-.5-.2-.3-.1-1.2 0-.5-.2-.5-.1-.1 0-.4 .1-.5 0-.1-.1-.4-.1-.2-.1-.3-.1-.3 .1-.2 .1-.5 .1-.5-.1-.2-.1-.3-.2-.5 0-.5 .1-1 0-.5-.1-.5-.2-.2-.1-.3-.2 0-.1-.4-.2-.1-.2-.1 .2-.4 .4-.3 .1-.2 .1-.5-.1-.5 .2-.5 0-.1 .1-.4 0-.5 .1-.3 .1-.2 .1-.3-.1-.2 0-.5-.2-.3 0-.2-.1-.5-.2-.1 0-.4-.1-.5 .1-.5 0-.5 .1-1 0-.3-.1-.2-.1-.5-.1-.1-.1-.4-.2-.1 0-.4-.2 0-.1 .4-.2 .1 0 .5-.3 .5-.1 .3-.1 1.2 0 .5 .1 .5 0 .5 .1 .5-.1 .2-.1 .3 0 .5-.1 .4-.1 .1-.1 1 0 .2 .1 .3 0 1.5 .3 .5 0 .5 .1 0 .1 .3 .2 .2 .2 .3-.2 .2-.1 .2-.2 .3-.2 .1 0 .4-.1 .5-.1 .5 0 0-.1 .2 .1 .8 0 .5 .1 .2-.1 .3-.1 .5-.1 .5 .1 .3 .1 .4 0 .3-.1 .5-.2 1 0 .5-.1 .3-.2 .2 0 .5-.1 1.5 0 .2-.1 .3-.1 .5-.1 .8 0 .2-.1 .5 0 0 .1 .5 .2 .5-.1 .5 0 .5 .1 .5 0 1-.2 1 0 .5 .1 .5-.1 .2 0 .3-.2 .2-.1 .3-.1 .5 .1 .2 0 .3 .1 .5-.1 .5 .1 .5 0 .4-.1 .1 0 1-.2 .1-.1 .4-.1 .2 .1 .3 .2 .3 .1 .2 .1 .4-.1 .1 0 .4-.3 .1 0 .5-.2 .5 0 .5 .2 .5-.1 .4-.1 .1 0 .5-.2 .5 0zM729.2 68.5l.5-.1 1 .2 1-.2 .5 .1 .2 .1 .3 .2 .5 0 .5-.1 .5 0 .5 .1 .5-.2 .1 .2 .1 .3 0 .3 .1 .2 0 .2 .1 .3 0 .7 .1 .3 0 .3-.1 .2 0 1-.1 .2 0 .3-.1 .3 0 .2-.1 .2-.1 .3 0 .1-.3-.1-.2-.1-.5-.1-1 0-.5 .1-.5-.1-1 0-.5 .1-.5 0-.5-.1-.5 0-.5 .1-.5-.1-1 0-.3-.1-.7 0-.5-.1-.5 0-.5 .1-.5 0-1-.2-.7 0-.3 .1-1 0-.5-.1-.5 0-.5-.1-.5 .1-.6 0-.8-.2-.1-.1-2 0-.5-.1-.4-.1-3.6 0-.5-.1-1 0-.5-.1-.4-.1-.1 0-.5-.1-.5 0-.5-.1-.1 0-.4-.1-.5-.1-1 .2-.5-.1-.2-.1-.3-.2-.5-.1-.5 .2-.5 .1-.5-.2-.3-.1-.2-.1-.3 .1-.8 0-.4-.1-.5-.1-.3-.1-.2-.1-.3-.1-.2-.2 0-.1 .4-.2 .1 0 .4-.3 1.1 0 .5-.1 .5 .1 .5-.2 .1 0 .4-.2 .5 .1 .3 .1 .2 .1 .4-.1 .1 0 .5-.2 1 0 .5 .1 .5-.1 .2 0 .3-.2 .5-.1 .5 .1 .5 0 .4-.1 .1 0 .5-.1 .5 0 .3-.2 .2 0 .5-.1 .5 .1 .2 0 .3 .1 .2-.1 1.5 0 .3 .1 .5 0 .2-.1 .3-.1 .5 0 .5 .1 1-.2 .5 .2 .5 0 .4-.2 .1 0 .4-.2 .1-.1 .5-.1 .3 .2 1.5 0 .2-.1 0 .1 .5 .1 .5-.1 .3 0 .2-.1 .5-.2 .1 0 .4-.1 1 0 .3-.2 .2 0 .5-.1 .5 0 .5-.1 .5 .2 .3 0 .2 .1 .1-.1 .4-.1 .2-.1zM802.2 68.5l.4 .1 .1 0 .4 .2 .1 .1 .5 0 .1-.1 .4-.2 .1 0 .4-.1 .3 .1 .2 .1 .5 0 .2-.1 .3-.1 .4 .1 .6 0 .1 .2 .1 .3 0 .3 .1 .2 0 .2 .1 .3 0 .7 .1 .3 0 .5-.1 .2 0 .8-.1 .2 0 .6-.2 .4-.1 .3 0 .1-.5-.1-.1 0-.4-.1-.5-.1-.5 .1-.5 0-.5-.1-.4-.1-.7 0-.4 .1-.5 0-.1-.1-.4-.1-.5-.1-.2 0-.3-.1-.5 0-.5 .1-.6 0-.4 .1-.5 .1-1 0-.5-.1-.5 0-.5 .1-1.5-.3-1 0-.5-.1-.2 0-.3-.1-1 0-.1 .1-.9 0-.5 .1-.5 0-.5-.1-2.3 0-.2-.1-.1 .1-1 0-.4-.1-.5-.1-.5 0-.5-.1-1 0-.5-.2 0-.1-.5-.2-.5 0-.5-.1-.5 0-.5-.1-.2 0-.3-.1 0 .1-.5 .2-.5 0-.5 .1-.5 0-.5-.1-.5 0-1-.2-.5 .1-.5-.1-.1 0-.4-.3-.5-.5 0-.1-.5-.1-.4 .2-.1 0-.5 .2 0 .1-.4 .2-.1 0-.5 .2-1-.2-.5 .1-.5 0-.4-.1-.1 0-.5-.1-.3-.2-.4-.2-.2-.2 .4-.4 .3-.2 .2-.1 .5 0 .2-.1 .3-.1 .5 0 .5 .1 1-.2 .5 .2 .4 .2 .1 .1 1 .4 .5 0 .1-.2 .3-.3 .1 0 .2-.2 .3-.1 .5-.1 .5 0 .5-.1 1 0 .5-.1 .5 0 .5 .1 .5 0 .2 .1 .3 .1 .5 0 .3-.1 .2-.1 1 0 1-.4 .1-.1 .4-.2 .5 .1 .4 .1 .1 .1 .1-.1 .4 0 1-.2 .2 0 .3-.1 .5 .1 .5 0 .5-.2 .5 0 .5 .1 .2 .1 .3 .1 .5 0 .3-.1 .2-.1 .5 0 .5-.1 .5 0 .5 .1 .2 .1 .3 .1 .5-.1 1.1 0 .4-.1 .5-.1 .3 0 .2-.1 .5-.2 .6 0 .4 .1 .5 .1 .5-.2 .4-.3 .1 0 .5-.1 .4 .1 .1 .1 1.5 .3 .4-.1 .1 0 .5-.2 .2-.1 .3 0 .3-.2zM689.2 70.6l.5-.1 1 0 .4 .1 .1 0 .5 .2 .3 0 .2 .1 .5 0 .5 .1 .5 0 .5-.1 .5 .1 .5-.1 .1-.1 .6 0 .3 .2 .1 .1 .1 .3-.2 .4-.1 0-.4 .2-.5-.1-.2-.1-.3-.1-.4 .1-.1 .1-.2-.1-.3 0-.5-.1-.3 .1-.2 .1-.4-.1-.1 0-.5 .2-.3 .1-.2 .1-1.5 0-.5-.1-.2 0-.3-.1-.5 0-.5 .1-.5-.1-.3-.2-.2-.1-.5-.1-.2 0-.3-.1-.5-.1 .5-.2 .1-.1 .4-.1 .5 0 .2-.2 .3-.1 .5-.1 .5 .1 .5 0 .3-.1zM742.7 70.5l.5 0 .5 .1 .5 .2 .2 0 .3 .2 .2 .1 .1 .3-.3 .2-.5 .2 0 .1-.5 .1-.2 .1-.3 .1-.5-.1-.1 0-.4-.1-.3-.2-.2-.1-.1-.1-.1-.2 0-.3 .3-.3 .4-.2zM746.7 70.6l.5-.1 .4 .1 .1 0 .5 .2 0 .1 .5 .2 .5-.1 .5 0 .3 .1 .1 .3-.3 .2-.6 0-.5-.1-.2 .1-.3 .1-.2 .1-.3 .1-.5 .1-.5 0-.3-.2-.4-.2-.3-.2 .1-.3 .4-.2 0-.1zM883.7 70.6l.5 .2 .4 .3 .1 .3-.3 .2-.2 .1-.3 .1-.2 .1-.2-.1-.3-.1-.1-.1-.1-.2 0-.3 .2-.2 0-.1zM886.2 70.6l.5 0 .4 .2 .1 .1 .5 .2 0 .1 .1 .2-.1 0-.3 .2-.4 .2-.3 .2-.5 0-.3-.2-.2-.1-.3-.3 0-.3 .3-.2 .1-.1 .3-.2zM962.2 70.6l.6 0 .8 .2 .1 .1 .5 .1 .5-.1 .1-.1 .9 0 .5 .3 .1 .3-.1 0-.2 .2-.3 .2-.3 0-.2 .1-.2-.1-.3-.1-.5-.1-.5 .1-.4 .1-.1 .1-.5 .1-.5 0-.5-.1-.3-.1-.7 0-.5-.2-.2-.2 0-.3 .2-.1 .5-.2 .5 0 .5-.1zM666.2 70.8l.2 0 .3 .1 .4 .2 .1 .2 .1-.2 .4-.1 .3-.2 .8 0 .3 .3 0 .3-.1 .2-.3 .3-.5 0-.2-.1-.3-.2-.1 0-.4-.2-.2 .2-.3 .1-.4 .1-.1 .1 0-.1-.5-.2-.2-.2 0-.3 .6-.3zM738.2 70.7l.3 .1 .2 .2 .2 .1 0 .3-.2 .1-.1 .1-.4 .2 0 .1 0-.1-.5-.2-.2-.2 0-.3 .3-.3zM758.7 70.8l1.2 0 .3 .1 .5 .1 .5-.1 1 .2 .1 0 .3 .3-.4 .2-1 .2 0 .1 0-.1-1 0-.5 .2-.5 0-.5-.1-.1-.1-.4-.2 0-.1-.2-.1 .2-.3 .4-.3zM764.7 70.8l.5-.1 .4 .1 .1 .1 .3 .2 .1 .3-.1 .2-.3 .3-.5 .1-.5-.1-.2-.1-.3-.2-.1 0-.2-.2 .6-.6zM813.2 70.6l1 .2 .2 0 .3 .2 .1 .1 0 .3-.1 .2-.4 .2-.1 .1-.5 .1-.5-.1-.2-.1-.2-.2-.1-.2-.1 0 .1-.3 .2-.3zM819.7 70.7l.2 .1 .3 .3 0 .3-.1 .2-.3 .2-.1 .1-.3-.1-.4-.2-.3-.2 .1-.3 .4-.2 .1-.1zM833.2 70.8l.5 0 .5 .3 .3 .3-.3 .1 0 .1-.4 .2-.1 .1-.5 0-.2-.1-.6-.2-.2-.2 0-.1 .2-.2 .3-.2 .3-.1zM890.7 70.8l.5-.1 .5 .1 0 .1 1 .2 .5 0 .5-.1 .5 .1 .1 .3-.1 .1-.4 .1-.1 0-.5-.2-1 .2-.5 .2-.2 0-.3 .1-.5 0-.3-.1-.4-.2-.2-.2 .1-.3 .3-.2 .2-.1zM978.7 70.8l.3 0 .2 .1 .5 0 .2-.1 .4 0 .4 .2 .1 .1 .1 .3-.1 .2-.1 .1-.3 .1-.2 .1-1.5 0-.2-.1-.3-.2-.1 0-.3-.2 .3-.3 .1 0zM672.2 70.9l.5 .2 .1 0 .1 .3-.4 .2-.3 .1-.3-.3 0-.3zM816.7 71.1l1-.2 .5 .1 .3 .1 .2 .3-.4 .2-.1 .1-.5 .1-.5-.1-.3-.1-.2-.1-.1-.1zM829.7 71l.5 0 .2 .1 .2 .3-.3 .2-.7 0-.3-.2 .2-.3zM837.7 71.1l.5-.1 1 0 .2 .1 .2 .3-.2 .2-.2 .1-.5 .1-1-.2-.6 0-.3-.2 .4-.3 .2 0zM841.2 71l.5 0 .1 .1 .2 .3-.1 .2-.2 .2-.5-.1-.4-.1-.1-.1-.3-.1 .3-.1 .3-.2zM910.7 71.1l.3 .3-.2 .2-.2 0-.3-.2zM956.2 71l.2 .1 0 .3-.2 .1-.2-.1 0-.3zM976.7 71.1l.5-.1 .2 .1 .2 .3-.3 .2-.1 .1-.4-.1-.1 0-.2-.2zM664.7 71.2l0 .2-.4 0zM673.7 71.2l.1 .2-.2 0zM684.7 71.3l.4 .1-.5 0zM905.2 71.2l.5-.1 .4 .3-.4 .2-.5-.1-.1-.1zM914.7 71.1l.2 .3-.2 .2-.1 0-.3-.2z"/>
<path fill-rule="evenodd" fill="#ca4842" d="M947.7 69l.3 .1 .2 .1 .5 .1 .5 0 0 .1 .5 .1 .5 0 .4-.1 .1-.1 .4-.2 .1-.1 .3 .1 .2 0 .3 .3 .2 .1 0 .1 .1 .2 0 .3 .1 .3 0 .4 .1 .3 0 .7-.1 .3 0 .5-.1 .2 0 .3-.1 .3 0 .1-.5 .1-1-.2-.5 0 0-.1-.5 0-.2 .1-1.3 0-.5 .1-.5-.1-.1 0-.4-.3-.1 0-.4-.2-1 0-1 .2-.6 0-.4-.1-1.5 0-.5-.1-.3-.1-.2 0-.5 .1-.5 0-.3-.1-.2 0-.3-.2-.2-.1-.3-.1-.2-.2-.5 0-.2 .2-.3 .1-.5-.1-.4 0-.1-.1-.3 .1-1.8 0-.6-.3-.3-.2-.4 .2-.1 0-.4-.3-.2-.2 .1-.2 0-.1 .3-.2 .2-.1 .5 .1 .5-.2 .1-.1 .4-.1 .5-.1 1.2 0 .3 .1 .4-.1 .1 0 .5-.1 .2 .1 .3 .2 .2 0 .3 .1 .1-.1 .8-.4 .1-.1 .3-.2 .2-.1 .5 0 .2 .1 .3 .1 .3-.1 .6-.3 .1 0 .5-.1 .5 .1 .6 0 .4 .1 .5 0 .5 .1 1 0 .4-.2 .1 0 .4-.2 .1-.1 .2-.1 .3-.3 .1 0zM877.2 69.3l.2 .1 .3 0 .5 .1 .3 .1 .7 0 .5-.1 0 .1 .1 .2 0 .3 .1 .3 0 .7 .1 .3 0 .2-.1 .2 0 .8-.1 .2 0 .3-.1 .3-.7 0-.3-.1-1 0-.5-.1-.5 0-.5-.1-1.1 0-.4 .1-.5 .1-1.5 0-.5-.2-.1 0-.6-.3-.3-.1-.5 .1-.5 0-1-.2-.5 .1-.5 0-.3-.1-.9 0-.6-.2-.3-.3-.4-.2-1 .2-.5-.1-.1 .1-.4 .2-.1 .1-.4 .1-.5-.1-.3 0-.2-.1-1 0-.3 .1-1.2 0-.5-.2-.4-.4-.1 0-.2-.2 0-.2 .2-.1 .2-.2 .3-.2 .1-.1 .4-.1 .3-.1 .8 0 .4 .1 1 0 .5-.1 .1 0 .4-.1 .2 .1 .3 .1 .2 .1 .3 .3 .5-.1 .5 0 .3 .1 .2 .1 .1-.1 .4-.3 .3-.2 .2-.1 .5-.1 .5 0 0-.1 .5-.1 .5 0 .4 .2 .3 0 .3-.1 .5-.2 .5-.1 .5 0 .4-.2 .1 0 .4-.2 .1 0 .5-.1 .5 0 .5 .1 .5-.2 .5 .2 1.5 0 .5-.2 .4 0zM1023.7 69.3l.5 0 0 .1 .5 .2 .5-.2 .2 0 .3-.2 0 4.2-.3 0-.2-.1-.5-.1-.5 .2-.5 .1-.4-.1-.1-.1-.5-.1-1.5 0-.5-.1-.1 0-.4-.2-.3-.1-.2-.1-1 0-.5 .1-1.5 0-.5-.2-.6 0-.4 .1-.5 0-.5-.1-.1 0-.4 .1-.5-.1-.5-.2-.5 .1-.4 .1-.6 0-.5-.1-1 0-.3 .1-.2 .1-.5 .1-.5-.1-.5 0-.5 .1-1 0-.5-.1-.5 0-.1-.1-.4-.2-.1 0-.4-.4-.5-.1-1 0-.3-.3 .1-.2 .2-.3 .5-.1 .4 .1 .1 0 .5-.2 .1-.1 .4-.2 .5-.2 0-.1 .5-.1 1.5 0 .5 .2 .2 0 .3-.1 .5 0 .1 .1 .4 .1 .5 .1 .5 0 1-.2 .5 0 1 .2 .4-.2 .1-.1 .5-.2 .5 .2 .5-.1 .5 0 .5 .2 .6 0 .4-.3 .5 0 1-.2 .4 .2 .1 0 .5 .2 .5-.1 .2-.1 .3-.2 .1-.1 .4-.2 .5 0 .5 .1 .5 0 .3-.1 .2-.1 .5-.1 .2 0zM729.2 69.6l.5-.1 .5 .1 .5 0 .5 .1 .5-.1 .5 0 .5 .2 .2 0 .3 .1 1 0 .4-.1 .1 0 .4-.2 .1 0 .1 .2 0 .3 .1 .3 0 2.2-.1 .2 0 .3-.1 .2-1-.4-.5 0-1 .2-.5-.1-1 0-.4 .1-3.6 0-1-.2-.5 0-.3-.1-.3 0-.4 .1-.5 0-.3-.1-.2 0-1-.2-1 .2 0 .1-.1-.1-.4 0-.5-.1-.5 0-.5-.1-1 .2-.3-.2-.2-.1-.3-.1-.2-.2-.5 0-.5 .1-1 0-.4-.2-.1 0-.5-.5-.5 .1-.1 .1-.4 .2-1 0-.4-.2-.4 0-.2 .1-.5 .1-.5-.2-.4-.2 0-.2 .4-.3 .1 0 .4-.1 .4 .1 .1 0 .5 .1 .2-.1 .3-.1 1 0 .2 .1 .3 .2 .3 .1 .2 .2 0-.2 .5-.5 .3-.1 2 0 .2 .1 0-.1 .5-.1 .1-.1 .4-.2 .1 0 .4-.2 .5 .1 .5 0 .3 .1 .2 0 1-.2 .5 .1 0 .1 .9 0 .1-.1 .5-.2 .1 0 .4-.1 1 0 .5-.1 .1-.1 .4 0 1-.2 .5 .2 .5 0 .5-.1 .4-.1zM804.7 69.6l.1 0 .4 .1 .5 .1 .5-.2 .5 0 .5-.1 0 .1 .1 .2 0 .3 .1 .3 0 .7 .1 .3 0 .2-.1 .2 0 .8-.1 .2 0 .3-.1 .2-.5 0-.5-.2-.1 0-.4-.1-.5 .1-.2 0-.3 .1-.2-.1-.3-.1-.5-.2-.4 0-.1 .1-.5 .1-.5 0-.3-.2-.2-.1-.5-.1-.5-.2-.5 0-1 .2-.1 0-.4 .1-.2 .1-.3 .2-.5 0-.5-.1-.1-.1-1 0-.4 .2-.5-.1-.1-.1-.4-.2-.5 0-1-.2-.4 0-.1-.1-.5-.1-.4-.1-.1 0-.5 .2-.2 .1-.3 0-1 .2-.5 0-.5-.1-.5 0-.5-.1-.5 .1-.5 0-.5-.1-.5 .1-.5 0-.5-.1-.5-.2-.5 0-.3-.1-.2-.1-.4 .1-.6 0-.2-.3-.1-.2 0-.2 .1-.3 .2-.3 .5 0 .5 .2 .3-.2 .7 0 .5-.2 .1 0 .4-.1 .5 0 .5 .1 .5-.2 .5 0 .5 .2 1 0 .5-.2 .5 0 .5 .1 .5 0 .3 .1 .2 .1 .3 .1 .2 .2 .5-.1 .1-.1 .4-.1 .5-.1 .1 0 .4-.1 .5-.1 .5 0 .4-.3 .1 0 .5-.1 .4 .1 .1 .1 .5 .1 .4-.2 .1 0 .4-.3 .1 0 .5-.1 .2 .1 .3 .3 .1 0 .6 .3 .3 0 .5 .2 .5-.1 .3-.1 .2-.2 .3-.1 .2-.1 .2-.2 .3-.1 .5 0 .2 .1 .3 .2 .5 .1 .3-.3 .2-.1 .4-.1zM856.2 70.8l.2 0 .3 .2 .4 .4 0 .2-.4 .4-.2 .1-.3 .1-.4-.1-.1 0-.5-.5 0-.2 .5-.5 .2-.1zM851.2 71.3l.1 .1 0 .2-.1 0 0-.2zM853.7 71.2l.5 0 .1 .2 0 .2-.1 .1-.5 0-.1-.1 0-.2z"/>
<path fill-rule="evenodd" fill="#b6202f" d="M947.7 70.2l.4 .2 .1 0 1 .2 .5 .2 .5 0 .5-.2 .3-.2 .2-.2 .5 0 .2 .2 .3 .2 0 .3 .1 .2 0 1-.1 .3 0 .1-.2 .1-.3 .1-.5-.1-.5-.2-.2 0-.3-.1-.5 0-.3 .1-.7 0-.5 .1-.3 .1-.3 0-.4-.2-.1 0-.3-.3-.1-.2-.1-.1-.1-.2 .2-.4 0-.1 .2-.3 .1-.2 .2-.2 .1 0zM1023.7 70.5l.3 .1 .4 .2 .2 .3 .1 .1 .1-.1 .4-.2 0-.1 .4-.2 .1-.1 0 1.9-.2 0-.3-.2-.2-.1-.3-.1-.1 .1-.4 .2 0 .1-.5 .1-.4-.1-.1-.1-.5-.2-1.5 0-.5-.2-.1-.1-.1-.2 .1-.2 .1-.1 .4-.2 .1 0 .5-.1 .5 .1 .5-.1 .3-.2 .4-.2zM807.2 70.8l0 .6 .1 .2 0 .2-.1 .3 0 .2-.5-.2-.1 0-.4-.2-.1-.3 .1-.2 .3-.3 .2-.1zM872.7 70.7l.5 .1 .4 0 .1 .1 .1-.1 .4-.1 .2 .1 .3 .2 .2 .1 .2 .3 .1 .1 .4-.1 .1-.1 1-.2 .1 0 .4-.1 .4-.2 .3 0 .3 .1 .5 .1 .3-.2 .2 0 .5-.1 0 .4 .1 .3 0 .4-.1 .3 0 .3-.1 0-.4-.1-.5-.1-1 0-.4-.1-.1 0-1-.2-.5 0-.1-.1-.4-.1-.1 .1-.4 .3-.5 .2-.5-.1-.5 .1-.5 0-.4-.2-.3-.3-.1-.2 .1-.2 .1-.3 .1-.1 .3-.2zM735.2 70.9l0 1.3-.4-.4-.1-.2 .2-.2 .1-.3zM727.2 71.3l.5 0 .3 .1 .3 0 .4-.2 .3 .2 .2 .1 .5-.2 .5-.1 .5 .1 .3 .3-.3 .3-.5 0-.4-.1-.1 0-.5-.1-.2 .1-.3 .1-.4-.1-.3 0-.3 .1-.3-.1-.2 0-.2-.2 .2-.2zM804.7 71.2l.2 .2 .1 .2-.1 .2-.2 .1-.2-.1-.1-.2 .2-.2zM942.2 71.3l.1 .1 .3 .2-.4 .2 0 .1 0-.1-.5-.1-.1-.1 .1-.1 .2-.1zM943.7 71.2l.5 .1 0 .1 .2 .2-.2 .3-.5 0-.3-.1-.4-.2 .4-.2zM797.7 71.4l.4 .2-.4 .1-.1-.1z"/>
<path fill-rule="evenodd" fill="#e5f1f7" d="M663.7 65.6l40.8 0 0 .2-.1 .3-.2 .2 0 .1-.2 .2-.3 .2-.5 .1-.4 .2-.4 0-.2-.1-.3 .1-.2 0-.5 .1-1.5 0-.5 .1-1 0-.5-.1-.4-.1-.1 0-.5-.1-.2 .1-.3 .1-.5 .1-.2 .1-5.3 0-.5 .1-.5 0-.5-.1-.5 .1-.5-.1-2.1 0-.4-.1-.5-.1-.5 .1-.5 0 0 .1-.5 0-.5 .1-.5 0-.5-.1-9.4 0-.1-.1-1.5 0-.4 .1-1.9 0-.2-.1-.2 .1-.4 0-.4-.1-.5 0-.5-.1-.5 .1-.5 0-.5-.1-.5 0-.4-.1-.3-.3-.1-.2 0-.2-.1-.3 0-.5zM705.2 65.6l1.7 0 0 .2-.1 .3-.1 .2-.1 .1-.4 .1 0 .1-.4 .2-.1 .1-.1-.1-.4-.1-.3-.3-.1-.3 0-.5zM707.7 65.6l.7 0 0 .2-.1 .3 0 .3-.1 .2-.4-.2-.1-.1-.1-.2-.1-.3 0-.2zM710.7 65.6l3.7 0 0 .2-.2 .6 0 .2-.2 .2-.3 .1-.3 .2-.2 .1-.3-.1-.2-.1-.5-.1-.5 .1-.5-.1-.5 0-.2-.1-.2-.4 0-.8zM717.2 65.6l.1 0 0 .2-.1 .3 0 .2 0-.2-.1-.3 0-.2zM736.7 65.6l38.4 0 0 .5-.1 .3-.1 .2-.2 .2 0 .1-.3 .2-.2 .1-.5 .1-.3 .1-.2 0-1-.2-.5 .1-.3 .1-1 0-.2-.1-.5-.2-.2 0-.3-.1-.1 .1-.4 .1-.5 .1-.5 0-.5-.1-.5 .1-.3 .1-4 0-.2-.1-.3 .1-3.7 0-.5 .1-1 0-.5-.1-1 0-.5 .1-2.5 0-.5-.1-3.5 0 0-.1 0 .1-2 0 0-.1-1.5 0-.2 .1-.9 0-.4-.1-.5 0-.5-.1-.5 0-.5 .1-.5 0-.4 .1-.1 0-.5-.2-.5-.1-.3 0-.2-.1-1 0-.5 .1-.5-.2-.3-.1-.1-.2 0-.2-.1-.3 0-.5zM776.2 65.6l3 0 0 .5-.1 .3-.2 .4-.3 .3-.4 .1-.5 .1-.5-.2-.5-.5-.4-.2-.1-.2 0-.1-.1-.3 0-.2zM781.2 65.6l5.2 0 0 .2-.1 .3 0 .3-.1 .2-.3 .2-.2 .1-.5 0-.5 .1-.5 0-.3-.2-.2-.1-.1 .1-.4 .2-.1 .1-.5 0-.4-.1-.5-.1-.5 0-.3-.1-.1-.2 0-.2-.1-.3 0-.5zM808.2 65.6l38.5 0 0 .8-.2 .4-.2 .3-.9 0-.2-.1-.5-.1-.5 .2-.5 .1-1 0-.5-.1-1 0-.5 .2-.4 .1-.9 0-.2-.1-.5 0-.2 .1-7.1 0-.2-.1-.5 0-.2 .1-2.8 0-.5 .1-1 0-.5 .1-.5-.1-2 0-.5-.1-.6 0-.4-.1-1 0-.1 .1-1.2 0-.2-.1-1-.2-.5 0-1 .2-.3 .1-2 0-.2-.1-.5-.1-.5 0-.5-.1-.5 0-.5 .1-.5 0-.5 .2-.1 0-.4-.1-1-.2-.1 0-.4-.2 0-.1-.4-.2-.1-.2 0-.1-.1-.2 0-.5zM848.2 65.6l.2 0 0 .5-.1 .3-.2 0-.1-.3 0-.5zM849.7 65.6l1 0 0 .2-.2 .6-.3 .2-.5 .2-.2-.2-.1-.2-.1-.3 0-.5zM853.7 65.6l3.4 0 0 .5-.1 .3-.1 .2-.2 .2-.5 0-.3-.2-.2-.4-.2 .4-.3 .2-.5 .1-1 0 0-.1-.2-.2 0-.2-.1-.3 0-.5zM858.7 65.6l2 0 0 .8-.1 .2-.3 .2-.1 .1-.3-.1-.2-.1-.3-.1-.2-.2-.5 .2-.2-.2 0-.3-.1-.3 0-.2zM880.2 65.6l43 0 0 .8-.1 .2-.4 .4-1 .2-.5 0-.5 .1-.5-.1-.4-.1-.2 0-.4 .1-.5 .1-.5 0-.5-.2-.4 0-.1-.1-.5 .1-.5 0-1 .2-.5 0-.3 .1-3 0-.2-.1-.5 0-.5-.1-.5 0-.5-.1-.5 .1-.4 .2-.6 0-.5-.2-.5 .2-3 0-.5-.1-.1 .1-.9 0-.5 .1-.5 0-.5-.1-1.5 0-.5 .1-2.5 0-.5-.1-3.5 0-.5 .1-1 0-.5-.1-2.6 0-.4-.1-1 0-.5-.1-1.5 0-.5 .1-1-.2-.5 0-1-.2-.2-.1-.3-.1-.5 0-.1-.1 0-.2-.1-.3 0-.5zM924.2 65.6l3.7 0 0 1-.1 .2-.1 .1-.1 .2-.4 .2-.5-.1-.4-.1-.6 0-.5 .1-.5 0-.4-.4-.1-.2-.2-.2 0-.3-.1-.3 0-.2zM929.2 65.6l2.9 0 0 .8-.1 .2-.3 .3-.5 .1-.4-.2-.1 0-.3-.2-.2-.2-.5 .1-.5-.1-.1-.3 0-.5zM952.7 65.6l41 0 0 .5-.1 .3-.1 .2-.3 .2 0 .1-.5 .1-.3 .1-.2 0-.5 .1-.5 0-.5-.1-.5 0-1.5 .3-.5 0-.5-.2-.5 .1-.5 0-.5-.1-.5 .1-.5 0-.2 .1-6.8 0-.5 .1-.5-.1-1.5 0-.5 .1-.5 0-.5-.1-.5 .1-.5-.1-.5 .1-.5-.1-1.5 0-.5 .1-3 0-.5-.1-2.2 0-.3-.1-1 0-.4 .1-.2 0-.4-.1-1.5 0-.5-.1-1.5 0-.5-.1-1 .2-1 0-1-.2-.5-.2-.5 .1-.5-.1-.1-.1-.4-.1-.5 0-.1-.1-.1-.2 0-.8zM995.7 65.6l.8 0 0 .8-.1 .2-.2 .2 0 .1-.4-.1-.1 0-.2-.2 0-.2-.1-.3 0-.5zM999.2 65.6l3 0 0 .5-.2 .3-.3 .3-.3 .1-.2 .1-.5 .1-.5-.1-.5 0-.2-.1-.3-.1-.1-.1-.1-.2-.1-.3 0-.5zM1002.7 65.6l1.8 0 0 .2-.1 .3 0 .5-.2 .1-.5 0-.5 .1-.5-.2 0-.1-.3-.1-.2-.6 0-.2z"/>
<path fill-rule="evenodd" fill="#cae1ee" d="M680.2 65.6l2.7 0 0 .5-.1 .3-.2 .2-.4 .1-.5 .1-.3 0-.2 .1-.5 0-.1-.1-.4-.1-.2-.1-.2-.2 0-.3-.1-.3 0-.2zM687.2 65.6l5.2 0 0 .2-.1 .3-.3 .3-.3 .1-.5 .1-.5-.1-.2 .1-.6 .2-.2 .1-.5 .1-.4-.2-.1 0-.5-.2-.1 0-.4-.1-.5-.1 0-.1-.1-.2-.1-.3 0-.2zM749.7 65.6l9.4 0 0 .2-.1 .3-.2 .3-.1 0-.5 .2-.1 0-.4 .1-.5 .1-.5-.1-.4-.1-.1-.1-.3-.1-.2-.3-.2 .3-.3 .1-.1 .1-.4 .2-.1 0-.4 .1-.5 0-.5-.1-.5 0-2-.4-1.1 0-.2-.3-.1-.3 0-.2zM762.7 65.6l2.7 0 0 .5-.2 .2-.5-.1-.5 .1-.2 .1-1.4 0-.2-.3-.1-.3 0-.2zM772.7 65.6l.2 0 0 .2-.1 .3-.1 .1-.1-.1 0-.5zM823.2 65.6l4.9 0 0 .2-.1 .3 0 .3-.3 .3-.4 .1-.1 .1-.5 0-.5 .1-1 0-.5-.1-.5 0-.1-.1-.4 0-.4-.2-.1-.1-.2-.1-.1-.3 0-.5zM834.2 65.6l.6 0 0 .2-.1 .3 0 .1-.2 .2-.3 .1-.2-.1-.2-.6 0-.2zM890.7 65.6l2.2 0-.1 .2-.1 .3-.2 .3-.3 .1-.2 .1-.3 .1-.5 0-.2-.1-.3-.2-.1 0-.1-.3 0-.3-.1-.2zM895.2 65.6l7.1 0 0 .5-.1 .1-.1 .2-.3 .2-.8 0-.3-.1-.5 .1-.1 0-.4 .1-1 .2-1 0 0-.1-.7 0-.3 .1-.5 0-.2-.1-.3-.1-.1-.1-.3-.2-.1-.2-.1-.1-.1-.3 0-.2zM966.7 65.6l6.5 0 0 .2-.1 .3-.3 .3-.1 0-.3 .2-.2 .1-1.5 0-.5-.1-.5 0-.5 .2-.3 0-.2 .1 0-.1-.5-.1-.1-.1-.4-.2 0-.1-.1 .1-.7 0-.2-.1-.2-.2 0-.3-.1-.2zM973.7 65.6l2.3 0 0 .2-.2 .3-.1 .1-.4 .2-.1 0-.5 .1-.5-.1-.1 0-.4-.3-.1 0-.3-.3-.1-.2zM977.2 65.6l3.5 0 0 .5-.1 .3-.2 .2-.2 .1-.4 .1-.1 .1-.1-.1-.8-.2-.1-.1-.5 0-.5 .1-.5-.2-.1 0-.2-.3 0-.5z"/>
<path fill="#e5f1f7" d="M663.2 78.3l1.4 .2 2 .2 2.3 .2 2.3-.1 2.3-.6 1.1-.5 2.4-1 1.2-.4 2.7-.7 1.5-.2 3.2-.2 5.1 0 1.5 .1 1.6 .1 2.6 .2 2.3 .3 2.3 .4 2.4 .5 2.7 .6 2.8 .6 2.9 .6 2.9 .7 2.8 .6 5.8 1.2 2.6 .6 2.6 .7 2.5 .9 2.2 .8 1.6 .5 .1-.6 .2-.5 .3-.9 .3-.8 .6-1.4 .5-.6 .4-.5 .9-.8 1-.4 1.3-.4 1.6-.4 2-.4 2.3-.3 2.6-.3 2.7-.2 1.6-.1 3.2 0 1.7-.1 1.6 .1 3.3 0 1.5 .1 2.6 .1 2.2 .2 2.3 .3 2.5 .4 1.6 .2 1.5 .3 1.6 .3 3.4 .6 1.6 .4 3.2 .6 3 .6 2.9 .6 2.8 .6 2.6 .6 2.5 1 2.6 1 2.2 1 1.5 .9 .1-.8 .1-.7 .1-.9 .2-.8 .2-.9 .2-.7 .4-.6 .3-.7 1-.8 1.3-.6 1.6-.5 1.7-.5 2.1-.4 2.3-.4 2.6-.2 2.7-.2 1.6-.1 8.4 0 2.8 .1 1.9 .1 1.3 .1 1.4 .2 2.2 .3 1.7 .3 1.7 .2 2.1 .3 4.4 .6 2.2 .4 2 .3 2 .4 1.8 .3 1.8 .4 1.7 .3 1.8 .4 1.5 .4 1.6 .4 2.6 .7 2.1 .9 1.6 1 1.1 .8 .9 .9 .3-2.1 .1-.8 .2-.8 .3-.7 .3-.6 .4-.6 1-.8 1.2-.8 1.5-.7 1.9-.6 2.4-.6 2.9-.6 3-.4 3-.3 2.7-.2 5.6 .2 2.9 .2 1.6 .1 1.5 .2 1.6 .1 1.6 .2 1.7 .2 3.2 .4 1.7 .3 3.2 .4 4.8 .9 1.6 .2 1.6 .3 1.6 .4 3.4 .6 3.6 .8 1.6 .4 1.7 .4 2.6 .7 1.8 .9 1.3 1 .8 .8 .6 .9 .1-.7 .1-.8 .2-.9 .2-.8 .2-.9 .3-.7 .4-.6 .4-.7 1.2-.8 1.5-.7 1.7-.6 2.1-.5 2.4-.6 2.9-.6 1.5-.3 1.5-.2 2.9-.3 2.8 0 2.6 .2 2.8 .2 1.5 .2 1.6 .1 1.7 .2 1.7 .1 3.6 .4 1.9 .2 1.8 .2 1.9 .2 1.8 .2 1.8 .3 1.8 .2 1.8 .3 1.8 .2 1.8 .3 1.9 .3 3.6 .6 2 .3 2.1 .4 2.1 .3 2.2 .4 2 .3 1.9 .3 2.7 .4 0 23.4-1.1 .4-1.5 .5-1.9 .7-2.5 .6-1.5 .4-1.5 .3-1.8 .4-1.8 .3-2 .4-1.9 .3-2 .3-9.5 1-2 .1-6.5 0-5.4-.4-2-.2-2-.3-2-.2-6-.8-2.5-.3-2.6-.4-2.2-.3-2.1-.3-2-.3-1.9-.3-1.6-.4-1.5-.3-2.4-.8-1.2-1-.2-1.2 .2-1.1 .1-.7 0 1.7-.1 1-.4 .9-.5 .4-.7 .3-1.1 .2-1.7 .4-2.5 .6-1.5 .4-1.6 .4-1.7 .3-1.8 .4-3.8 .6-1.9 .2-2 .3-4.2 .4-2.3 .2-2.3 .1-5 0-5.8-.2-4.4-.4-2.2-.1-2.1-.3-4.2-.4-2.7-.3-2.7-.4-2-.3-2.1-.4-1.6-.4-1.7-.3-2.6-.9-2-.8-1.2-1.1-.4-1.2 0-1.8 0 1.9-.1 1.2-.4 1-.8 .6-1 .4-1.4 .3-2 .5-2.6 .6-1.5 .4-1.6 .4-1.8 .3-1.7 .3-3.6 .6-1.9 .2-1.8 .3-3.8 .4-2.1 .1-2 .2-2.3 0-2.2 .1-2.6-.1-2.5-.1-5.6-.4-2.8-.3-2.8-.2-2.4-.3-2.5-.3-4.4-.6-2.1-.4-2-.3-1.8-.4-1.7-.5-2.5-.9-1.2-1.4-.1-1.5 .5-2.5 0 1 .1 1.5-.2 1.6-.7 1.3-1.5 .8-2.2 .6-2.3 .6-2 .7-1.5 .9-1.2 1.1-1.4 1-2.4 .8-1.8 .2-1.8 .3-2.3 .1-2.3 .2-2.4 .1-2.5 .1-2.3 0-2.3 .1-7.6 0-2-.1-1.9 0-2.3-.1-2.2-.1-2.9-.2-2.9-.1-2.2-.2-2.2-.1-2.2-.2-2.1-.1-2.1-.2-2.1-.1-4.6-.2-2.4 0-.8 .1-.3 .4-.6 .5-1 .9-1 1.1-1.2 1.2-1.6 1-2.4 .8-1.5 .3-1.6 .3-2.9 .6-2 .5-.9 .7-.2 .6 .2 .6 .1 .4 .4 0-1.8 0-1.8 .1-5 .2-2.9 .1-3 .1-4.3 0-2.1-.1-5.2-.2-2.6-.2-2.3-.1-2.2-.2-2.3-.1-2.2-.2-8.4-.6-5.8-.4 0-2.6 1.5-.1 2.1-.2 2.2-.2 1.4-.1 0-.5-.1-.3-.7-.2-1.3-.1-1.9-.1-3.2 0 0-37z"/>
<path fill="#e5f1f7" d="M1025.8 212.2l-5 .2-2.3 .1-2.4 .1-2.3 .1-5.6 .2-2.7 .1-2.9 .1-3 .1-2.9 .1-2.5 .1-2.5 0-2.4 .1-2.5 0-2.9 .1-2.8 0-2.8 .1-2.9 0-2.7 .1-2.6 0-2.7 .1-2.7 0-5.4 .2-2.8 0-4.2 .2-1.7 .2-1.1 .2-2.6 .2-2.2 .1-2.1 .1-2.6 .1-2.5 .2-2 0-2.1 .1-2 .1-2.3 0-2.4 .1-4.6 0-2.3 .1-18.1 0-2.7 .1-7.9 0-2.6 .1-2.7 0-2 .2-1.9 .2-1.3 .4-1.1 .4-1.7 .2-1.6 .3-2.2 .1-2.2 .2-2.2 .1-2.7 .2-2.8 .1-2.8 .2-3 .1-3 .2-2.9 .1-8.4 .3-2.6-.1-5.2 0-2.5-.2-2.6-.1-5-.2-4.8-.2-6.6 0-5.4 .4-2.4 .3-2.3 .4-2.2 .4-4.6 .6-2.4 .3-2.5 .1-2.5 .2-5.2 .2-2.6 0-2.7 .1-2.7-.1-2.7 0-2.8-.2-2.9-.2-2-.3-4-.4-2.9-.3-2.9-.4-2.5-.3-2.5-.4-4-.6-1.6-.4-1.7-.4-2.9-.6-2.6-.4-2.4 .1-3.8 .8-1.9 .3-2 .1-2.1 0-2-.1-1.9-.4-1.5-.7-1.1-.9-1.5-1.2-2.3-1.2-1.9-.6-1.8-.6-2.4-.7-2.3-.7-2.4-.7-2.5-.8-2.2-.7-2.2-.8-2-.8-2.1-.8-1.9-.9-2-.8-1.7-1-1.8-.9-3-2-2.3-2.6-1.7-2.8-1.3-2.8-1.1-2.3-.8-1.6-.4-1.3-.3-.9-.1-.6 .8-2.5 1.2-3.6 1.2-3.5 .8-2.5-1.7-1.5-2.5-1.8-2.6-2.1-2.1-1.8-1.2-1.7-.9-1.5-.6-1.6-.5-1.7-.3-1.5-.2-1.4 .1-1.6 .4-1.9 1-2.4 1.4-1.8 2.5-3-2.1-.8-8-3.2 0 218.7 362.6 0 0-141.2z"/>
<path fill="#cae1ee" d="M665.6 81.5l.9-.1 1.3-.2 1.6-.2 1.8-.3 2.1-.5 2.3-.6 2.6-.6 2.7-.5 1.5-.1 1.6-.2 1.6 0 1.7-.1 1.7 0 1.7-.1 3.1 0 2.6 .1 2.3 .2 2.3 .3 2.4 .4 2.7 .6 2.8 .7 5.8 1.4 1.5 .3 1.5 .4 1.5 .3 1.6 .4 2.9 .7 2.2 .8 1.5 1.1 .9 1.2 .5 1.3 .3 1.4 .1 1.6 0 .9-.1 .8-.2 .9-.6 2.4-.4 1.5-1.2 2.8-.8 1.2-.8 1-1 .9-1.1 .8-1.1 .9-1.1 .8-1 .9-1.4 .7-2.1 .7-3.4 .6-2 .3-2.1 .3-2.2 .2-2.3 .2-2 0-2.1 .1-1.9-.1-2 0-3.8-.4-1.7-.3-1.8-.3-1.7-.3-1.6-.3-2.8-.6-2.6-.7-2.2-.8-2-1-1.8-1.3-1.5-1.4-1.3-1.6-.5-1-.6-1.1-.8-2.6-.3-1.5-.3-1.6-.2-1.5-.2-1.6-.3-1.3-.3-1.4-.6-2.4-.4-.8-.6-1.4-.3-.6z"/>
<path fill="#cae1ee" d="M738.8 82.2l1-.7 1.4-.6 1.8-.5 2.2-.4 2.7-.3 1.6 0 1.5-.1 1.8 0 1.7-.1 9.5 0 2.1-.1 2.1 .1 2.1 0 3.8 .2 1.8 .3 1.8 .2 3.4 .6 1.5 .4 1.6 .3 2.8 .7 2.5 .8 2.2 .7 1.9 .8 1.4 .8 1.1 1 .6 1 .3 .9 .1 1-.1 .9-.4 .9-.6 .8-.6 .9-1.4 1.8-.9 .9-1.3 .8-1.8 .9-2.3 .7-2.2 .8-1.7 .8-.5 .8 .2 .9 0 .8-1.3 .7-1.5 .3-1.6 .3-4.2 .6-2.3 .2-2.2 .2-2.2 .1-2.1 .1-2-.2-2.1-.1-2-.3-2.1-.2-1.9-.3-1.8-.3-2.6-.4 .3-.5 .3-.6 .1-.8-.7-.8-1.8-1-2.8-1-2.8-1.2-2.2-1.3-1.4-1.6-1-1.8-.3-.9-.4-1-.4-1.8-.2-1-.2-.9 0-.9-.1-.9 .1-.6 .1-.7z"/>
<path fill="#cae1ee" d="M813.5 82.4l.4-.6 .4-.4 .6-.4 1-.3 1.5-.3 1.9-.4 2.2-.3 2.5-.2 1.5-.1 1.5 0 1.8-.1 11.6 0 1.5 .1 1.7 .1 2.2 .2 2.5 .3 2.6 .3 2.3 .4 2.2 .5 2.2 .7 1.9 .7 1.8 .8 1.5 .8 1.3 .9 2 2 .8 .4 .6 .1 .3 .1-.1 .6-.4 1.2-.8 1.6-1.2 1.8-1.6 1.6-2.2 1.3-2.7 1.3-2.8 1.2-2.8 1.1-2.4 1-2.3 .8-2.4 .7-2.5 .2-2.7-.2-2.9-.7-2.9-.8-1.6-.5-1.5-.5-1.6-.5-6.8-2.4-1.6-.7-2.8-1.3-2.3-1.5-1.8-1.5-1.4-1.6-1-1.6-.1-.9-.2-.9 .2-1.8 .2-.7 .3-.6z"/>
<path fill="#cae1ee" d="M885.4 84.6l.6-.8 .9-.8 1.3-.9 2-.6 3-.6 1.9-.3 2-.3 2-.2 2-.3 1.8-.1 1.8-.2 3-.1 2.6-.1 2.7 .2 2.9 .2 1.8 .3 1.8 .2 1.9 .3 2 .3 1.9 .4 1.9 .3 1.6 .4 1.6 .3 2.6 .8 2.1 .7 1.8 .8 1.6 .8 1.2 1.2 .9 1.2 .6 1.1 .5 .8 0-1.3-.5 1.1-.6 1.6-.5 .9-.4 .9-1.2 1.7-1.6 1.4-1.9 1.5-2.1 1.3-2.5 1.2-2.9 .8-3.2 .8-3.4 .4-1.7 .1-1.6 .1-1.7-.1-1.6-.1-1.6-.2-1.6-.3-1.6-.4-1.6-.3-3.2-.8-6.8-2-1.7-.6-1.6-.6-2.8-1.3-1.1-.9-1.1-.8-.9-1-.9-.9-.7-1-.7-.9-1-1.6-.6-1.2-.1-.9 .2-.8z"/>
<path fill="#cae1ee" d="M956.1 84.6l1-.8 1.3-1 1.8-.9 2.4-.7 1.5-.3 1.6-.2 1.9-.3 1.9-.2 4-.4 1.8-.2 1.7-.1 3-.1 2.7 0 2.6 .1 3 .2 1.8 .3 1.7 .2 2 .3 1.9 .3 1.9 .4 1.9 .3 1.6 .4 1.7 .3 2.5 .8 2.2 .7 1.8 .8 1.5 .8 1.2 1.2 .9 1.2 .7 1.1 .4 .8-.1-.3-.3-.4-.2-.4-.2-.2-.9 1.5-.6 1.1-.7 1.1-.8 1.1-.8 1.2-.9 1-.9 .9-2.1 1.6-2.5 1.3-2.5 1.2-2.6 .9-2.3 .8-2.3 .6-2.4 .3-2.6 .1-3-.2-1.6-.2-1.6-.3-1.7-.3-1.7-.4-1.6-.4-1.7-.4-1.7-.6-1.6-.5-1.8-.7-1.7-.6-1.7-.8-1.6-.7-2.7-1.5-1-.9-1.1-.9-.7-.9-.8-1-1.2-1.8-.9-1.6-.7-1.2-.4-.8-.1-.9z"/>
<path fill="#cae1ee" d="M1025.8 224.6l-5 .2-7.2 .3-14 .5-2.9 .1-2.3 0-2.3 .1-9.7 0-2.6 .1-9.9 0-2.4 .1-2.6 0-2.6 .1-2.5 .1-2.4 .2-2.3 .2-2.7 .6-2.2 .6-1.6 .2-1.7 .3-4.6 .2-2.6 .1-2.5 0-3 .1-2.9 0-2.3 .1-2.3 0-2.3 .1-3 .1-5.8 .2-10.4 .4-10 .4-5.2 .4-2.6 .1-2.1 .3-2 .3-1.8 .7-1.7 .7-3.6 .6-2.4 .2-2.3 .2-2.4 .1-2.2 .2-2.3 .1-2.3 .2-2.2 .1-2.3 .1-2.2 .1-2.3 .1-2.2 .2-2.4 .1-2.3 .1-2.4 .1-4.2 .2-2.6 .1-2 .1-2.8 .1-1.8 .1-1.9 .1-2 0-2 .1-2.1 .2-2.1 .1-2.1 .3-2.1 .2-1.9 .5-1.8 .5-1.9 .6-1.8 .7-2 .6-1.9 .7-2.4 .4-2.3 .5-5.8 .6-2.2 0-2.1 .1-2.2 .1-2.3 .1-2.2 0-2.3 .1-2.2 0-2.2 .1-2.3 .1-2.2 0-4.6 .2-2.4 0-2.3 .1-2.4 0-2.2 .1-2.2 0-2.2 .1-2.6 .1-2.6 .2-1.6 .1-1.7 .1-1.9 .3-1.3 .4-1.5 .7-1.8 1.1-3.2 3.2-1.5 1.3-1 1-.9 .8-1 .7-1.9 .7-2.8 .7-3.4 .6-2 .3-1.9 .3-2.2 .3-2.1 .2-2.5 .2-2.4 .2-8.1 .6-2.8 .1-2.6 .3-2.5 .2-2.5 .4-2.5 .3-2.4 .4-2.5 .4-4.4 .8-1.7 .5-1.7 .4-2.2 1-1.1 .9-.7 1-.9 1.2-1 1.1-1 1.3-2 2.8-1.2 1.9-1.2 2.1-1.2 1.9-.8 1.4 0 83.6 362.6 0 0-129.4z"/>
<path fill="#a7d0e4" d="M680.9 81.2l2.2 0 2.2-.1 2.2 0 2.1-.1 2.1 0 2.3-.1 6.9 0 2.5 .1 2.7 .3 1.5 .6 1 .8 1.2 .7 1.8 .8 1.8 .9 1.7 1.2 1.2 .8 .6 .2 .2-.2 0-.1 0 .4 .1 1.2 .1 .9 .1 .8-.1 .9-.1 1-.9 1.4-2.2 .9-1.5 .3-1.6 .3-1.5 .2-1.5 .3-2.2 .6-.9 1-.1 1 .1 1 .1 .7-4 0-.2-.7-.2-.9-.3-1-.1-.6-1.6 0-.1 .6-.2 1.8 0 .6-.8-.1-1.1-.1-1.1 0-.7-.1 .1-.5 .2-.8-.2-.9-.9-1-2.3-1-1.6-.5-3.2-1.2-1.6-.5-2.6-1.2-1.7-1-1.2-1-.7-1-.4-1.4 .2-2 .4-.9 .3-.9 .5-.7 .4-.8z"/>
<path fill="#a7d0e4" d="M748.4 87.8l1.2-.2 1.7-.4 1.9-.4 1.7-.3 1.4-.2 1.5-.1 1.3-.1 .9 0 .1-1.3 .1-.7 .1-.6 .3-2.1 .2 .7 .2 .6 .1 .6 .2 .6 .1 .7 .2 1 2.2 .1 1.6 .1 1.7 0 3.2 .2 2.2 .1 .2-.5 .2-.6 .1-.5 .2-.3 .1 .3 .1 .5 .3 .8 .4 .5 .9 .4 1.1 .3 1.1 .2 1 .2 .7 .2 .7 .1 .6 .1 .4 0-.6 .3-.8 .3-1.8 .8-.9 .3-2 .8-1.3 .2-1.6 0-1.7-.1-3.8-.4-2-.1-2.2-.1-2-.1-1.8-.1-1.5-.1-1.1-.2-1.1-.1-1.2-.2-1.3-.3-1.4-.3-1.2-.3z"/>
<path fill="#a7d0e4" d="M825.6 87.8l1.3-.2 1.9-.2 1.9-.5 1.3-.8 .6-1.4 .1-.6 0-2.7 .2 .7 .2 1.2 .2 .6 .1 .7 .2 1 2.1-.1 2.9-.1 3-.1 2-.1 .3-.5 .3-.6 .4-.7 .3-.4 .1 .5 .1 .7 .3 .7 .5 .7 .8 .5 1.1 .4 1.2 .2 1 .2 1 .3 .9 .3 .8 .2 .5 .1-.8 .4-1.3 .5-1.4 .5-1.3 .4-1.1 .3-1.1 .2-1.1 .1-3.4 0-4.4-.4-2.1-.2-1.8-.2-1.7-.2-1.6-.3-1.3-.2-1.1-.2-.9-.3-.7-.2z"/>
<path fill="#a7d0e4" d="M897.5 86.5l.1-.6 .3-.5 .5-.5 .7-.3 1.1-.1 1.4 0 1.3 .1 1 0 .3-.7 .5-1.1 .8-1.6 2.4 0 .3 .4 .5 .6 .5 .7 .3 .5 .3-.5 .5-.7 .5-.6 .3-.4 1.1 0 .7 .1 .6 .2 .5 .4 .5 .8 .4 .8 .2 .5 .4-.6 .4-.9 .5-.8 .4-.5 1.5 0 .5 .3 .5 .5 .4 .9 .5 1 .6 .7 .7 .6 .9 .6 .9 .4 .7 .5 .5 .4 .5 .3 .6 .4-.5 .4-.8 .4-.9 .6-1 .4-1.1 .4-1.2 .4-1.3 .3-1.2 .2-1.2 .1-1.1-.1-1.1-.2-1.5-.2-1.8-.3-2.1-.3-2.1-.4-2-.3-1.9-.3-1.8-.2-1.6-.1-1.1-.3-.7-.4-.2-.4 0-.5z"/>
<path fill="#a7d0e4" d="M967.4 87.6l.5-.1 .7 0 .7-.2 .5-.6 .3-1.3 .2-.6 .1-.7 0-.5 .1-.6 .1-.8 .3 .5 1 1.4 .3 .5 .9-.2 1.4-.2 1.4-.4 1.1-.4 .8-.5 .5-.8 .4-.5 .8-.4 1.1-.1 1.4 0 1.4 .1 .9 0 .3 .4 .5 .6 .5 .7 .3 .5 .5-.4 1.4-1.2 .5-.3 .3-.1 1.1 0 .5 .3 .5 .6 .3 1 .5 1.1 .8 .9 1.3 .9 1.7 .7 1.6 .6 1 .3-.5 .4-.7 .4-.9 .5-1.1 .5-1.2 .5-1.4 .5-1.5 .5-1.5 .3-1.3 0-1.4-.1-1.3-.1-1.6-.3-1.9-.2-2-.4-2.2-.3-2-.4-2-.3-2-.4-1.9-.3-1.3-.3-.7-.3-.2-.2 .1-.1z"/>
<path fill="#a7d0e4" d="M1025.8 235.8l-5 .2-7.2 .3-5.6 .2-2.8 .2-2.8 0-2.8 .1-2.9 .1-2.2 .1-2.3 .1-2.3 0-2.3 .1-5 0-2.5 .1-2.5 0-2.4 .1-2.4 0-2.4 .1-2.5 0-2.7 .2-5.4 .2-5.8 .6-4.2 .8-2 .4-2 .3-2.7 .3-2.6 .3-2.5 .2-2.4 .1-2.5 .1-2.8 .1-2.9 .1-2.8 0-5.8 .2-2.8 .1-2.6 .1-2.5 .1-2.6 .1-2.2 .1-2.2 .2-2.2 .1-2 .2-2 .1-2.1 .2-2.6 .3-2.7 .3-2.2 .3-2.3 .3-2.8 .6-1.4 .7-1.8 .7-1.8 .4-1.8 .3-2.4 .2-4.6 .4-2.2 .1-2.3 .2-2.2 .1-2.3 .2-2.3 .1-2.2 .1-2.3 .2-2.3 .1-2.4 .1-2.3 .2-2.4 .1-4.2 .2-2.6 0-2 .1-2.8 .2-1.8 .1-1.9 .2-4 .4-2.1 .2-4.2 .6-2.1 .4-1.9 .5-1.8 .5-1.9 .7-1.8 .6-2 .7-1.9 .6-2.4 .6-2.3 .6-3 .5-2.9 .5-2.3 .3-2.2 .3-6.9 .9-2.3 .2-2 .3-4.2 .6-2.7 .3-2.7 .4-2.5 .4-2.5 .3-2.3 .4-2.3 .3-2.1 .4-2.1 .3-2 .5-1.9 .4-1.7 .4-1.8 .4-3 .8-2.5 .8-1.7 .5-1.1 .3-.9 .5-1.1 .7-1.2 1.2-1 1.4-1.6 1.7-2.7 1.7-4.4 1.8-5.6 2-2.9 1-3 1-2.5 1-2.5 .9-3.8 1.6-1.6 .8-1.6 .7-2.9 1.6-2.9 1.7-1.5 1-4.5 3.3-2.7 2.3-2.6 2.3-2.3 2.1-2 2.1-1.9 2.2-1.8 2.4-1.8 2.6-1.6 2.8-1.6 2.9-1.5 3-1.3 3.1-1.2 3.2-1.2 3.3-1.1 3.2-1.1 3.5-1 3.6-.9 3.2-.6 2.3 0 18.8 362.6 0 0-118.7z"/>
<path fill="#80bad8" d="M1025.8 246l-2.5 0-2.6 .1-2.5 0-2.7 .1-2.8 .1-2.7 0-2.8 .1-5.8 .2-3 .1-2.9 0-10 .4-7.8 .3-2.2 .1-4.6 .2-3 .3-3 .2-2.5 .2-2.6 .3-1.8 .3-1.8 .4-2.3 .9-2.5 .9-2.3 .3-2.2 .4-2.5 .2-2.5 .1-2.6 .2-2.3 .1-9.6 .4-5 .2-2.4 0-2.8 .2-2.9 .1-2.8 .1-2.2 .1-2.3 .1-2.2 .2-3 .1-2.9 .2-5.2 .4-2.4 .2-2.3 .3-3.4 .8-2.4 1-2.7 1.1-2.2 .4-2.1 .4-7.2 .6-3 .2-6 .2-3 .2-3 .1-3 .2-2.3 .1-2.4 .2-2.3 .1-2.2 .3-2.1 .3-2.7 .7-2.1 .6-2.5 .7-1.5 .3-4.8 .9-1.7 .3-4.8 1.2-2.8 1.1-2.5 1.2-1.5 .6-1.5 .7-4.6 1.2-2.4 .5-2.3 .4-2.4 .4-2.9 .5-2.9 .4-3 .5-2.9 .4-3 .5-3 .4-2.4 .5-5 .8-2.6 .7-2.6 .6-2 .6-2 .7-3.4 1.2-6.8 2.8-1.5 .7-1.6 .8-3 1.6-1.7 1-1.7 .9-3.8 2.4-2.1 1.3-2 1.3-4.2 2.8-2 1.3-2 1.4-1.9 1.3-1.9 1.2-1.8 1.3-1.9 1.3-3.6 2.4-1.7 1.1-1.6 1-1.6 .8-1.5 .9-2.9 1.2-2.7 1.3-2.6 1.4-2.6 1.9-2.4 1.9-2.4 2.1-2.2 2.2-2.2 2.3-2.1 2.3-2 2.5-1.8 2.5-1.6 2.7-1.5 2.7-1.3 2.8-1.2 2.8-1 2.7-.9 2.7-.8 2.6-.5 2.4-.4 2.5-.1 2.4 0 3.5 349 0 0-109.1z"/>
<path fill="#559ec9" d="M1025.8 256.7l-2.9 .1-2.9 0-2.9 .1-2.5 .1-2.5 0-2.5 .1-2.5 0-2.6 .1-2.6 0-2.7 .1-2.6 .1-2.7 0-2.6 .1-2.7 .1-2.6 .1-2.7 .1-2.6 0-2.4 .2-4.8 .2-2.6 .2-2.7 .2-2.2 .2-4.2 .4-2 .3-1.7 .3-1.6 .3-2.3 .6-2.7 .7-4.6 .6-2.5 .2-2.5 .1-2.6 .2-2.3 .1-2.4 .1-2.4 0-4.8 .2-5 .2-2.4 .1-2.8 .1-2.9 .2-2.8 .1-2.2 .2-2.3 .2-2.2 .1-3 .3-2.9 .3-5.2 .6-2.4 .4-2.3 .3-3.4 .8-2.4 .7-2.7 .9-2.2 .4-2.1 .4-2.4 .3-4.6 .6-2.9 .3-2.8 .3-2.9 .3-3 .3-2.9 .3-3 .3-2.6 .3-2.5 .4-2.6 .3-2.1 .4-2 .4-2.1 .4-5.4 1.2-2.5 .7-4.8 1.4-2.3 .7-2.1 .7-2 .8-1.7 .8-3.6 1.6-1.9 .9-4.8 1.6-2.2 .6-2.3 .5-2.2 .6-2.7 .5-2.6 .6-2.7 .5-2.6 .6-5.2 1-2.2 .5-4.2 1-2.2 .6-2.1 .6-3 1-2.5 1.1-1.6 .8-1.5 .8-1.9 1.1-1.9 1-2.1 1.3-2 1.3-2.1 1.4-2.1 1.5-4 2.8-1.9 1.5-1.8 1.5-1.9 1.7-3.6 3.2-1.8 1.5-1.7 1.3-1.8 1.4-1.6 1-1.7 .9-1.6 .8-1.7 .7-1.6 .7-1.5 .7-1.6 .8-1.5 .8-3 1.9-2.9 1.9-2.8 2.1-2.6 2.1-2.4 2.3-4.4 4.6-2 2.5-2 2.6-2 2.7-1.8 2.6-1.4 2.5-1 2.5-.7 2.4-.4 2.1-.4 1.4 334.1 0 0-97.1z"/>
<path fill="#3884bb" d="M1025.8 267.6l-2.3 0-2.3 .1-12.4 0-2.7 .1-5.5 0-2.7 .1-2.3 0-2.3 .1-2.3 0-2.3 .1-2.4 .1-2.4 .2-2.3 .1-4.2 .4-2.1 .1-2.8 .3-2.8 .4-2.5 .3-2.6 .4-4.2 .8-1.7 .6-3.4 1-1.8 .5-5 .8-2.4 .1-2.3 .1-2.4 .2-2.8 0-2.8 .1-2.9 .1-2.9 0-2.9 .1-2.9 0-2.6 .2-2.6 .1-2.7 .1-2.2 .2-2.3 .2-2.2 .1-2.1 .3-4.2 .4-5.8 .8-2.6 .4-2.7 .5-2.1 .5-2.1 .6-1.6 .6-1.7 .6-1.8 .7-1.8 .6-2.5 .6-2.4 .6-2.4 .3-2.4 .4-2.4 .3-2.9 .3-2.8 .3-8.7 .9-3 .4-2.5 .4-2.6 .3-2.5 .4-2.1 .5-2 .5-2.1 .4-5.4 1.6-2.5 .9-2.4 .8-2.4 .9-2.3 .9-4.4 1.8-2 1-2 .9-1.9 1-1.9 .9-2 .8-1.9 .8-2 .5-2 .6-6 1.2-2.1 .4-4 .8-8 2-2 .6-2 .5-2 .7-2.1 .7-2 .9-2.1 .9-2 1-2.1 1-2 1-2 1.1-3.8 2.2-1.8 1-1.7 1.1-1.6 1.1-1.7 1.1-1.5 1.1-1.6 1.1-1.5 1.2-1.5 1.1-2.9 2.4-2.8 2.6-2.7 2.4-2.9 2.3-1.5 .9-3.2 2-1.6 .9-1.6 .8-1.5 .8-2.6 1.5-1.8 1.1-1.4 .9-1.1 .9-1.3 1.1-1.6 1.4-3.4 3.2-1.5 1.8-1.4 2.2-1.4 2.5-1.2 2.2-.8 1.5 320.4 0 0-87z"/>
<path fill="#256baf" d="M1025.8 281.6l-5.3 0-2.6-.1-5.1 0-2.8-.1-5.7 0-5 .2-2.6 0-2.1 .2-4.2 .2-6 .6-2.9 .4-3 .4-2.9 .4-3 .4-5.8 1-2.9 .6-2.8 .6-6 1.2-6.6 .9-2.5 .2-5.2 .4-8.4 .3-2.8 0-5.6 .2-2.5 .2-2.6 .2-2.6 .1-2.2 .3-2.3 .3-2.2 .2-2.1 .3-2.1 .4-2.1 .3-5.8 1-2.6 .7-2.7 .6-4.2 1.4-1.6 .7-1.7 .8-1.8 .8-1.8 .9-2.5 .7-2.4 .8-7.2 1.2-2.9 .4-2.8 .4-8.7 1.2-3 .4-2.5 .5-2.6 .5-2.5 .5-2.1 .7-2 .6-2.1 .7-5.4 2.4-2.5 1.1-2.4 1.2-2.4 1.1-2.3 1.1-4.4 1.8-4 1.6-1.9 .8-1.9 .7-2 .8-1.9 .7-6 1.8-2 .5-2 .6-2.1 .6-2 .6-2 .7-4 1.6-2.1 .9-2 .8-2 1-2 .9-4 2-1.9 1.1-1.9 1.2-1.8 1.2-1.9 1.2-3.6 2.4-1.6 1.1-1.7 1.2-1.5 1.1-1.6 1-2.8 2.2-2.6 2-2.8 1.7-2.8 1.4-2.9 1.2-2.8 1-2.7 1.3-2.8 1.5-2.8 1.8-2.4 1.5-1.7 1.1 297.9 0 0-73.9z"/>
<path fill="#154e8b" d="M1025.8 300.6l-3.6 0-2.6-.1-10.7 0-2.5 .1-1.9 .1-2 0-3.4 .2-1.7 .2-1.6 .1-2 .4-1.9 .3-2.2 .5-2.3 .5-4.8 1.4-7.5 2.1-2.5 .6-2.2 .6-2.3 .6-2.2 .5-2.1 .5-2.4 .5-2.3 .5-5.8 .8-2.4 .2-5 .4-2.8 0-2.9 .1-2.8 .1-8.7 .3-5 .4-2.5 .1-2.1 .3-2 .3-2.1 .3-2.6 .4-2.7 .5-2.4 .6-2.4 .5-4.6 1.2-3.8 1.2-1.5 .6-1.6 .7-1.8 .6-1.8 .7-2.8 .6-2.8 .7-3 .4-3 .5-3 .4-2.8 .3-2.8 .4-2.9 .3-2.8 .3-2.8 .4-5.6 .6-2.8 .4-2.9 .4-2.9 .5-2.9 .4-2.6 .7-2.5 .7-3 1.5-2.2 1.4-2.9 1.3-1.9 .7-2 .6-2.1 .6-2 .6-4.2 1.2-1.9 .6-2 .6-5.1 1.8-1.6 .6-1.5 .5-1.6 .6-3 1-2.8 .6-2.6 .4-2.8 .5-1.5 .4-1.6 .5-3.8 1.6-2.1 1-6.3 3.3-1.9 1.1-2 1-1.7 1.2-1.8 1.1-1.8 1.2-1.7 1.3-2.9 2.1-2.1 1.5 263.3 0 0-54.2z"/>
<path fill="#053061" d="M1025.8 324.4l-2.8 0-2.7 .1-5.4 0-2.6 .1-2.9 0-2.8 .1-2.8 0-2.4 .1-2.3 .1-2.4 .1-2.3 .2-2.4 .2-1.8 .2-1.8 .3-1.7 .2-1.8 .3-2.1 .4-2.1 .3-2.8 .5-2.7 .4-2.1 .4-2 .4-2.1 .4-2.1 .3-2.1 .4-2.2 .4-2 .3-2 .2-2.1 .3-2.8 .3-2.8 .2-2.8 .1-2.7 .2-2.8 .1-2.7 .1-3 .1-2.9 .2-2 .2-4.2 .4-4.4 .4-2.1 .2-2.2 .3-4.4 .4-2.1 .3-2.2 .3-6.3 .9-2 .3-2.1 .3-2.1 .4-2 .4-2.1 .3-2 .4-2 .3-5.6 1-2.6 .4-2.5 .3-2.4 .4-2.4 .3-2.3 .4-2.3 .3-4.8 .8-2.6 .4-2.5 .4-5.2 1-2.7 .5-2.6 .5-2.7 .6-2.6 .6-2.7 .8-2.7 .7-2.8 .9-2.7 .8-5.4 1.8-2.4 .7-2.5 .7-4.4 1.2-1.9 .5-2 .5-1.9 .4-1.9 .5-6.4 1.6-2.3 .5-2.6 .7-2.5 .6-2.4 .6-2.3 .6-1.6 .4-1.6 .3 236.8 0 0-29.1z"/>
<path fill="#feebe0" d="M1025.8 116.1l-5.6 .8-2.6 .3-2.6 .4-2.7 .4-2.3 .2-2.3 .3-2.3 .2-2.3 .3-2.4 .1-2.4 0-4.8 .2-2.7-.1-2.7-.2-2.8-.1-2.7-.2-2.5-.2-2.5-.3-2.4-.3-2.5-.2-2.5-.3-2.8-.3-2.9-.3-2.8-.4-2.9-.3-2.6-.3-2.7-.3-2.6-.4-2.1 .3-2.1 .2-2.2 .3-2.3 .3-2.3 .2-2.3 .3-2.4 .3-2.3 .3-2.3 .2-2.3 .3-2.4 .3-2.1 .2-2.1 .3-2.1 .2-2.8-.2-2.8-.3-2.8-.2-4.8-.4-2.5-.3-4.8-.4-2.5-.2-2.4-.2-2.4-.3-2.5-.2-2.4-.2-2.8-.3-2.8-.2-2.7-.3-2.4 .4-2.3 .4-2.4 .3-2.5 .4-5.2 .8-2.5 .4-2.6 .4-2.5 .4-5.2 .8-2.3 .4-2.4 .3-2.3 .4-2-.3-1.9-.2-2.9-.3-2.8-.3-2.1-.2-2.1-.3-2-.2-5.4-.6-2.3-.2-2.3-.3-2.2-.2-2.1-.2-1.9-.2-1.8-.2-2.6-.3-1 .3-1.5 .4-3.2 1.2-1.7 .9-1.8 1-1.7 1-1.2 .7-1.4 .3-2.1 .4-2.3 .5-2.2 .4-2.3 .3-2.4 .2-2.2 .3-1.5 .1 0 3.2-1.7 .1-1.8 .1-2.5 .1-2.5 .2-2.7 .1-2.8 .1-2.4 .1-7.1 0-2.3-.1-2.4 0-4-.2-2.8-.1-1.1 .2-3.4 .8-1.1 .2 .6 1.1 1 1.5 .9 1.5 .7 1.1-1.2 .8-1.6 1.2-1.7 1.2-1.1 .8 .8 .7 1.2 .9 2.8 2.4 1.5 1 1.6 .9 1.5 .8 1 .5 1 2.1 .7 1.6 .7 1.5 .7 2.4 .7 2.5 1 3.6-.6 1.5-1 2.2-.9 2.1-.7 1.4 2.3 .5 1.6 .4 1.6 .3 1.7 .5 1.8 .4 1.5 .4 1.6 .4 2.6 .9 2.5 1 2.2 1 1.5 .6 0 13.2 .4 .3 .4 .4 1 .4 2.2 .5 1.9 .3 2 .3 2.5 .4 2.6 .4 2.7 .3 2.8 .4 2.4 .2 2.4 .3 1.9 .1 2 .1 1.7-.1 5.2 0 1.8 .2 1.8 .1 2 .4 2.1 .4 2.1 .6 2.1 .5 4.2 1.2 1.8 .5 1.8 .4 2.8 .7 2.3 .5 2.1 .4 2.4 .4 2.3 .2 2.1 .1 2.8 .1 11.5 0 2.3-.1 2.3 0 2.2-.1 4.6 0 2.2-.1 2.3 0 2.2-.1 12.9 0 1.5 .2 2.2 .2 1.5 .3 1.6 .2 3.2 .6 3.8 .6 4.4 .4 5.4 .2 2 .1 10.5 0 2.1-.1 2-.1 2.1-.1 2-.1 4-.4 2.1-.2 2-.3 2-.2 2.9-.4 2.8-.4 2.4-.3 2.3-.2 1.6-.2 1.6-.1 2-.2 1.9 0 2.5 .1 3.4 .4 1.9 .2 1.9 .3 2.1 .2 2.1 .3 2.4 .1 2.3 .1 2.7 .1 2.7 0 2.9-.1 3 0 6.3-.3 2.2-.2 2.2-.1 2.1-.2 2.6-.2 5-.6 2.9-.3 5.6-.8 2.5-.3 2.6-.4 2.6-.3 2.6-.4 2.7-.4 0-75.9z"/>
<path fill="#e5f1f7" d="M664.3 115.6l2.8 .6 2.9 .6-2.9 .6-2.8 .6 0-1.2z"/>
<path fill="#e5f1f7" d="M664.3 125.3l3.8 .8-1.9 .6-1.9 .7 0-1.1z"/>
<path fill="#e5f1f7" d="M664.3 134.1l1.9 .6 1.9 .5-1.9 .7-1.9 .6 0-1.2z"/>
<path fill="#fcd5bf" d="M885 135.2l2.3 0 1.7-.1 1.6 0 1.7-.1 1.7 0 2.3-.1 .2 .2 .5 .2 .2 .3-.1 .4-2.1 1.4-1.4 .7-1.4 .5-1.2 .3-1.4 .1-1.2 0-1-.1-.7-.2-.5-.4-.4-.5-.6-1-.1-.6 0-.6z"/>
<path fill="#fcd5bf" d="M949.3 138.1l1.3-.4 1.7-.7 2.1-.8 2.1-.5 2.4-.3 2.6-.2 2.6-.1 2.1 .1 1.6 .5 1.4 .7 1.1 .8 .7 .5-.5 .4-.6 .6-.9 .6-1.2 .4-1.7 .3-2.1 .2-2.2 .1-2-.1-1.8-.2-1.7-.3-1.6-.4-1.4-.4-2.4-.4-.9-.2z"/>
</g>
<rect x="95.6" y="65.6" width="362.6" height="362.6" fill="none" stroke="#000" stroke-width="2.5"/>
<path d="M146.9 65.6v-10.5M146.9 428.2v10.5M198.8 65.6v-10.5M198.8 428.2v10.5M250.6 65.6v-10.5M250.6 428.2v10.5M302.5 65.6v-10.5M302.5 428.2v10.5M354.3 65.6v-10.5M354.3 428.2v10.5M406.2 65.6v-10.5M406.2 428.2v10.5M458.1 65.6v-10.5M458.1 428.2v10.5M95.6 65.6h-10.5M458.2 65.6h10.5M95.6 254.5h-10.5M458.2 254.5h10.5M95.6 328.4h-10.5M458.2 328.4h10.5M95.6 349.3h-10.5M458.2 349.3h10.5M95.6 370.4h-10.5M458.2 370.4h10.5M95.6 391.4h-10.5M458.2 391.4h10.5M95.6 412.4h-10.5M458.2 412.4h10.5" stroke="#000" stroke-width="2.3" fill="none"/>
<path d="M105.4 65.6v-5.6M105.4 428.2v5.6M115.8 65.6v-5.6M115.8 428.2v5.6M126.2 65.6v-5.6M126.2 428.2v5.6M136.5 65.6v-5.6M136.5 428.2v5.6M157.3 65.6v-5.6M157.3 428.2v5.6M167.7 65.6v-5.6M167.7 428.2v5.6M178 65.6v-5.6M178 428.2v5.6M188.4 65.6v-5.6M188.4 428.2v5.6M209.1 65.6v-5.6M209.1 428.2v5.6M219.5 65.6v-5.6M219.5 428.2v5.6M229.9 65.6v-5.6M229.9 428.2v5.6M240.3 65.6v-5.6M240.3 428.2v5.6M261 65.6v-5.6M261 428.2v5.6M271.4 65.6v-5.6M271.4 428.2v5.6M281.7 65.6v-5.6M281.7 428.2v5.6M292.1 65.6v-5.6M292.1 428.2v5.6M312.9 65.6v-5.6M312.9 428.2v5.6M323.2 65.6v-5.6M323.2 428.2v5.6M333.6 65.6v-5.6M333.6 428.2v5.6M344 65.6v-5.6M344 428.2v5.6M364.7 65.6v-5.6M364.7 428.2v5.6M375.1 65.6v-5.6M375.1 428.2v5.6M385.5 65.6v-5.6M385.5 428.2v5.6M395.8 65.6v-5.6M395.8 428.2v5.6M416.6 65.6v-5.6M416.6 428.2v5.6M427 65.6v-5.6M427 428.2v5.6M437.3 65.6v-5.6M437.3 428.2v5.6M447.7 65.6v-5.6M447.7 428.2v5.6M95.6 160.1h-5.6M458.2 160.1h5.6M95.6 191.7h-5.6M458.2 191.7h5.6M95.6 213.1h-5.6M458.2 213.1h5.6M95.6 234.1h-5.6M458.2 234.1h5.6M95.6 276.1h-5.6M458.2 276.1h5.6M95.6 296.8h-5.6M458.2 296.8h5.6M95.6 311.3h-5.6M458.2 311.3h5.6M95.6 319.7h-5.6M458.2 319.7h5.6M95.6 332.6h-5.6M458.2 332.6h5.6M95.6 336.8h-5.6M458.2 336.8h5.6M95.6 340.9h-5.6M458.2 340.9h5.6M95.6 345.1h-5.6M458.2 345.1h5.6M95.6 353.5h-5.6M458.2 353.5h5.6M95.6 357.7h-5.6M458.2 357.7h5.6M95.6 362h-5.6M458.2 362h5.6M95.6 366.2h-5.6M458.2 366.2h5.6M95.6 374.6h-5.6M458.2 374.6h5.6M95.6 378.8h-5.6M458.2 378.8h5.6M95.6 383h-5.6M458.2 383h5.6M95.6 387.2h-5.6M458.2 387.2h5.6M95.6 395.6h-5.6M458.2 395.6h5.6M95.6 399.8h-5.6M458.2 399.8h5.6M95.6 404h-5.6M458.2 404h5.6M95.6 408.2h-5.6M458.2 408.2h5.6M95.6 416.5h-5.6M458.2 416.5h5.6M95.6 420.6h-5.6M458.2 420.6h5.6M95.6 424.7h-5.6M458.2 424.7h5.6" stroke="#000" stroke-width="1.3" fill="none"/>
<g font-size="16" text-anchor="middle">
<text x="146.9" y="461.9">100</text>
<text x="198.8" y="461.9">200</text>
<text x="250.6" y="461.9">300</text>
<text x="302.5" y="461.9">400</text>
<text x="354.3" y="461.9">500</text>
<text x="406.2" y="461.9">600</text>
<text x="458.1" y="461.9">700</text>
</g><g font-size="16" text-anchor="end">
<text x="74" y="71.3">0</text>
<text x="74" y="260.2">1000</text>
<text x="74" y="334.1">2000</text>
<text x="74" y="355.1">3000</text>
<text x="74" y="376.1">4000</text>
<text x="74" y="397.1">5000</text>
<text x="74" y="418.1">6000</text>
</g>
<text x="276.9" y="20.8" font-size="20.75" text-anchor="middle">NOI20C_sr10m60d52</text>
<text x="277.2" y="491.9" font-size="20.9" text-anchor="middle">Years</text>
<text x="94.7" y="50.2" font-size="16.5" letter-spacing="0.35">Temp</text>
<text x="276.3" y="50.2" font-size="16.5" text-anchor="middle">non-lin y</text>
<text x="458.5" y="50.2" font-size="16.5" text-anchor="end" letter-spacing="0.3">degC</text>
<text transform="translate(21 247.4) rotate(-90)" font-size="20.9" text-anchor="middle">Depth (m)</text>
<text x="483.9" y="92.8" font-size="15" xml:space="preserve">MIN= -2.04</text>
<text x="483.9" y="108.7" font-size="15">MAX=</text>
<text x="560" y="108.7" font-size="15" text-anchor="end" letter-spacing="-0.6">1.41</text>
<rect x="494.5" y="132.60" width="25.1" height="15.41" fill="#67001f" stroke="#000" stroke-width="1.2"/>
<rect x="494.5" y="148.01" width="25.1" height="15.41" fill="#910d26" stroke="#000" stroke-width="1.2"/>
<rect x="494.5" y="163.42" width="25.1" height="15.41" fill="#b6202f" stroke="#000" stroke-width="1.2"/>
<rect x="494.5" y="178.83" width="25.1" height="15.41" fill="#ca4842" stroke="#000" stroke-width="1.2"/>
<rect x="494.5" y="194.24" width="25.1" height="15.41" fill="#dd6f59" stroke="#000" stroke-width="1.2"/>
<rect x="494.5" y="209.65" width="25.1" height="15.41" fill="#ed9676" stroke="#000" stroke-width="1.2"/>
<rect x="494.5" y="225.06" width="25.1" height="15.41" fill="#f7b799" stroke="#000" stroke-width="1.2"/>
<rect x="494.5" y="240.47" width="25.1" height="15.41" fill="#fcd5bf" stroke="#000" stroke-width="1.2"/>
<rect x="494.5" y="255.88" width="25.1" height="15.41" fill="#feebe0" stroke="#000" stroke-width="1.2"/>
<rect x="494.5" y="271.29" width="25.1" height="15.41" fill="#ffffff" stroke="#000" stroke-width="1.2"/>
<rect x="494.5" y="286.70" width="25.1" height="15.41" fill="#e5f1f7" stroke="#000" stroke-width="1.2"/>
<rect x="494.5" y="302.11" width="25.1" height="15.41" fill="#cae1ee" stroke="#000" stroke-width="1.2"/>
<rect x="494.5" y="317.52" width="25.1" height="15.41" fill="#a7d0e4" stroke="#000" stroke-width="1.2"/>
<rect x="494.5" y="332.93" width="25.1" height="15.41" fill="#80bad8" stroke="#000" stroke-width="1.2"/>
<rect x="494.5" y="348.34" width="25.1" height="15.41" fill="#559ec9" stroke="#000" stroke-width="1.2"/>
<rect x="494.5" y="363.75" width="25.1" height="15.41" fill="#3884bb" stroke="#000" stroke-width="1.2"/>
<rect x="494.5" y="379.16" width="25.1" height="15.41" fill="#256baf" stroke="#000" stroke-width="1.2"/>
<rect x="494.5" y="394.57" width="25.1" height="15.41" fill="#154e8b" stroke="#000" stroke-width="1.2"/>
<rect x="494.5" y="409.98" width="25.1" height="15.41" fill="#053061" stroke="#000" stroke-width="1.2"/>
<g font-size="14.3" text-anchor="middle">
<text x="536.8" y="153.1">1.7</text>
<text x="536.8" y="168.5">1.5</text>
<text x="536.8" y="183.9">1.3</text>
<text x="536.8" y="199.3">1.1</text>
<text x="536.8" y="214.7">0.9</text>
<text x="536.8" y="230.2">0.7</text>
<text x="536.8" y="245.6">0.5</text>
<text x="536.8" y="261">0.3</text>
<text x="536.8" y="276.4">0.1</text>
<text x="536.8" y="291.8">-0.1</text>
<text x="536.8" y="307.2">-0.3</text>
<text x="536.8" y="322.6">-0.5</text>
<text x="536.8" y="338">-0.7</text>
<text x="536.8" y="353.4">-0.9</text>
<text x="536.8" y="368.9">-1.1</text>
<text x="536.8" y="384.3">-1.3</text>
<text x="536.8" y="399.7">-1.5</text>
<text x="536.8" y="415.1">-1.7</text>
</g>
<rect x="663.2" y="65.6" width="362.6" height="362.6" fill="none" stroke="#000" stroke-width="2.5"/>
<path d="M714.5 65.6v-10.5M714.5 428.2v10.5M766.4 65.6v-10.5M766.4 428.2v10.5M818.2 65.6v-10.5M818.2 428.2v10.5M870.1 65.6v-10.5M870.1 428.2v10.5M922 65.6v-10.5M922 428.2v10.5M973.8 65.6v-10.5M973.8 428.2v10.5M1025.7 65.6v-10.5M1025.7 428.2v10.5M663.2 65.6h-10.5M1025.8 65.6h10.5M663.2 119.3h-10.5M1025.8 119.3h10.5M663.2 173h-10.5M1025.8 173h10.5M663.2 226.7h-10.5M1025.8 226.7h10.5M663.2 280.4h-10.5M1025.8 280.4h10.5M663.2 334.1h-10.5M1025.8 334.1h10.5M663.2 387.8h-10.5M1025.8 387.8h10.5" stroke="#000" stroke-width="2.3" fill="none"/>
<path d="M673 65.6v-5.6M673 428.2v5.6M683.4 65.6v-5.6M683.4 428.2v5.6M693.8 65.6v-5.6M693.8 428.2v5.6M704.1 65.6v-5.6M704.1 428.2v5.6M724.9 65.6v-5.6M724.9 428.2v5.6M735.3 65.6v-5.6M735.3 428.2v5.6M745.6 65.6v-5.6M745.6 428.2v5.6M756 65.6v-5.6M756 428.2v5.6M776.7 65.6v-5.6M776.7 428.2v5.6M787.1 65.6v-5.6M787.1 428.2v5.6M797.5 65.6v-5.6M797.5 428.2v5.6M807.9 65.6v-5.6M807.9 428.2v5.6M828.6 65.6v-5.6M828.6 428.2v5.6M839 65.6v-5.6M839 428.2v5.6M849.3 65.6v-5.6M849.3 428.2v5.6M859.7 65.6v-5.6M859.7 428.2v5.6M880.5 65.6v-5.6M880.5 428.2v5.6M890.8 65.6v-5.6M890.8 428.2v5.6M901.2 65.6v-5.6M901.2 428.2v5.6M911.6 65.6v-5.6M911.6 428.2v5.6M932.3 65.6v-5.6M932.3 428.2v5.6M942.7 65.6v-5.6M942.7 428.2v5.6M953.1 65.6v-5.6M953.1 428.2v5.6M963.4 65.6v-5.6M963.4 428.2v5.6M984.2 65.6v-5.6M984.2 428.2v5.6M994.6 65.6v-5.6M994.6 428.2v5.6M1004.9 65.6v-5.6M1004.9 428.2v5.6M1015.3 65.6v-5.6M1015.3 428.2v5.6M663.2 76.3h-5.6M1025.8 76.3h5.6M663.2 87.1h-5.6M1025.8 87.1h5.6M663.2 97.8h-5.6M1025.8 97.8h5.6M663.2 108.6h-5.6M1025.8 108.6h5.6M663.2 130h-5.6M1025.8 130h5.6M663.2 140.8h-5.6M1025.8 140.8h5.6M663.2 151.5h-5.6M1025.8 151.5h5.6M663.2 162.3h-5.6M1025.8 162.3h5.6M663.2 183.7h-5.6M1025.8 183.7h5.6M663.2 194.5h-5.6M1025.8 194.5h5.6M663.2 205.2h-5.6M1025.8 205.2h5.6M663.2 216h-5.6M1025.8 216h5.6M663.2 237.4h-5.6M1025.8 237.4h5.6M663.2 248.2h-5.6M1025.8 248.2h5.6M663.2 258.9h-5.6M1025.8 258.9h5.6M663.2 269.7h-5.6M1025.8 269.7h5.6M663.2 291.1h-5.6M1025.8 291.1h5.6M663.2 301.9h-5.6M1025.8 301.9h5.6M663.2 312.6h-5.6M1025.8 312.6h5.6M663.2 323.4h-5.6M1025.8 323.4h5.6M663.2 344.8h-5.6M1025.8 344.8h5.6M663.2 355.6h-5.6M1025.8 355.6h5.6M663.2 366.3h-5.6M1025.8 366.3h5.6M663.2 377.1h-5.6M1025.8 377.1h5.6M663.2 398.5h-5.6M1025.8 398.5h5.6M663.2 409.3h-5.6M1025.8 409.3h5.6M663.2 420h-5.6M1025.8 420h5.6" stroke="#000" stroke-width="1.3" fill="none"/>
<g font-size="16" text-anchor="middle">
<text x="714.5" y="461.9">100</text>
<text x="766.4" y="461.9">200</text>
<text x="818.2" y="461.9">300</text>
<text x="870.1" y="461.9">400</text>
<text x="922" y="461.9">500</text>
<text x="973.8" y="461.9">600</text>
<text x="1025.7" y="461.9">700</text>
</g><g font-size="16" text-anchor="end">
<text x="641.6" y="71.3">0</text>
<text x="641.6" y="125">1000</text>
<text x="641.6" y="178.8">2000</text>
<text x="641.6" y="232.4">3000</text>
<text x="641.6" y="286.1">4000</text>
<text x="641.6" y="339.9">5000</text>
<text x="641.6" y="393.5">6000</text>
</g>
<text x="844.5" y="20.8" font-size="20.75" text-anchor="middle">NOI20C_sr10m60d52</text>
<text x="844.8" y="491.9" font-size="20.9" text-anchor="middle">Years</text>
<text x="662.3" y="50.2" font-size="16.5" letter-spacing="0.35">Temp</text>
<text x="843.9" y="50.2" font-size="16.5" text-anchor="middle">linear y</text>
<text x="1026.1" y="50.2" font-size="16.5" text-anchor="end" letter-spacing="0.3">degC</text>
<text transform="translate(588.6 247.4) rotate(-90)" font-size="20.9" text-anchor="middle">Depth (m)</text>
<text x="1051.5" y="92.8" font-size="15" xml:space="preserve">MIN= -2.04</text>
<text x="1051.5" y="108.7" font-size="15">MAX=</text>
<text x="1127.6" y="108.7" font-size="15" text-anchor="end" letter-spacing="-0.6">1.41</text>
<rect x="1062.1" y="132.60" width="25.1" height="15.41" fill="#67001f" stroke="#000" stroke-width="1.2"/>
<rect x="1062.1" y="148.01" width="25.1" height="15.41" fill="#910d26" stroke="#000" stroke-width="1.2"/>
<rect x="1062.1" y="163.42" width="25.1" height="15.41" fill="#b6202f" stroke="#000" stroke-width="1.2"/>
<rect x="1062.1" y="178.83" width="25.1" height="15.41" fill="#ca4842" stroke="#000" stroke-width="1.2"/>
<rect x="1062.1" y="194.24" width="25.1" height="15.41" fill="#dd6f59" stroke="#000" stroke-width="1.2"/>
<rect x="1062.1" y="209.65" width="25.1" height="15.41" fill="#ed9676" stroke="#000" stroke-width="1.2"/>
<rect x="1062.1" y="225.06" width="25.1" height="15.41" fill="#f7b799" stroke="#000" stroke-width="1.2"/>
<rect x="1062.1" y="240.47" width="25.1" height="15.41" fill="#fcd5bf" stroke="#000" stroke-width="1.2"/>
<rect x="1062.1" y="255.88" width="25.1" height="15.41" fill="#feebe0" stroke="#000" stroke-width="1.2"/>
<rect x="1062.1" y="271.29" width="25.1" height="15.41" fill="#ffffff" stroke="#000" stroke-width="1.2"/>
<rect x="1062.1" y="286.70" width="25.1" height="15.41" fill="#e5f1f7" stroke="#000" stroke-width="1.2"/>
<rect x="1062.1" y="302.11" width="25.1" height="15.41" fill="#cae1ee" stroke="#000" stroke-width="1.2"/>
<rect x="1062.1" y="317.52" width="25.1" height="15.41" fill="#a7d0e4" stroke="#000" stroke-width="1.2"/>
<rect x="1062.1" y="332.93" width="25.1" height="15.41" fill="#80bad8" stroke="#000" stroke-width="1.2"/>
<rect x="1062.1" y="348.34" width="25.1" height="15.41" fill="#559ec9" stroke="#000" stroke-width="1.2"/>
<rect x="1062.1" y="363.75" width="25.1" height="15.41" fill="#3884bb" stroke="#000" stroke-width="1.2"/>
<rect x="1062.1" y="379.16" width="25.1" height="15.41" fill="#256baf" stroke="#000" stroke-width="1.2"/>
<rect x="1062.1" y="394.57" width="25.1" height="15.41" fill="#154e8b" stroke="#000" stroke-width="1.2"/>
<rect x="1062.1" y="409.98" width="25.1" height="15.41" fill="#053061" stroke="#000" stroke-width="1.2"/>
<g font-size="14.3" text-anchor="middle">
<text x="1104.4" y="153.1">1.7</text>
<text x="1104.4" y="168.5">1.5</text>
<text x="1104.4" y="183.9">1.3</text>
<text x="1104.4" y="199.3">1.1</text>
<text x="1104.4" y="214.7">0.9</text>
<text x="1104.4" y="230.2">0.7</text>
<text x="1104.4" y="245.6">0.5</text>
<text x="1104.4" y="261">0.3</text>
<text x="1104.4" y="276.4">0.1</text>
<text x="1104.4" y="291.8">-0.1</text>
<text x="1104.4" y="307.2">-0.3</text>
<text x="1104.4" y="322.6">-0.5</text>
<text x="1104.4" y="338">-0.7</text>
<text x="1104.4" y="353.4">-0.9</text>
<text x="1104.4" y="368.9">-1.1</text>
<text x="1104.4" y="384.3">-1.3</text>
<text x="1104.4" y="399.7">-1.5</text>
<text x="1104.4" y="415.1">-1.7</text>
</g>
</svg></body></html>
